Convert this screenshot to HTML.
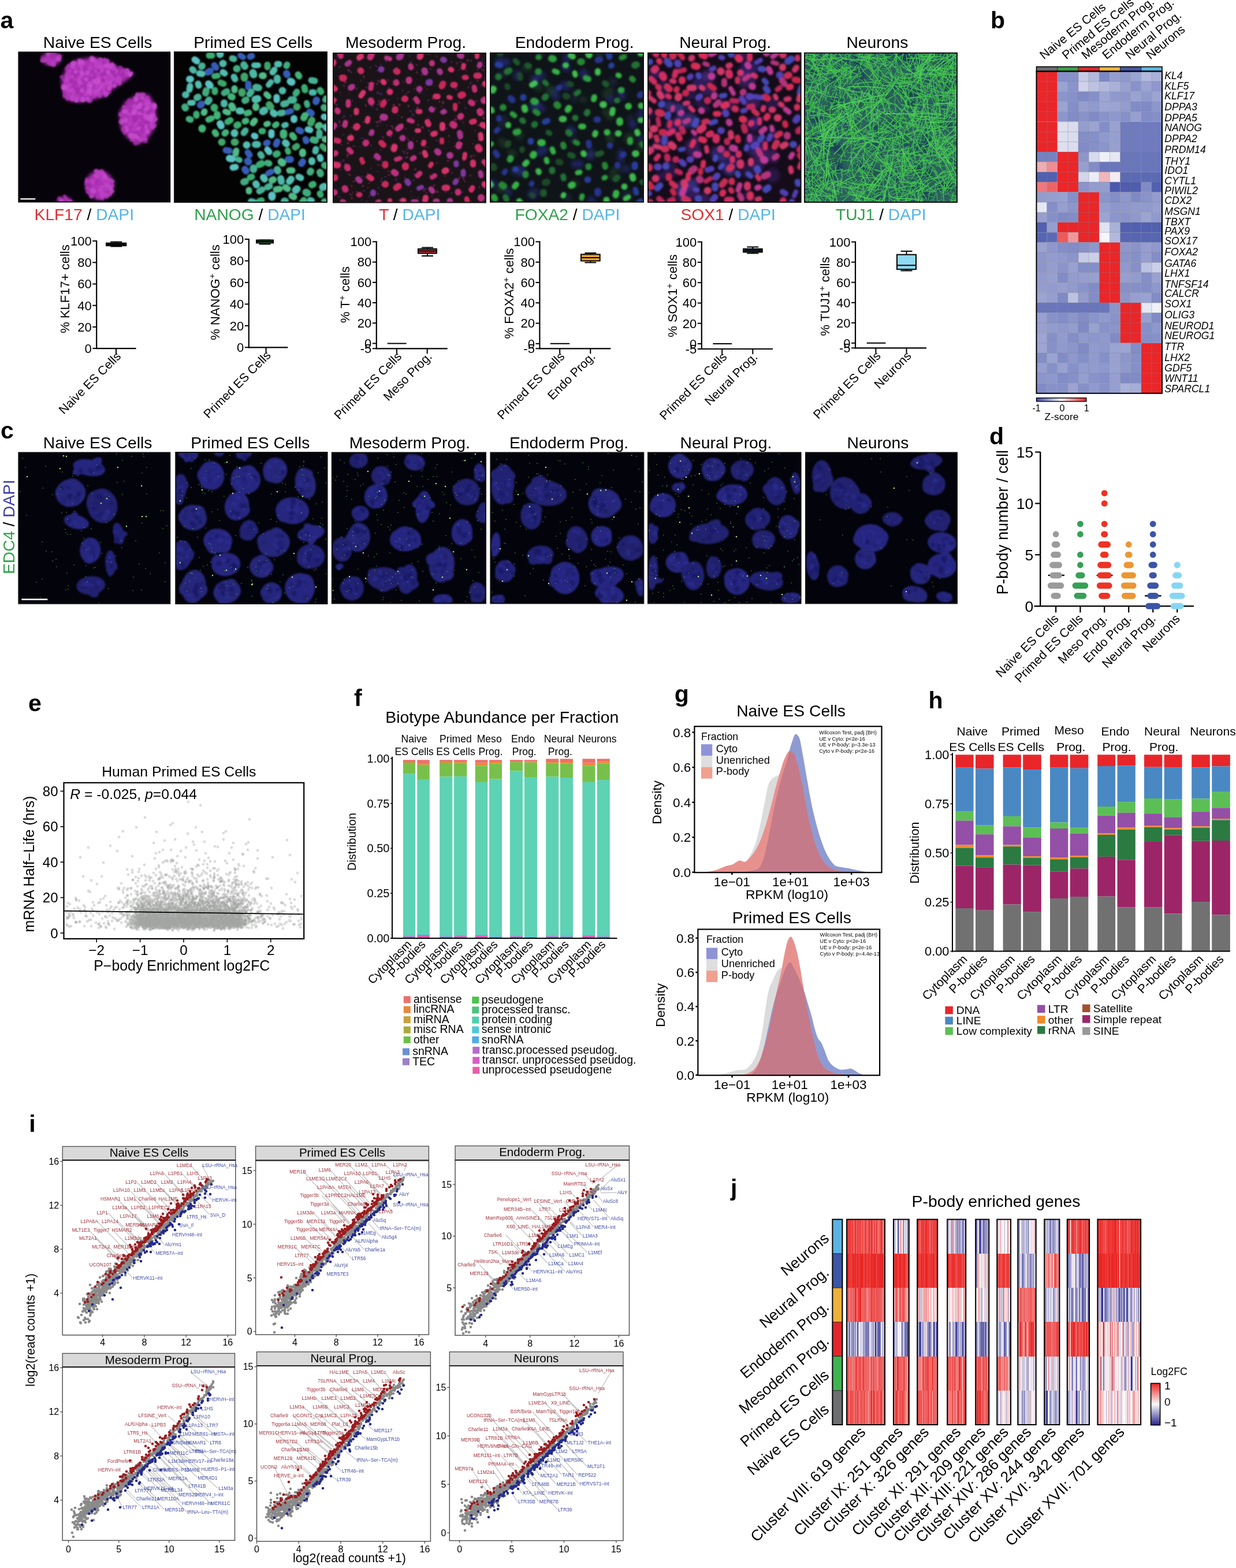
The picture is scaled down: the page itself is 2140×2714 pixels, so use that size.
<!DOCTYPE html><html><head><meta charset="utf-8"><title>Figure</title><style>html,body{margin:0;padding:0;background:#fff;width:2140px;height:2714px;overflow:hidden}svg{display:block}</style></head><body><svg width="2140" height="2714" viewBox="0 0 2140 2714" font-family="'Liberation Sans', Arial, Helvetica, sans-serif"><defs><filter id="bl1" x="-10%" y="-10%" width="120%" height="120%"><feGaussianBlur stdDeviation="1"/></filter><filter id="bl15" x="-10%" y="-10%" width="120%" height="120%"><feGaussianBlur stdDeviation="1.6"/></filter><filter id="bl2" x="-20%" y="-20%" width="140%" height="140%"><feGaussianBlur stdDeviation="3"/></filter><clipPath id="c1"><rect x="32.3" y="90.3" width="262" height="259.2"/></clipPath><clipPath id="c2"><rect x="302" y="90" width="264" height="260"/></clipPath><clipPath id="c3"><rect x="577" y="92" width="264" height="258.5"/></clipPath><clipPath id="c4"><rect x="849" y="91.7" width="265" height="258"/></clipPath><clipPath id="c5"><rect x="1122" y="91.7" width="264.6" height="258.3"/></clipPath><clipPath id="c6"><rect x="1393" y="91.7" width="264" height="258.3"/></clipPath><clipPath id="c7"><rect x="32.3" y="783.4" width="262" height="261.3"/></clipPath><clipPath id="c8"><rect x="304.2" y="783" width="262.4" height="262"/></clipPath><clipPath id="c9"><rect x="574.8" y="783.4" width="266.2" height="261"/></clipPath><clipPath id="c10"><rect x="849.4" y="783.4" width="264.9" height="261"/></clipPath><clipPath id="c11"><rect x="1122" y="783.4" width="264.6" height="261"/></clipPath><clipPath id="c12"><rect x="1395" y="783.4" width="262" height="261"/></clipPath><linearGradient id="zg"><stop offset="0" stop-color="#3b4ca6"/><stop offset="0.5" stop-color="#f4f4fa"/><stop offset="1" stop-color="#ea2628"/></linearGradient><clipPath id="ce"><rect x="110.5" y="1354.8" width="415.7" height="270.1"/></clipPath><linearGradient id="jg" x1="0" y1="0" x2="0" y2="1"><stop offset="0" stop-color="#ea2624"/><stop offset="0.5" stop-color="#faf8fa"/><stop offset="1" stop-color="#26268c"/></linearGradient></defs><rect width="2140" height="2714" fill="#fff"/><text x="0.5" y="48.5" font-size="41" font-weight="bold">a</text>
<text x="169.1" y="82.5" font-size="28.3" text-anchor="middle">Naive ES Cells</text>
<text x="438.2" y="82.5" font-size="28.3" text-anchor="middle">Primed ES Cells</text>
<text x="702.6" y="82.5" font-size="28.3" text-anchor="middle">Mesoderm Prog.</text>
<text x="994.7" y="82.5" font-size="28.3" text-anchor="middle">Endoderm Prog.</text>
<text x="1255.6" y="82.5" font-size="28.3" text-anchor="middle">Neural Prog.</text>
<text x="1518.9" y="82.5" font-size="28.3" text-anchor="middle">Neurons</text>
<rect x="32.3" y="90.3" width="262" height="259.2" fill="#07030a" />
<g clip-path="url(#c1)">
<g filter="url(#bl2)">
<path d="M106.3 139.3 115.3 116.3 131.3 104.3 158.3 99.3 186.3 104.3 201.3 115.3 217.3 121.3 229.3 125.3 223.3 136.3 209.3 145.3 194.3 155.3 178.3 167.3 155.3 174.3 132.3 176.3 115.3 173.3 109.3 159.3Z" fill="#aa2eb2" />
<path d="M206.3 195.3 217.3 176.3 240.3 162.3 258.3 164.3 269.3 185.3 271.3 207.3 263.3 229.3 251.3 245.3 235.3 249.3 220.3 238.3 209.3 221.3Z" fill="#aa2eb2" />
<path d="M196.3 320.3 194.5 329.9 189.3 338 181.5 343.4 172.3 345.3 163.1 343.4 155.3 338 150.1 329.9 148.3 320.3 150.1 310.7 155.3 302.6 163.1 297.2 172.3 295.3 181.5 297.2 189.3 302.6 194.5 310.7Z" fill="#aa2eb2" />
<path d="M72.3 96.3 82.3 91.3 98.3 90.3 104.3 98.3 102.3 110.3 90.3 113.3 77.3 111.3Z" fill="#aa2eb2" />
<path d="M97.3 352.3 102.3 343.3 112.3 340.3 122.3 344.3 125.3 352.3Z" fill="#aa2eb2" />
</g>
<g filter="url(#bl1)">
<path d="M85 109l3 2m22 42l3 2m0-17l0.1 0m3.9 29l0 1m3-52l-1-2m1 10l-2 1m3 18l2 1m7 22l1 3m0-31l-1 1m5 10l-1 0m3-1l0.1 0m5.9-41l3 2m-2 37l1 3m1-38l-1 0m4 17l0.1 0m0.9 31l2 1m-1 165l0 1m3-177l-1 4m9 3l3 1m-3 167l1 0m2-161l-2 3m10-4l0 4m1-63l0 2m0 203l1 0m3 6l3 2m-1-185l0 1m3 16l-1 2m5 168l-1 3m4-175l1 1m0 189l-1 0m23-215l-3 1m15 91l1 2m1-88l1 0m3 96l3 2m0 17l0.1 0m14.9-9l0 1m2-41l-1-1m3 6l-1 0m2-23l1 4m-1 21l2 1m6-10l-1-1m4-4l0 4m0 1l-4 1m7 25l-1 1" stroke="#b83cc0" stroke-width="7" stroke-linecap="round" fill="none" opacity="0.75"/>
<path d="M107 133l3 3m20-16l0-1m3 34l1 1m0-13l-1 1m16-21l-1-1m9 8l-1 1m1 187l2 2m1-160l0 1m2 1l-4 1m4 146l-1 4m4-194l3 2m2-13l0 2m2 49l-2 0m4-53l0.1 0m1.9 20l-2 1m5 181l-2 0m5-168l0 1m4 9l0 3m28-23l-1 1m4 100l-1 1m4-107l-4 1m11 73l0-1m3 12l-1 1m6 22l1 0m9-42l3 1m9-8l-2 1m9 28l-2 1" stroke="#a02ca8" stroke-width="7" stroke-linecap="round" fill="none" opacity="0.75"/>
<path d="M84 98l0 1m4-9l-1 1m1 14l0.1 0m-0.1 0l0.1 0m4.9-1l0.1 0m9.9 240l1 2m8-189l0 2m0 6l0 1m9-7l0-1m11-40l1 1m1 53l3 1m14 138l0 3m3 18l0.1 0m9.9-206l0.1 0m3.9 18l0.1 0m4.9-11l0 1m7 168l-1 1m7-161l0 1m2 169l0-1m4-173l0.1 0m14.9-3l-2 1m15 79l-2 2m3-16l2 0m-1-72l2 1m4 107l0.1 0m9.9 0l1 1m0-29l2 0m-1-37l-2 0m12 68l0.1 0m4.9-69l0-1m11 17l-1 0m1 21l0.1 0" stroke="#b035b8" stroke-width="8" stroke-linecap="round" fill="none" opacity="0.75"/>
<path d="M91 107l0.1 0m19.9 45l2 0m2-5l-1 0m2-16l0 1m10 38l0 2m32-59l1 2m0 217l0.1 0m0.9-218l-1 0m6 191l0 1m5-177l0-1m3-24l2 1m-1 219l-2 1m3-174l1 1m0 155l1 1m9 5l-1 0m24-115l0.1 0m5.9-12l0.1 0m29.9-7l-2 1m8-5l0.1 0m0.9 3l0 2m2 7l0 1m0 36l0 1m2-49l-1 0m4 9l0 1m5 11l1 1" stroke="#b83cc0" stroke-width="8" stroke-linecap="round" fill="none" opacity="0.75"/>
<path d="M77 104l-4 1m39 47l4 0m4-20l4 1m2-19l1 2m5 8l-1 0m3-8l2 3m1 20l1 3m1-25l1 2m2 37l0 1m9 15l0-1m4-54l2 1m0 213l0 1m1-183l-2 0m3 190l-1 1m3-27l-2 0m9-162l0.1 0m2.9-37l1 2m-1 33l2 2m-2 0l0 1m3-39l0 1m1 34l-1 0m3-24l0 1m1 176l2 2m-1 21l3 2m0-212l0 1m14-1l0 2m5 7l-1 1m1 11l1 1m17 86l0 4m9-47l2 3m-2 52l0.1 0m11.9 4l-2 2m4-44l1 0m0-15l1 3m0 58l-1 0m3-71l1 2" stroke="#c850d0" stroke-width="7" stroke-linecap="round" fill="none" opacity="0.75"/>
<path d="M83 106l-1-1m5-1l3 2m3-10l-3 3m9 3l-3 0m20 16l3 0m-2 9l2 0m1 224l-1 0m2-220l1 0m-1 7l0 4m0 22l1 1m0 2l0 3m3-3l3 3m0 0l-3 2m8-59l0 2m12 22l-3 0m8-27l3 2m-2 24l1 3m3 195l2 2m4-172l2 2m4-50l0.1 0m0.9-6l1 0m2 232l-1 0m3-7l-2-1m4-34l-1 2m1 40l0.1 0m3.9-213l0 1m1 195l1 2m4 2l0.1 0m9.9-8l-1 0m4-206l0 2m28 82l-1 0m4-21l1 1m6 31l1 3m7 23l0 2m12-59l0.1 0" stroke="#b035b8" stroke-width="7" stroke-linecap="round" fill="none" opacity="0.75"/>
<path d="M74 101l0.1 0m17.9-8l1 1m44 26l0.1 0m2.9 7l-2 1m14 203l0.1 0m1.9-11l2 1m0-181l1 0m7-37l0 1m0 5l0-1m2 188l1 2m3-188l2 2m12 44l0.1 0m3.9 1l1 2m6-37l2 2m1-7l-1 0m24 5l-3 0m6 76l-2 2m3-25l-1-1m4 5l1 0m4 29l-2 2m3-14l-1 2m2 50l0.1 0m3.9-2l0.1 0m12.9-52l0.1 0m-0.1 48l0 2" stroke="#a02ca8" stroke-width="8" stroke-linecap="round" fill="none" opacity="0.75"/>
<path d="M107 347l-1 1m28-177l-2 4m17-38l1 1m5-12l4 3m-3 33l1 0m13-27l2 1m-2 20l1 1m15-52l0 5m5 31l-1 2m4-26l-3 0m4-6l-3 1m7 36l-1 1m33 46l-1 2m11 24l-2 2m3 6l0 2m11-13l-1 1m4-42l-3 1m7 28l2 4m3-27l3 1" stroke="#c850d0" stroke-width="6" stroke-linecap="round" fill="none" opacity="0.75"/>
<path d="M103 98l-1 1m17 58l0.1 0m35.9 15l0 2m6-33l1 1m12 184l-1 2m10-165l0 1m5 159l0.1 0m14.9-188l0 1m3 2l-1 0m59 82l0.1 0" stroke="#c044c8" stroke-width="9" stroke-linecap="round" fill="none" opacity="0.75"/>
<path d="M124 140l0.1 0m36.9 188l1 0m0-203l0.1 0m45.9-7l-1 1m27 125l1 1m7-14l0.1 0m23.9-50l1 1" stroke="#a02ca8" stroke-width="9" stroke-linecap="round" fill="none" opacity="0.75"/>
<path d="M118 134l0 1m3 214l1 1m17-244l0.1 0m20.9 208l0 1m8-207l0.1 0m1.9 39l0.1 0m5.9 155l2 0m24-164l0 1m13 66l0.1 0m37.9-26l-1 1m8 23l0 1m3-3l0.1 0" stroke="#b83cc0" stroke-width="9" stroke-linecap="round" fill="none" opacity="0.75"/>
<path d="M112 340l3 4m0-176l2 3m-1-27l3 0m13-34l-1 3m18 11l-4 1m15-10l-1 3m10 206l2 0m0-27l1 2m2 17l-2 3m8 22l-3 3m51-120l-1 2" stroke="#b035b8" stroke-width="6" stroke-linecap="round" fill="none" opacity="0.75"/>
<path d="M119 147l2 0m2 204l-1 1m11-180l-1 1m4-31l4 2m-1-11l-2 1m33 1l0 5m4-30l-1 5m2 214l2 3m1-186l2 1m1-44l2 2m3 56l-1 3m6-17l1 1m16-4l-1 1m10 45l3 1m13-8l3 4m-1 28l-1 2m15-26l2 1m7-13l1 2m5 26l-1 4m5-5l-3 0" stroke="#c044c8" stroke-width="6" stroke-linecap="round" fill="none" opacity="0.75"/>
<path d="M100 103l3 0m13 35l-1 1m10 17l-1-1m3 5l0.1 0m9.9-55l1 3m2 15l1 1m7 39l2 0m0 152l0 1m10-212l1 1m3 54l1 1m0-53l-1 1m1 15l0.1 0m1.9-11l3 2m-3 183l2 1m-1-184l-1 1m1 35l4 0m-2-7l-1 1m7 193l2 2m2-192l0.1 0m0.9 12l0 1m1 177l-2 0m4-201l-1-1m4 203l-2 2m4-210l2 1m2 182l2 1m-2 10l-1 1m3-191l3 0m0-15l-1 0m1 13l-2 4m17 69l-1 0m2-12l0-1m6-70l1 2m3 3l0.1 0m-0.1 71l-1 0m4 8l1 0m1 31l1 1m3-52l0.1 0m1.9 9l-1 1m13 21l0.1 0m6.9-35l-3 3" stroke="#c044c8" stroke-width="7" stroke-linecap="round" fill="none" opacity="0.75"/>
<path d="M144 172l0 1m41-67l0.1 0m28.9 118l0 1m12-16l0.1 0" stroke="#b035b8" stroke-width="9" stroke-linecap="round" fill="none" opacity="0.75"/>
<path d="M135 166l-2 1m20-37l3 1m1-16l-2 4m6 197l0 2m9-169l-2 3m12-1l0 3m11-17l-3 1m29-14l1 4m9 84l-3 3m7 24l-3 3m13-34l-1 2m8 7l-1 1m1 22l4 0m0-66l2 1m7 6l4 1m-4 34l2 3m0-9l3 0" stroke="#b83cc0" stroke-width="6" stroke-linecap="round" fill="none" opacity="0.75"/>
<path d="M83 92l0.1 0m9.9 19l0 1m26 7l0.1 0m5.9-9l1 2m-1 56l0 1m17-61l1 1m11 48l0 1m7-55l1 2m5 199l1 1m0-145l-3 0m11-43l0.1 0m-0.1 180l1 2m0-176l0 1m7 197l0.1 0m0.9-178l0 2m8-30l1 0m54 49l-3 0m3 30l1 2m7-19l-1 1m1 29l1 0m4 6l0.1 0m2.9-14l1 1m4 6l-2 0" stroke="#c044c8" stroke-width="8" stroke-linecap="round" fill="none" opacity="0.75"/>
<path d="M88 99l5 0m26 19l-4 2m25 53l-2 1m11-27l-5 1m6 170l-1 1m6-193l-1 3m4 40l0 2m23-45l-4 2m22 3l1 2m12 71l4 2m-1-17l4 1m5-14l-4 2m6 57l1 1m4-31l4 3m8-34l4 1m-3 16l3 2m-3 24l4 1m0-33l4 1m3 25l2 2m1-23l3 2m5 13l-1 1" stroke="#a02ca8" stroke-width="6" stroke-linecap="round" fill="none" opacity="0.75"/>
<path d="M128 109l-1 1m14-1l-2 0m13 17l0.1 0m2.9 19l-1 2m2 9l-1 2m6 171l2 2m2-191l0 2m5-2l1 1m11 166l0.1 0m4.9-193l0.1 0m-0.1 10l0 1m2 28l0.1 0m3.9 177l1 1m23-123l1 0m7-80l0 1m1 106l0-1m8 1l-2 0m3-65l0 2m3-8l0.1 0m13.9 38l0.1 0m2.9-15l-1 1m1 40l0.1 0m3.9-26l-1 3m4 1l0.1 0m5.9-23l0 2" stroke="#c850d0" stroke-width="8" stroke-linecap="round" fill="none" opacity="0.75"/>
<path d="M110 150l0 1m32-23l0.1 0m0.9 44l0.1 0m15.9-71l0 2m51 108l0.1 0m6.9-18l0.1 0m15.9 0l-1 0m8-8l0.1 0m22.9 17l0.1 0" stroke="#c850d0" stroke-width="9" stroke-linecap="round" fill="none" opacity="0.75"/>
</g>
<line x1="35.3" y1="344.3" x2="61.3" y2="344.3" stroke="#fff" stroke-width="2.2" />
</g>
<rect x="32.3" y="90.3" width="262" height="259.2" fill="none" stroke="#111" stroke-width="2" />
<rect x="302" y="90" width="264" height="260" fill="#030303" />
<g clip-path="url(#c2)">
<g filter="url(#bl1)">
<path d="M340 197l0 3m22-104l5 0m5 60l0 3m27 49l-5 3m42 95l-3 1m20 40l-4 1m6-121l-2 0m74-76l1 5m26 0l2 3m-2 176l1 2" stroke="#3cb878" stroke-width="11" stroke-linecap="round" fill="none" opacity="0.93"/>
<path d="M349 180l-2 2m17-59l-4 2m64 168l2 3m70-169l1 2m2 147l4 0m21 4l-2 3m14-89l3 2m9-23l-1 3" stroke="#3a64c4" stroke-width="12" stroke-linecap="round" fill="none" opacity="0.93"/>
<path d="M337 103l4 3m67 183l-5 1m37-55l2 1m21 23l3 4m4-34l0 5m9-66l0 5m54 51l4 1m17 47l1 3m6-73l2 1" stroke="#60d0d0" stroke-width="11" stroke-linecap="round" fill="none" opacity="0.93"/>
<path d="M371 113l3 4m17 143l6 1m32 3l3 4m-2-123l0 6m6-54l-3 1m30 149l-2 1m19-3l-2 5m39-25l4 2m8 14l1 3" stroke="#3a64c4" stroke-width="11" stroke-linecap="round" fill="none" opacity="0.93"/>
<path d="M401 183l2 4m40-3l0 2m13-55l-2 0m19 180l-2 1m53-49l0 3m29-49l-2 1m14 23l-2 0" stroke="#56c890" stroke-width="12" stroke-linecap="round" fill="none" opacity="0.93"/>
<path d="M414 192l3 0m26 126l1 2m12-13l2 3m15-115l2 2m19 50l2 2m8 61l-3 4m39-36l0 2m24-60l3 3" stroke="#58cabc" stroke-width="12" stroke-linecap="round" fill="none" opacity="0.93"/>
<path d="M343 168l-2 1m9-55l-1 1m13 58l-2 3m62-64l2 3m19 36l5 1m32 141l1 3m11 52l2 0m1-169l-4 1" stroke="#4cbca0" stroke-width="12" stroke-linecap="round" fill="none" opacity="0.93"/>
<path d="M402 101l3 1m20 124l-3 4m13-71l-3 4m19 104l2 3m1 58l-5 3m18-9l-4 2m27-129l-5 1m54-57l6 1m8 89l0 6" stroke="#4cbca0" stroke-width="11" stroke-linecap="round" fill="none" opacity="0.93"/>
<path d="M384 246l0.1 0m21.9 0l1 0m12-87l0 2m4-29l0 3m91 50l0.1 0" stroke="#46b070" stroke-width="13" stroke-linecap="round" fill="none" opacity="0.93"/>
<path d="M320 185l1 2m36-30l-1 4m69 153l-3 1m4-142l-2 1m114 122l-1 2m5-56l4 1m8 55l1 3m6-115l1 1" stroke="#44b888" stroke-width="12" stroke-linecap="round" fill="none" opacity="0.93"/>
<path d="M329 149l-1 6m15-10l1 3m1-21l5 1m36-3l3 2m86-6l-3 4m11-14l-3 0m37 195l4 2" stroke="#58cabc" stroke-width="11" stroke-linecap="round" fill="none" opacity="0.93"/>
<path d="M321 164l1 0m66 14l0 2m47 169l4 1m3-100l4 0m34-115l0 4m6 170l1 5" stroke="#52c4b4" stroke-width="12" stroke-linecap="round" fill="none" opacity="0.93"/>
<path d="M354 193l-1 2m53-42l0 3m3 105l-1 5m23 63l0 2m10-122l-3 4m46 114l-6 1m16-4l4 3m3-32l5 0m-1 44l4 2" stroke="#56c890" stroke-width="11" stroke-linecap="round" fill="none" opacity="0.93"/>
<path d="M466 181l3 4m71 23l-2 5" stroke="#46b070" stroke-width="12" stroke-linecap="round" fill="none" opacity="0.93"/>
<path d="M469 142l-4 5m30 69l-3 1" stroke="#52c4b4" stroke-width="10" stroke-linecap="round" fill="none" opacity="0.93"/>
<path d="M333 120l2 2m70 11l2 4m133 23l3 0m4 98l-1 4" stroke="#52c4b4" stroke-width="11" stroke-linecap="round" fill="none" opacity="0.93"/>
<path d="M382 143l5 2m76-33l0 4m51 137l-3 2" stroke="#46b070" stroke-width="11" stroke-linecap="round" fill="none" opacity="0.93"/>
<path d="M412 276l3 1" stroke="#4cbca0" stroke-width="10" stroke-linecap="round" fill="none" opacity="0.93"/>
<path d="M366 205l-5 2m11 22l2 3m17-3l-2 2m37-22l-2 1m7-15l-4 1m79 38l3 4m7-109l2 3" stroke="#48c080" stroke-width="11" stroke-linecap="round" fill="none" opacity="0.93"/>
<path d="M327 206l3 1m63-49l-5 3m75 121l3 1m31-171l-1 2m18 45l-2 3" stroke="#44b888" stroke-width="11" stroke-linecap="round" fill="none" opacity="0.93"/>
<path d="M334 178l-5 0m111-65l7 0m90 233l3 1" stroke="#58cabc" stroke-width="10" stroke-linecap="round" fill="none" opacity="0.93"/>
<path d="M386 110l0.1 0m51.9 16l1 3m19 62l-3 2m34-36l0.1 0" stroke="#52c4b4" stroke-width="13" stroke-linecap="round" fill="none" opacity="0.93"/>
<path d="M416 96l5 3m49 198l-6 3m40-108l-6 2" stroke="#3a64c4" stroke-width="10" stroke-linecap="round" fill="none" opacity="0.93"/>
<path d="M410 119l0.1 0m119.9 214l2 1" stroke="#44b888" stroke-width="13" stroke-linecap="round" fill="none" opacity="0.93"/>
<path d="M330 137l-2 0m33 8l3 3m17 66l2 4m14 56l5 1m107-70l0 2" stroke="#60d0d0" stroke-width="12" stroke-linecap="round" fill="none" opacity="0.93"/>
<path d="M390 193l5 2m66-32l4 4m-1 47l-3 1" stroke="#56c890" stroke-width="10" stroke-linecap="round" fill="none" opacity="0.93"/>
<path d="M412 216l-2 1m43 66l-4 2m31-19l-2 1m64 52l-2 1m22-34l2 1" stroke="#3cb878" stroke-width="12" stroke-linecap="round" fill="none" opacity="0.93"/>
<path d="M471 338l0 3m32-200l2 1" stroke="#60d0d0" stroke-width="13" stroke-linecap="round" fill="none" opacity="0.93"/>
<path d="M350 222l0 1m141 7l0 4" stroke="#48c080" stroke-width="13" stroke-linecap="round" fill="none" opacity="0.93"/>
<path d="M377 131l-6 1m127 128l1 3" stroke="#3cb878" stroke-width="10" stroke-linecap="round" fill="none" opacity="0.93"/>
<path d="M558 253l5 5" stroke="#46b070" stroke-width="10" stroke-linecap="round" fill="none" opacity="0.93"/>
<path d="M376 198l0 3m24-34l2 1m124 179l-3 4m5-151l-2 4" stroke="#48c080" stroke-width="12" stroke-linecap="round" fill="none" opacity="0.93"/>
<path d="M381 94l0.1 0m24.9 136l0 1m21 20l0.1 0m18.9-80l-4 1m72 155l-2 2m49-6l-2 1" stroke="#58cabc" stroke-width="13" stroke-linecap="round" fill="none" opacity="0.93"/>
<path d="M487 280l2 2" stroke="#56c890" stroke-width="13" stroke-linecap="round" fill="none" opacity="0.93"/>
<path d="M429 279l1 1" stroke="#3a64c4" stroke-width="13" stroke-linecap="round" fill="none" opacity="0.93"/>
<path d="M531 178l1 4m32-12l-1 3" stroke="#44b888" stroke-width="10" stroke-linecap="round" fill="none" opacity="0.93"/>
<path d="M371 186l0 1" stroke="#3cb878" stroke-width="13" stroke-linecap="round" fill="none" opacity="0.93"/>
<path d="M479 215l-3 2m85 131l3 1" stroke="#48c080" stroke-width="10" stroke-linecap="round" fill="none" opacity="0.93"/>
<path d="M439 291l0 2m69-120l-4 0" stroke="#4cbca0" stroke-width="13" stroke-linecap="round" fill="none" opacity="0.93"/>
</g>
</g>
<rect x="302" y="90" width="264" height="260" fill="none" stroke="#111" stroke-width="2" />
<rect x="577" y="92" width="264" height="258.5" fill="#1a1418" />
<g clip-path="url(#c3)">
<path d="M583 187l0 1m10 16l0.1 0m2.9-55l-1-1m3 136l-1 0m12-49l2 0m5-40l-1 0m3-42l-1 1m16 27l1 3m4 25l-2 2m3 106l0.1 0m0.9-84l-1 0m15-52l0.1 0m-0.1 155l1 0m1-51l-2 1m8-49l2 1m-2 81l-1 2m16-103l3 1m0 2l0 1m11 124l0 1m15-83l-1 2m2-24l-1-1m12 63l0-1m4-59l0 1m34 37l0.1 0m25.9 52l0.1 0m7.9-121l0 2m5 26l0 1m1 65l-1 2m6-199l-1 1m15 193l-1 0m11-203l0-1m4 117l-2 0m4-85l-1 0m4-40l0.1 0" stroke="#6a2040" stroke-width="3" stroke-linecap="round" fill="none" opacity="0.70"/>
<path d="M604 302l2 1m1-71l1 1m5 81l-1 0m17-103l0.1 0m0.9-79l0 2m23 11l0 1m8 39l0-1m5-12l0.1 0m7.9 131l-1 0m9-122l-1 1m16 34l0-1m1 47l0.1 0m2.9 46l0.1 0m20.9-183l0 1m5 34l-1 1m1 104l0 1m7 64l0.1 0m2.9-3l0.1 0m9.9-180l-1 0m6 174l-1 1m3-134l0-1m7-11l0.1 0m29.9-67l0 1m12 199l-1 0m23-134l0.1 0m1.9-35l0.1 0m0.9 51l0.1 0m3.9 8l0.1 0m4.9-78l-1 0m4 14l-1 0" stroke="#5a2038" stroke-width="4" stroke-linecap="round" fill="none" opacity="0.70"/>
<path d="M580 237l0 2m8-106l-2-1m3-17l-1 2m3 99l-1 1m17-102l-2-1m6 139l4 0m3 78l-1 1m5-233l-1 0m2 155l0.1 0m8.9-154l-3 2m3 179l-1-2m7-135l-1-1m5 108l1 2m4 20l-1 0m5-10l0.1 0m7.9-4l0 1m1-74l-1 0m2-2l-3 1m7 3l0-1m6 43l-1 0m14-37l-2 2m18 85l-1 0m13 61l0.1 0m7.9-229l3 1m12 37l0.1 0m6.9 56l1 1m1 97l0-1m11-44l0.1 0m8.9-66l-2 1m15 23l0.1 0m9.9 36l-1 1m1 26l-2 3m15-87l-1 1m4 95l0.1 0m-0.1 20l3 3m11-46l-1 1m6 16l2 2m-1-63l-1 2m10 4l2 2m6-124l-1 0" stroke="#6a2040" stroke-width="2" stroke-linecap="round" fill="none" opacity="0.70"/>
<path d="M582 97l0 2m0 4l-2 1m10 114l-4 1m10 13l-3 2m11-72l0.1 0m1.9 37l2 3m2-29l1 3m15 129l2 0m-1 40l-1 2m27-185l4 0m-3 171l0 1m4-223l2 1m-2 89l3 1m2 36l2 0m3 68l-2-1m9-54l0.1 0m5.9-27l0.1 0m6.9-36l-2-2m4 14l-1-1m17 39l0-1m7-131l-1 1m1 87l-1 0m6-3l0-1m13-29l0 1m5 92l-1 1m16 46l1 3m-1 15l0 2m7-95l0 3m3 109l0.1 0m8.9-149l-1-1m6 91l-1 0m4-34l-1 0m19-125l-2 2m10 43l-1 0m4 104l-2-2m8 59l-3 1m24-179l-2 1m3-48l0 1m1 3l-1 1" stroke="#402060" stroke-width="2" stroke-linecap="round" fill="none" opacity="0.70"/>
<path d="M579 179l0.1 0m18.9-37l-1 0m29 132l0.1 0m71.9 13l0.1 0m58.9 45l0.1 0m9.9-155l0 1m7 115l0.1 0m13.9-86l1 0m13 69l1 1" stroke="#6a2040" stroke-width="5" stroke-linecap="round" fill="none" opacity="0.70"/>
<path d="M583 181l0 1m12 95l-1 1m2-76l0-1m11-77l1 1m24 118l0.1 0m8.9-126l0.1 0m3.9 67l-1 0m9 5l-1 0m7 23l0.1 0m0.9 102l0.1 0m2.9-116l-2 0m7-93l1 1m4 46l0 1m4 84l0.1 0m8.9 73l0 2m15-49l-1 2m8-106l-1 0m2-42l-1 2m6 79l0.1 0m0.9 0l1 2m0 112l0.1 0m13.9-182l0.1 0m4.9 198l0.1 0m7.9-102l0 1m31-33l-1 1m4-27l-1 0m1 128l0.1 0m11.9-142l1 1m10 178l-1 0m9 12l-1 1" stroke="#402060" stroke-width="4" stroke-linecap="round" fill="none" opacity="0.70"/>
<path d="M586 209l2 0m-1 131l-1 0m2-180l0.1 0m2.9 120l-1 0m14 12l1 1m5-72l-1 0m12-116l-1 0m6 134l1 1m2-142l0 2m1 140l0.1 0m-0.1 90l0 1m5 17l0 2m5-11l-1 1m11-227l2 2m2 8l-1-1m1 175l0.1 0m0.9-80l-2 1m3 107l-1 0m6-46l0.1 0m11.9-106l-1 0m7 20l0.1 0m12.9 25l0-1m3-44l0-1m2 100l-1 3m2-173l-2 0m14 6l1 1m0 83l-1 0m4-21l0 1m3 129l1 1m6-201l-1 0m5-3l2 1m12 104l0.1 0m0.9-30l-2 1m7 107l0.1 0m6.9-38l2 1m8-59l0.1 0m8.9 37l-1 1m10-116l-2 0m8 84l-1 2m8 8l0.1 0m0.9-94l1 0m4 7l1 1m4 72l-2 0m11-83l0 2m0 37l-2 2m10 108l0 1m3-134l0 1m0 70l2 1m8-78l2 1m1 14l0.1 0" stroke="#402060" stroke-width="3" stroke-linecap="round" fill="none" opacity="0.70"/>
<path d="M578 294l-1 1m23-82l-1-1m3 58l-1 2m4-150l0.1 0m0.9 214l-1 0m3 1l1 1m0-17l0 2m1 10l0.1 0m21.9-26l1 0m2-156l-1 0m2 149l0.1 0m0.9 25l0.1 0m4.9-150l2 1m-2 115l0.1 0m4.9-148l1 1m12 143l0.1 0m0.9 22l0 1m2-65l0.1 0m8.9-107l0 2m1 157l-1-1m4-193l-1 0m6 42l-1 1m7-29l-1 0m2 53l0.1 0m-0.1 105l0 1m3 2l0.1 0m2.9-40l-1 1m1 87l0 1m3-171l0 1m7 5l-1 0m6-65l0.1 0m9.9 74l0.1 0m4.9 171l0.1 0m2.9-241l0 1m12 231l-1 0m3-239l2 0m1 25l2 1m10-23l1 1m0 234l-1-1m3-163l-1 2m9 127l-1 2m5 5l-1 1m2 26l0 2m6-97l-1-2m6 65l-1 0m14-133l3 1m-2 80l2 2m1-1l0 1m3-37l-1 0m7-120l1 1m1 59l0-1m8 98l0.1 0m1.9 20l0 1m9 54l0 1m9-109l-1 1" stroke="#5a2038" stroke-width="3" stroke-linecap="round" fill="none" opacity="0.70"/>
<path d="M654 160l0.1 0m2.9 20l0.1 0m2.9-18l0 1m134-69l0.1 0" stroke="#402060" stroke-width="5" stroke-linecap="round" fill="none" opacity="0.70"/>
<path d="M589 341l-1 1m3-49l-2 1m3-43l-1-1m34-112l0 3m42 171l0.1 0m2.9-95l-1 0m5 38l1 0m5-114l-1 0m20 0l0 2m4 79l0 2m0 34l3 1m5-123l0-2m0 197l1 1m3 17l-1 0m2-109l-1 0m2-87l0 2m21-1l1 0m2 101l-2 0m9 29l-3 1m3 55l0-1m32-46l-1 0m10-93l0 1m7 131l-1 2m8-104l0 1m5-108l-2-2m22 79l0.1 0m1.9 41l-2 2m6-8l-2 3m7 112l1 0" stroke="#5a2038" stroke-width="2" stroke-linecap="round" fill="none" opacity="0.70"/>
<path d="M588 211l0 1m2-81l1 0m10 137l2 0m-1-21l1 1m0-127l1 1m5 221l0.1 0m16.9-224l-1 0m4 203l-1 0m24-111l1 1m2-72l1 1m2 68l-2 1m35-66l0.1 0m-0.1 37l1 1m4 21l0.1 0m8.9 69l-2 1m4-90l0 1m5 20l0 1m11-19l-1 1m9 33l1 1m17-50l0.1 0m26.9 107l0.1 0m18.9-100l0.1 0m41.9-3l0.1 0" stroke="#6a2040" stroke-width="4" stroke-linecap="round" fill="none" opacity="0.70"/>
<path d="M657 175l0 1m62 117l0.1 0m4.9-77l0.1 0m85.9-112l0 1m0 30l0.1 0m5.9 136l-1 0m22-67l1 1" stroke="#5a2038" stroke-width="5" stroke-linecap="round" fill="none" opacity="0.70"/>
<g filter="url(#bl1)">
<path d="M581 265l-1 1m4-75l1 2m4-99l1 3m66 253l-2 1m21-121l-1 1m12-89l0 2m129 33l3 2" stroke="#d8307e" stroke-width="10" stroke-linecap="round" fill="none" opacity="0.88"/>
<path d="M620 310l3 3m88-64l0 5m36-65l1 1m13-67l1 2m34-29l3 1m-3 133l1 6" stroke="#b8389c" stroke-width="10" stroke-linecap="round" fill="none" opacity="0.88"/>
<path d="M621 337l2 0m184-203l-3 0m4 210l1 4" stroke="#e02c68" stroke-width="9" stroke-linecap="round" fill="none" opacity="0.88"/>
<path d="M598 212l-1 5m114-103l1 3m5 156l-3 2" stroke="#d0348a" stroke-width="9" stroke-linecap="round" fill="none" opacity="0.88"/>
<path d="M660 247l4 4m1-74l-2 4" stroke="#e02a62" stroke-width="10" stroke-linecap="round" fill="none" opacity="0.88"/>
<path d="M576 151l4 3m59 152l4 3m115-142l-4 0m67 43l-4 1" stroke="#e8306e" stroke-width="10" stroke-linecap="round" fill="none" opacity="0.88"/>
<path d="M597 326l1 2m3-39l1 2m32-44l-1 1m9-74l1 3m0-82l-2 4m152 234l0-1m5-131l-1 1" stroke="#d8307e" stroke-width="11" stroke-linecap="round" fill="none" opacity="0.88"/>
<path d="M626 276l2 5m137-39l0 4m23-64l0 6" stroke="#e02a62" stroke-width="8" stroke-linecap="round" fill="none" opacity="0.88"/>
<path d="M577 108l-1 2m107 144l-1 4m46-162l-1 2" stroke="#f03878" stroke-width="11" stroke-linecap="round" fill="none" opacity="0.88"/>
<path d="M669 100l6 2" stroke="#d0348a" stroke-width="8" stroke-linecap="round" fill="none" opacity="0.88"/>
<path d="M624 122l1 1m59 66l0 2m2-68l2 1m2 198l-4 3m99-178l2 0m42-16l-4 0" stroke="#e02c68" stroke-width="11" stroke-linecap="round" fill="none" opacity="0.88"/>
<path d="M675 347l0 5m130-85l-1 6m22-182l0 7" stroke="#ec3472" stroke-width="8" stroke-linecap="round" fill="none" opacity="0.88"/>
<path d="M740 211l2 4m11 16l-3 1m69 49l0 4" stroke="#ec3472" stroke-width="10" stroke-linecap="round" fill="none" opacity="0.88"/>
<path d="M579 333l0.1 0m102.9-35l3 2m23-162l0 2m87 110l-1 3" stroke="#d0348a" stroke-width="11" stroke-linecap="round" fill="none" opacity="0.88"/>
<path d="M579 217l-2 3m117-1l-5 4m59-114l0 1" stroke="#d0348a" stroke-width="10" stroke-linecap="round" fill="none" opacity="0.88"/>
<path d="M593 349l2 1m8-174l0 6m1 77l4 4m35-117l-1 7m78 18l3 5m4 124l-4 4m98-153l1 5m16 124l4 4" stroke="#d8307e" stroke-width="9" stroke-linecap="round" fill="none" opacity="0.88"/>
<path d="M605 108l-4 3m43 117l-1 3m126-38l-2 1m65 105l1 5" stroke="#b8389c" stroke-width="9" stroke-linecap="round" fill="none" opacity="0.88"/>
<path d="M618 219l-1 1m211 35l2 3" stroke="#e8306e" stroke-width="12" stroke-linecap="round" fill="none" opacity="0.88"/>
<path d="M610 150l-3 2m45 118l3 3" stroke="#c0369a" stroke-width="10" stroke-linecap="round" fill="none" opacity="0.88"/>
<path d="M697 239l0.1 0m28.9-85l0.1 0m30.9 108l2 2m20 84l0 1" stroke="#c0369a" stroke-width="11" stroke-linecap="round" fill="none" opacity="0.88"/>
<path d="M692 274l-6 2m22-68l6 2m39 94l-5 3" stroke="#d8307e" stroke-width="8" stroke-linecap="round" fill="none" opacity="0.88"/>
<path d="M790 282l0 3m0 28l-2 3m14-19l0 5" stroke="#8a3cb0" stroke-width="9" stroke-linecap="round" fill="none" opacity="0.88"/>
<path d="M746 327l3 4m8 17l-3 0m77-237l-1 3" stroke="#c0369a" stroke-width="9" stroke-linecap="round" fill="none" opacity="0.88"/>
<path d="M660 120l0.1 0m83.9 22l-2 1" stroke="#8a3cb0" stroke-width="11" stroke-linecap="round" fill="none" opacity="0.88"/>
<path d="M580 307l0 1m87-24l0 2m100-141l-2 4" stroke="#e02a62" stroke-width="11" stroke-linecap="round" fill="none" opacity="0.88"/>
<path d="M694 96l-3 3m44 23l1 3" stroke="#b8389c" stroke-width="11" stroke-linecap="round" fill="none" opacity="0.88"/>
<path d="M646 333l0 2m59-21l2 3m60-214l2 1" stroke="#8a3cb0" stroke-width="10" stroke-linecap="round" fill="none" opacity="0.88"/>
<path d="M608 239l-2 0m19-142l-3 3m115 242l-1 5m30-131l0 6m69-6l5 2" stroke="#f03878" stroke-width="10" stroke-linecap="round" fill="none" opacity="0.88"/>
<path d="M724 193l3 0m7 53l-1 3m85 76l-2 4" stroke="#e8306e" stroke-width="9" stroke-linecap="round" fill="none" opacity="0.88"/>
<path d="M595 135l-2 0m208 29l-3 1" stroke="#e02a62" stroke-width="12" stroke-linecap="round" fill="none" opacity="0.88"/>
<path d="M629 160l-4 6m12 39l-1 5m27-69l2 2m32 204l2 0m36-83l2 5m43-149l2 1m50 112l1 7" stroke="#f03878" stroke-width="9" stroke-linecap="round" fill="none" opacity="0.88"/>
<path d="M667 319l0.1 0m33.9-148l0.1 0m0.9 116l0 2" stroke="#e02c68" stroke-width="12" stroke-linecap="round" fill="none" opacity="0.88"/>
<path d="M580 285l5 1m90-127l0.1 0m96.9 136l-2 1m69 23l3 2" stroke="#ec3472" stroke-width="11" stroke-linecap="round" fill="none" opacity="0.88"/>
<path d="M730 324l-5 2" stroke="#8a3cb0" stroke-width="8" stroke-linecap="round" fill="none" opacity="0.88"/>
<path d="M833 342l0 1m6-170l-1 1" stroke="#d0348a" stroke-width="12" stroke-linecap="round" fill="none" opacity="0.88"/>
<path d="M770 325l4 0m66-180l3 1" stroke="#e8306e" stroke-width="11" stroke-linecap="round" fill="none" opacity="0.88"/>
<path d="M663 203l3 0" stroke="#c0369a" stroke-width="12" stroke-linecap="round" fill="none" opacity="0.88"/>
<path d="M784 215l2 2m45-24l1 2" stroke="#d8307e" stroke-width="12" stroke-linecap="round" fill="none" opacity="0.88"/>
<path d="M582 243l4 1" stroke="#e02c68" stroke-width="10" stroke-linecap="round" fill="none" opacity="0.88"/>
<path d="M721 349l-6 0" stroke="#c0369a" stroke-width="8" stroke-linecap="round" fill="none" opacity="0.88"/>
<path d="M747 284l-2 3m32-119l3 1m23-56l-1 4" stroke="#e8306e" stroke-width="8" stroke-linecap="round" fill="none" opacity="0.88"/>
<path d="M617 191l0 4" stroke="#ec3472" stroke-width="9" stroke-linecap="round" fill="none" opacity="0.88"/>
<path d="M722 226l3 0" stroke="#f03878" stroke-width="8" stroke-linecap="round" fill="none" opacity="0.88"/>
<path d="M779 269l0.1 0" stroke="#b8389c" stroke-width="12" stroke-linecap="round" fill="none" opacity="0.88"/>
<path d="M579 173l-2 2" stroke="#e02c68" stroke-width="8" stroke-linecap="round" fill="none" opacity="0.88"/>
</g>
</g>
<rect x="577" y="92" width="264" height="258.5" fill="none" stroke="#111" stroke-width="2" />
<rect x="849" y="91.7" width="265" height="258" fill="#0f1418" />
<g clip-path="url(#c4)">
<g filter="url(#bl2)">
<path d="M909 118l6 1m148 175l-3 12" stroke="#1e3a2a" stroke-width="11" stroke-linecap="round" fill="none" opacity="0.60"/>
<path d="M995 159l-1 14m2 68l-5 3" stroke="#1c2a40" stroke-width="10" stroke-linecap="round" fill="none" opacity="0.60"/>
<path d="M923 136l-1 0" stroke="#1c2a40" stroke-width="12" stroke-linecap="round" fill="none" opacity="0.60"/>
<path d="M1024 264l-5 3m42-126l0 1" stroke="#1c2a40" stroke-width="15" stroke-linecap="round" fill="none" opacity="0.60"/>
<path d="M869 246l5 3m122 69l-1 1m42-227l0 2m13 100l7 7m-2 33l2 9" stroke="#1e3a2a" stroke-width="14" stroke-linecap="round" fill="none" opacity="0.60"/>
<path d="M925 334l-3 2" stroke="#262a78" stroke-width="18" stroke-linecap="round" fill="none" opacity="0.60"/>
<path d="M1054 159l-3 4m39 74l0 6" stroke="#1e3a2a" stroke-width="17" stroke-linecap="round" fill="none" opacity="0.60"/>
<path d="M959 164l4 4m122 124l1 1m30-55l-5 1" stroke="#262a78" stroke-width="12" stroke-linecap="round" fill="none" opacity="0.60"/>
<path d="M873 207l-4 9m26 79l-6 1m94 45l0 2" stroke="#1c2a40" stroke-width="14" stroke-linecap="round" fill="none" opacity="0.60"/>
<path d="M874 328l-9 0m24-62l-4-2" stroke="#1e3a2a" stroke-width="13" stroke-linecap="round" fill="none" opacity="0.60"/>
<path d="M923 180l-1 8m92-54l0-5m63 161l-2 3m17-89l-1 2" stroke="#1c2a40" stroke-width="13" stroke-linecap="round" fill="none" opacity="0.60"/>
<path d="M876 108l-1 0m66 151l-6 4m44-116l1 2m0-32l-1-2" stroke="#2a2f8a" stroke-width="15" stroke-linecap="round" fill="none" opacity="0.60"/>
<path d="M880 330l2 5" stroke="#262a78" stroke-width="10" stroke-linecap="round" fill="none" opacity="0.60"/>
<path d="M1085 338l3 0" stroke="#1c2a40" stroke-width="18" stroke-linecap="round" fill="none" opacity="0.60"/>
<path d="M936 131l-3 1" stroke="#262a78" stroke-width="17" stroke-linecap="round" fill="none" opacity="0.60"/>
<path d="M926 138l2 6" stroke="#2a2f8a" stroke-width="11" stroke-linecap="round" fill="none" opacity="0.60"/>
<path d="M876 127l-10 3m71-36l-1 1" stroke="#1c2a40" stroke-width="11" stroke-linecap="round" fill="none" opacity="0.60"/>
<path d="M865 105l-1 1m74 82l-3-1m123-15l-1 0" stroke="#262a78" stroke-width="14" stroke-linecap="round" fill="none" opacity="0.60"/>
<path d="M980 99l2 2m5 123l4 3m3 57l11 0m70-124l2 7m-2 97l0 11" stroke="#2a2f8a" stroke-width="12" stroke-linecap="round" fill="none" opacity="0.60"/>
<path d="M960 159l-1 1m51-33l0.1 0" stroke="#262a78" stroke-width="16" stroke-linecap="round" fill="none" opacity="0.60"/>
<path d="M1023 270l0-2m92-75l-6 5" stroke="#262a78" stroke-width="15" stroke-linecap="round" fill="none" opacity="0.60"/>
<path d="M854 319l-2-3m78-135l-5 1m99 168l0-4m72-131l-1 1" stroke="#2a2f8a" stroke-width="13" stroke-linecap="round" fill="none" opacity="0.60"/>
<path d="M896 128l-1 5" stroke="#262a78" stroke-width="13" stroke-linecap="round" fill="none" opacity="0.60"/>
<path d="M897 229l2 5m33-83l-1 0m178 100l3 4" stroke="#1e3a2a" stroke-width="15" stroke-linecap="round" fill="none" opacity="0.60"/>
<path d="M953 156l1 1" stroke="#1e3a2a" stroke-width="18" stroke-linecap="round" fill="none" opacity="0.60"/>
<path d="M900 296l3 1" stroke="#2a2f8a" stroke-width="17" stroke-linecap="round" fill="none" opacity="0.60"/>
<path d="M1009 172l1 1" stroke="#1e3a2a" stroke-width="12" stroke-linecap="round" fill="none" opacity="0.60"/>
</g>
<g filter="url(#bl15)">
<path d="M854 154l-1 2m247 110l1 0" stroke="#44d456" stroke-width="12" stroke-linecap="round" fill="none" opacity="0.85"/>
<path d="M913 113l3 1m71 154l5 2m49-5l-6 2m12-123l3 2m62 169l1 1" stroke="#1e6030" stroke-width="10" stroke-linecap="round" fill="none" opacity="0.85"/>
<path d="M863 133l0.1 0m238.9-21l-3 1" stroke="#23803a" stroke-width="12" stroke-linecap="round" fill="none" opacity="0.85"/>
<path d="M862 224l-3 3m16 69l-2 3m48 18l-1 2" stroke="#2a3aa0" stroke-width="9" stroke-linecap="round" fill="none" opacity="0.85"/>
<path d="M858 264l3 5m3-65l0 2m105-55l-2 1m52 95l1 5m49 33l0 2m11-20l-2 1" stroke="#2a3aa0" stroke-width="10" stroke-linecap="round" fill="none" opacity="0.85"/>
<path d="M1014 135l5 2m72 105l0 4" stroke="#34b444" stroke-width="10" stroke-linecap="round" fill="none" opacity="0.85"/>
<path d="M851 249l-2 1m38-53l4 3m117 139l-1 4m41-36l-2 1" stroke="#34b444" stroke-width="9" stroke-linecap="round" fill="none" opacity="0.85"/>
<path d="M855 341l2 3m27-70l-1 2m14-48l-4 1m182-73l1 0" stroke="#34b444" stroke-width="11" stroke-linecap="round" fill="none" opacity="0.85"/>
<path d="M869 320l3 2m-1-136l0.1 0m60.9-62l0.1 0m31.9 57l2 2m41-76l-2 0" stroke="#2a9a3a" stroke-width="12" stroke-linecap="round" fill="none" opacity="0.85"/>
<path d="M849 318l1 2m30-104l0 1m19 131l2 3m11-70l-3 3m23 12l1 2m47-185l-1 0m9-17l4 2m18 167l1 2m20-37l-1 3m31-43l-1 6m51 12l-2 0" stroke="#44d456" stroke-width="10" stroke-linecap="round" fill="none" opacity="0.85"/>
<path d="M862 112l4 1m40 55l0 1m13 75l0 1m98 66l1 0m36-218l1 5m44 187l0 4m12 60l-4 1" stroke="#2c44b0" stroke-width="11" stroke-linecap="round" fill="none" opacity="0.85"/>
<path d="M985 187l-2 3m68 39l0.1 0m15.9 105l-1 4m45-155l-1 0" stroke="#3ccc4c" stroke-width="11" stroke-linecap="round" fill="none" opacity="0.85"/>
<path d="M894 319l-3 4m115-104l4 0m19-51l-1 4" stroke="#3ccc4c" stroke-width="10" stroke-linecap="round" fill="none" opacity="0.85"/>
<path d="M882 122l-4 2m48 91l-1 1m20-49l-2 2m13 125l0 2m28-67l2 2m10-27l0.1 0m20.9-10l-1 2" stroke="#23803a" stroke-width="11" stroke-linecap="round" fill="none" opacity="0.85"/>
<path d="M927 193l4 3m1-97l1 0m42 151l1 4m71 31l1 4m46-153l2 2" stroke="#2a9a3a" stroke-width="10" stroke-linecap="round" fill="none" opacity="0.85"/>
<path d="M892 105l4 4m53 120l3 2" stroke="#1e6030" stroke-width="9" stroke-linecap="round" fill="none" opacity="0.85"/>
<path d="M884 170l3 3m148 34l-2 0m6-104l-4 1m21 148l0.1 0m53.9-89l-2 2" stroke="#2a3aa0" stroke-width="11" stroke-linecap="round" fill="none" opacity="0.85"/>
<path d="M893 293l-1 0m56-84l-5 2m116-98l-1 1" stroke="#2c44b0" stroke-width="10" stroke-linecap="round" fill="none" opacity="0.85"/>
<path d="M865 92l2 0m13 156l-1 2m88 30l3 1m9-115l3 1" stroke="#1c5028" stroke-width="11" stroke-linecap="round" fill="none" opacity="0.85"/>
<path d="M924 267l-1 2m16-22l-3 0m55 73l-2 1m84-112l0 3m15-28l0.1 0" stroke="#3ccc4c" stroke-width="12" stroke-linecap="round" fill="none" opacity="0.85"/>
<path d="M908 186l1 4m67 16l-3 0m77 140l0 1m21-116l-1 0m11 92l0.1 0m13.9-18l1 4m15-217l-2 0" stroke="#44d456" stroke-width="11" stroke-linecap="round" fill="none" opacity="0.85"/>
<path d="M851 189l1 3m94 84l1 4m9-22l2 5m2-140l5 2m39 173l-4 1m70-169l2 1" stroke="#3ccc4c" stroke-width="9" stroke-linecap="round" fill="none" opacity="0.85"/>
<path d="M875 341l2 4m27-137l2 2m69 95l1 4m93-135l-1 0" stroke="#23803a" stroke-width="10" stroke-linecap="round" fill="none" opacity="0.85"/>
<path d="M976 337l-1 2m20-213l1 4" stroke="#48da5a" stroke-width="9" stroke-linecap="round" fill="none" opacity="0.85"/>
<path d="M1069 307l-3 3" stroke="#1e6030" stroke-width="11" stroke-linecap="round" fill="none" opacity="0.85"/>
<path d="M920 337l3 2" stroke="#1c5028" stroke-width="9" stroke-linecap="round" fill="none" opacity="0.85"/>
<path d="M1088 341l-5 3" stroke="#44d456" stroke-width="9" stroke-linecap="round" fill="none" opacity="0.85"/>
<path d="M1019 92l1 3m24 86l1 0" stroke="#48da5a" stroke-width="12" stroke-linecap="round" fill="none" opacity="0.85"/>
<path d="M926 144l-5 3m114-24l0 3m68 102l1 3" stroke="#48da5a" stroke-width="10" stroke-linecap="round" fill="none" opacity="0.85"/>
<path d="M1100 328l2 6" stroke="#2c44b0" stroke-width="9" stroke-linecap="round" fill="none" opacity="0.85"/>
<path d="M1035 331l0 3" stroke="#2a3aa0" stroke-width="12" stroke-linecap="round" fill="none" opacity="0.85"/>
<path d="M910 301l0 2m109-14l0-1" stroke="#2a9a3a" stroke-width="11" stroke-linecap="round" fill="none" opacity="0.85"/>
<path d="M924 175l3 1m28-75l3 1" stroke="#34b444" stroke-width="12" stroke-linecap="round" fill="none" opacity="0.85"/>
<path d="M854 288l1 2m92 25l-3 1" stroke="#1c5028" stroke-width="12" stroke-linecap="round" fill="none" opacity="0.85"/>
<path d="M878 149l1 2m21-21l1 5m3 123l0 2m82-115l3 1" stroke="#1c5028" stroke-width="10" stroke-linecap="round" fill="none" opacity="0.85"/>
<path d="M943 142l3 3m56 14l-4 3m113 87l3 3" stroke="#23803a" stroke-width="9" stroke-linecap="round" fill="none" opacity="0.85"/>
<path d="M941 333l0 2" stroke="#1e6030" stroke-width="12" stroke-linecap="round" fill="none" opacity="0.85"/>
<path d="M996 246l4 2m81-150l-5 2" stroke="#2a9a3a" stroke-width="9" stroke-linecap="round" fill="none" opacity="0.85"/>
</g>
</g>
<rect x="849" y="91.7" width="265" height="258" fill="none" stroke="#111" stroke-width="2" />
<rect x="1122" y="91.7" width="264.6" height="258.3" fill="#150c1a" />
<g clip-path="url(#c5)">
<g filter="url(#bl2)">
<path d="M1265 280l-6 6" stroke="#3a2a88" stroke-width="27" stroke-linecap="round" fill="none" opacity="0.60"/>
<path d="M1149 238l-17 18m76-79l15 11m84 102l8 4" stroke="#302060" stroke-width="13" stroke-linecap="round" fill="none" opacity="0.60"/>
<path d="M1223 155l8 0m75 24l-7-1" stroke="#4a2878" stroke-width="21" stroke-linecap="round" fill="none" opacity="0.60"/>
<path d="M1221 132l-14 13" stroke="#3a2a88" stroke-width="18" stroke-linecap="round" fill="none" opacity="0.60"/>
<path d="M1156 250l-6 3m97-75l24 8" stroke="#4a2878" stroke-width="12" stroke-linecap="round" fill="none" opacity="0.60"/>
<path d="M1295 338l3 4" stroke="#4a2878" stroke-width="15" stroke-linecap="round" fill="none" opacity="0.60"/>
<path d="M1246 268l-5-3" stroke="#4040a0" stroke-width="21" stroke-linecap="round" fill="none" opacity="0.60"/>
<path d="M1186 184l6 1" stroke="#302060" stroke-width="14" stroke-linecap="round" fill="none" opacity="0.60"/>
<path d="M1160 290l2 7m140-55l7 2m-7 45l-7 7" stroke="#302060" stroke-width="23" stroke-linecap="round" fill="none" opacity="0.60"/>
<path d="M1307 214l-2 3" stroke="#3a2a88" stroke-width="20" stroke-linecap="round" fill="none" opacity="0.60"/>
<path d="M1177 324l6 20" stroke="#4040a0" stroke-width="18" stroke-linecap="round" fill="none" opacity="0.60"/>
<path d="M1203 240l3 2" stroke="#4a2878" stroke-width="13" stroke-linecap="round" fill="none" opacity="0.60"/>
<path d="M1120 196l3 1m26-50l-1 17" stroke="#302060" stroke-width="19" stroke-linecap="round" fill="none" opacity="0.60"/>
<path d="M1300 118l-8 4" stroke="#3a2a88" stroke-width="25" stroke-linecap="round" fill="none" opacity="0.60"/>
<path d="M1219 344l0 1m6-214l4 3" stroke="#4a2878" stroke-width="20" stroke-linecap="round" fill="none" opacity="0.60"/>
<path d="M1195 325l7 10" stroke="#4a2878" stroke-width="17" stroke-linecap="round" fill="none" opacity="0.60"/>
<path d="M1301 245l1 16" stroke="#3a2a88" stroke-width="17" stroke-linecap="round" fill="none" opacity="0.60"/>
<path d="M1314 208l-13 3" stroke="#3a2a88" stroke-width="13" stroke-linecap="round" fill="none" opacity="0.60"/>
<path d="M1200 318l-11 1m75-24l0.1 0" stroke="#4040a0" stroke-width="19" stroke-linecap="round" fill="none" opacity="0.60"/>
<path d="M1195 208l-14 1" stroke="#4040a0" stroke-width="26" stroke-linecap="round" fill="none" opacity="0.60"/>
<path d="M1338 266l1 8" stroke="#4a2878" stroke-width="16" stroke-linecap="round" fill="none" opacity="0.60"/>
<path d="M1154 303l-13 3" stroke="#302060" stroke-width="15" stroke-linecap="round" fill="none" opacity="0.60"/>
<path d="M1163 215l0 7" stroke="#3a2a88" stroke-width="21" stroke-linecap="round" fill="none" opacity="0.60"/>
<path d="M1258 264l-20 1" stroke="#302060" stroke-width="16" stroke-linecap="round" fill="none" opacity="0.60"/>
<path d="M1196 161l-2 3m146 15l-6 0" stroke="#302060" stroke-width="20" stroke-linecap="round" fill="none" opacity="0.60"/>
<path d="M1198 254l4 8" stroke="#4a2878" stroke-width="25" stroke-linecap="round" fill="none" opacity="0.60"/>
<path d="M1318 263l-1 12" stroke="#4a2878" stroke-width="27" stroke-linecap="round" fill="none" opacity="0.60"/>
<path d="M1157 183l19 5" stroke="#4040a0" stroke-width="17" stroke-linecap="round" fill="none" opacity="0.60"/>
<path d="M1284 98l0 1" stroke="#4a2878" stroke-width="19" stroke-linecap="round" fill="none" opacity="0.60"/>
<path d="M1295 138l-5 0" stroke="#4a2878" stroke-width="28" stroke-linecap="round" fill="none" opacity="0.60"/>
<path d="M1131 124l7 5" stroke="#3a2a88" stroke-width="15" stroke-linecap="round" fill="none" opacity="0.60"/>
<path d="M1339 231l0 6" stroke="#302060" stroke-width="17" stroke-linecap="round" fill="none" opacity="0.60"/>
<path d="M1188 344l-1-2m151-39l0 1" stroke="#302060" stroke-width="25" stroke-linecap="round" fill="none" opacity="0.60"/>
<path d="M1294 169l-10 2" stroke="#302060" stroke-width="12" stroke-linecap="round" fill="none" opacity="0.60"/>
</g>
<g filter="url(#bl15)">
<path d="M1239 210l-8 3m8 59l-1 4m17-111l-6 1m44 88l-1 4m3 43l5 4m23-166l4 4m60 8l-3 9" stroke="#4a50c8" stroke-width="9" stroke-linecap="round" fill="none" opacity="0.88"/>
<path d="M1122 233l2 1m7-11l2 0m42-56l-1 2m51 161l0.1 0m22.9-207l0 1m99 80l-1 0" stroke="#e84070" stroke-width="13" stroke-linecap="round" fill="none" opacity="0.88"/>
<path d="M1181 138l0 2m21-26l5 1m8-20l5 2m38 84l-5 2m32 23l3 1m11 130l0 4" stroke="#f03060" stroke-width="12" stroke-linecap="round" fill="none" opacity="0.88"/>
<path d="M1202 292l-5 4m132 6l-6 3m40-71l0 2" stroke="#c83888" stroke-width="12" stroke-linecap="round" fill="none" opacity="0.88"/>
<path d="M1281 320l-3 9m20-93l0 6m46-149l-6 5m22 91l6 5m6 73l-3 5" stroke="#d040a0" stroke-width="9" stroke-linecap="round" fill="none" opacity="0.88"/>
<path d="M1163 140l4 1m137-11l4 2m7 212l-4 1m11-159l-1 4m30-10l3 2m12-11l-5 1m8 119l1 6" stroke="#e83a70" stroke-width="9" stroke-linecap="round" fill="none" opacity="0.88"/>
<path d="M1124 319l3 4m19-94l3 0m38-68l0.1 0m70.9 106l0.1 0m65.9-99l5 2" stroke="#e02850" stroke-width="12" stroke-linecap="round" fill="none" opacity="0.88"/>
<path d="M1155 271l1 4m9 71l-5 2m99-104l0 2m29-27l2 7m95-2l-3 3m7 27l-5 5" stroke="#d02860" stroke-width="11" stroke-linecap="round" fill="none" opacity="0.88"/>
<path d="M1192 302l-1 8m10-65l-3 7m20 29l-1 6m51-13l0 4" stroke="#f03060" stroke-width="9" stroke-linecap="round" fill="none" opacity="0.88"/>
<path d="M1211 310l1 1m36-53l0.1 0" stroke="#c83888" stroke-width="13" stroke-linecap="round" fill="none" opacity="0.88"/>
<path d="M1123 192l0.1 0m2.9 68l-3 2m12 47l0.1 0m81.9-88l-5 4m70 57l0 4" stroke="#e83a70" stroke-width="13" stroke-linecap="round" fill="none" opacity="0.88"/>
<path d="M1146 180l-1 1m8 106l0 1m2-182l4 5m107-18l0 1m45 198l1 3m18 30l-4 3m44-226l-6 4m9 144l1 0" stroke="#4a50c8" stroke-width="12" stroke-linecap="round" fill="none" opacity="0.88"/>
<path d="M1200 228l3 3m62-78l5 9m66 58l1 5" stroke="#d040a0" stroke-width="8" stroke-linecap="round" fill="none" opacity="0.88"/>
<path d="M1196 276l-2 0m18-109l-3 2m29 172l-4 5m8-42l-3 3m71-57l-5 3" stroke="#5848c8" stroke-width="11" stroke-linecap="round" fill="none" opacity="0.88"/>
<path d="M1184 328l-3 7m24-68l5 1m4-77l1 1m22-27l-1 2m26 44l1 2m31-101l2 3" stroke="#d040a0" stroke-width="11" stroke-linecap="round" fill="none" opacity="0.88"/>
<path d="M1278 100l2 2" stroke="#f03060" stroke-width="13" stroke-linecap="round" fill="none" opacity="0.88"/>
<path d="M1192 208l-6 3m110-79l-7 5" stroke="#c83888" stroke-width="9" stroke-linecap="round" fill="none" opacity="0.88"/>
<path d="M1150 94l0 1m24 116l-1 2m41 28l5 2m33 90l-1 2m78-134l-2 3m42-54l-3 1m14 34l0 1" stroke="#f03060" stroke-width="11" stroke-linecap="round" fill="none" opacity="0.88"/>
<path d="M1122 209l-1 9m18-12l2 10m89 93l-8 5" stroke="#d02860" stroke-width="8" stroke-linecap="round" fill="none" opacity="0.88"/>
<path d="M1165 186l-1 4m56-80l5 2m113-4l7 2" stroke="#c83888" stroke-width="8" stroke-linecap="round" fill="none" opacity="0.88"/>
<path d="M1244 177l-5 5m15-42l0 6m27 192l3 6m29-84l4 8m28 2l-4 3" stroke="#c83888" stroke-width="10" stroke-linecap="round" fill="none" opacity="0.88"/>
<path d="M1160 212l-1 6m5 112l3 5m9-243l6 8m31 195l0 4m171-30l5 7" stroke="#e02850" stroke-width="9" stroke-linecap="round" fill="none" opacity="0.88"/>
<path d="M1126 107l-5 1m30 131l-1 7m59-116l1 2m67 168l1 3m42-66l-4 5" stroke="#4a50c8" stroke-width="10" stroke-linecap="round" fill="none" opacity="0.88"/>
<path d="M1139 150l2 2m22 165l6 5m3-168l-1 2m3 77l3 7m47-30l-5 1m132 20l-6 4m42 49l-2 5" stroke="#e0305c" stroke-width="10" stroke-linecap="round" fill="none" opacity="0.88"/>
<path d="M1127 136l6 6m32 85l-7 4m12-107l-2 7m130-36l0 7" stroke="#e8306a" stroke-width="10" stroke-linecap="round" fill="none" opacity="0.88"/>
<path d="M1183 258l-5 1m73 27l-4 4" stroke="#4a50c8" stroke-width="8" stroke-linecap="round" fill="none" opacity="0.88"/>
<path d="M1140 270l-4 5m20-109l3 2m166 81l0 7m56-157l0 3" stroke="#e8306a" stroke-width="9" stroke-linecap="round" fill="none" opacity="0.88"/>
<path d="M1124 289l0 2m26-33l3 0m2-108l4 4m26 190l6 3m75-58l-3 3m103-162l-3 1" stroke="#e0305c" stroke-width="12" stroke-linecap="round" fill="none" opacity="0.88"/>
<path d="M1162 250l4 4m189-138l0 1" stroke="#e84070" stroke-width="12" stroke-linecap="round" fill="none" opacity="0.88"/>
<path d="M1135 119l-2 2m14 9l2 4m91 104l0 4m22-116l1 4" stroke="#e8306a" stroke-width="13" stroke-linecap="round" fill="none" opacity="0.88"/>
<path d="M1136 237l2 6m127 85l2 3m10-194l0 4m28 51l6 5" stroke="#e0305c" stroke-width="9" stroke-linecap="round" fill="none" opacity="0.88"/>
<path d="M1287 159l-1 1m68-21l4 6" stroke="#c83888" stroke-width="11" stroke-linecap="round" fill="none" opacity="0.88"/>
<path d="M1180 195l-2 1m59-105l-6 3m83 230l-3 1m13-102l-6 5m13-109l3 6" stroke="#d040a0" stroke-width="10" stroke-linecap="round" fill="none" opacity="0.88"/>
<path d="M1170 276l0.1 0" stroke="#d02860" stroke-width="12" stroke-linecap="round" fill="none" opacity="0.88"/>
<path d="M1184 316l2 5m96-195l0.1 0m11.9 194l0 4m62-229l-1 0" stroke="#e83a70" stroke-width="12" stroke-linecap="round" fill="none" opacity="0.88"/>
<path d="M1317 104l-7 4m68 224l-3 7" stroke="#5848c8" stroke-width="8" stroke-linecap="round" fill="none" opacity="0.88"/>
<path d="M1268 256l4 1m30-108l1 1m24-58l0-1" stroke="#d040a0" stroke-width="12" stroke-linecap="round" fill="none" opacity="0.88"/>
<path d="M1214 151l3 2m167 14l-1 6" stroke="#e84070" stroke-width="9" stroke-linecap="round" fill="none" opacity="0.88"/>
<path d="M1158 305l0 3m218-170l6 1" stroke="#e02850" stroke-width="11" stroke-linecap="round" fill="none" opacity="0.88"/>
<path d="M1142 162l3 5m49-15l7 0m159 98l-5 3" stroke="#e84070" stroke-width="11" stroke-linecap="round" fill="none" opacity="0.88"/>
<path d="M1120 335l4 0m56-55l4 4m12-152l-2 2m38 158l-7 2m130 38l5 3m11 14l1 2" stroke="#5848c8" stroke-width="10" stroke-linecap="round" fill="none" opacity="0.88"/>
<path d="M1204 328l3 1m29-211l-4 2m16-21l3 1m33 70l4 7m2 14l-4 1m22-25l10 2m16 66l-3 6" stroke="#5848c8" stroke-width="9" stroke-linecap="round" fill="none" opacity="0.88"/>
<path d="M1133 89l3 5m95 137l-4 2m32 113l7 0m13-80l0 2m22-55l-1 1m56 133l-1 2" stroke="#e8306a" stroke-width="11" stroke-linecap="round" fill="none" opacity="0.88"/>
<path d="M1140 289l-2 0m35-180l1 2m75 115l-1 0m8-31l1 2m43-30l-3 0m84 37l-3 4" stroke="#5848c8" stroke-width="12" stroke-linecap="round" fill="none" opacity="0.88"/>
<path d="M1265 230l1 7m34 41l0 5" stroke="#e84070" stroke-width="10" stroke-linecap="round" fill="none" opacity="0.88"/>
<path d="M1140 195l5 1m20-101l0 2" stroke="#e0305c" stroke-width="13" stroke-linecap="round" fill="none" opacity="0.88"/>
<path d="M1143 321l-5 5m19-128l-1 4m50 7l-3 7m35 105l0 5m79-207l4 1m5 33l3 4m52 158l1 3" stroke="#4a50c8" stroke-width="11" stroke-linecap="round" fill="none" opacity="0.88"/>
<path d="M1264 113l-3 1m118 3l-3 4" stroke="#e83a70" stroke-width="10" stroke-linecap="round" fill="none" opacity="0.88"/>
<path d="M1255 314l-5 6m17-7l0 2m5-127l2 1m71 58l-4 7" stroke="#e0305c" stroke-width="11" stroke-linecap="round" fill="none" opacity="0.88"/>
<path d="M1172 296l6 3m7-178l-8 2m90 51l9 1m74-23l-4 3" stroke="#d02860" stroke-width="9" stroke-linecap="round" fill="none" opacity="0.88"/>
<path d="M1125 169l8 6m58 3l-5 1m9 7l5 5m23 64l1 7" stroke="#e83a70" stroke-width="8" stroke-linecap="round" fill="none" opacity="0.88"/>
<path d="M1198 100l-1 1m141 89l-2 0" stroke="#e83a70" stroke-width="11" stroke-linecap="round" fill="none" opacity="0.88"/>
<path d="M1225 174l0.1 0" stroke="#d02860" stroke-width="13" stroke-linecap="round" fill="none" opacity="0.88"/>
<path d="M1232 132l0.1 0m89.9 144l2 1" stroke="#d040a0" stroke-width="13" stroke-linecap="round" fill="none" opacity="0.88"/>
<path d="M1134 253l8 2m200-89l2 4" stroke="#e84070" stroke-width="8" stroke-linecap="round" fill="none" opacity="0.88"/>
<path d="M1229 148l7 5m41 85l1 5m81-30l1 4" stroke="#e02850" stroke-width="10" stroke-linecap="round" fill="none" opacity="0.88"/>
<path d="M1121 160l2 1m1 188l3 1m14-6l6 6m33-128l3 6m120-44l-6 1" stroke="#d02860" stroke-width="10" stroke-linecap="round" fill="none" opacity="0.88"/>
<path d="M1141 105l1 2m102 90l-5 0" stroke="#f03060" stroke-width="10" stroke-linecap="round" fill="none" opacity="0.88"/>
<path d="M1311 305l3 5m1-103l0 6" stroke="#e8306a" stroke-width="8" stroke-linecap="round" fill="none" opacity="0.88"/>
<path d="M1350 130l0.1 0" stroke="#5848c8" stroke-width="13" stroke-linecap="round" fill="none" opacity="0.88"/>
<path d="M1209 344l0.1 0" stroke="#4a50c8" stroke-width="13" stroke-linecap="round" fill="none" opacity="0.88"/>
</g>
</g>
<rect x="1122" y="91.7" width="264.6" height="258.3" fill="none" stroke="#111" stroke-width="2" />
<rect x="1393" y="91.7" width="264" height="258.3" fill="#2a625c" />
<g clip-path="url(#c6)">
<g filter="url(#bl2)">
<path d="M1599 304l8 0m41-191l-13 1" stroke="#245a4a" stroke-width="11" stroke-linecap="round" fill="none" opacity="0.85"/>
<path d="M1648 277l0 8" stroke="#1a4452" stroke-width="8" stroke-linecap="round" fill="none" opacity="0.85"/>
<path d="M1401 302l0.1 0m67.9-207l-4 0m51 204l-5 0m73-102l4 3m39-69l0 5" stroke="#1c4a5a" stroke-width="15" stroke-linecap="round" fill="none" opacity="0.85"/>
<path d="M1483 156l-2 1m88 92l-1 0" stroke="#1c4a5a" stroke-width="12" stroke-linecap="round" fill="none" opacity="0.85"/>
<path d="M1462 210l4 9m19-126l-15 3m23 218l-3 16m91-212l-5 14m20 167l3 9m2-11l8 5m-7-7l8 7" stroke="#1c4a5a" stroke-width="9" stroke-linecap="round" fill="none" opacity="0.85"/>
<path d="M1398 231l0.1 0m20.9 76l1 1m3-206l-8 2m214 24l-2 8m9-36l0.1 0" stroke="#245a4a" stroke-width="16" stroke-linecap="round" fill="none" opacity="0.85"/>
<path d="M1465 102l-6 0m27 26l6 3m149 194l-3 4" stroke="#163a58" stroke-width="14" stroke-linecap="round" fill="none" opacity="0.85"/>
<path d="M1423 275l1 0m18-102l2 5m8 114l-1 2m82-194l2 0m22 54l6 2m22 97l-6 10" stroke="#1a4452" stroke-width="12" stroke-linecap="round" fill="none" opacity="0.85"/>
<path d="M1424 260l0 6m88-84l-4 11m34-95l-4 4m31 62l-7 4m77 145l0 6" stroke="#1a4452" stroke-width="10" stroke-linecap="round" fill="none" opacity="0.85"/>
<path d="M1546 304l9 6m23-131l-1 2m17 144l4 9m46-196l-5 7" stroke="#1a4452" stroke-width="13" stroke-linecap="round" fill="none" opacity="0.85"/>
<path d="M1394 173l6 9" stroke="#245a4a" stroke-width="14" stroke-linecap="round" fill="none" opacity="0.85"/>
<path d="M1511 301l1 10m17-147l7 5m-4-27l-12 3m114 69l-7 1" stroke="#245a4a" stroke-width="13" stroke-linecap="round" fill="none" opacity="0.85"/>
<path d="M1421 199l-5 14m106 104l-8 9" stroke="#245a4a" stroke-width="9" stroke-linecap="round" fill="none" opacity="0.85"/>
<path d="M1434 193l-1 1m46 27l2 8m105 64l7 4m7-148l2 2" stroke="#245a4a" stroke-width="17" stroke-linecap="round" fill="none" opacity="0.85"/>
<path d="M1564 211l-7 2" stroke="#245a4a" stroke-width="10" stroke-linecap="round" fill="none" opacity="0.85"/>
<path d="M1577 159l-2 2" stroke="#1a4452" stroke-width="18" stroke-linecap="round" fill="none" opacity="0.85"/>
<path d="M1406 321l2 2m215-150l7 8m10-14l0.1 0" stroke="#163a58" stroke-width="12" stroke-linecap="round" fill="none" opacity="0.85"/>
<path d="M1458 256l-1 14m40-87l-10 3m72 53l-10 1m85-80l0 5" stroke="#245a4a" stroke-width="12" stroke-linecap="round" fill="none" opacity="0.85"/>
<path d="M1442 275l0.1 0m118.9-137l1 1m57-31l-2-1" stroke="#245a4a" stroke-width="15" stroke-linecap="round" fill="none" opacity="0.85"/>
<path d="M1452 288l1 2m126 30l0.1 0m0.9-217l4 1m56 108l-1 3" stroke="#163a58" stroke-width="15" stroke-linecap="round" fill="none" opacity="0.85"/>
<path d="M1590 164l-4 1m14 170l6 3m28-17l-3 2" stroke="#1a4452" stroke-width="15" stroke-linecap="round" fill="none" opacity="0.85"/>
<path d="M1411 119l4 3m69-24l0 4m124 33l2 12" stroke="#1c4a5a" stroke-width="13" stroke-linecap="round" fill="none" opacity="0.85"/>
<path d="M1509 153l-1 9m8 74l5 11m-5 6l9 9m11 39l-8 4" stroke="#1c4a5a" stroke-width="11" stroke-linecap="round" fill="none" opacity="0.85"/>
<path d="M1432 253l8 1m76-37l0 4m91 64l-14 8" stroke="#163a58" stroke-width="9" stroke-linecap="round" fill="none" opacity="0.85"/>
<path d="M1584 134l-12 7m26 204l-10 7" stroke="#245a4a" stroke-width="8" stroke-linecap="round" fill="none" opacity="0.85"/>
<path d="M1415 239l-4 1m245-108l0 1" stroke="#163a58" stroke-width="13" stroke-linecap="round" fill="none" opacity="0.85"/>
<path d="M1443 308l-7 5m81 27l-10 10m89-240l5 11m40 33l-6 6" stroke="#163a58" stroke-width="8" stroke-linecap="round" fill="none" opacity="0.85"/>
<path d="M1415 241l2 7m225-134l-8 2" stroke="#1a4452" stroke-width="9" stroke-linecap="round" fill="none" opacity="0.85"/>
<path d="M1450 257l0 1m157-22l0 9m35-138l-3 0" stroke="#163a58" stroke-width="16" stroke-linecap="round" fill="none" opacity="0.85"/>
<path d="M1522 256l-5 0m13 80l0 3" stroke="#1c4a5a" stroke-width="16" stroke-linecap="round" fill="none" opacity="0.85"/>
<path d="M1415 123l-6 0m38 53l7 7" stroke="#1a4452" stroke-width="16" stroke-linecap="round" fill="none" opacity="0.85"/>
<path d="M1453 123l-1 2m21 77l-1 0m125 54l7 2" stroke="#1a4452" stroke-width="17" stroke-linecap="round" fill="none" opacity="0.85"/>
<path d="M1394 145l6 1" stroke="#1c4a5a" stroke-width="10" stroke-linecap="round" fill="none" opacity="0.85"/>
<path d="M1553 209l-10 6m65 86l1 9" stroke="#1a4452" stroke-width="11" stroke-linecap="round" fill="none" opacity="0.85"/>
<path d="M1484 103l3 11m0 170l8 6" stroke="#163a58" stroke-width="11" stroke-linecap="round" fill="none" opacity="0.85"/>
<path d="M1444 137l0 1" stroke="#1a4452" stroke-width="14" stroke-linecap="round" fill="none" opacity="0.85"/>
<path d="M1545 150l-2 0" stroke="#163a58" stroke-width="10" stroke-linecap="round" fill="none" opacity="0.85"/>
<path d="M1411 203l2 1m145-107l8 2" stroke="#163a58" stroke-width="17" stroke-linecap="round" fill="none" opacity="0.85"/>
<path d="M1609 185l7 12" stroke="#1c4a5a" stroke-width="8" stroke-linecap="round" fill="none" opacity="0.85"/>
</g>
<path d="M1409 253l5-8l5-8M1546 362l3-5l5-4M1667 137l6 9l9 5M1462 193l10-6l10-5M1538 296l5-1l5 0M1537 123l6 9l2 10M1501 280l-11-10l-13-7M1597 180l14 2l14 0M1504 230l8-10l9-9M1451 131l-6 1l-5 3M1441 148l-11-9l-14-4M1636 239l-5 1l-5-1M1537 73l-8-10l-10-8M1471 293l-8 2l-8 1M1373 163l6-1l6 2M1560 308l12-7l12-8M1613 294l6 2l4 5M1444 355l-2 6l-2 7M1544 139l9 5l10 1M1397 237l-4 8l-6 7M1500 248l-12 7l-13 3M1537 311l9 8l6 11M1574 188l-6-7l-3-8M1426 282l5 4l3 5M1447 233l-1 6l-1 6M1459 204l9-12l3-14M1519 73l-11-3l-11-2M1650 204l-8 7l-9 5M1439 320l10-5l10-3M1439 241l-7-11l-6-12M1442 302l5-9l3-10M1504 344l-6 5l-5 6M1619 96l-12 6l-13 2M1654 84l1-5l3-5M1477 198l4 2l4 0M1627 135l3-10l-3-10M1594 266l-13 6l-13 5M1421 346l-6 0l-5-2M1457 240l-6 4l-6 3M1557 305l4-10l8-7M1669 261l0 6l2 5M1564 241l1-8l2-8M1623 261l1-12l-2-12M1409 245l5 6l7 3M1639 281l4 2l4 0M1396 356l6-1l5-2M1440 170l-8-12l-5-14M1659 98l-14 5l-14 5M1672 171l-5 0l-4 2M1593 167l8 0l7-3M1437 106l9-9l6-11M1398 215l-7-4l-8-4M1511 238l12-7l13-5M1650 171l-12-7l-12-6M1449 197l-9 2l-8 5M1514 72l4-3l3-4M1432 261l3 4l2 5M1547 266l0-11l-5-10M1516 331l-6-3l-7-1M1543 286l-12-4l-9-8M1592 249l2-7l2-7M1475 346l3-5l1-5M1488 317l-5 2l-5 2M1571 119l3 5l0 6M1466 202l-15 2l-14 4M1396 235l1 12l-1 12M1596 303l2-14l0-14M1647 366l6 1l6 1M1426 197l0 9l3 8M1623 156l2 3l1 4M1429 142l-9-1l-8-4M1536 105l-11 0l-11 3M1645 266l-5 5l-6 3M1516 144l13 4l14 2M1660 133l-7-11l-11-7M1646 310l7 1l7-1M1441 85l-2 14l4 13M1621 154l1-10l-2-10M1560 314l-4 9l1 10M1557 238l-5 3l-6 1M1422 162l-13-6l-13-6M1670 257l0 5l1 4M1486 112l1 9l4 8M1395 91l-1-8l3-7M1599 300l-2-7l-4-6M1376 196l-8-11l-5-12M1660 159l-13 2l-13 2M1591 354l-6-1l-6 2M1647 74l2-6l1-6M1639 267l-8-4l-9-2M1639 248l4-4l4-4M1431 118l4-5l4-4M1656 358l4-13l0-14M1463 355l-3 5l-4 4M1486 104l2-6l-1-6M1556 163l-2-4l-2-3M1658 202l6-8l7-7M1511 90l14 4l14 6M1520 206l-2-13l4-12M1512 170l1 9l1 9M1540 197l4-4l4-4M1572 308l8 0l8 3M1516 136l3-9l2-9M1576 365l-11-9l-10-9M1606 115l-6 5l-6 5M1436 216l7 10l3 11M1598 128l12-2l12 3M1431 210l7-2l8-2M1515 137l-2-4l-2-3M1640 99l1-6l0-6M1507 369l-3-5l-5-4M1646 330l3 5l0 6M1530 133l5 0l5 1M1485 177l0-9l-3-8M1621 162l-10-7l-11-6M1520 179l-4-7l-7-5M1547 200l5 10l0 11M1675 83l8 9l4 11M1590 265l5 8l5 9M1649 338l12 2l11 2M1473 248l10 3l10 3M1592 368l7 0l6 3M1511 333l-5-2l-4-3M1561 152l1-7l1-7M1593 177l-7 9l-4 10M1628 155l-5-8l-6-8M1601 222l-5 11l-8 10M1609 218l8-13l13-7M1585 236l4 0l4 0M1526 258l1-12l7-10M1515 351l-5-3l-6-3M1620 75l1-4l2-4M1674 101l-5-4l-7-1M1480 168l1 5l-1 5M1410 327l2-4l3-4M1512 280l-9 5l-6 9M1402 123l6-11l2-12M1436 170l11 5l12 3M1491 352l-10 9l-6 12M1646 315l8-5l9-5M1594 197l-8 2l-8 0M1436 312l-12 8l-14 3M1655 263l0 5l1 5M1414 282l4-6l2-7M1661 209l4 5l6 4M1540 246l-2 4l-4 3M1616 341l-6-1l-5-3M1549 288l6-5l5-5M1465 101l-5-5l-7-2M1405 104l8-8l8-9M1523 277l10 5l11 2M1670 172l-7 2l-7 3M1504 88l1 6l-1 6M1410 229l8 2l9 1M1392 327l3 10l4 10M1541 73l0 9l0 9M1657 318l-6-2l-6 1M1593 314l2 12l4 12M1539 334l2 4l2 4M1375 96l-6-13l-5-14M1669 222l2 4l1 5M1450 357l3 6l5 5M1392 76l-4-5l-3-6M1555 106l8-11l5-13M1385 239l3 3l4 3M1626 259l-8-7l-6-9M1479 194l-4 7l-6 5M1579 326l2 9l5 8M1414 285l-2 6l-1 6M1634 123l-2 4l-3 3M1404 289l5 5l2 6M1552 304l8-7l10-4M1410 134l-7-1l-7-2M1437 189l2-3l3-2M1503 300l-4-1l-4-2M1654 108l2 8l4 7M1605 347l-7-13l-1-14M1531 194l6-7l5-7M1544 351l-11 8l-6 12M1423 106l5 10l9 8M1384 148l5-1l5-2M1573 141l-12-1l-11-3M1598 83l15-2l13-7M1390 259l-1-12l5-11M1407 104l1-8l4-7M1465 107l-4 13l-2 14M1652 156l14 3l11 9M1413 198l7 2l7 1M1540 353l-3 4l-4 2M1400 289l-7 1l-7 0M1419 300l6-9l8-7M1444 168l-2-4l0-4M1575 259l-11 8l-7 12M1402 125l-1 5l0 5M1596 303l3-14l2-14M1427 199l0-8l1-8M1465 114l0 11l-4 10M1472 216l-7-7l-9-4M1398 259l6 8l6 8M1505 208l9-9l10-7M1661 111l-1 9l0 9M1374 130l-8 7l-6 8M1578 345l-2-13l2-13M1378 132l-13-3l-13-2M1645 86l4 2l3 4M1576 274l-9 9l-9 9M1399 297l12 2l13 1M1635 239l2-5l-1-5M1497 106l-3-9l-5-9M1550 359l-12-6l-13-5M1588 85l-10 1l-10-2M1676 284l-8-3l-8 1M1438 349l11 3l9 8M1644 134l11 4l11-1M1527 76l8 12l11 10M1475 274l-4 13l-4 13M1638 99l2 10l6 8M1438 365l3-14l0-14M1674 163l-11 3l-12-1M1551 109l-1-5l-4-4M1476 259l10-3l10-4M1442 353l-6-8l-8-5M1424 157l-11-5l-12-1M1630 133l4 14l-3 15M1582 216l5 5l2 7M1491 273l-10 0l-10-1M1588 345l-8-9l-9-9M1666 363l-6 0l-6 0M1557 366l-7-6l-7-6M1581 315l13 3l12 4M1544 138l0-7l-2-6M1395 213l-12 0l-12 0M1632 82l-2 7l-1 7M1633 182l-13 0l-12 5M1376 330l-9-7l-8-9M1506 349l-14 0l-13-3M1491 95l-9-4l-9-4M1595 225l12 7l11 9M1557 324l5 3l5 2M1527 178l4 11l7 9M1582 245l9 2l9 2M1628 210l0-10l0-10M1450 126l-9 2l-9 0M1481 205l-7 4l-8 3M1642 221l5-1l5-2M1583 262l0 7l1 7M1483 312l-6-8l-5-9M1603 92l-6 5l-8 2M1493 103l11-7l9-10M1387 254l-10-1l-10-3M1630 166l1-13l-5-12M1600 298l8-9l4-11M1477 105l-9-7l-10-5M1509 288l1-4l1-4M1380 361l7-7l3-10M1414 85l-5-1l-4-2M1622 303l-4-6l-6-4M1600 215l7 3l7 3M1544 241l8 5l9 3M1658 258l3 5l3 5M1401 290l-6-5l-5-6M1517 93l8 9l9 8M1631 267l-1-12l-4-11M1655 112l0-7l-1-7M1390 161l8-1l7-4M1444 140l-9 7l-8 8M1642 308l-12 5l-12 5M1552 194l-3-13l1-14M1514 197l-5 4l-6 2M1476 322l-4 2l-4 0M1383 210l10 6l7 9M1374 347l4 6l1 7M1658 327l3 3l4 2M1387 113l-11-1l-10-5M1630 227l3 12l4 12M1412 297l-6 1l-6 2M1672 213l-6-6l-8-3M1604 219l-2-11l1-11M1407 79l7 0l7 2M1388 278l-9 4l-6 8M1495 180l5 1l5 1M1613 270l2-9l0-9M1571 266l8 11l4 13M1448 245l-7 3l-8 1M1480 281l5-1l4-3M1463 246l10-2l10 2M1620 318l4 7l4 7M1429 272l-9 2l-10 1M1402 319l0-6l-2-5M1445 370l-1 10l-5 9M1619 303l5 1l5 2M1587 219l4 5l4 5M1504 327l4-4l5-2M1599 292l2 10l5 8M1642 108l7-6l9-3M1577 245l1-5l-1-5M1597 327l3-4l5-2M1407 325l-13 7l-8 12M1630 165l-11-10l-14-4M1437 251l5-5l4-6M1552 107l-7 5l-7 6M1465 106l1 14l-2 14M1534 85l-6 3l-6 2M1593 172l4 7l5 6M1555 117l-3-13l1-14M1649 220l5 11l4 12M1547 208l-3 4l-1 5M1668 87l-13-8l-15-1M1617 178l11 0l10 5M1677 327l-9 2l-10 0M1510 111l-7 7l-10 3M1403 86l-7 12l-10 10M1571 214l-2-4l-2-4M1505 90l2-10l0-10M1645 294l-5 6l-5 5M1667 224l11 3l10 6M1612 87l-14-1l-13 5M1600 226l-3 4l-3 4M1561 228l-2 11l-6 9M1409 186l13 5l11 8M1446 245l-1-4l-1-4M1621 126l12-7l12-6M1456 200l1 8l4 7M1535 258l-5 1l-5-1M1622 166l-15 1l-15-1M1567 270l-7 2l-7-1M1477 346l5-2l5-2M1614 283l8 2l9 0M1510 127l1-11l6-10M1524 297l-9-2l-7-5M1517 177l13-6l8-11M1530 323l-1-6l0-6M1463 92l10 5l9 7M1648 279l-9-10l-6-12M1497 321l-7 0l-7 1M1563 135l-2-11l-3-11M1374 215l-13 7l-9 11M1424 226l-10 2l-9 4M1621 258l13-2l13-4M1565 170l2-5l2-5M1622 100l0-5l1-5M1460 195l2-5l1-5M1592 164l-10-3l-9-5M1525 210l-8-9l-9-8M1582 269l-1-13l2-13M1638 205l4-5l6-3M1586 94l12 5l9 9M1420 334l3-9l2-9M1417 118l4-1l4-1M1396 324l-5 4l-5 3M1528 269l8 1l7 4M1548 326l3-7l5-6M1502 278l-2-5l0-5M1457 348l13 5l10 9M1572 351l-9 7l-8 8M1667 86l-11-6l-10-8M1672 75l-7-4l-8-2M1481 365l9 5l6 8M1409 274l0-7l-3-6M1564 276l-2 9l2 9M1514 144l7 10l9 8M1593 359l8-4l9 0M1636 304l2 8l1 8M1433 229l6 5l7 4M1558 164l2 6l2 6M1420 363l-3-11l2-11M1671 362l-1-5l-1-5M1480 80l5-1l5 2M1439 75l-5-6l-5-6M1504 178l-6 10l-7 8M1596 217l-1-5l-2-4M1379 139l1 4l-1 4M1535 93l-1-6l1-6M1599 120l11-9l12-8M1549 350l8 5l5 7M1413 298l0-10l4-9M1376 110l-12 8l-8 13M1483 271l7-11l8-10M1652 80l-5-4l-3-5M1510 253l9 1l9 1M1391 354l-8 4l-6 7M1642 201l-3 3l-3 3M1530 215l8 5l7 7M1595 325l4 3l3 4M1648 109l4 2l5 2M1394 134l-4 10l-2 10M1670 325l5-4l6-3M1450 201l3 4l3 4M1575 116l-5-10l-1-11M1455 144l6 0l6 2M1392 100l9 11l8 11M1382 277l3 4l1 5M1508 341l5-8l8-6M1382 299l-3 13l2 13M1631 187l8 9l8 8M1458 260l1-7l2-7M1513 141l9-1l7-5M1479 319l9-6l9-7M1615 99l-14-1l-13-5M1494 223l11 7l12 5M1387 326l3-7l0-8M1471 118l2 10l-2 10M1612 255l0-5l2-5M1440 327l9 3l8 4M1628 234l-3 6l-1 7M1448 156l-4 0l-4 1M1614 184l2 10l-3 10M1426 231l0-9l-4-9M1674 258l10-4l10-4M1569 219l4-1l5 1M1616 356l-5-2l-5-3M1380 238l11 1l11-1M1400 119l-10 9l-13 4M1479 309l-3-12l0-12M1383 231l4 6l5 5M1474 166l2 11l4 11M1664 88l15-1l14-4M1462 208l-5 8l-8 5M1415 323l8-3l7-6M1533 267l6 8l6 8M1643 156l-4 11l-8 9M1565 264l-8-12l-3-15M1591 225l-6 3l-7 0M1656 301l6-6l4-7M1429 314l-2-12l4-11M1595 114l2-15l-2-15M1430 114l7 1l6 5M1644 289l6 11l3 12M1452 337l-13-6l-12-6M1436 87l-4-3l-4-1M1571 261l3 9l7 6M1596 127l8 1l8-2M1432 359l-7 1l-7-1M1628 253l-6-7l-4-8M1640 366l-4 1l-4 2M1418 350l1 9l4 8M1582 105l-13 3l-11 7M1402 330l3 7l2 8M1649 299l-11 10l-12 8M1402 108l-7 3l-6 5M1493 344l-9 8l-6 10M1441 208l-6 3l-5 5M1405 81l2 13l2 13M1497 322l-11 3l-11 1M1476 209l0 10l-4 9M1455 299l11-4l12 1M1478 232l-1-14l-7-13M1583 120l6 4l7 0M1411 129l-10 2l-10-1M1672 356l4 2l4 1M1623 139l14 4l14-3M1385 270l7 4l5 6M1472 242l1 6l2 6M1443 253l-12-5l-13 1M1641 193l-6 12l-10 9M1549 315l-10-7l-9-9M1545 361l3 11l6 10M1472 169l3-7l4-6M1502 216l-4 8l-4 8M1530 194l-9 3l-9 4M1607 107l9-9l6-11M1553 360l-1 10l-4 9M1658 269l-1 8l1 8M1649 213l12-2l11-4M1436 174l4 9l7 7M1414 334l-2 10l-1 10M1592 138l9 6l11 2M1572 207l-9-6l-10-5M1615 96l7 8l5 10M1406 170l4 14l-2 14M1397 220l-12 7l-8 11M1644 146l-4-5l-6-3M1460 157l-5 12l-5 13M1423 246l-2 14l2 14M1578 128l13-5l13-5M1452 110l-8-3l-8-3M1475 287l-1-8l1-8M1486 188l2 10l3 10M1666 155l1-11l4-10M1396 265l-14 5l-14-1M1534 188l-7 0l-7 3M1577 209l4 0l4 0M1514 330l5-2l6 0M1651 85l-3-4l-4-2M1574 359l-8 3l-7 5M1635 358l6-3l5-4M1485 181l2-5l3-4M1380 272l-3-4l-3-5M1390 182l9-10l7-12M1466 311l-1 7l0 7M1662 218l9 0l9-1M1501 152l-7-11l-11-8M1531 257l3-7l3-7M1495 102l8 5l7 7M1431 91l-3-9l-2-9M1411 363l-6 5l-8 2M1536 125l5 4l5 4M1501 96l7 3l8 0M1465 116l8 0l8 0M1503 202l4-12l-2-12M1469 218l-5-9l-5-9M1375 133l3-4l4-4M1458 143l5-13l0-14M1568 74l-3-7l-2-8M1548 304l-6-4l-6-5M1382 270l-1 12l-5 12M1504 188l2-14l-4-14M1645 123l11 2l11-3M1509 322l-4 1l-4 1M1434 321l-1-7l2-6M1596 204l7-2l6-4M1520 158l4-8l7-6M1659 276l1 4l3 3M1606 89l4-10l4-10M1506 84l1-15l-1-14M1547 245l-5-2l-5-2M1634 369l-7 13l-6 14M1524 360l7 11l8 11M1666 135l3 11l5 10M1453 290l5 5l7 2M1384 222l-10-2l-10-2M1575 248l-12-2l-10-7M1658 186l-2 6l0 6M1583 134l4-8l4-8M1540 198l-7-1l-6-4M1450 123l5-1l4-2M1635 314l2-3l4-2M1649 260l-3 2l-4 1M1674 178l11 3l9 7M1657 270l6-10l9-7M1642 95l4-2l4-2M1453 337l-1-4l-2-4M1504 137l12 2l11 5M1500 302l12 3l11 6M1568 348l6-1l5-2M1569 340l-8-5l-7-6M1530 261l2-5l3-4M1631 280l-7 0l-7 2M1466 131l-10-9l-11-8M1381 102l-1 8l-5 7M1517 227l-7-1l-7 1M1549 323l-3-12l0-12M1481 239l-2 7l1 7M1557 92l-6 0l-6 3M1501 266l4-6l6-5M1599 189l1-4l0-4M1485 355l11-1l10 3M1660 126l-7 3l-8 1M1393 234l-5 2l-5 3M1479 139l-5-5l-6-3M1549 340l8 0l8 0M1407 86l-12 7l-9 11M1553 144l13-2l13 0M1636 327l-7-5l-8-3M1586 300l11-6l8-10M1528 90l-13-2l-12-4M1428 297l-5-8l-2-9M1487 243l-14 4l-14 4M1579 304l-13 0l-13 2M1635 318l1 10l2 10M1651 78l4 2l4 1M1626 217l-1 9l2 9M1473 153l-11 0l-11-1M1481 73l-6 8l-8 5M1577 150l2-5l2-5M1465 130l5-5l7-3M1475 234l4 6l3 6M1646 119l3-13l1-13M1589 263l-10 4l-11-1M1428 129l-7 8l-8 7M1524 227l7-10l5-11M1583 333l2 9l1 9M1524 261l-10-9l-12-6M1614 285l-4-4l-2-5M1388 72l14 3l12 8M1468 145l-1-6l-2-5M1535 285l1-6l0-6M1456 106l3-6l5-5M1610 86l6 7l5 7M1593 171l-5-11l-4-11M1519 197l1-8l-1-8M1412 213l13 3l13 3M1666 93l-8 5l-9 4M1609 212l11-2l11-2M1675 267l-2-4l-1-4M1660 265l-4-5l-2-6M1382 347l-3 4l-3 3M1426 234l-6 11l-10 8M1651 181l-5-2l-5 0M1382 76l-4-7l-4-7M1588 319l-5 8l-4 8M1606 84l2 6l1 6M1644 259l9 9l4 12M1640 79l3 2l3 3M1585 119l-1-10l4-10M1625 354l-5 3l-3 5M1562 212l4 1l4 1M1582 255l2 14l2 14M1506 182l6-1l5-3M1415 111l8-4l6-6M1448 84l-9 3l-9 3M1382 305l-9 7l-5 10M1387 75l-5-7l-2-9M1453 239l-6-5l-3-7M1432 108l1 6l4 5M1609 110l1-6l4-5M1648 187l-8 2l-8 0M1438 168l7-9l3-10M1560 360l3 4l2 5M1419 334l3 8l6 6M1451 224l1 14l-3 13M1622 335l1 11l3 11M1473 93l6 3l7 2M1658 81l-4-1l-4 0M1671 335l-10 7l-12 2M1552 287l4 12l5 12M1500 173l10-7l9-9M1472 206l2 12l7 9M1674 195l10 9l13 6M1519 265l-6-7l-5-8M1496 112l3-5l2-6M1632 252l4 4l3 5M1376 186l0-8l3-7M1394 159l-1 9l0 9M1397 251l-6 2l-6 0M1579 339l11-10l13-7M1432 329l8-7l6-9M1488 240l13-1l12 5M1559 240l-2-14l2-13M1462 179l0-7l-3-7M1452 232l5-3l6-1M1614 359l9 2l9 0M1606 82l3-5l2-6M1455 180l6 6l7 5M1484 121l-12 1l-11 6M1401 206l-5 3l-6 3M1620 190l-2 13l1 13M1550 144l-14-1l-14-4M1631 123l-5-5l-4-5M1415 302l1 4l-1 4M1532 133l3-7l5-5M1564 333l4 7l2 8M1474 128l-2 8l-5 7M1666 112l-11 3l-11 3M1467 280l7-13l0-15M1634 242l-5 14l-5 14M1664 223l1 4l3 3M1423 184l5-1l5 0M1528 238l6-2l5-3M1582 201l-4 0l-4 1M1473 294l-8 6l-9 4M1603 149l-10-5l-11-3M1377 284l8 11l12 7M1405 236l-4 4l-5 2M1425 236l10-9l12-6M1401 368l-3-8l-5-7M1429 103l-9-5l-10-3M1488 138l-7 5l-5 7M1488 104l12 7l12 5M1393 333l-5 10l-8 7M1570 201l-11-10l-9-12M1373 172l-4 4l-4 4M1479 86l-3-6l-5-5M1596 190l0 8l-3 7M1551 143l-12 0l-10-5M1595 138l-4 2l-4 2M1443 368l3-6l1-7M1425 211l5-3l5-3M1453 131l-2-8l-5-6M1415 300l1-6l3-5M1469 214l-7-4l-8-2M1497 325l-6 11l-4 12M1673 106l0-7l2-7M1596 113l11 8l7 12M1500 368l10-8l9-8M1375 178l7-3l7-1M1507 151l-3 7l-1 7M1604 119l5-3l6 0M1523 208l0-4l0-4M1573 144l-1 7l0 7M1624 367l-5-3l-5-3M1598 267l7-2l5-5M1572 220l-10 0l-10-1M1650 167l-1-9l-1-9M1419 322l-8-1l-8-3M1579 297l-4-11l-2-12M1417 95l2-7l3-6M1633 129l2-6l4-4M1527 148l1 8l3 8M1387 287l-3 7l-3 6M1569 344l0 10l-4 9M1463 234l13-1l11-7M1394 308l-1-5l1-5M1521 356l-9 11l-9 11M1613 245l4-13l-3-13M1431 249l-5 4l-6 2M1506 292l-5-3l-5-3M1591 208l-12 4l-10 7M1603 338l-8-1l-7 3M1591 76l1 12l3 12M1425 235l0-5l-2-4M1391 262l-7-11l-10-9M1467 300l8-12l6-13M1388 184l10 11l11 10M1436 161l-11 0l-11 0M1523 356l-8 3l-8-1M1411 97l-8 1l-8 1M1551 309l11-6l9-9M1520 138l1-13l-1-13M1673 102l11 2l10-3M1602 243l-13-1l-13 0M1567 212l-9 4l-6 7M1454 347l0 9l2 9M1582 191l3-11l3-11M1656 117l14-5l15 2M1619 152l-7 5l-8 2M1657 298l-1 12l-3 12M1592 141l2-6l2-6M1585 308l12-4l13-2M1532 266l-10-3l-11 2M1580 129l7 12l11 9M1658 118l13 4l14 2M1403 338l-11-10l-13-6M1567 90l13-5l11-8M1437 357l-7 4l-7 3M1461 355l-5 8l-4 9M1635 203l8-11l7-11M1530 251l-9-5l-10-1M1554 116l-7 0l-7-2M1373 137l0 9l3 8M1571 304l7-11l1-13M1568 188l-10-9l-6-11M1458 219l8-12l7-12M1542 284l0-9l1-9M1576 147l-2-10l-4-10M1409 238l8 6l6 9M1553 85l3 3l1 4M1597 200l-5 6l-6 5M1601 292l0-11l-4-11M1462 210l-5-10l-7-9M1399 358l4 2l3 3M1383 198l10 6l10 5M1404 118l9 2l9 3M1493 368l-5-3l-5-2M1540 116l4 10l2 11M1374 226l-3 3l-2 4M1409 108l5 14l9 12M1429 213l-2 7l1 8M1619 205l-7 2l-7-1M1469 199l-1-9l2-8M1641 186l-2-14l3-13M1377 216l-5 12l-7 11M1672 320l11-2l11-1M1437 366l5 5l3 6M1518 217l3-6l5-5M1622 89l-12 8l-8 12M1676 205l-1 7l0 7M1585 364l7-11l4-12M1467 264l7 1l7-1M1664 186l2 4l1 4M1479 88l-5-14l-10-10M1607 94l6-1l6 1M1406 205l10-10l11-9M1377 247l-3-7l-3-7M1554 302l-11-9l-7-12M1404 233l-6-3l-7-1M1397 240l8-12l4-13M1648 95l6 5l7 4M1381 339l-8 2l-8 2M1502 282l2 6l-2 6M1639 209l-12 0l-12-4M1437 123l0-13l4-12M1655 261l-13 7l-13 7M1545 102l-14-1l-13 4M1433 178l-4-10l0-11M1427 308l-4 0l-4-2M1443 287l-10-3l-8-7M1526 312l-3-5l-5-4M1456 250l4 11l4 11M1413 174l4 14l-2 14M1412 178l-6-1l-6-1M1556 115l7 11l4 12M1480 191l9-3l7-5M1541 132l10 1l9 2M1634 149l6 6l6 6M1639 119l12-7l10-9M1373 338l-11-1l-11 4M1455 202l-5 0l-5 0M1602 305l-8 8l-4 10M1561 149l-6-13l-1-15M1419 79l6 3l6 3M1539 309l1 9l0 9M1653 272l-3 7l-2 7M1657 117l7 7l7 6M1494 309l-1-10l-1-10M1557 135l11 0l11 0M1612 162l-10 10l-12 7M1399 211l-2 7l-4 6M1431 116l2 4l2 3M1559 294l-10 9l-12 6M1644 239l-10-1l-10 0M1503 256l4-2l3-3M1508 345l11-7l13-1M1576 195l-9-4l-9-3M1541 234l1 6l-1 5M1514 235l4 6l3 7M1543 290l-3 8l0 9M1544 338l7-4l8-2M1630 264l-3 4l-3 4M1635 327l5-5l3-7M1608 133l-13-4l-13 1M1613 259l10-11l14-5M1463 120l-9-4l-8-6M1513 334l3 3l4 2M1611 99l-2-9l-4-8M1623 115l1 9l3 8M1426 112l-5 14l-5 14M1377 179l9-6l10-5M1619 225l-1 11l-3 10M1595 227l-4 7l-4 7M1653 124l7-2l7-1M1601 135l10-3l11-1M1385 186l6-3l5-4M1663 196l0 6l1 5M1450 317l13 0l12-5M1499 83l-6-10l-10-6M1620 186l-4-9l-4-10M1499 81l4-9l0-9M1646 153l-7 11l-11 7M1504 276l-7 6l-4 8M1594 358l1 7l-1 7M1622 247l-7 2l-6 4M1500 102l-14 3l-15 0M1501 245l-2 4l0 5M1613 250l2-10l-2-10M1630 368l13 3l11 8M1450 245l-5-11l-7-10M1514 149l-3 7l-1 7M1644 172l-1 13l-4 12M1388 262l-6 5l-7 4M1664 300l-7-7l-9-3M1673 164l-6-2l-6 1M1404 76l13 6l14 2M1551 357l12 4l12 3M1509 256l-13 1l-12 5M1393 228l-5 6l-2 7M1489 142l-5 7l-7 4M1477 264l5 5l4 5M1535 123l-13-1l-13 0M1594 176l-7 6l-4 8M1518 367l-9 7l-10 6M1486 345l-8-12l-10-10M1524 80l8-6l9-4M1553 294l-15-3l-14-6M1529 335l-2-5l-2-5M1384 185l-11 6l-12 1M1633 213l-6-1l-6 0M1610 316l12-8l14-1M1546 228l3-6l0-7M1666 83l-7-1l-7-1M1399 174l-11 10l-12 8M1670 200l2-6l2-6M1613 125l-6-7l-2-9M1545 248l6 2l6-1M1530 148l-7-6l-7-5M1482 339l9 11l7 12M1374 131l3 11l3 11M1457 214l11-7l13-4M1456 204l-3-4l-1-4M1545 291l-12 6l-11 8M1376 139l4-3l3-4M1530 308l-3-11l-3-12M1415 131l2-5l1-5M1548 224l6-3l6-4M1475 88l-9-11l-10-10M1591 103l10 2l9 5M1479 175l7 12l2 14M1432 323l-3-14l4-14M1609 239l-8 10l-7 10M1472 308l-4-4l-4-3M1376 253l2 6l1 6M1613 191l0 10l1 10M1602 160l-12-5l-9-9M1593 101l-9 0l-8-3M1417 301l2 10l3 10M1497 197l5-3l3-5M1636 221l-13-2l-13-1M1593 162l-4 6l-5 5M1407 221l6-2l6 0M1583 263l5-13l0-14M1657 295l4 6l6 4M1667 168l12-1l11-3M1455 356l-7 12l-10 10M1664 341l8 2l8 2M1528 182l-2-4l-3-3M1665 320l5-12l5-12M1659 268l6-3l6-3M1378 184l5 3l6 2M1650 171l-5 10l-6 10M1648 184l-1-4l0-4M1454 158l2-7l0-8M1476 259l10-4l9-7M1435 267l-13-1l-12-4M1592 278l0-4l2-4M1544 369l7-7l9-3M1638 133l-13-2l-12 4M1418 242l5-2l6-1M1415 301l-2-13l-6-12M1550 348l3-7l1-8M1500 344l10-10l8-12M1637 216l4 7l3 7M1608 223l3-6l0-7M1569 330l-4-1l-4 0M1576 178l3-4l3-4M1450 115l-3-4l-1-5M1573 96l13-8l15-3M1528 163l9-8l6-11M1674 340l1 8l-1 8M1497 168l-7-12l-6-13M1442 249l-6 8l-3 10M1505 185l-11 6l-11 5M1650 90l8 10l11 8M1588 332l13-5l14 1M1573 224l-3-5l-5-4M1452 157l-5-5l-4-6M1482 322l-7 6l-6 6M1672 172l-4 6l-2 7M1655 226l1 9l1 9M1575 357l-13-3l-10-8M1662 241l-14-3l-14-2M1620 178l15 1l14-2M1662 188l-10-4l-10-3M1388 75l10-3l10 1M1553 198l-8-3l-7-3M1602 369l5 10l0 11M1571 116l4-8l2-9M1618 129l-6-5l-6-5M1550 167l-2-12l-4-12M1484 293l6 4l7 3M1654 169l-3 5l-5 3M1519 85l-8 6l-5 9M1648 266l-9-6l-10-2M1652 326l6 4l5 6M1565 328l5 2l5 2M1429 286l4 10l4 10M1584 189l0 9l-2 9M1480 164l-6-1l-6-1M1588 217l-9-3l-7-6M1509 164l-9 10l-6 12M1431 172l-8-7l-4-10M1633 76l11 10l7 13M1507 233l-5-7l-6-6M1502 319l2-5l4-4M1512 303l-11-7l-12-2M1623 84l-6-1l-6-1M1388 224l-13 5l-14 0M1481 343l12 5l11 7M1444 90l-11-1l-11-2M1396 278l-2 9l-3 8M1430 96l4 4l3 5M1532 210l-5 4l-3 6M1382 143l6-8l3-10M1378 136l-8-8l-6-9M1584 222l-4-11l-2-12M1424 216l12-4l11-6M1583 174l-8-4l-6-6M1464 193l-11 7l-9 9M1487 284l-4-9l-2-9M1474 199l9 8l10 6M1423 305l-6 6l-8 3M1449 127l-5-4l-6-2M1549 354l9 9l7 10M1587 143l9-8l11-5M1392 240l2-8l-1-8M1440 132l9-6l9-7M1574 147l8-6l7-8M1633 251l-2-9l-4-9M1568 271l-5 13l-1 14M1590 206l12 1l12-3M1630 117l1-9l5-7M1649 174l-6 4l-3 6M1612 238l7-1l7-3M1605 82l-13 0l-12-6M1490 363l-6 3l-7 1M1629 281l-13-1l-12-4M1465 186l4 0l4-2M1617 180l0 12l-4 11M1524 181l10-5l8-8M1507 211l6-1l6 1M1481 361l2 14l4 13M1656 120l3-5l1-5M1645 267l3 6l5 4M1473 175l9 1l9-1M1674 181l-14-5l-14 1M1539 324l7-1l6-3M1473 208l-1 5l-1 5M1582 247l-2 11l-3 11M1673 214l-11 3l-9 6M1671 242l-3-6l-5-4M1602 230l-1 6l-1 6M1511 197l12 4l11 6M1478 84l-7-5l-6-7M1575 247l-10-6l-6-10M1551 76l2-7l3-6M1527 197l-10 0l-10-2M1511 222l-5-3l-6-2M1392 147l-3-4l-2-4M1469 296l5 14l7 13M1659 213l6-4l7-1M1467 171l1-10l2-10M1664 226l10-1l10 2M1581 305l-4-9l-6-8M1676 262l9 6l9 6M1601 331l13-6l12-8M1401 315l0-5l-1-5M1548 293l3 15l-2 15M1611 240l-5-9l-8-7M1652 99l6-8l3-10M1466 92l6 7l3 8M1396 205l7-1l7 0M1418 165l-1-11l-1-11M1440 311l13 6l12 7M1398 191l12-5l13-1M1544 98l-14 0l-14-2M1463 171l-9-4l-8-5M1532 329l1 7l-1 7M1471 106l1 6l3 5M1388 136l3-13l-1-13M1631 305l13 2l13 5M1645 369l-3 4l-3 3M1641 285l-10 3l-11-1M1580 292l-4-3l-2-4M1527 307l-2 8l-6 6M1595 219l3-9l4-9M1511 138l3-11l6-10M1491 215l-4 12l-3 12M1623 140l13 4l10 10M1492 153l-8-1l-8-2M1598 194l-6 0l-6 1M1452 162l4-3l2-4M1423 207l3 12l3 12M1399 219l-4 8l-3 8M1492 164l11 7l13 1M1478 202l13 1l11 7M1625 77l3 10l0 11M1383 167l10-6l10-6M1474 316l13 4l13 1M1416 267l-6-7l-3-9M1499 360l10-5l6-9M1400 175l-6 1l-6 0M1570 87l5 10l7 9M1509 270l8-3l8-2M1515 152l1-8l3-7M1626 130l4-6l4-6M1395 310l-3-7l-2-7M1498 304l-4-3l-4-4M1481 154l-6-9l-2-11M1655 104l-8 8l-5 11M1631 173l0 8l-4 7M1375 135l5-1l5-1M1552 227l1 15l-6 13M1536 312l-8-1l-8 0M1576 187l12 5l12 6M1409 153l-13-6l-14-4M1609 109l1-8l-1-8M1599 312l8-5l9-2M1555 318l7 11l9 9M1661 105l-8 7l-9 5M1664 236l4-11l6-10M1434 126l-5 12l-9 9M1376 286l10 8l12 3M1642 305l7 7l7 8M1573 204l4-4l5-2M1450 199l12-2l12-1M1544 264l9 2l7 6M1671 210l-8-7l-10-4M1516 262l5-10l6-10M1671 272l10-2l9-5M1605 341l-5 5l-6 3M1420 89l-2 4l-2 4M1545 354l12 6l13 1M1501 178l1 5l-2 5M1463 78l5 12l2 12M1403 240l-15-2l-15-2M1436 334l2 10l-1 10M1515 201l6 1l6 0M1462 107l-12-6l-14-1M1587 348l6-2l6-2M1583 116l10 2l9 5M1475 91l-5 7l-7 5M1594 273l5 6l4 6M1417 198l-15 2l-14 5M1666 369l9-4l8-6M1612 281l5-10l8-8M1432 101l2-14l0-14M1602 182l-1-15l2-15M1459 169l3-5l1-6M1404 251l4-2l4-1M1533 243l3 3l4 2M1497 365l11-4l8-8M1406 250l-8 4l-8 3M1636 128l-9-9l-10-7M1420 127l0 10l-1 10M1612 284l-2-13l-3-13M1457 107l4 13l9 10M1388 213l7 1l7 4M1601 113l-5 9l-1 10M1534 199l5-13l0-14M1508 192l2 9l0 9M1542 148l-6-7l-6-6M1495 258l7 5l6 7M1560 325l12-5l12-5M1533 166l6-11l7-11M1531 242l-4 0l-4-2M1558 302l7 0l7-2M1653 252l-3 7l0 8M1562 219l-7 0l-6 3M1506 111l-10 11l-12 9M1430 147l-5-8l-7-5M1471 81l2-6l-1-6M1393 257l5 5l4 6M1583 228l8-4l8-3M1376 291l5 1l5 0M1537 121l-5-2l-5 0M1594 338l-6-11l-7-11M1425 241l0-13l5-12M1637 306l-1-5l-2-5M1486 236l6 1l6 1M1673 227l-3 3l-2 4M1577 260l-8 5l-9 1M1668 279l-4-4l-5-2M1572 141l-7-5l-6-6M1495 288l6-7l3-8M1419 200l-7 1l-7 4M1436 185l15-2l14-3M1597 149l4 12l3 13M1622 333l-6 11l-2 13M1420 78l7 9l3 11M1652 216l6-11l6-12M1480 176l8-1l8 3M1459 218l-14-5l-15 2M1615 278l-8 9l-11 5M1530 354l-1 6l1 6M1591 366l0 6l-2 6M1434 218l5 1l5 3M1521 347l12-6l12-7M1645 270l-3-7l0-8M1587 162l10 1l10 3M1482 94l11 4l12 1M1459 220l5 13l6 12M1466 355l-12 7l-14 1M1463 213l-6-4l-5-4M1409 92l1 6l2 5M1410 351l-13-8l-14-6M1414 355l4 3l5 3M1437 152l-4 12l-5 11M1494 268l-5 14l-4 14M1644 336l12 6l8 10M1568 176l-1-12l0-12M1404 264l0 6l0 6M1656 122l5-5l6-4M1452 246l3-9l6-7M1568 357l3-4l4-3M1518 243l-13-5l-13-5M1392 207l4 13l2 14M1423 238l1-4l2-4M1616 256l13 0l12 6M1647 265l-5 10l-5 10M1641 328l13-7l8-12M1379 160l8-9l7-9M1648 86l-1-12l-6-10M1638 295l-7 2l-5 5M1654 115l9 4l10 2M1658 172l-7-9l-7-8M1402 322l-4-5l-5-4M1436 222l-3-5l-4-5M1420 142l-7 7l-4 10M1586 153l-5-3l-4-4M1402 163l2-11l3-11M1378 335l-6-2l-6 0M1617 363l5 12l4 12M1643 165l-3-5l-5-3M1640 74l-6-3l-6-3M1625 148l-8 10l-12 6M1581 192l-3-4l-1-4M1598 283l13-2l13 2M1532 116l1-7l2-7M1580 314l-5 10l-6 10M1513 228l-3 4l-5 2M1534 201l-3 6l-3 6M1600 127l-6-12l-3-13M1662 237l-12 5l-10 8M1653 182l9-5l10-3M1504 333l11-7l8-10M1449 196l2-13l1-13M1387 141l10 9l10 9M1560 221l8 12l12 8M1484 294l13-7l15-2M1398 270l-3-13l-7-11M1540 143l-7-8l-7-8M1584 301l-6 9l-7 8M1570 304l2 5l0 6M1498 301l8 12l10 11M1576 134l-3 3l-1 4M1377 156l0-10l-1-10M1420 208l4 14l2 14M1418 237l-4-3l-5-1M1435 223l5-9l7-8M1560 274l8-9l7-10M1609 97l-8 1l-8 1M1469 200l-8-5l-6-7M1597 253l12-2l11-4M1395 286l5-9l1-10M1411 224l2-4l3-4M1627 370l-1 7l-2 7M1514 177l-4-7l-4-7M1474 141l-1-11l0-11M1491 112l2-5l0-5M1394 143l13-1l12 5M1582 168l-3-14l-1-15M1562 79l-3-4l-2-4M1552 238l-13 1l-13 2M1560 175l1-7l-2-7M1444 206l-4-2l-4 0M1463 270l-7 0l-6-3M1625 348l4-2l3-3M1474 214l4-6l6-4M1421 285l-1-14l-5-13M1655 102l5 1l5 2M1617 284l-9-4l-9-3M1673 284l-5 1l-5 2M1519 270l-3 13l-6 12M1435 77l2-3l2-4M1432 139l-15-1l-14 6M1485 174l-4-4l-1-5M1434 100l4 14l5 14M1423 174l6-13l4-13M1435 107l4 8l1 9M1484 115l5 9l0 11M1596 131l-4-8l-4-8M1676 289l1 8l4 7M1485 368l1 13l5 12M1381 134l-13 5l-12 7M1516 165l-6 13l-1 15M1468 260l-11 9l-8 12M1479 93l4 3l5 2M1574 117l3 3l1 4M1437 178l6 0l6-1M1549 287l3-5l3-5M1630 280l-5-7l-5-7M1534 299l9 10l10 10M1509 203l5 6l7 3M1584 192l6 12l1 13M1642 336l8 8l10 6M1621 218l0-15l2-15M1653 258l7 12l2 14M1639 206l0-12l2-12M1406 334l-8 6l-7 7M1590 114l-9 6l-11 2M1537 336l6 3l5 5M1457 277l14 1l12 7M1403 261l7 8l8 6M1529 84l5-13l7-12M1407 164l-3 7l0 8M1555 221l6-13l4-14M1564 130l-8-4l-5-7M1533 322l10 2l9-2M1604 213l7 10l9 9M1491 106l7-12l7-12M1413 366l-8-9l-8-10M1426 221l-5 6l-6 5M1419 361l-7 4l-6 6M1428 327l12 1l11 5M1415 248l-2 3l-1 4M1608 308l-2 8l2 8M1588 146l2-4l0-4M1454 152l-2-12l1-12M1625 225l-2 4l-3 3M1615 344l-6 5l-3 7M1647 131l10-3l7-8M1583 100l-6 12l-8 10M1661 146l10-5l11-2M1443 127l5 3l4 4M1518 213l5 5l6 2M1546 134l9 3l8 4M1654 308l4-4l4-4M1648 150l4-13l4-13M1631 199l12 4l12 1M1636 299l-7-8l-7-7M1462 218l7-1l7-1M1538 130l-3-3l-4-2M1438 149l7 3l6 4M1505 101l11-2l11 2M1589 260l14-3l13-6M1572 360l-5 3l-3 4M1516 322l-4-5l-3-5M1460 136l-3-5l0-6M1631 361l6 1l6 0M1373 92l7-6l6-6M1541 81l-4 4l-2 5M1676 317l7 6l8 4M1524 360l4-12l2-13M1628 77l8-2l7-4M1571 254l-5 10l-1 11M1403 349l1-15l-5-14M1448 347l-7 10l-10 8M1401 159l-5 1l-5-1M1452 144l-4-11l-3-11M1675 286l-2-7l-4-6M1400 183l4-8l3-8M1399 198l4-13l2-14M1425 191l-3-5l0-6M1549 285l-2 13l2 13M1570 167l0 9l-2 9M1517 278l14-3l12-8M1472 186l0 12l0 12M1419 353l-5 4l-4 5M1413 325l2 9l-1 9M1585 341l-4-4l-5-2M1621 152l-10-4l-9-6M1498 171l4 13l-2 14M1614 149l-7-1l-7-1M1575 355l-2 14l2 14M1669 193l0-7l2-7M1532 278l2 14l0 14M1580 316l6-2l6-3M1401 257l13-5l13-5M1590 153l-5-8l-3-9M1432 150l-4-1l-4-3M1633 318l6-3l5-5M1514 158l8 8l4 11M1376 256l7 0l7 0M1389 245l7 11l3 13M1583 205l4 2l3 3M1547 111l-8 2l-9 1M1419 72l4 0l4-1M1584 168l-13 1l-12-5M1583 315l-12 0l-12-1M1563 328l-6 2l-6 0M1525 231l4-9l7-7M1583 334l10-7l12-4M1446 299l5 1l5 0M1566 298l8-8l3-11M1394 96l11 4l10 5M1482 102l9 1l9 3M1653 274l-10-2l-10 1M1555 201l-8-7l-7-8M1651 320l-5 9l-5 8M1381 150l5 14l-1 14M1521 214l-7-6l-6-7M1502 89l-4 0l-4 0M1674 331l4-10l3-10M1666 131l11 9l14 3M1455 175l-3 11l-7 9M1527 254l-13 3l-12 5M1430 365l4-8l5-7M1436 211l10-5l6-9M1411 95l-1 6l-1 6M1548 243l3-8l2-8M1379 82l-6-2l-7-1M1557 246l-9 11l-4 14M1480 194l3 4l3 4M1440 121l-9-2l-10 0M1615 204l-5 14l-7 13M1606 300l2-7l3-6M1388 192l-1 9l-1 9M1652 88l3-3l4-2M1373 282l-10-6l-9-7M1677 119l-6 9l-5 10M1565 94l-8 4l-8 2M1447 217l-3 10l-5 9M1460 241l15-3l14-4M1584 363l-2-6l-3-6M1647 154l-7 5l-6 7M1474 292l12 5l13 2M1548 345l1 6l-1 5M1531 223l11-4l11-1M1656 189l7 3l6 5M1425 224l10 5l7 9M1572 342l3 5l4 4M1607 244l6 13l1 14M1606 111l-11 1l-9 6M1621 318l-2 9l-5 8M1671 354l-3-9l-6-7M1373 231l5 12l4 13M1566 285l-1-13l-3-13M1454 341l9-2l8-5M1405 264l3-13l-2-13M1619 186l-4 3l-4 3M1661 239l-6-12l-5-13M1386 312l-12 8l-9 11M1577 182l5 12l7 11M1519 92l9 2l7 5M1377 276l8 1l8-2M1615 233l2-7l1-7M1672 272l9-5l6-8M1668 169l-1 11l-4 11M1533 350l14 6l10 11M1668 132l-11-10l-12-9M1466 316l-8 3l-8 0M1472 151l-7 7l-5 9M1476 224l-5 7l-6 5M1611 325l-2 11l-2 11M1505 178l-10-1l-9-5M1673 165l12 8l13 4M1543 231l-9-1l-8-5M1480 163l-2-4l-1-4M1522 120l7-10l3-11M1380 131l10-4l6-8M1664 341l6 1l6 1M1385 150l-2 14l-4 14M1630 247l1 8l3 8M1561 149l-9 6l-6 9M1472 336l-6-4l-5-6M1513 335l2 7l-1 7M1581 283l4-3l5-1M1519 354l-10 8l-11 6M1635 330l4 1l3 3M1480 164l-1 15l-5 14M1394 359l-9-10l-11-7M1570 185l-11 9l-7 12M1376 141l-8-12l-10-11M1597 342l0 8l-4 8M1554 94l-1-8l1-8M1438 85l9-5l8-7M1536 243l9 11l3 14M1511 183l6-4l5-5M1602 78l-3-13l-5-13M1600 219l13 4l10 9M1474 176l-12 7l-13 6M1642 334l-7 3l-6 4M1490 359l3-9l7-7M1671 77l1-7l1-8M1465 75l-2 6l-3 5M1627 105l2-3l1-4M1392 300l8 5l9 2M1419 350l5 2l4 4M1570 168l5 8l2 9M1625 176l-1-11l-2-11M1375 196l8-5l10-2M1528 177l-1-6l-3-6M1418 285l12-8l15-3M1581 255l10 11l11 10M1479 293l4-5l2-6M1383 313l11 6l11 7M1653 258l11-10l8-13M1555 330l-9-11l-6-12M1632 259l8-2l8 0M1520 222l9 2l8 4M1616 204l0 13l-4 13M1468 186l-6-3l-6-3M1395 249l-8 9l-8 9M1457 219l1 6l3 5M1453 367l3 14l1 15M1600 187l-1-7l1-7M1562 117l14-3l13-7M1645 252l6 3l6 3M1562 163l4-12l5-11M1494 303l4 9l1 10M1514 86l10-9l8-10M1440 278l-3 13l-5 13M1515 172l-4 0l-4-1M1457 86l4 4l5 2M1408 348l-6-1l-6-2M1469 333l12-1l12 2M1574 237l10-4l11 0M1473 203l2-13l4-12M1457 106l-1-6l-3-6M1534 208l8 8l11 3M1498 85l-8 8l-6 10M1525 257l0-6l-1-6M1557 272l-1-14l3-14M1402 201l10-2l10-2M1404 94l6 2l7 1M1649 257l-8 2l-7 4M1547 84l-13 0l-13 4M1618 356l-4 5l-5 3M1468 210l4 0l4-2M1513 89l5-2l5-3M1530 196l3-10l5-10M1507 359l-3-14l-7-12M1623 265l7 10l10 7M1492 185l10 8l11 7M1472 213l-2 7l-1 7M1654 357l-6 6l-8 2M1638 179l-4-8l0-9M1501 148l4 11l0 12M1379 87l10 2l10-1M1633 195l9 4l7 7M1509 110l1 12l3 12M1550 304l-4-5l-5-3M1439 153l-6-7l-4-9M1417 128l-6 1l-5 2M1651 325l10-8l5-12M1531 328l-1 6l1 6M1497 182l8 4l9 0M1593 150l11 0l11-1M1554 181l-3 6l-2 7M1382 72l5 2l4 3M1386 122l3 6l4 5" stroke="#44c656" stroke-width="1" fill="none" opacity="0.9" stroke-linejoin="round"/>
<path d="M1498 314l-15 10l-12 13l-13 12M1649 132l14-4l14-3l13-7M1444 320l1 17l-4 16l-5 16M1395 296l0-12l0-12l-2-12M1396 109l13 6l14 4l13 7M1466 222l-16 5l-15 8l-12 11M1564 268l-3 15l2 16l-2 16M1569 213l1 5l2 5l2 5M1525 289l8-4l9-2l8-4M1575 253l-11 4l-9 8l-7 10M1635 191l0 8l0 8l-2 7M1384 208l1 8l3 7l3 7M1505 354l-10 1l-9-2l-9-2M1435 198l-10-6l-10-6l-12-3M1514 166l-14 0l-13 4l-13 3M1591 192l-9-6l-10-3l-11-2M1574 150l8 3l8 2l8 1M1591 138l-5 8l-7 7l-5 8M1465 132l-9-6l-9-5l-10-4M1565 154l0-10l2-9l4-9M1549 290l9-2l9-1l8-4M1420 322l-5-6l-4-6l-5-6M1652 158l-8-4l-7-6l-6-7M1441 177l-4 13l0 14l3 13M1487 228l-5-3l-5-4l-4-5M1418 226l-3-9l-3-9l-4-9M1567 178l4-6l2-7l0-7M1540 148l14-4l15 0l14-4M1594 321l-13 9l-14 8l-14 8M1605 82l15-1l15-4l14-7M1555 161l-14 9l-15 7l-16 6M1561 227l2 18l1 18l3 18M1442 352l1-8l-1-8l0-8M1519 95l0 8l-2 7l-3 7M1560 98l-8 5l-9 4l-8 6M1660 241l-7 3l-7 3l-6 4M1381 187l-2-5l-3-5l-4-4M1653 150l7 4l6 5l4 7M1451 312l7 3l7 3l7 3M1470 247l12-4l12-3l12-3M1387 295l-1 10l-4 10l-4 10M1645 186l-2-18l4-18l9-16M1438 211l-3 16l-8 15l-2 16M1591 221l-14-6l-15-5l-14-6M1608 272l-2-8l-4-7l-6-6M1474 286l0-17l6-16l11-14M1544 286l-7 8l-8 6l-9 4M1577 259l2-7l3-7l0-7M1645 256l5 13l1 14l-3 14M1443 252l-11-13l-7-16l-3-17M1646 128l-8 15l-5 16l-1 17M1494 169l2-6l4-5l3-6M1621 217l7 9l6 9l7 9M1566 143l16 6l14 9l15 7M1521 317l-4-6l-5-6l-3-7M1604 276l-2 17l-8 16l-12 13M1643 148l6-15l0-16l2-16M1591 233l6-9l4-10l3-11M1524 72l-12 12l-7 16l-7 16M1622 331l-6 0l-6 0l-6 0M1544 149l-13 12l-9 15l-10 14M1525 146l-9-15l-12-13l-16-8M1521 364l4-10l5-10l2-11M1546 219l6-6l6-6l7-5M1410 87l-8 1l-8 3l-8 1M1468 233l8-2l8-4l8-3M1568 153l12 4l11 7l9 10M1402 80l-1-14l1-14l2-13M1385 340l6 2l5 4l4 5M1569 173l2 13l2 13l6 11M1549 242l-8 11l-5 13l-5 13M1554 227l7 3l7 3l7 0M1392 324l18 2l16 7l17 6M1584 130l7-8l5-9l7-8M1578 211l2-6l3-6l3-6M1426 106l7-12l10-10l7-12M1514 186l-4-9l-4-9l-1-10M1608 137l2 5l0 5l-1 5M1388 234l-9-8l-9-8l-10-7M1512 322l-5 1l-5 2l-4 3M1551 258l-5 1l-5 2l-5 3M1425 312l-5 10l-7 9l-4 11M1581 317l6-1l6 1l6 2M1501 363l3 12l2 12l1 12M1526 212l8 4l7 5l7 5M1539 288l-6-8l-7-7l-6-8M1549 135l11 13l7 16l11 13M1487 368l16-6l14-9l14-9M1403 98l4 8l5 8l6 6M1486 350l-4 9l-2 10l-2 10M1650 274l13 11l11 13l10 14M1481 172l-15 7l-13 11l-14 9M1421 145l1 18l-4 18l-2 18M1639 295l-7 3l-6 5l-5 6M1668 270l-3 6l-4 5l-5 3M1508 289l-7 17l-6 17l-8 16M1632 303l3 15l-2 15l1 15M1615 133l1 15l5 14l5 14M1453 314l14 5l14 6l15 3M1556 355l-3 14l1 14l-3 14M1404 169l8-6l9-4l10-1M1676 358l-10-6l-11-3l-11-4M1647 246l7-7l6-8l4-9M1427 272l0-17l1-17l7-16M1458 221l0 6l0 6l-2 6M1574 248l-7-6l-5-8l-4-8M1451 179l13 9l15 5l14 8M1410 224l15-8l14-9l15-6M1452 110l9 9l11 6l12 3M1592 229l-6-16l-11-13l-10-14M1473 116l-12 8l-9 12l-9 12M1424 278l1-12l2-12l-2-12M1558 280l-8-16l-13-13l-10-16M1523 311l-12-3l-12-1l-12-2M1389 192l-8 10l-7 11l-6 11M1377 297l7-1l7 1l6 4M1456 309l0 9l1 9l1 9M1419 130l-8-12l-5-13l-5-13M1408 94l6 6l6 6l6 6M1531 268l3 6l1 6l-1 6M1673 351l-10 4l-11 4l-11 2M1661 347l-7 12l-7 12l-7 12M1642 108l-3-14l-5-13l-7-12M1635 277l14 5l15 2l15 0M1585 126l18 4l18-1l17-5M1580 180l18 2l16 8l15 10M1616 295l8 12l6 14l5 14M1493 363l-5-15l-10-12l-7-14M1403 321l-11-12l-8-14l-2-16M1676 362l-13 10l-15 5l-15 6M1405 339l2-16l-1-16l1-17M1428 358l-6-9l-7-8l-9-5M1481 233l-5 9l-6 9l-7 8M1576 195l5 4l4 5l5 3M1657 288l-5 3l-3 4l-4 4M1429 83l12-8l10-10l7-12M1638 83l1 9l2 9l1 9M1443 369l-1 9l-3 9l-3 9M1396 254l-2 15l-3 14l-8 12M1380 298l7-1l7 0l7 1M1378 191l-12 11l-9 13l-6 15M1666 274l10-8l12-4l11-6M1603 204l12 9l14 6l13 8M1441 136l6-10l9-7l8-9M1388 174l-15 2l-15 0l-14-5M1585 110l5 3l3 4l2 5M1574 298l-7 0l-7 2l-7 0M1374 308l-16-2l-15-6l-14-8M1653 355l12 7l9 10l11 8M1660 75l11 10l12 9l8 12M1451 147l12 10l9 13l6 15M1382 192l6-6l6-6l6-5M1557 73l1-7l3-6l2-6M1448 181l16 4l16 5l13 10M1618 95l-5 4l-4 5l-4 5M1511 243l-2-12l-4-12l1-12M1604 84l9 2l9 2l9 1M1495 324l1 12l1 12l2 12M1600 273l10-3l10-2l10 0M1662 203l2-10l3-9l4-9M1599 353l-7 14l-9 13l-11 11M1633 253l4 8l4 8l1 9M1639 144l1-7l-2-7l0-7M1664 342l-15 6l-16 4l-17 2M1451 332l4-12l3-13l-1-13M1401 176l-8-13l-6-14l-10-11M1611 309l14-1l13-5l14-1M1643 180l6 0l6 0l6 0M1469 316l15 3l16 0l16 0M1656 292l-12-11l-14-7l-15-6M1612 98l17 0l16 5l13 10M1568 226l-7-7l-6-8l-7-7M1387 329l6-14l7-14l8-14M1396 359l-16-4l-17 1l-17-1M1619 239l4 6l3 7l2 7M1589 366l18-2l18 3l18 3M1628 143l6-12l7-12l9-11M1436 115l-9-1l-9-1l-9-2M1609 89l-8 10l-5 12l-7 11M1390 89l-12-9l-11-9l-12-8M1561 75l-8 14l-5 15l-8 14M1668 185l-11-8l-12-7l-13-3M1671 363l-9 9l-8 10l-7 11M1662 137l10-2l10-2l10-2M1413 313l15-9l15-8l17-3M1553 270l4 14l6 14l3 14M1491 365l10 1l10 4l9 5M1406 139l4-14l7-12l8-12M1557 153l1-8l4-7l5-6M1465 360l4 16l6 16l7 15M1429 131l10-14l12-12l15-7M1455 282l3-14l7-12l5-13M1622 264l5 1l5 2l5 1M1624 282l10-7l10-7l10-7M1420 363l-15-2l-15 0l-15-3M1528 99l12 8l10 10l12 8M1647 125l11 6l10 8l12 5M1531 295l12-9l13-8l14-7M1578 193l16 1l16 1l15 6M1477 194l1 14l3 14l3 14M1427 299l-6-11l-9-9l-8-9M1629 336l8-8l4-10l6-9M1594 95l6 3l6 2l5 3M1398 303l4-12l7-11l9-9M1421 345l0 5l1 5l1 5M1514 293l7 2l7 2l8 0M1412 140l2 5l2 5l1 5M1634 254l4-6l3-7l4-6M1620 163l2 11l4 11l2 11M1424 360l6 3l6 3l7 2M1465 325l7 0l7 0l7-2M1663 298l7 10l6 10l8 9M1414 225l-14 5l-12 9l-11 10M1456 138l10-3l10-2l10-3M1602 268l-11-12l-10-13l-13-10M1598 261l-15 3l-15 3l-16-1M1608 113l-9 10l-9 11l-11 9M1394 338l14-2l14 3l14 1M1390 166l-6-11l-7-10l-10-8M1546 259l15 1l15-4l14-6M1486 116l-9 6l-9 7l-10 5M1415 176l8-9l5-10l5-11M1569 206l-13-2l-13-4l-11-8M1588 337l5-10l7-9l8-8M1651 161l-3-18l-7-17l-3-18M1508 185l7 3l6 4l5 6M1525 290l1 6l0 6l-1 6M1666 250l-12 9l-12 8l-13 7M1417 128l-10 15l-8 16l-4 18M1417 108l-7-3l-7-3l-8-1M1395 173l-8 2l-8 2l-7 4M1609 266l-9 2l-10 1l-9-2M1658 194l2 17l0 17l2 17M1416 289l-2-7l-1-7l-1-7M1390 304l10 13l10 13l7 15M1423 261l8-6l8-6l8-6M1623 306l7-5l8-3l8-1M1566 280l-5-1l-5-1l-4-3M1428 194l12 10l8 13l4 15M1516 139l-5 15l-1 16l-3 16M1470 117l-13 2l-13 4l-13 0M1480 199l4-5l6-4l6-2M1432 308l-5-12l-8-10l-11-7M1566 290l5-2l6-1l6 0M1507 253l5-16l-1-16l3-16M1611 169l2-13l-1-13l-1-13M1512 271l12 8l11 9l7 12M1596 154l2 14l2 14l5 13M1672 165l-6 12l-8 10l-9 10M1580 292l11-9l10-11l11-10M1413 175l-2 6l-1 6l0 7M1475 332l16 7l14 9l12 12M1626 184l-6-8l-4-10l-5-10M1420 106l13 12l14 10l10 14M1491 225l16 8l17 5l17 3M1563 370l7 0l7-1l7 0M1534 290l3-7l0-8l0-8M1628 126l-4 6l-5 4l-4 6M1396 149l0 8l-1 8l-2 8M1509 187l-1-9l1-9l3-9M1642 182l7 2l6 4l7 3M1603 91l-7-2l-7 1l-7 1M1399 361l2-10l3-10l5-9M1590 362l0 15l0 15l0 15M1605 206l-9 1l-9-2l-8-4M1473 339l16-5l16-5l15-8M1507 168l1 13l3 13l2 13M1573 172l-7-13l-9-11l-8-13M1624 246l-4-13l-1-13l-4-13M1437 326l16-6l14-10l16-6M1455 77l-5-10l-7-8l-10-6M1528 168l-7 7l-7 7l-9 5M1530 204l12 11l13 10l10 13M1449 337l-10-9l-11-8l-10-10M1411 340l-12 4l-12 6l-9 9M1509 119l-16-9l-17-6l-18-4M1586 315l12 4l12 6l10 8M1484 311l-8 7l-5 9l-3 10M1622 157l14 4l14 0l14 1M1663 103l13-2l13-1l12-3M1544 306l-6 9l-7 9l-6 10M1513 95l-9 1l-9 3l-9 1M1373 307l14-11l11-14l14-12M1607 106l10-2l10-2l10-2M1409 281l5-4l4-5l5-4M1650 326l-15-1l-15 3l-13 8M1560 305l7 6l7 6l8 4M1644 253l-10 13l-14 9l-14 9M1626 359l7 9l8 8l7 9M1408 151l14-7l13-9l15-5M1382 230l11 9l12 8l10 10M1637 75l11 4l10 5l11 3M1490 238l5-2l5-3l5-3M1423 290l-11 14l-12 14l-13 12M1451 333l-9-3l-8-4l-8-4M1480 146l14-3l15-1l14 2M1672 283l-11 14l-13 12l-10 14M1437 264l-9-8l-11-5l-11-5M1652 227l6 0l6-1l6-1M1569 295l14 1l13-3l13-4M1389 258l-15 9l-15 8l-14 10M1525 229l-12 2l-12 4l-11 6M1611 244l-2 9l-3 9l-2 9M1539 229l-12-1l-12 2l-11 3M1656 318l-7-10l-8-10l-4-12M1407 255l15-6l13-10l13-10M1485 275l5 5l4 6l5 5M1408 276l14 4l13 8l10 11M1604 238l3 8l3 8l0 8M1653 167l-12-1l-12-1l-12 1M1609 100l3-5l4-4l3-5M1549 348l15 11l17 7l16 9M1593 152l7-13l6-13l6-13M1474 116l-13-8l-13-8l-12-9M1627 129l-9-6l-8-8l-6-9M1501 85l3 10l0 10l-2 10M1377 153l-10 0l-10-3l-10-1M1436 288l-2-9l-2-8l-4-8M1433 93l-4 3l-3 4l-2 5M1651 265l0-7l-2-7l0-7M1582 72l10-12l13-8l11-10M1602 204l3 13l2 13l0 13M1590 258l13-6l12-7l14-3M1397 189l2 16l7 14l2 16M1609 309l1-6l3-6l2-6M1607 227l8 14l10 13l11 12M1645 297l-1 7l-2 7l-2 7M1426 76l-16 9l-16 9l-13 13M1410 344l15 8l13 12l14 10M1635 131l3 4l4 4l5 3M1530 128l-5 9l-4 10l-5 9M1496 172l4-7l5-7l7-5M1515 144l-9-10l-10-9l-7-11M1589 225l-16 6l-16 5l-17 4M1610 222l-12-1l-12-2l-12-3M1439 112l8-3l8-5l8-3M1399 234l-8-5l-9-3l-8-6M1443 75l-4 14l-1 14l-5 14M1521 234l0-15l-1-15l-5-14M1629 172l-14-3l-14-4l-13-5M1405 345l6 2l5 3l5 4M1551 211l-15-11l-16-10l-17-6M1406 72l8 1l8 0l8 2M1380 286l-5-16l-3-17l0-17M1527 149l15-2l15 3l15-2M1500 326l-6 10l-7 9l-7 9M1574 94l-7-10l-8-8l-10-5M1405 350l4-6l6-5l7-3M1437 240l14-3l13-6l14-2M1640 219l-12 0l-12 4l-10 7M1527 171l13 6l13 6l10 10M1633 348l-3 7l-2 8l0 8M1674 116l-17 2l-17 2l-17-3M1539 342l13 10l9 14l5 16M1400 138l-10-9l-8-11l-9-10M1649 176l2-7l0-7l-1-7M1435 121l6 0l6 1l5 2M1507 239l8-7l8-7l8-7M1549 341l14 11l15 10l17 4M1631 315l-11 4l-10 7l-10 6M1508 120l-2-12l-4-12l-4-12M1568 184l8 1l8 1l8 1M1561 259l12 6l13 3l13 3M1521 257l-7 6l-7 7l-5 8M1421 337l5-12l0-13l0-13M1381 233l13-2l12-6l11-8M1493 131l-5 1l-5 1l-4 3M1380 288l-10 3l-10 3l-10 3M1414 348l-6 8l-7 7l-9 5M1526 238l-3 11l-3 11l-2 11M1448 320l10-4l10-5l10-5M1542 291l-12 13l-13 13l-13 13M1658 254l7-2l7-2l8-1M1550 149l7 6l7 6l7 6M1448 342l-6-2l-6-1l-6-2M1653 131l9-13l7-14l4-15M1498 236l-1 16l-1 16l-1 16M1525 101l6 11l8 9l5 11M1540 291l11 10l10 12l6 14M1619 94l-12 13l-13 13l-13 13M1510 208l-2-7l0-7l1-7M1473 175l7 5l6 6l5 7M1498 348l15-7l15-7l12-11M1409 177l-2 6l-1 6l1 6M1624 302l-7-11l-9-8l-7-10M1392 73l-10-1l-10-2l-10-3M1426 80l3 5l2 5l2 5M1524 249l-5 16l-7 15l-10 13M1592 124l2 16l1 16l-1 16M1464 155l7 11l7 11l8 10M1484 133l5-17l3-17l3-17M1629 291l-2-7l-1-7l1-7M1586 94l-4 9l-5 9l-2 10M1413 88l-10 1l-10 1l-9 4M1536 320l3 17l1 17l-2 17M1512 299l-7-10l-7-10l-4-11M1673 276l2 10l-1 10l1 10M1594 78l11-2l10-5l9-8M1596 112l-2 16l2 16l7 14M1390 244l12-8l12-8l13-5M1473 97l-5-10l-2-11l0-12M1382 341l7 12l10 9l10 9M1505 313l-5-11l-9-8l-7-10M1633 298l-11 8l-12 5l-13 3M1414 200l6 10l9 8l10 7M1421 126l-10-5l-8-7l-10-5M1604 118l-16 8l-18 3l-16 7M1633 227l6-15l9-14l4-16M1647 170l-9 3l-9 1l-9 0M1644 365l2-11l2-11l4-11M1557 195l-11 13l-11 13l-9 14M1583 134l15 2l15 4l13 8M1607 147l6-9l8-8l9-7M1663 235l0 15l2 15l-2 15M1534 140l-13-8l-10-11l-9-12M1427 280l-1-13l-1-13l2-13M1672 181l-10 15l-13 12l-13 13M1398 191l16 3l14 7l16 2M1560 113l5 4l5 4l6 3M1524 336l-10 8l-11 6l-9 8M1537 176l-11-8l-9-11l-6-13M1607 278l-6 0l-6 0l-6 0M1663 197l-13-3l-13-5l-13-1M1403 351l16 8l17 3l17-2M1615 132l8-3l9-1l9 0M1447 199l-9 0l-9-2l-9-1M1662 310l-13 6l-10 10l-12 7M1669 277l5-4l3-5l2-6M1412 141l-6-9l-8-8l-8-8M1595 344l-3 12l-6 11l-5 11M1596 125l-11 7l-13 3l-13 1M1656 171l7 11l10 9l9 9M1575 87l16 4l16 5l15 8M1622 180l0 6l-2 6l-3 5M1554 90l-2 9l-1 9l0 9M1610 120l15 1l14 3l13 6M1568 292l-2 8l-2 8l1 8M1439 88l-16 2l-16 4l-16-1M1651 220l14 5l13 5l13 6M1544 257l3-8l5-8l7-5M1463 86l1 6l1 6l0 6M1599 330l-8 16l-7 17l-5 17M1555 257l-14 3l-14 2l-13 5M1449 159l-3 10l-3 10l-5 10M1533 256l-4-5l-4-6l-3-6M1603 172l-10-3l-10 0l-10 2M1650 137l0-11l-2-11l-5-10M1462 77l3-17l6-16l7-16M1595 193l6-10l6-10l5-10M1666 107l-2-5l0-5l0-5M1412 82l14 8l14 8l14 9M1402 154l-4 6l-5 5l-6 3M1563 322l-7-13l-8-12l-11-9M1384 100l6-7l7-5l7-6M1544 361l-12 4l-12 1l-12-3M1593 167l-7 1l-7 2l-8 0M1564 296l13-5l12-6l10-9M1530 89l2 10l0 10l3 9M1565 286l4-10l7-8l8-7M1559 252l6-4l6-3l6-4M1495 334l2 9l2 9l4 8M1588 132l1-12l-1-12l-2-12M1397 123l13 4l12 6l13 5M1429 328l4-10l2-11l-1-11M1560 127l-9 14l-8 14l-11 12M1676 227l-11 4l-11 2l-10 5M1435 147l10-6l9-8l7-9M1638 90l-3 5l-2 5l-3 4M1663 153l-11 3l-11 3l-11 2M1426 355l3-5l1-6l3-5M1520 329l3-11l6-9l7-9M1538 239l-17 6l-18 1l-18 4M1380 127l-14 7l-14 7l-15 5M1434 244l-14-3l-14-2l-14 2M1556 314l10 2l11 1l10 2M1465 122l-17 2l-16 3l-17 2M1584 312l-8 15l-6 16l-8 15M1634 238l10 10l10 10l12 6M1630 157l-5-14l-5-14l-2-15M1519 316l5-6l3-7l2-8M1376 249l-2-8l-3-8l-1-8M1607 144l-1 5l0 5l-2 5M1675 312l9-8l8-9l9-7M1644 289l-4-11l-5-11l-6-10M1627 222l0 11l-2 11l-3 10M1523 221l14 5l13 7l13 7M1487 237l12 8l13 6l11 10M1432 213l7-5l8-4l8-4M1670 114l4 4l2 5l2 5M1653 143l0 17l4 17l8 15M1404 104l9 14l11 13l14 9M1675 143l18 1l16 7l14 11M1672 173l5-6l4-6l4-6M1578 96l5 15l6 14l7 14M1404 175l6-11l3-11l7-10M1450 354l-13-11l-15-8l-15-8M1487 331l-17-5l-17-4l-16-8M1496 178l3 11l2 11l3 11M1407 368l0 16l-4 15l-4 15M1631 243l9 2l8 5l9 4M1535 113l-14-3l-12-7l-14-3M1642 331l-13-12l-15-10l-12-13M1529 303l4 7l5 6l6 5M1626 265l-7-2l-7-2l-7-4M1566 294l3-12l4-12l0-13M1452 169l-18-2l-16-8l-18-3M1440 311l-9 6l-7 8l-8 8M1380 181l13 0l13-1l12-4M1531 198l-1-16l-7-15l-11-12M1457 181l-9 1l-8 4l-8 5M1409 117l-12 7l-13 6l-14 3M1406 140l-10-7l-12-3l-12-5M1673 125l-5-2l-5-1l-4-3M1442 219l7-13l4-15l0-15M1534 256l-9-7l-10-5l-9-7M1564 332l-5 11l-8 9l-10 7M1432 288l5-2l4-3l5-2M1654 84l-10 4l-10 2l-10-1M1513 108l9 12l10 11l13 9M1406 313l13 12l12 12l10 14M1420 78l5 14l2 15l-4 15M1391 90l-2 14l-1 14l-3 14M1389 357l-8-3l-8-3l-7-5M1557 101l7 5l8 4l6 6M1496 282l-1-6l0-6l-2-5M1570 180l-6-10l-7-9l-4-11M1510 156l-5-6l-4-7l-5-6M1637 348l-11 14l-12 13l-7 16M1515 337l5-3l6-2l6-2M1557 138l6 3l7 2l7 2M1499 320l18 0l18 4l18 2M1592 355l3-4l1-5l0-5M1456 88l-6 4l-6 4l-6 3M1499 105l8 10l5 12l7 11M1604 166l-5 12l-1 13l-2 13M1608 128l15 1l15 0l15 0M1430 281l-9 4l-10 1l-9 2M1433 331l2-6l4-5l3-5M1588 287l-3 6l-2 6l0 6M1570 153l5-9l2-10l2-10M1414 280l5-15l7-14l5-15M1444 253l-6 0l-6-1l-6 0M1624 143l9-12l5-14l9-12M1505 134l10-12l12-10l14-6M1442 73l4 10l6 9l7 8M1497 72l3 13l-1 13l2 13M1603 231l5-4l6-3l6-4M1582 201l0-6l1-5l1-5M1482 346l2-14l5-14l6-13M1447 173l4 5l3 6l4 5M1630 265l6 6l6 7l6 7M1450 331l1-16l-4-15l-1-16M1378 160l-7-5l-7-5l-6-6M1516 246l8-9l10-7l11-5M1568 182l-7 13l-3 14l1 15M1434 90l-11 10l-10 10l-10 10M1555 355l-6 3l-7 2l-7 2M1497 173l-13 5l-13 4l-12 6M1508 277l-12 7l-10 11l-9 11M1390 122l-12-10l-11-11l-11-11M1642 96l-12 8l-12 9l-12 9M1537 360l-13-1l-13-4l-12-5M1549 312l1 11l2 11l3 11M1383 80l14-8l15-6l14-7M1543 98l-18 4l-18-1l-18-3M1613 228l16-3l15-5l16-1M1488 290l3 12l7 11l3 12M1585 322l-16 1l-16 4l-15 7M1521 169l8 6l9 4l10 1M1507 227l0-11l1-10l1-10M1389 324l3-5l4-5l5-4M1659 183l-1-10l1-10l-2-10M1516 73l-6-3l-5-5l-6-4M1382 97l16 4l17 2l17 0M1553 361l10-2l10-1l10 2M1650 142l-15-8l-13-10l-10-13M1676 300l10 8l10 7l11 7M1542 196l-4-16l-9-14l-12-11M1611 315l-10 9l-8 11l-4 13M1494 255l13 9l13 9l11 10M1484 128l-5 6l-4 6l-5 6M1455 171l-1-17l1-17l3-16M1450 74l8 3l8 2l7 4M1636 214l-11 7l-12 4l-12 5M1583 233l7-15l5-16l4-16M1395 131l-10-13l-12-11l-8-14M1569 225l14-10l11-13l9-14M1515 265l7 9l9 8l6 10M1534 162l9-9l6-11l3-13M1618 192l6 13l2 14l3 13M1654 348l2 17l5 16l2 17M1604 121l13 1l12-3l11-6M1495 172l-10-6l-10-7l-8-9M1511 194l5-14l4-14l7-13M1604 321l-5 4l-6 4l-7 2M1456 155l10-14l8-15l10-14M1496 73l10-7l9-8l8-9M1581 302l5-2l6-1l6 0M1423 259l-3 10l-6 9l-5 9M1422 75l13-9l12-10l14-6M1390 250l-8-2l-8-1l-8 0M1545 232l0 5l1 5l-1 5M1566 85l-1 6l-2 6l-1 6M1377 86l0-13l2-13l-1-13M1595 327l-9 3l-9 4l-9 2M1473 247l1-6l1-6l0-6M1450 314l-8 2l-8 2l-7 4M1477 82l-14 3l-15 1l-14 4M1523 282l-10-5l-9-7l-7-9M1557 350l8-2l8-1l8-3M1463 131l-14-9l-12-11l-10-12M1601 223l-10 3l-10 5l-11 1M1399 154l7 5l5 7l6 6M1402 197l2-10l4-9l5-9M1568 153l1 5l1 5l-1 5M1643 324l-6-7l-5-7l-7-5M1593 257l-8-16l-4-17l-1-17M1456 324l14 1l13 5l13 3M1515 177l-17 0l-16-5l-15-8M1557 269l-7 0l-7 0l-7 0M1514 111l-17-6l-18-2l-18 0M1633 145l0-11l2-11l1-11M1570 101l16 0l16 1l16 4M1576 84l1-7l1-7l1-7M1618 73l-14 0l-13 2l-14-1M1511 99l7 4l6 5l7 4M1589 171l-2 14l-4 13l-2 14M1522 82l-12 6l-13 4l-13 2M1512 220l3-6l2-6l2-6M1411 238l8-2l8-2l8 0M1573 273l7 5l8 3l7 5M1561 210l14 3l14 3l14 4M1584 133l5-14l3-14l-2-15M1589 348l1-12l3-12l2-12M1459 99l-18 3l-18 0l-17 3M1477 197l1 11l-2 11l-5 9M1532 156l9-12l7-13l8-13M1616 153l8 15l3 17l-2 17M1568 224l3-7l4-6l4-5M1451 310l-3-4l-3-4l-3-4M1574 188l-9-15l-12-12l-11-13M1430 131l-14-12l-12-14l-15-10M1555 124l8 3l9 1l8 3M1537 119l7-7l5-9l4-9M1445 341l-1-15l-1-15l-3-15M1472 357l8-9l8-9l10-7M1512 323l-7-3l-7-4l-8-2M1652 97l-2-16l-1-16l4-16M1612 100l-9 7l-10 6l-8 9M1509 354l6-4l6-3l4-5" stroke="#46c84e" stroke-width="1.3" fill="none" opacity="0.9" stroke-linejoin="round"/>
<path d="M1650 309l-11-23l-15-21l-16-20l-14-21M1453 364l-5-22l-5-22l-8-21l-3-22M1661 75l21-5l21-6l21-5l21-6M1496 239l-8-11l-7-12l-8-11l-8-11M1525 197l-20 18l-22 15l-20 18l-19 19M1427 226l12-9l12-9l12-9l13-9M1428 244l-6-13l-3-14l-1-14l2-14M1503 185l-25 11l-23 14l-21 17l-22 15M1458 191l-6 14l-8 12l-10 11l-8 12M1594 85l23-9l24-7l24-7l23-9M1440 190l23-10l25-5l24-7l25-5M1653 222l9 12l8 13l7 13l5 14M1579 362l-27-4l-26-9l-27-7l-27-6M1638 237l16-15l15-16l16-15l17-14M1591 354l2 25l0 25l1 25l-1 25M1527 171l-18 21l-21 19l-22 17l-22 17M1446 149l15 5l15 4l16 2l15 4M1520 81l-17-16l-15-18l-12-20l-13-19M1608 130l15-15l17-14l16-15l15-15M1495 240l-19 0l-19-2l-19 0l-19-2M1539 340l13 3l13 1l13 0l13 2M1512 240l-12 8l-10 10l-8 12l-9 11M1617 85l-9 14l-9 14l-6 15l-4 16M1599 321l-9-17l-11-15l-10-16l-9-17M1620 262l17-17l20-13l18-16l16-18M1618 180l22-1l22 1l22 1l21 5M1657 142l-3 23l0 23l3 23l7 22M1431 307l0-25l4-25l5-25l9-24M1620 123l18-14l18-15l17-16l17-15M1527 302l-7 11l-7 10l-7 11l-7 11M1397 177l-25 3l-25 1l-25-2l-25-1M1406 271l-4-11l-4-11l-6-10l-4-11M1637 205l-16-1l-16-2l-16-1l-16-3M1605 170l2 24l6 24l6 24l3 24M1503 330l6-11l7-10l8-9l9-8M1605 212l15 0l15-1l15-1l15-1M1469 150l16 0l16 0l16 1l16 2M1539 84l13 11l11 14l12 13l14 11M1547 268l-4 25l-7 24l-4 25l-4 25M1460 175l4 13l4 14l4 14l4 14M1472 212l5-14l7-13l6-14l3-15M1637 272l11 17l9 18l8 19l10 18M1435 353l-11 5l-9 7l-8 8l-9 8M1522 247l-11-3l-11-3l-11-2l-11-1M1531 197l25 0l25 0l25 0l25 1" stroke="#52d458" stroke-width="2" fill="none" opacity="0.75" stroke-linejoin="round"/>
</g>
<rect x="1393" y="91.7" width="264" height="258.3" fill="none" stroke="#111" stroke-width="2" />
<text x="145.8" y="381" font-size="28.2" text-anchor="middle"><tspan fill="#e42d2f">KLF17</tspan> / <tspan fill="#53b5e6">DAPI</tspan></text>
<text x="432.6" y="381" font-size="28.2" text-anchor="middle"><tspan fill="#2fa04a">NANOG</tspan> / <tspan fill="#53b5e6">DAPI</tspan></text>
<text x="709.3" y="381" font-size="28.2" text-anchor="middle"><tspan fill="#e42d2f">T</tspan> / <tspan fill="#53b5e6">DAPI</tspan></text>
<text x="982.4" y="381" font-size="28.2" text-anchor="middle"><tspan fill="#2fa04a">FOXA2</tspan> / <tspan fill="#53b5e6">DAPI</tspan></text>
<text x="1260.7" y="381" font-size="28.2" text-anchor="middle"><tspan fill="#e42d2f">SOX1</tspan> / <tspan fill="#53b5e6">DAPI</tspan></text>
<text x="1525.3" y="381" font-size="28.2" text-anchor="middle"><tspan fill="#2fa04a">TUJ1</tspan> / <tspan fill="#53b5e6">DAPI</tspan></text>
<text x="1" y="759" font-size="41" font-weight="bold">c</text>
<text x="169.1" y="775.7" font-size="28.3" text-anchor="middle">Naive ES Cells</text>
<text x="433.3" y="775.7" font-size="28.3" text-anchor="middle">Primed ES Cells</text>
<text x="709.3" y="775.7" font-size="28.3" text-anchor="middle">Mesoderm Prog.</text>
<text x="985" y="775.7" font-size="28.3" text-anchor="middle">Endoderm Prog.</text>
<text x="1257" y="775.7" font-size="28.3" text-anchor="middle">Neural Prog.</text>
<text x="1520" y="775.7" font-size="28.3" text-anchor="middle">Neurons</text>
<text transform="translate(24.5 912) rotate(-90)" font-size="28" text-anchor="middle"><tspan fill="#2fa04a">EDC4</tspan> / <tspan fill="#3b3bab">DAPI</tspan></text>
<rect x="32.3" y="783.4" width="262" height="261.3" fill="#03030c" />
<g clip-path="url(#c7)">
<g filter="url(#bl15)">
<ellipse cx="154.3" cy="809.4" rx="28" ry="14" transform="rotate(11 154.3 809.4)" fill="#272780"/>
<ellipse cx="162.1" cy="804.5" rx="17.4" ry="8.7" transform="rotate(140.6 162.1 804.5)" fill="#272780"/>
<ellipse cx="142.3" cy="811.3" rx="17.4" ry="8.7" transform="rotate(153.9 142.3 811.3)" fill="#272780"/>
<ellipse cx="122.3" cy="853.4" rx="26" ry="24" transform="rotate(-9.5 122.3 853.4)" fill="#25257a"/>
<ellipse cx="110.6" cy="852.6" rx="16.1" ry="14.9" transform="rotate(113.4 110.6 852.6)" fill="#25257a"/>
<ellipse cx="125.4" cy="843" rx="16.1" ry="14.9" transform="rotate(16.9 125.4 843)" fill="#25257a"/>
<ellipse cx="177.3" cy="875.4" rx="26" ry="30" transform="rotate(-10.7 177.3 875.4)" fill="#212170"/>
<ellipse cx="165.9" cy="872.2" rx="16.1" ry="18.6" transform="rotate(160.3 165.9 872.2)" fill="#212170"/>
<ellipse cx="169.5" cy="865.3" rx="16.1" ry="18.6" transform="rotate(107.2 169.5 865.3)" fill="#212170"/>
<ellipse cx="132.3" cy="903.4" rx="22" ry="12" transform="rotate(13.9 132.3 903.4)" fill="#272780"/>
<ellipse cx="126.7" cy="899" rx="13.6" ry="7.4" transform="rotate(110.8 126.7 899)" fill="#272780"/>
<ellipse cx="137.7" cy="907.9" rx="13.6" ry="7.4" transform="rotate(2.7 137.7 907.9)" fill="#272780"/>
<ellipse cx="205.3" cy="923.4" rx="9" ry="19" transform="rotate(-13.2 205.3 923.4)" fill="#232374"/>
<ellipse cx="206.8" cy="931.4" rx="5.6" ry="11.8" transform="rotate(43.5 206.8 931.4)" fill="#232374"/>
<ellipse cx="209.3" cy="925" rx="5.6" ry="11.8" transform="rotate(83.5 209.3 925)" fill="#232374"/>
<ellipse cx="156.3" cy="952.4" rx="18" ry="22" transform="rotate(2.7 156.3 952.4)" fill="#272780"/>
<ellipse cx="159" cy="961.7" rx="11.2" ry="13.6" transform="rotate(42.1 159 961.7)" fill="#272780"/>
<ellipse cx="154.1" cy="961.9" rx="11.2" ry="13.6" transform="rotate(0.8 154.1 961.9)" fill="#272780"/>
<ellipse cx="191.3" cy="974.4" rx="9" ry="22" transform="rotate(-1.3 191.3 974.4)" fill="#232374"/>
<ellipse cx="190.6" cy="984.1" rx="5.6" ry="13.6" transform="rotate(179.6 190.6 984.1)" fill="#232374"/>
<ellipse cx="195.3" cy="974.1" rx="5.6" ry="13.6" transform="rotate(151.2 195.3 974.1)" fill="#232374"/>
<ellipse cx="157.3" cy="1013.4" rx="25" ry="16" transform="rotate(-5.5 157.3 1013.4)" fill="#212170"/>
<ellipse cx="158.7" cy="1020.5" rx="15.5" ry="9.9" transform="rotate(52 158.7 1020.5)" fill="#212170"/>
<ellipse cx="167.5" cy="1016.5" rx="15.5" ry="9.9" transform="rotate(137.9 167.5 1016.5)" fill="#212170"/>
</g>
<g filter="url(#bl1)">
<path d="M122 857l0.1 0m17.9-41l-1-2m5 201l1 0m24-157l2 3m4-52l-4 0m4 52l0 2" stroke="#161660" stroke-width="7" stroke-linecap="round" fill="none" opacity="0.60"/>
<path d="M110 848l0-2m20 59l0 3m29-89l-1-1m36 146l-3-1" stroke="#2a2a8a" stroke-width="5" stroke-linecap="round" fill="none" opacity="0.60"/>
<path d="M153 947l0 4m7-75l6 0m0-64l4 1m6 80l0 2m7-40l0 1" stroke="#2c2c90" stroke-width="5" stroke-linecap="round" fill="none" opacity="0.60"/>
<path d="M162 962l-4 4m11-158l-3 4m8 78l2 4" stroke="#161660" stroke-width="5" stroke-linecap="round" fill="none" opacity="0.60"/>
<path d="M117 901l1 2m3-5l-1 3m40 55l-1 0m1 67l-1 3m11-162l-1 1m2-52l-1 0m2-5l0 1m25 157l0.1 0" stroke="#1a1a68" stroke-width="6" stroke-linecap="round" fill="none" opacity="0.60"/>
<path d="M112 864l-2 3m46-52l3 1" stroke="#1a1a68" stroke-width="7" stroke-linecap="round" fill="none" opacity="0.60"/>
<path d="M107 844l1 2m48-33l2 3m5 64l-1-1m30-8l0.1 0m0.9 110l0-2" stroke="#161660" stroke-width="6" stroke-linecap="round" fill="none" opacity="0.60"/>
<path d="M118 869l1 2m7-20l-2 3m5 1l2 4m36 28l-6 1m26 83l5 2m6-54l1 1m4 1l-5 0" stroke="#2a2a8a" stroke-width="4" stroke-linecap="round" fill="none" opacity="0.60"/>
<path d="M131 861l2 5m10 82l2 2m13-3l4 1m-1 6l0.1 0m7.9-80l-1 2m10-16l0.1 0m21.9 68l0 6" stroke="#1a1a68" stroke-width="5" stroke-linecap="round" fill="none" opacity="0.60"/>
<path d="M119 861l1 0m42 148l0.1 0m5.9-3l0 2" stroke="#1a1a68" stroke-width="8" stroke-linecap="round" fill="none" opacity="0.60"/>
<path d="M116 843l4 1m-2 15l4 3m-1 38l-3 2m45-29l3 0m0 142l2 3" stroke="#161660" stroke-width="4" stroke-linecap="round" fill="none" opacity="0.60"/>
<path d="M141 857l-1 1m11 153l4 1m30-146l2 1" stroke="#2a2a8a" stroke-width="6" stroke-linecap="round" fill="none" opacity="0.60"/>
<path d="M137 855l0.1 0" stroke="#161660" stroke-width="8" stroke-linecap="round" fill="none" opacity="0.60"/>
<path d="M135 859l0.1 0" stroke="#1a1a68" stroke-width="9" stroke-linecap="round" fill="none" opacity="0.60"/>
<path d="M127 838l0.1 0m2.9 66l-1 0m18 106l-2 3" stroke="#2a2a8a" stroke-width="7" stroke-linecap="round" fill="none" opacity="0.60"/>
<path d="M139 908l-1 1m22 104l0.1 0m25.9-124l0.1 0m0.9-5l1 2" stroke="#2a2a8a" stroke-width="8" stroke-linecap="round" fill="none" opacity="0.60"/>
<path d="M155 937l-3 6m15-51l-1 0" stroke="#1a1a68" stroke-width="4" stroke-linecap="round" fill="none" opacity="0.60"/>
<path d="M157 966l0 1m24-73l0 2m5-10l0.1 0" stroke="#2c2c90" stroke-width="9" stroke-linecap="round" fill="none" opacity="0.60"/>
<path d="M202 934l0 2" stroke="#161660" stroke-width="9" stroke-linecap="round" fill="none" opacity="0.60"/>
<path d="M160 962l-1 6" stroke="#2c2c90" stroke-width="4" stroke-linecap="round" fill="none" opacity="0.60"/>
<path d="M151 1010l-2 2" stroke="#2c2c90" stroke-width="6" stroke-linecap="round" fill="none" opacity="0.60"/>
<path d="M170 1007l0 2" stroke="#2c2c90" stroke-width="8" stroke-linecap="round" fill="none" opacity="0.60"/>
</g>
<path d="M35 851h0m4-58h0m5 16h0m2 83h0m17 116h0m7 26h0m3-32h0m0-64h0m1-93h0m5-38h0m1 147h0m10 1h0m1-99h0m0 115h0m6-3h0m1 13h0m2-126h0m5-9h0m2 42h0m1-71h0m5 99h0m1 105h0m0-99h0m1-35h0m1 105h0m1-93h0m0 26h0m1 95h0m0-6h0m4-89h0m3-53h0m1-48h0m1-4h0m1 158h0m1-93h0m6-62h0m6 96h0m1 21h0m3-27h0m0 19h0m4 47h0m0-27h0m0 46h0m2 9h0m1-166h0m6 74h0m1-61h0m3-36h0m0 165h0m3-1h0m3-177h0m3 238h0m3-104h0m2 19h0m8-54h0m1 68h0m3 47h0m1-160h0m1 106h0m2 8h0m6-83h0m2 72h0m2-176h0m1 49h0m7 101h0m1 12h0m1-151h0m0 59h0m3-23h0m13-43h0m2 232h0m1-23h0m4-63h0m6 40h0m4 45h0m1-202h0m0 86h0m2-119h0m1 4h0m3 194h0m2-175h0m0 46h0m6 138h0m16-36h0m2-73h0m4 31h0m1-31h0m3 90h0m0 33h0m3-97h0" stroke="#6cc850" stroke-width="1.5" stroke-linecap="round" fill="none" opacity="0.85"/>
<path d="M47 825h0m57-14h0m6-22h0m5 1h0m60 81h0m10-8h0m19-54h0m15 102h0m26-70h0m1 53h0m7 0h0" stroke="#a8e08c" stroke-width="2.6" stroke-linecap="round" fill="none" />
<line x1="37.3" y1="1037.4" x2="82.3" y2="1037.4" stroke="#fff" stroke-width="2.5" />
</g>
<rect x="32.3" y="783.4" width="262" height="261.3" fill="none" stroke="#111" stroke-width="2" />
<rect x="304.2" y="783" width="262.4" height="262" fill="#03030c" />
<g clip-path="url(#c8)">
<g filter="url(#bl15)">
<ellipse cx="366.2" cy="823" rx="22" ry="25" transform="rotate(-6.9 366.2 823)" fill="#272780"/>
<ellipse cx="356.5" cy="821" rx="13.6" ry="15.5" transform="rotate(63 356.5 821)" fill="#272780"/>
<ellipse cx="358.9" cy="830.6" rx="13.6" ry="15.5" transform="rotate(179.4 358.9 830.6)" fill="#272780"/>
<ellipse cx="425.2" cy="831" rx="26" ry="24" transform="rotate(-6.8 425.2 831)" fill="#272780"/>
<ellipse cx="429.5" cy="821" rx="16.1" ry="14.9" transform="rotate(124.3 429.5 821)" fill="#272780"/>
<ellipse cx="415.8" cy="824.6" rx="16.1" ry="14.9" transform="rotate(100.5 415.8 824.6)" fill="#272780"/>
<ellipse cx="476.2" cy="814" rx="21" ry="22" transform="rotate(14.3 476.2 814)" fill="#25257a"/>
<ellipse cx="469.8" cy="821.3" rx="13" ry="13.6" transform="rotate(61.1 469.8 821.3)" fill="#25257a"/>
<ellipse cx="478.5" cy="823.6" rx="13" ry="13.6" transform="rotate(103.7 478.5 823.6)" fill="#25257a"/>
<ellipse cx="529.2" cy="836" rx="17" ry="27" transform="rotate(-12.8 529.2 836)" fill="#25257a"/>
<ellipse cx="526.2" cy="824.8" rx="10.5" ry="16.7" transform="rotate(60.7 526.2 824.8)" fill="#25257a"/>
<ellipse cx="522.9" cy="842.9" rx="10.5" ry="16.7" transform="rotate(151.6 522.9 842.9)" fill="#25257a"/>
<ellipse cx="309.2" cy="846" rx="14" ry="26" transform="rotate(12.6 309.2 846)" fill="#232374"/>
<ellipse cx="311.9" cy="835.4" rx="8.7" ry="16.1" transform="rotate(119.2 311.9 835.4)" fill="#232374"/>
<ellipse cx="310.3" cy="857.5" rx="8.7" ry="16.1" transform="rotate(178.1 310.3 857.5)" fill="#232374"/>
<ellipse cx="410.2" cy="876" rx="21" ry="25" transform="rotate(13.4 410.2 876)" fill="#272780"/>
<ellipse cx="417.4" cy="883.3" rx="13" ry="15.5" transform="rotate(76.2 417.4 883.3)" fill="#272780"/>
<ellipse cx="416.4" cy="884.4" rx="13" ry="15.5" transform="rotate(56.3 416.4 884.4)" fill="#272780"/>
<ellipse cx="334.2" cy="896" rx="24" ry="22" transform="rotate(14.3 334.2 896)" fill="#25257a"/>
<ellipse cx="342.3" cy="889.5" rx="14.9" ry="13.6" transform="rotate(99.9 342.3 889.5)" fill="#25257a"/>
<ellipse cx="323.4" cy="895.5" rx="14.9" ry="13.6" transform="rotate(15 323.4 895.5)" fill="#25257a"/>
<ellipse cx="506.2" cy="884" rx="29" ry="23" transform="rotate(5 506.2 884)" fill="#272780"/>
<ellipse cx="493.4" cy="886" rx="18" ry="14.3" transform="rotate(109.7 493.4 886)" fill="#272780"/>
<ellipse cx="493.6" cy="881.4" rx="18" ry="14.3" transform="rotate(115.3 493.6 881.4)" fill="#272780"/>
<ellipse cx="430.2" cy="918" rx="15" ry="18" transform="rotate(14 430.2 918)" fill="#232374"/>
<ellipse cx="436.9" cy="916.8" rx="9.3" ry="11.2" transform="rotate(119.4 436.9 916.8)" fill="#232374"/>
<ellipse cx="426" cy="924.4" rx="9.3" ry="11.2" transform="rotate(65.4 426 924.4)" fill="#232374"/>
<ellipse cx="377.2" cy="936" rx="25" ry="21" transform="rotate(5.2 377.2 936)" fill="#272780"/>
<ellipse cx="385.7" cy="942.2" rx="15.5" ry="13" transform="rotate(42.3 385.7 942.2)" fill="#272780"/>
<ellipse cx="369.8" cy="943.2" rx="15.5" ry="13" transform="rotate(92 369.8 943.2)" fill="#272780"/>
<ellipse cx="474.2" cy="940" rx="28" ry="24" transform="rotate(-14.2 474.2 940)" fill="#25257a"/>
<ellipse cx="479.7" cy="930.3" rx="17.4" ry="14.9" transform="rotate(77.4 479.7 930.3)" fill="#25257a"/>
<ellipse cx="461.7" cy="938.7" rx="17.4" ry="14.9" transform="rotate(40 461.7 938.7)" fill="#25257a"/>
<ellipse cx="538.2" cy="923" rx="24" ry="13" transform="rotate(-13.7 538.2 923)" fill="#272780"/>
<ellipse cx="541.3" cy="928.6" rx="14.9" ry="8.1" transform="rotate(109.3 541.3 928.6)" fill="#272780"/>
<ellipse cx="538.4" cy="917.2" rx="14.9" ry="8.1" transform="rotate(39.7 538.4 917.2)" fill="#272780"/>
<ellipse cx="314.2" cy="961" rx="18" ry="26" transform="rotate(5.9 314.2 961)" fill="#232374"/>
<ellipse cx="322.1" cy="963.7" rx="11.2" ry="16.1" transform="rotate(49.8 322.1 963.7)" fill="#232374"/>
<ellipse cx="309.7" cy="970.7" rx="11.2" ry="16.1" transform="rotate(114.6 309.7 970.7)" fill="#232374"/>
<ellipse cx="538.2" cy="963" rx="24" ry="21" transform="rotate(0.4 538.2 963)" fill="#232374"/>
<ellipse cx="530.9" cy="970" rx="14.9" ry="13" transform="rotate(61.1 530.9 970)" fill="#232374"/>
<ellipse cx="527.8" cy="965.6" rx="14.9" ry="13" transform="rotate(125.5 527.8 965.6)" fill="#232374"/>
<ellipse cx="391.2" cy="977" rx="25" ry="20" transform="rotate(-7.8 391.2 977)" fill="#272780"/>
<ellipse cx="402.4" cy="976.4" rx="15.5" ry="12.4" transform="rotate(83.7 402.4 976.4)" fill="#272780"/>
<ellipse cx="380.5" cy="974.3" rx="15.5" ry="12.4" transform="rotate(32.7 380.5 974.3)" fill="#272780"/>
<ellipse cx="452.2" cy="981" rx="20" ry="19" transform="rotate(12.4 452.2 981)" fill="#25257a"/>
<ellipse cx="461.2" cy="981.4" rx="12.4" ry="11.8" transform="rotate(48.3 461.2 981.4)" fill="#25257a"/>
<ellipse cx="453.4" cy="972.5" rx="12.4" ry="11.8" transform="rotate(61.5 453.4 972.5)" fill="#25257a"/>
<ellipse cx="335.2" cy="1015" rx="21" ry="29" transform="rotate(8.8 335.2 1015)" fill="#25257a"/>
<ellipse cx="325.8" cy="1014.9" rx="13" ry="18" transform="rotate(44.6 325.8 1014.9)" fill="#25257a"/>
<ellipse cx="342.2" cy="1023.7" rx="13" ry="18" transform="rotate(65 342.2 1023.7)" fill="#25257a"/>
<ellipse cx="393.2" cy="1024" rx="24" ry="20" transform="rotate(-14.3 393.2 1024)" fill="#25257a"/>
<ellipse cx="388.5" cy="1032.1" rx="14.9" ry="12.4" transform="rotate(141.7 388.5 1032.1)" fill="#25257a"/>
<ellipse cx="398.5" cy="1016.2" rx="14.9" ry="12.4" transform="rotate(115.1 398.5 1016.2)" fill="#25257a"/>
<ellipse cx="470.2" cy="1026" rx="18" ry="18" transform="rotate(8.5 470.2 1026)" fill="#25257a"/>
<ellipse cx="462.1" cy="1025.9" rx="11.2" ry="11.2" transform="rotate(88.2 462.1 1025.9)" fill="#25257a"/>
<ellipse cx="465.3" cy="1032.4" rx="11.2" ry="11.2" transform="rotate(123.2 465.3 1032.4)" fill="#25257a"/>
<ellipse cx="519.2" cy="1018" rx="26" ry="26" transform="rotate(11.8 519.2 1018)" fill="#272780"/>
<ellipse cx="525.3" cy="1028" rx="16.1" ry="16.1" transform="rotate(52.4 525.3 1028)" fill="#272780"/>
<ellipse cx="527.4" cy="1009.6" rx="16.1" ry="16.1" transform="rotate(50.1 527.4 1009.6)" fill="#272780"/>
<ellipse cx="326.2" cy="786" rx="17" ry="10" transform="rotate(6.1 326.2 786)" fill="#272780"/>
<ellipse cx="327.9" cy="790.4" rx="10.5" ry="6.2" transform="rotate(51.3 327.9 790.4)" fill="#272780"/>
<ellipse cx="326" cy="790.5" rx="10.5" ry="6.2" transform="rotate(123 326 790.5)" fill="#272780"/>
<ellipse cx="422.2" cy="786" rx="14" ry="8" transform="rotate(-11 422.2 786)" fill="#232374"/>
<ellipse cx="427" cy="783.6" rx="8.7" ry="5" transform="rotate(75.7 427 783.6)" fill="#232374"/>
<ellipse cx="422.5" cy="789.6" rx="8.7" ry="5" transform="rotate(78.4 422.5 789.6)" fill="#232374"/>
<ellipse cx="379.2" cy="785" rx="8" ry="5" transform="rotate(1.8 379.2 785)" fill="#232374"/>
<ellipse cx="376.7" cy="783.4" rx="5" ry="3.1" transform="rotate(165.6 376.7 783.4)" fill="#232374"/>
<ellipse cx="382.7" cy="784.5" rx="5" ry="3.1" transform="rotate(136.9 382.7 784.5)" fill="#232374"/>
</g>
<g filter="url(#bl1)">
<path d="M327 1030l0.1 0m28.9-201l-1 2m32 138l-2 1m27-135l0 1m46 142l0.1 0m5.9 10l0.1 0m16.9 43l0 2m18-155l0 3m20-45l0 1m7 133l2 1" stroke="#2c2c90" stroke-width="8" stroke-linecap="round" fill="none" opacity="0.60"/>
<path d="M310 857l-2 5m17-83l1 0m6 216l0 2m47-177l-1 2m5 120l0-1m5-12l0 2m39-12l0 1m61 21l-3 2m23-71l1 2m18-21l-1 1m4 154l-2-2m7-46l-1 3" stroke="#1a1a68" stroke-width="5" stroke-linecap="round" fill="none" opacity="0.60"/>
<path d="M313 948l0.1 0m64.9-135l0 1m102 117l0.1 0" stroke="#2a2a8a" stroke-width="9" stroke-linecap="round" fill="none" opacity="0.60"/>
<path d="M308 951l-1 2m21 64l0 2m1-123l4 3m9-16l0 4m28-79l-1 1m12 167l-3 1m9-53l0 1m5 55l-5 0m9-11l0 2m35-132l0 5m0 60l1 6m0-71l-1-2m25 144l4 1m17-177l-2 2m2 138l0 6m8-23l0 2m3 17l-1 4m17-66l2 1m12 130l0 2m2 8l-1 0m13-77l0 4" stroke="#2a2a8a" stroke-width="5" stroke-linecap="round" fill="none" opacity="0.60"/>
<path d="M320 895l0.1 0m10.9-105l-2 2m33 26l0.1 0m80.9 10l1 1m80 125l0.1 0" stroke="#1a1a68" stroke-width="8" stroke-linecap="round" fill="none" opacity="0.60"/>
<path d="M338 1000l-2 1m16-174l-1 0m5-6l0.1 0m9.9 10l-3 1m12-4l-1 0m4-4l-1 2m11 199l-4 1m9 0l-2 1m33-118l-1 1m10-67l1 1m5-14l-1-3m27-8l2 1m8 215l0.1 0m12.9-152l0.1 0m3.9-11l-1 1m25 9l0.1 0m3.9-49l-1 2m9 185l0.1 0m0.9-67l-1 3m1 6l-3 2m6-126l-2 3m3 164l0.1 0m16.9-41l-1 4" stroke="#2c2c90" stroke-width="5" stroke-linecap="round" fill="none" opacity="0.60"/>
<path d="M339 892l3 2m21-65l0 2m21-47l0.1 0m1.9 239l1 0m13-160l0.1 0m0.9 165l-1 1m58-90l0 1m46 70l-1 1m4 14l0.1 0m1.9-9l1 0" stroke="#1a1a68" stroke-width="7" stroke-linecap="round" fill="none" opacity="0.60"/>
<path d="M316 954l-1 1m11 0l-1 2m47-124l0.1 0m13.9 202l1 0m19-175l1 2m56-47l1 2m11 123l0 3m3-8l-1 1m32-36l-1 0" stroke="#2a2a8a" stroke-width="8" stroke-linecap="round" fill="none" opacity="0.60"/>
<path d="M302 858l0-1m11 108l3 3m19 54l4 2m11-3l-2 1m20-204l-2 3m23 113l-1 0m6 4l-2 0m9 37l2 3m10-140l0 1m0 52l3 4m15-64l3 1m42 186l-1 0m48-2l0.1 0m0.9-188l-5 1m14 92l-2 2m3 6l-2 3" stroke="#2a2a8a" stroke-width="6" stroke-linecap="round" fill="none" opacity="0.60"/>
<path d="M313 844l-1-2m12 120l0 3m71-26l-2-2m18-104l0 1m3 41l0.1 0m1.9-32l0 1m47 174l-1 0m17-219l-4 1m8 143l-2 1m38-68l-5 1m13 124l-3 1m8-172l2 3m-1 14l0.1 0" stroke="#2c2c90" stroke-width="6" stroke-linecap="round" fill="none" opacity="0.60"/>
<path d="M301 838l0 3m7 132l-1 1m32-95l-1 3m51 43l2 1m3 106l2 2m8-163l3 2m-1 18l0 2m6-33l1 3m15-42l1 3m23 165l0 1m9 2l-1 0m6-186l0 3m15 15l1 1m4 127l-1 0m28-68l0.1 0m14.9 40l0.1 0m17.9 5l-3 1" stroke="#2c2c90" stroke-width="7" stroke-linecap="round" fill="none" opacity="0.60"/>
<path d="M311 849l0 4m39 157l-2 1m39 18l-2-2m49-114l0.1 0m6.9-87l-1-2m11 153l-2 0m56-80l-1 1m18 27l0.1 0m6.9-3l3 0" stroke="#161660" stroke-width="6" stroke-linecap="round" fill="none" opacity="0.60"/>
<path d="M320 1020l4 0m2-1l2 4m93-243l1 2m5 32l-4 2m57 0l2 0m39 58l-3 1" stroke="#1a1a68" stroke-width="4" stroke-linecap="round" fill="none" opacity="0.60"/>
<path d="M301 854l0.1 0m1.9 110l-2 1m9-127l-1 2m1 116l-1 4m15-75l-2 2m12 137l0.1 0m63.9 0l1 0m24-196l0 4m10 86l0 3m18 54l-2 2m12 57l0.1 0m55.9-26l0 1m15-78l1 1m1-84l0.1 0" stroke="#1a1a68" stroke-width="6" stroke-linecap="round" fill="none" opacity="0.60"/>
<path d="M307 848l-2 3m104-26l-3 1m103 57l-1 1" stroke="#2c2c90" stroke-width="4" stroke-linecap="round" fill="none" opacity="0.60"/>
<path d="M334 906l-1 0m3 3l0.1 0m2.9 110l-1 2m45-5l0.1 0m23.9-36l-1 1m6-92l-2 1m14-14l0.1 0m43.9 145l-1 2m20-76l0.1 0m1.9-130l0.1 0m17.9 49l1 2" stroke="#161660" stroke-width="8" stroke-linecap="round" fill="none" opacity="0.60"/>
<path d="M382 935l-1 1m109-127l0 1" stroke="#2c2c90" stroke-width="9" stroke-linecap="round" fill="none" opacity="0.60"/>
<path d="M316 976l1 4m5-194l2 5m15 103l3 3m-2 127l-1 1m26-92l-1 0m6-7l-2-1m36-41l0.1 0m-0.1 101l-1-1m2-97l-4 3m32 19l-1 0m15 77l-2 3m15-18l-4 3m23 46l3 1m1-200l1 0m4 107l1 0m16-51l0 2m29 90l-1-2" stroke="#161660" stroke-width="5" stroke-linecap="round" fill="none" opacity="0.60"/>
<path d="M313 950l0 2m13-43l0 2m1-118l0-1m13 94l3 3m-3 106l-3 1m33-70l0 3m28 43l1 2m18-99l0.1 0m51.9 162l1 1m14-220l0.1 0m38.9 22l-1 1m30 120l-2 2" stroke="#2a2a8a" stroke-width="7" stroke-linecap="round" fill="none" opacity="0.60"/>
<path d="M518 1008l0.1 0m2.9-160l0 1m28 120l0.1 0" stroke="#161660" stroke-width="9" stroke-linecap="round" fill="none" opacity="0.60"/>
<path d="M335 884l2 0m2 144l2 3m0-18l0 4m6-115l-1 2m30 24l-1 1m3 46l3 0m2 38l3 3m10-46l-1 2m6 49l0-1m2-43l-1 2m16-103l-1-1m9-86l-2 2m58 163l0.1 0m1.9-14l-1 1m23-54l-2 2m6 138l-1 1m24-197l-2-1m6 131l0.1 0" stroke="#161660" stroke-width="7" stroke-linecap="round" fill="none" opacity="0.60"/>
<path d="M315 840l4 5m62 101l0 6m18 72l0 2m85-85l3 4m24 65l2 0m28-48l3 3" stroke="#2a2a8a" stroke-width="4" stroke-linecap="round" fill="none" opacity="0.60"/>
<path d="M402 980l1 2m78-54l1 0m38-32l0.1 0m9.9 137l-1 1" stroke="#1a1a68" stroke-width="9" stroke-linecap="round" fill="none" opacity="0.60"/>
<path d="M519 1014l-6 1" stroke="#161660" stroke-width="4" stroke-linecap="round" fill="none" opacity="0.60"/>
</g>
<path d="M305 963h0m2-33h0m6 7h0m2-79h0m1-8h0m3 61h0m2 98h0m0-71h0m2-76h0m1-27h0m0 188h0m4-17h0m2-55h0m0 41h0m1-148h0m0-33h0m1 181h0m1 1h0m1-78h0m3 130h0m1-252h0m4 137h0m2-91h0m1 126h0m1-86h0m1 108h0m1 31h0m1 6h0m0-181h0m2 10h0m1 127h0m3-184h0m0 58h0m1 60h0m1-99h0m2 163h0m2-129h0m1 92h0m0-145h0m3 177h0m0-31h0m2-91h0m0 98h0m0-63h0m0 69h0m4-153h0m1 155h0m2 4h0m3-79h0m1-57h0m2 76h0m5-118h0m3 76h0m1 129h0m1-187h0m1 206h0m1-186h0m1 193h0m5-226h0m1 97h0m2-48h0m0 145h0m3 29h0m0-183h0m2 160h0m2-61h0m2-119h0m0 220h0m0-203h0m4 0h0m1 72h0m0-45h0m3 158h0m3-164h0m2 35h0m6 101h0m2-128h0m1-34h0m3 6h0m1 206h0m0-26h0m0-2h0m4-88h0m3 65h0m1 7h0m4-83h0m1 65h0m3-168h0m4 122h0m5 46h0m0-12h0m1 61h0m2-6h0m5-114h0m1 95h0m0-139h0m2 188h0m3-74h0m4-66h0m3-11h0m3 115h0m4-171h0m1 159h0m3 31h0m0-73h0m1-115h0m0 13h0m5 194h0m2-28h0m7-2h0m3-172h0m5 17h0m2-12h0m1-40h0m1 122h0m2-43h0m0 1h0m1-75h0m1 9h0m1-16h0m1-8h0m0 2h0m0 139h0m2-108h0m1 127h0m0-33h0m3 111h0m3-55h0m1-47h0m0-70h0m0 63h0m2 24h0m4-53h0m2 89h0m2 55h0m1-5h0m0-52h0m1-113h0m3-54h0m2 93h0m2-5h0m0 6h0m1-121h0m1 106h0m1-28h0m1 39h0m3-98h0m2 123h0m0-97h0m1 157h0" stroke="#6cc850" stroke-width="1.5" stroke-linecap="round" fill="none" opacity="0.85"/>
<path d="M312 867h0m0 107h0m28-93h0m10-33h0m18 148h0m13-35h0m11 26h0m1-187h0m10 54h0m5 131h0m7-175h0m21 202h0m1-1h0m43-160h0m26 148h0m3-41h0m15-99h0m23 157h0" stroke="#a8e08c" stroke-width="2.6" stroke-linecap="round" fill="none" />
</g>
<rect x="304.2" y="783" width="262.4" height="262" fill="none" stroke="#111" stroke-width="2" />
<rect x="574.8" y="783.4" width="266.2" height="261" fill="#03030c" />
<g clip-path="url(#c9)">
<g filter="url(#bl15)">
<ellipse cx="620.8" cy="797.4" rx="16" ry="13" transform="rotate(-6.3 620.8 797.4)" fill="#212170"/>
<ellipse cx="626.9" cy="794.3" rx="9.9" ry="8.1" transform="rotate(144.4 626.9 794.3)" fill="#212170"/>
<ellipse cx="626.3" cy="793.7" rx="9.9" ry="8.1" transform="rotate(117.4 626.3 793.7)" fill="#212170"/>
<ellipse cx="717.8" cy="800.4" rx="18" ry="14" transform="rotate(11.1 717.8 800.4)" fill="#25257a"/>
<ellipse cx="712.7" cy="795.5" rx="11.2" ry="8.7" transform="rotate(33.7 712.7 795.5)" fill="#25257a"/>
<ellipse cx="725.1" cy="803.1" rx="11.2" ry="8.7" transform="rotate(152.2 725.1 803.1)" fill="#25257a"/>
<ellipse cx="659.8" cy="823.4" rx="17" ry="17" transform="rotate(-14.1 659.8 823.4)" fill="#212170"/>
<ellipse cx="665.2" cy="828.9" rx="10.5" ry="10.5" transform="rotate(123.1 665.2 828.9)" fill="#212170"/>
<ellipse cx="667.4" cy="823.3" rx="10.5" ry="10.5" transform="rotate(178.7 667.4 823.3)" fill="#212170"/>
<ellipse cx="830.8" cy="818.4" rx="10" ry="16" transform="rotate(-12.5 830.8 818.4)" fill="#25257a"/>
<ellipse cx="832" cy="811.5" rx="6.2" ry="9.9" transform="rotate(159.9 832 811.5)" fill="#25257a"/>
<ellipse cx="830.4" cy="825.6" rx="6.2" ry="9.9" transform="rotate(81.2 830.4 825.6)" fill="#25257a"/>
<ellipse cx="650.8" cy="859.4" rx="20" ry="21" transform="rotate(13.5 650.8 859.4)" fill="#272780"/>
<ellipse cx="653.2" cy="850.3" rx="12.4" ry="13" transform="rotate(46.2 653.2 850.3)" fill="#272780"/>
<ellipse cx="656.1" cy="851.8" rx="12.4" ry="13" transform="rotate(87.6 656.1 851.8)" fill="#272780"/>
<ellipse cx="732.8" cy="877.4" rx="13" ry="28" transform="rotate(5.1 732.8 877.4)" fill="#272780"/>
<ellipse cx="737.3" cy="869.3" rx="8.1" ry="17.4" transform="rotate(115 737.3 869.3)" fill="#272780"/>
<ellipse cx="729.5" cy="867" rx="8.1" ry="17.4" transform="rotate(62.3 729.5 867)" fill="#272780"/>
<ellipse cx="807.8" cy="851.4" rx="23" ry="23" transform="rotate(5.7 807.8 851.4)" fill="#212170"/>
<ellipse cx="798" cy="847.9" rx="14.3" ry="14.3" transform="rotate(134.7 798 847.9)" fill="#212170"/>
<ellipse cx="814.7" cy="859.2" rx="14.3" ry="14.3" transform="rotate(121.8 814.7 859.2)" fill="#212170"/>
<ellipse cx="623.8" cy="888.4" rx="15" ry="13" transform="rotate(1.1 623.8 888.4)" fill="#272780"/>
<ellipse cx="622" cy="894" rx="9.3" ry="8.1" transform="rotate(32.3 622 894)" fill="#272780"/>
<ellipse cx="619.6" cy="893" rx="9.3" ry="8.1" transform="rotate(66.8 619.6 893)" fill="#272780"/>
<ellipse cx="836.8" cy="887.4" rx="10" ry="18" transform="rotate(3.2 836.8 887.4)" fill="#212170"/>
<ellipse cx="833.2" cy="892.3" rx="6.2" ry="11.2" transform="rotate(23.5 833.2 892.3)" fill="#212170"/>
<ellipse cx="832.3" cy="887.9" rx="6.2" ry="11.2" transform="rotate(42.4 832.3 887.9)" fill="#212170"/>
<ellipse cx="620.8" cy="930.4" rx="20" ry="25" transform="rotate(11.6 620.8 930.4)" fill="#25257a"/>
<ellipse cx="618.1" cy="919.7" rx="12.4" ry="15.5" transform="rotate(23.6 618.1 919.7)" fill="#25257a"/>
<ellipse cx="612.6" cy="935.2" rx="12.4" ry="15.5" transform="rotate(113.2 612.6 935.2)" fill="#25257a"/>
<ellipse cx="701.8" cy="933.4" rx="27" ry="21" transform="rotate(-3.3 701.8 933.4)" fill="#272780"/>
<ellipse cx="699.4" cy="924.1" rx="16.7" ry="13" transform="rotate(167.9 699.4 924.1)" fill="#272780"/>
<ellipse cx="713.5" cy="935.9" rx="16.7" ry="13" transform="rotate(25.5 713.5 935.9)" fill="#272780"/>
<ellipse cx="799.8" cy="921.4" rx="18" ry="23" transform="rotate(4.2 799.8 921.4)" fill="#272780"/>
<ellipse cx="804.2" cy="930.1" rx="11.2" ry="14.3" transform="rotate(74.4 804.2 930.1)" fill="#272780"/>
<ellipse cx="805.3" cy="913.8" rx="11.2" ry="14.3" transform="rotate(159.5 805.3 913.8)" fill="#272780"/>
<ellipse cx="591.8" cy="951.4" rx="17" ry="21" transform="rotate(-8.9 591.8 951.4)" fill="#212170"/>
<ellipse cx="596.4" cy="943.9" rx="10.5" ry="13" transform="rotate(67.5 596.4 943.9)" fill="#212170"/>
<ellipse cx="590.2" cy="942.2" rx="10.5" ry="13" transform="rotate(24.7 590.2 942.2)" fill="#212170"/>
<ellipse cx="764.8" cy="977.4" rx="22" ry="31" transform="rotate(6.7 764.8 977.4)" fill="#25257a"/>
<ellipse cx="767.2" cy="990.9" rx="13.6" ry="19.2" transform="rotate(111.1 767.2 990.9)" fill="#25257a"/>
<ellipse cx="756.2" cy="970.6" rx="13.6" ry="19.2" transform="rotate(106.4 756.2 970.6)" fill="#25257a"/>
<ellipse cx="664.8" cy="1001.4" rx="29" ry="20" transform="rotate(2.5 664.8 1001.4)" fill="#212170"/>
<ellipse cx="653" cy="997.6" rx="18" ry="12.4" transform="rotate(32.8 653 997.6)" fill="#212170"/>
<ellipse cx="669.4" cy="1009.8" rx="18" ry="12.4" transform="rotate(141.7 669.4 1009.8)" fill="#212170"/>
<ellipse cx="705.8" cy="1002.4" rx="16" ry="26" transform="rotate(12 705.8 1002.4)" fill="#232374"/>
<ellipse cx="709.4" cy="1012.6" rx="9.9" ry="16.1" transform="rotate(77.2 709.4 1012.6)" fill="#232374"/>
<ellipse cx="699.8" cy="995.8" rx="9.9" ry="16.1" transform="rotate(145.3 699.8 995.8)" fill="#232374"/>
<ellipse cx="609.8" cy="1018.4" rx="20" ry="21" transform="rotate(14.1 609.8 1018.4)" fill="#232374"/>
<ellipse cx="613.9" cy="1010" rx="12.4" ry="13" transform="rotate(116.1 613.9 1010)" fill="#232374"/>
<ellipse cx="600.9" cy="1016.8" rx="12.4" ry="13" transform="rotate(22.8 600.9 1016.8)" fill="#232374"/>
<ellipse cx="826.8" cy="1025.4" rx="14" ry="18" transform="rotate(-11.4 826.8 1025.4)" fill="#212170"/>
<ellipse cx="824.8" cy="1033.1" rx="8.7" ry="11.2" transform="rotate(48.4 824.8 1033.1)" fill="#212170"/>
<ellipse cx="821.6" cy="1020.8" rx="8.7" ry="11.2" transform="rotate(13.9 821.6 1020.8)" fill="#212170"/>
<ellipse cx="766.8" cy="1038.4" rx="17" ry="10" transform="rotate(0.7 766.8 1038.4)" fill="#272780"/>
<ellipse cx="771.4" cy="1034.8" rx="10.5" ry="6.2" transform="rotate(6.4 771.4 1034.8)" fill="#272780"/>
<ellipse cx="763.6" cy="1042.5" rx="10.5" ry="6.2" transform="rotate(27.9 763.6 1042.5)" fill="#272780"/>
<ellipse cx="587.8" cy="980.4" rx="7" ry="5" transform="rotate(-8.3 587.8 980.4)" fill="#272780"/>
<ellipse cx="588.6" cy="982.6" rx="4.3" ry="3.1" transform="rotate(143.8 588.6 982.6)" fill="#272780"/>
<ellipse cx="585.6" cy="982" rx="4.3" ry="3.1" transform="rotate(128.6 585.6 982)" fill="#272780"/>
</g>
<g filter="url(#bl1)">
<path d="M623 800l0.1 0m19.9 52l1 2m16-35l-1 0m14 184l0 1m1-1l0.1 0m25.9 6l0 1m1-90l0 1m36-41l0.1 0m71.9-40l0.1 0m2.9 13l0 2m3 5l0.1 0m13.9-39l-1 0m9 71l0-1" stroke="#2a2a8a" stroke-width="8" stroke-linecap="round" fill="none" opacity="0.60"/>
<path d="M614 794l1 1m3 233l-3 0m36-25l-4 2m9-156l-3 0m68 85l0.1 0m39.9 104l-5 3m8-69l-1 2m6 64l0-4m25-128l-1 2m11 2l-1 1m13-58l-5 0" stroke="#2c2c90" stroke-width="5" stroke-linecap="round" fill="none" opacity="0.60"/>
<path d="M585 944l-6 1m20 72l-6 2m20-219l4 1m109 83l4 5m102-70l-2 1" stroke="#161660" stroke-width="4" stroke-linecap="round" fill="none" opacity="0.60"/>
<path d="M618 793l-1 0m14 127l-1 0m26-74l-1 1m12-13l-1 0m75 44l-1 2m23 96l0 1m34-122l-1 1" stroke="#161660" stroke-width="8" stroke-linecap="round" fill="none" opacity="0.60"/>
<path d="M608 1018l-2 1m9-104l-1 0m2-24l-2 1m5-90l-1 2m1 84l1 3m6 49l0 3m37-117l3 4m-1 1l-1 0m7 178l0 1m11-4l-1 0m26 4l1 2m42-32l1 3m21 60l-1 0m23-130l0 2m25-62l-3 2" stroke="#1a1a68" stroke-width="6" stroke-linecap="round" fill="none" opacity="0.60"/>
<path d="M718 805l3 1m120 88l-1 5" stroke="#2c2c90" stroke-width="4" stroke-linecap="round" fill="none" opacity="0.60"/>
<path d="M608 1015l-1 0m2 5l2 3m0-95l1 4m46 56l1 4m3 20l0.1 0m23.9-83l0.1 0m20.9-129l1 2m44 162l1 2" stroke="#2c2c90" stroke-width="6" stroke-linecap="round" fill="none" opacity="0.60"/>
<path d="M620 1012l1 4m28-151l2 0m75 6l-1 2m2-66l-1 0m41 234l0 1m28-126l1 2m1 6l0.1 0" stroke="#1a1a68" stroke-width="7" stroke-linecap="round" fill="none" opacity="0.60"/>
<path d="M648 1000l0 2m44-68l-1 2m20 0l-1-1m16-141l3 1m8 91l-1 1m44 96l0.1 0" stroke="#2c2c90" stroke-width="7" stroke-linecap="round" fill="none" opacity="0.60"/>
<path d="M602 941l-6 1m18 68l1 2m10-88l-5 4m76 16l2 3m24-146l4 4m12 64l-2 5m107 9l-3 2" stroke="#1a1a68" stroke-width="4" stroke-linecap="round" fill="none" opacity="0.60"/>
<path d="M600 944l-2 0m9 77l1 1m12-104l1 0m23-50l1 3m12-15l1 1m5 137l-1 2m33-49l0 1m11-149l0 1m63 179l-1 2m42-131l-1-1m3-8l-1 0" stroke="#161660" stroke-width="7" stroke-linecap="round" fill="none" opacity="0.60"/>
<path d="M603 948l-2 1m62-123l0.1 0m32.9 173l-1 1m74-26l-1 0m68 48l0.1 0" stroke="#2c2c90" stroke-width="8" stroke-linecap="round" fill="none" opacity="0.60"/>
<path d="M600 952l-1 1m20-7l-3 0m17-9l-2 1m28-114l0.1 0m10.9 169l3 3m39 4l-1 2m97-70l0 1m9 94l1 1m13-220l-4 0m4 220l-1 3m2-142l0.1 0" stroke="#1a1a68" stroke-width="5" stroke-linecap="round" fill="none" opacity="0.60"/>
<path d="M652 870l0 1m20-52l-2 1m9 177l-1 2m18-60l3 3m11 71l0 4m7-80l-3 2m14-65l-3 4m40 104l0.1 0m44.9-56l-2 2m11-85l2 3" stroke="#2a2a8a" stroke-width="5" stroke-linecap="round" fill="none" opacity="0.60"/>
<path d="M614 916l0.1 0m4.9 5l-2 0m9-40l2 0m1 2l-1 2m80 38l-1 0m10 85l-1 0m3-72l0-3m40 43l-1 1m8 12l0.1 0m30.9-68l-2 1m31 110l-3-1m9 0l-3 2m5-205l-3 0" stroke="#161660" stroke-width="6" stroke-linecap="round" fill="none" opacity="0.60"/>
<path d="M639 852l-1 3m14-11l0 2m0 156l0-1m1-154l0.1 0m77.9 41l-1-1m33 73l1 0m8 28l0 4m26-146l-1 3" stroke="#2a2a8a" stroke-width="7" stroke-linecap="round" fill="none" opacity="0.60"/>
<path d="M605 1014l1 6m11-1l-1 3m3-77l2 2m90 47l-4 1m21-135l5 1m23 128l-1 0m16-14l0.1 0" stroke="#161660" stroke-width="5" stroke-linecap="round" fill="none" opacity="0.60"/>
<path d="M662 993l-1 2m97-11l0 5m61-131l-4 1" stroke="#2a2a8a" stroke-width="4" stroke-linecap="round" fill="none" opacity="0.60"/>
<path d="M595 951l1 2m2-4l2 1m24-5l3 2m35 59l-1 2m45-4l1 5m7-78l-3 1m90-83l0.1 0m5.9 80l1 5m4-77l0.1 0" stroke="#2a2a8a" stroke-width="6" stroke-linecap="round" fill="none" opacity="0.60"/>
<path d="M713 922l0.1 0" stroke="#1a1a68" stroke-width="9" stroke-linecap="round" fill="none" opacity="0.60"/>
<path d="M697 993l0.1 0m11.9-58l-1 1m61 26l1 2m65 58l1 3" stroke="#1a1a68" stroke-width="8" stroke-linecap="round" fill="none" opacity="0.60"/>
<path d="M602 959l-1 1m101 40l1 1m102-75l-1 1" stroke="#161660" stroke-width="9" stroke-linecap="round" fill="none" opacity="0.60"/>
<path d="M764 964l1 0" stroke="#2a2a8a" stroke-width="9" stroke-linecap="round" fill="none" opacity="0.60"/>
</g>
<path d="M575 879h0m0 46h0m1-98h0m3 210h0m2-206h0m2-6h0m0 126h0m4 34h0m2-189h0m2 134h0m1 36h0m2 43h0m0-66h0m1-110h0m1-32h0m0 202h0m1-42h0m3 63h0m0-165h0m1-10h0m0 66h0m0-73h0m1-21h0m2 201h0m1-17h0m0-55h0m4-86h0m2 56h0m0 7h0m1 13h0m3-38h0m0-72h0m4-11h0m1 191h0m0-25h0m0-162h0m4 18h0m5-3h0m2 78h0m0 25h0m3 66h0m1-4h0m3-41h0m0-103h0m1 136h0m9-31h0m1 23h0m1-125h0m0 61h0m2 57h0m0-121h0m0 100h0m0-68h0m1-39h0m1-59h0m0 107h0m6 8h0m1 114h0m0-149h0m1-36h0m1 201h0m1-155h0m0 151h0m2-168h0m2 140h0m1-14h0m1-205h0m1 20h0m1 105h0m0-90h0m2 182h0m0-181h0m1 94h0m0 40h0m1 86h0m1-226h0m0 92h0m0 101h0m3-11h0m2-208h0m2 43h0m1 103h0m0 56h0m1-189h0m0 217h0m3-134h0m0 123h0m2-144h0m1 66h0m0 112h0m0-52h0m0-46h0m1 6h0m2 87h0m4-186h0m1 25h0m3-23h0m1 78h0m2 74h0m2-63h0m1-1h0m3-119h0m0 90h0m0 85h0m1-24h0m1 11h0m1 13h0m3-122h0m4-35h0m1 49h0m1 81h0m2 68h0m4-255h0m0 30h0m1 10h0m0 117h0m1-130h0m0 30h0m0 147h0m9-159h0m4 32h0m3 132h0m0-107h0m2 15h0m0-77h0m4-15h0m1 199h0m1-184h0m1-21h0m3 146h0m1-61h0m0 57h0m5-94h0m3 4h0m3 71h0m1-57h0m2 119h0m5-115h0m2 67h0m0-124h0m3 25h0m2 145h0m2-134h0m2 4h0m2-25h0m0 76h0m5 59h0m0-27h0m4-143h0m4 244h0m3-8h0m0-130h0m4 20h0m1 102h0m3-232h0m0 159h0m2 53h0m3-41h0m0 52h0m1-203h0m0 51h0m4 37h0m0-16h0m2 106h0m1-161h0m1 15h0m2 71h0m1-61h0m1-32h0m6 85h0" stroke="#6cc850" stroke-width="1.5" stroke-linecap="round" fill="none" opacity="0.85"/>
<path d="M575 1003h0m1 19h0m29-24h0m11-52h0m13 11h0m4 44h0m4-185h0m20 34h0m32 139h0m19-156h0m27 26h0m15 162h0m5-184h0m11 162h0m5-157h0m8 55h0m6 58h0m20-158h0m3 189h0m15-200h0m10 13h0" stroke="#a8e08c" stroke-width="2.6" stroke-linecap="round" fill="none" />
</g>
<rect x="574.8" y="783.4" width="266.2" height="261" fill="none" stroke="#111" stroke-width="2" />
<rect x="849.4" y="783.4" width="264.9" height="261" fill="#03030c" />
<g clip-path="url(#c10)">
<g filter="url(#bl15)">
<ellipse cx="870.4" cy="838.4" rx="20" ry="35" transform="rotate(3.5 870.4 838.4)" fill="#232374"/>
<ellipse cx="870.7" cy="822.7" rx="12.4" ry="21.7" transform="rotate(94.9 870.7 822.7)" fill="#232374"/>
<ellipse cx="870.6" cy="854.1" rx="12.4" ry="21.7" transform="rotate(132.3 870.6 854.1)" fill="#232374"/>
<ellipse cx="945.4" cy="853.4" rx="36" ry="22" transform="rotate(7 945.4 853.4)" fill="#212170"/>
<ellipse cx="936.6" cy="845.1" rx="22.3" ry="13.6" transform="rotate(54.5 936.6 845.1)" fill="#212170"/>
<ellipse cx="938.9" cy="844.3" rx="22.3" ry="13.6" transform="rotate(71.4 938.9 844.3)" fill="#212170"/>
<ellipse cx="919.4" cy="893.4" rx="18" ry="23" transform="rotate(-7.1 919.4 893.4)" fill="#232374"/>
<ellipse cx="925" cy="885.9" rx="11.2" ry="14.3" transform="rotate(56.8 925 885.9)" fill="#232374"/>
<ellipse cx="922.3" cy="883.7" rx="11.2" ry="14.3" transform="rotate(64.9 922.3 883.7)" fill="#232374"/>
<ellipse cx="1046.4" cy="871.4" rx="28" ry="25" transform="rotate(-10.2 1046.4 871.4)" fill="#25257a"/>
<ellipse cx="1040" cy="861.7" rx="17.4" ry="15.5" transform="rotate(49.6 1040 861.7)" fill="#25257a"/>
<ellipse cx="1059" cy="872.1" rx="17.4" ry="15.5" transform="rotate(12.6 1059 872.1)" fill="#25257a"/>
<ellipse cx="999.4" cy="933.4" rx="18" ry="23" transform="rotate(-14.2 999.4 933.4)" fill="#212170"/>
<ellipse cx="998.2" cy="943.6" rx="11.2" ry="14.3" transform="rotate(153.7 998.2 943.6)" fill="#212170"/>
<ellipse cx="993.4" cy="940.4" rx="11.2" ry="14.3" transform="rotate(105 993.4 940.4)" fill="#212170"/>
<ellipse cx="1041.4" cy="928.4" rx="18" ry="18" transform="rotate(11.9 1041.4 928.4)" fill="#272780"/>
<ellipse cx="1048.1" cy="932.9" rx="11.2" ry="11.2" transform="rotate(115.4 1048.1 932.9)" fill="#272780"/>
<ellipse cx="1047.5" cy="923.1" rx="11.2" ry="11.2" transform="rotate(104.2 1047.5 923.1)" fill="#272780"/>
<ellipse cx="1091.4" cy="948.4" rx="22" ry="22" transform="rotate(-9.6 1091.4 948.4)" fill="#212170"/>
<ellipse cx="1099.6" cy="953.9" rx="13.6" ry="13.6" transform="rotate(157.5 1099.6 953.9)" fill="#212170"/>
<ellipse cx="1081.5" cy="947.5" rx="13.6" ry="13.6" transform="rotate(34.9 1081.5 947.5)" fill="#212170"/>
<ellipse cx="858.4" cy="942.4" rx="8" ry="21" transform="rotate(3.7 858.4 942.4)" fill="#272780"/>
<ellipse cx="854.8" cy="943.3" rx="5" ry="13" transform="rotate(50.6 854.8 943.3)" fill="#272780"/>
<ellipse cx="858.3" cy="951.8" rx="5" ry="13" transform="rotate(21.8 858.3 951.8)" fill="#272780"/>
<ellipse cx="935.4" cy="960.4" rx="23" ry="16" transform="rotate(-6.6 935.4 960.4)" fill="#232374"/>
<ellipse cx="943" cy="965.3" rx="14.3" ry="9.9" transform="rotate(29.1 943 965.3)" fill="#232374"/>
<ellipse cx="926.6" cy="964.2" rx="14.3" ry="9.9" transform="rotate(123.5 926.6 964.2)" fill="#232374"/>
<ellipse cx="874.4" cy="988.4" rx="17" ry="19" transform="rotate(-2.2 874.4 988.4)" fill="#232374"/>
<ellipse cx="881.9" cy="987" rx="10.5" ry="11.8" transform="rotate(30.3 881.9 987)" fill="#232374"/>
<ellipse cx="868.6" cy="994" rx="10.5" ry="11.8" transform="rotate(55.7 868.6 994)" fill="#232374"/>
<ellipse cx="978.4" cy="1000.4" rx="25" ry="28" transform="rotate(-1.9 978.4 1000.4)" fill="#272780"/>
<ellipse cx="969.1" cy="993.3" rx="15.5" ry="17.4" transform="rotate(17.1 969.1 993.3)" fill="#272780"/>
<ellipse cx="967.3" cy="1002.4" rx="15.5" ry="17.4" transform="rotate(42.5 967.3 1002.4)" fill="#272780"/>
<ellipse cx="1051.4" cy="998.4" rx="29" ry="17" transform="rotate(-13 1051.4 998.4)" fill="#272780"/>
<ellipse cx="1059.5" cy="1004.4" rx="18" ry="10.5" transform="rotate(126.6 1059.5 1004.4)" fill="#272780"/>
<ellipse cx="1039.6" cy="995.1" rx="18" ry="10.5" transform="rotate(3.4 1039.6 995.1)" fill="#272780"/>
<ellipse cx="1055.4" cy="1028.4" rx="25" ry="16" transform="rotate(13.3 1055.4 1028.4)" fill="#272780"/>
<ellipse cx="1045.4" cy="1031.7" rx="15.5" ry="9.9" transform="rotate(62.5 1045.4 1031.7)" fill="#272780"/>
<ellipse cx="1045.2" cy="1025.4" rx="15.5" ry="9.9" transform="rotate(169 1045.2 1025.4)" fill="#272780"/>
<ellipse cx="1108.4" cy="1016.4" rx="7" ry="16" transform="rotate(-4.3 1108.4 1016.4)" fill="#212170"/>
<ellipse cx="1105.3" cy="1015" rx="4.3" ry="9.9" transform="rotate(7.7 1105.3 1015)" fill="#212170"/>
<ellipse cx="1105.5" cy="1013.8" rx="4.3" ry="9.9" transform="rotate(143.6 1105.5 1013.8)" fill="#212170"/>
<ellipse cx="862.4" cy="1037.4" rx="12" ry="8" transform="rotate(-3.4 862.4 1037.4)" fill="#232374"/>
<ellipse cx="867.7" cy="1038.2" rx="7.4" ry="5" transform="rotate(56.2 867.7 1038.2)" fill="#232374"/>
<ellipse cx="867.8" cy="1037" rx="7.4" ry="5" transform="rotate(105.5 867.8 1037)" fill="#232374"/>
</g>
<g filter="url(#bl1)">
<path d="M859 949l-3 1m10-88l2 0m3-27l5 1m6 11l1 2m59-7l1 1m10 16l-4 2m56 72l-1 0m33 60l-1 1m17 25l3 2m22-79l3 1m12 4l3 1" stroke="#1a1a68" stroke-width="5" stroke-linecap="round" fill="none" opacity="0.60"/>
<path d="M860 824l-1 0m12 13l0.1 0m5.9 8l0.1 0m44.9 60l0-1m4 2l1 1m53 80l3 1m55-47l-1-1m14-53l0-2m12 110l1 0m14-57l0 3m0 9l1 4m16 1l1 1" stroke="#1a1a68" stroke-width="7" stroke-linecap="round" fill="none" opacity="0.60"/>
<path d="M858 837l-1 0m10 142l-1 0m5-124l-2 1m9-1l-1-1m3-17l0 4m48 47l-3 1m123 142l0 1m17-167l-4 2m49 141l0 1" stroke="#2c2c90" stroke-width="6" stroke-linecap="round" fill="none" opacity="0.60"/>
<path d="M857 840l-2 0m65 61l2 0m3-44l0.1 0m7.9 6l6 1m17-24l-1 0m17 163l0 5m59-81l3 4m21-75l-3 1" stroke="#2c2c90" stroke-width="5" stroke-linecap="round" fill="none" opacity="0.60"/>
<path d="M882 850l-2 0m121 73l0 1m1 9l-1 1m39-73l2 6" stroke="#1a1a68" stroke-width="4" stroke-linecap="round" fill="none" opacity="0.60"/>
<path d="M867 820l1 0m16 171l2 2m42-44l-2 3m23-108l-2-1m16 165l-1 0m21-14l-4 0m9-6l1 0m61 1l0-2m10 20l-1 3m30-55l2 3" stroke="#1a1a68" stroke-width="6" stroke-linecap="round" fill="none" opacity="0.60"/>
<path d="M882 837l0 2m33 55l-2 1m180 40l-2 1" stroke="#2a2a8a" stroke-width="8" stroke-linecap="round" fill="none" opacity="0.60"/>
<path d="M868 855l3 1m7 123l0.1 0m50.9-26l0.1 0m4.9 1l-2 2m132 35l0 1" stroke="#161660" stroke-width="8" stroke-linecap="round" fill="none" opacity="0.60"/>
<path d="M863 1033l1 2m5-199l2 1m0 164l1 0m11-8l1 6m91-12l4 2m13 10l0 2m1 0l1 2m54-134l-2 0m6 7l-5 3m7 48l-6 1m42 28l-1 5" stroke="#2a2a8a" stroke-width="5" stroke-linecap="round" fill="none" opacity="0.60"/>
<path d="M859 842l6 3" stroke="#2c2c90" stroke-width="4" stroke-linecap="round" fill="none" opacity="0.60"/>
<path d="M926 895l0.1 0m1.9-31l0 2m19-28l-1 2m11 10l2 1m3 145l1 0m2-136l-1 1m2-11l-4 1m31 143l0.1 0m38.9-123l-1 5m4 116l0-2m3 41l-1 0m4-93l0.1 0m9.9-2l-1 0m30 6l0.1 0" stroke="#161660" stroke-width="6" stroke-linecap="round" fill="none" opacity="0.60"/>
<path d="M857 953l2 0m73 12l-1 1m11 1l0 2m18-116l0.1 0m5.9 140l4 0m6 0l-2 1m6 21l-1 2m23-94l0-2m52 82l0.1 0m7.9-9l2 1" stroke="#2a2a8a" stroke-width="7" stroke-linecap="round" fill="none" opacity="0.60"/>
<path d="M921 885l2 2m26-29l-2 0m21-7l0.1 0m60.9 14l2 1m8 130l-2 1m2 32l2 1m-1-148l-2 1" stroke="#161660" stroke-width="7" stroke-linecap="round" fill="none" opacity="0.60"/>
<path d="M946 844l0.1 0m54.9 94l1 3m8-5l1 2m35-54l1 0m17 147l1 1" stroke="#1a1a68" stroke-width="8" stroke-linecap="round" fill="none" opacity="0.60"/>
<path d="M932 845l0 2m62 73l0.1 0m39.9-36l0.1 0m26.9 139l0 3m27-72l0 3" stroke="#2c2c90" stroke-width="8" stroke-linecap="round" fill="none" opacity="0.60"/>
<path d="M861 952l0 1m65-50l0.1 0m8.9-51l0 1m103 86l-1 2m2-1l-1-1m15-14l0-2m7 96l0.1 0m48.9-1l-1-1" stroke="#2c2c90" stroke-width="7" stroke-linecap="round" fill="none" opacity="0.60"/>
<path d="M873 981l1 5m96-132l-1-2m22 158l-1 2m6-71l4 3m0-24l1 1m48 65l-1 3m2-122l-1 1m51 68l1 3" stroke="#2a2a8a" stroke-width="6" stroke-linecap="round" fill="none" opacity="0.60"/>
<path d="M868 1031l-3 4m51-144l4 1m20-53l-1 7m3 106l0 6m98-96l-6 1m26 4l-2 1" stroke="#2a2a8a" stroke-width="4" stroke-linecap="round" fill="none" opacity="0.60"/>
<path d="M926 899l0 5m2 53l0 1m18 2l0.1 0m55.9-17l3 4m23-77l-1 2m30 119l-2 3m53-43l-6 1" stroke="#161660" stroke-width="5" stroke-linecap="round" fill="none" opacity="0.60"/>
<path d="M855 949l0 1m30 40l2 2m105 15l-6 1m8 0l-3 4m39-151l1 2" stroke="#161660" stroke-width="4" stroke-linecap="round" fill="none" opacity="0.60"/>
<path d="M867 988l1 1m171 42l0.1 0m1.9-27l0 1m2-130l2 0" stroke="#161660" stroke-width="9" stroke-linecap="round" fill="none" opacity="0.60"/>
<path d="M938 967l1 0m104 59l0.1 0" stroke="#2c2c90" stroke-width="9" stroke-linecap="round" fill="none" opacity="0.60"/>
<path d="M967 1016l1 0" stroke="#2a2a8a" stroke-width="9" stroke-linecap="round" fill="none" opacity="0.60"/>
<path d="M1062 1038l0.1 0" stroke="#1a1a68" stroke-width="9" stroke-linecap="round" fill="none" opacity="0.60"/>
</g>
<path d="M852 1025h0m1-138h0m2 80h0m0 67h0m2-132h0m0 71h0m2-137h0m1-41h0m2 52h0m2 18h0m3-62h0m1 10h0m2 70h0m3 57h0m1-24h0m1 25h0m0-135h0m1 93h0m1-104h0m2 176h0m3 2h0m0-143h0m8 43h0m0 124h0m1-21h0m1-19h0m2-122h0m0 69h0m0-54h0m7 61h0m4 50h0m0-107h0m2 21h0m2 156h0m2-115h0m4-128h0m0 38h0m2-24h0m1 191h0m5-9h0m3-94h0m1-45h0m2-25h0m1-18h0m2 18h0m4 3h0m4 80h0m1 101h0m3-109h0m2-62h0m1-1h0m1 131h0m0-141h0m4 191h0m0-181h0m2 19h0m0 110h0m8 49h0m1-82h0m2 21h0m2-152h0m1 188h0m2-187h0m0 105h0m0 20h0m1-82h0m0 16h0m2 102h0m5-156h0m1 202h0m1-104h0m2 34h0m1 72h0m2-45h0m1 58h0m0-53h0m4-72h0m1-16h0m1-27h0m3 129h0m1-151h0m5 145h0m3-127h0m5-47h0m4 213h0m2-176h0m0 143h0m1-48h0m3-121h0m0-4h0m4 91h0m1 52h0m0 19h0m1-65h0m0 88h0m3-129h0m0 113h0m2 33h0m1-30h0m1-46h0m2-22h0m0-36h0m1 14h0m4-54h0m1 83h0m2-96h0m6 145h0m4-14h0m1-169h0m0 194h0m3-6h0m1 26h0m1-44h0m1-111h0m1 55h0m2-115h0m0 84h0m0-54h0m2 170h0m1 7h0m3 52h0m1-96h0m3-16h0m7 47h0m4-114h0m2 129h0m8-124h0m0-81h0m1 0h0m6 254h0m0-192h0m1 31h0m1-91h0m3 117h0m1 95h0m0-190h0m2 67h0m0-28h0m4-17h0m2-23h0" stroke="#6cc850" stroke-width="1.5" stroke-linecap="round" fill="none" opacity="0.85"/>
<path d="M866 950h0m4 56h0m8-20h0m19-130h0m18 106h0m2-85h0m28-68h0m5 201h0m6-146h0m29 87h0m32-96h0m23-6h0m9-1h0m2 144h0m12-97h0m22 144h0m9-32h0" stroke="#a8e08c" stroke-width="2.6" stroke-linecap="round" fill="none" />
</g>
<rect x="849.4" y="783.4" width="264.9" height="261" fill="none" stroke="#111" stroke-width="2" />
<rect x="1122" y="783.4" width="264.6" height="261" fill="#03030c" />
<g clip-path="url(#c11)">
<g filter="url(#bl15)">
<ellipse cx="1177" cy="807.4" rx="20" ry="21" transform="rotate(-14.7 1177 807.4)" fill="#25257a"/>
<ellipse cx="1176.2" cy="798" rx="12.4" ry="13" transform="rotate(28.4 1176.2 798)" fill="#25257a"/>
<ellipse cx="1186" cy="806.6" rx="12.4" ry="13" transform="rotate(3 1186 806.6)" fill="#25257a"/>
<ellipse cx="1235" cy="812.4" rx="20" ry="20" transform="rotate(10.7 1235 812.4)" fill="#25257a"/>
<ellipse cx="1244" cy="812.4" rx="12.4" ry="12.4" transform="rotate(43.1 1244 812.4)" fill="#25257a"/>
<ellipse cx="1230.3" cy="820.1" rx="12.4" ry="12.4" transform="rotate(127.5 1230.3 820.1)" fill="#25257a"/>
<ellipse cx="1285" cy="813.4" rx="20" ry="17" transform="rotate(-3.2 1285 813.4)" fill="#212170"/>
<ellipse cx="1280" cy="819.7" rx="12.4" ry="10.5" transform="rotate(168.3 1280 819.7)" fill="#212170"/>
<ellipse cx="1287.4" cy="820.8" rx="12.4" ry="10.5" transform="rotate(63.9 1287.4 820.8)" fill="#212170"/>
<ellipse cx="1175" cy="843.4" rx="12" ry="8" transform="rotate(-8.3 1175 843.4)" fill="#212170"/>
<ellipse cx="1179.8" cy="841.8" rx="7.4" ry="5" transform="rotate(92 1179.8 841.8)" fill="#212170"/>
<ellipse cx="1175.6" cy="847" rx="7.4" ry="5" transform="rotate(82 1175.6 847)" fill="#212170"/>
<ellipse cx="1148" cy="874.4" rx="22" ry="21" transform="rotate(-0.3 1148 874.4)" fill="#272780"/>
<ellipse cx="1138.4" cy="876.7" rx="13.6" ry="13" transform="rotate(143.8 1138.4 876.7)" fill="#272780"/>
<ellipse cx="1138.8" cy="877.9" rx="13.6" ry="13" transform="rotate(56.7 1138.8 877.9)" fill="#272780"/>
<ellipse cx="1268" cy="856.4" rx="26" ry="18" transform="rotate(-2.8 1268 856.4)" fill="#272780"/>
<ellipse cx="1275.7" cy="850.3" rx="16.1" ry="11.2" transform="rotate(179.1 1275.7 850.3)" fill="#272780"/>
<ellipse cx="1256.3" cy="856.9" rx="16.1" ry="11.2" transform="rotate(170.1 1256.3 856.9)" fill="#272780"/>
<ellipse cx="1343" cy="850.4" rx="18" ry="24" transform="rotate(-9.1 1343 850.4)" fill="#232374"/>
<ellipse cx="1335.1" cy="848.1" rx="11.2" ry="14.9" transform="rotate(110.5 1335.1 848.1)" fill="#232374"/>
<ellipse cx="1344.8" cy="839.9" rx="11.2" ry="14.9" transform="rotate(151.9 1344.8 839.9)" fill="#232374"/>
<ellipse cx="1378" cy="836.4" rx="8" ry="19" transform="rotate(-6.4 1378 836.4)" fill="#232374"/>
<ellipse cx="1374.4" cy="836.7" rx="5" ry="11.8" transform="rotate(159.7 1374.4 836.7)" fill="#232374"/>
<ellipse cx="1380.9" cy="841.4" rx="5" ry="11.8" transform="rotate(20.9 1380.9 841.4)" fill="#232374"/>
<ellipse cx="1312" cy="898.4" rx="22" ry="18" transform="rotate(-12.8 1312 898.4)" fill="#232374"/>
<ellipse cx="1310.5" cy="890.4" rx="13.6" ry="11.2" transform="rotate(165.9 1310.5 890.4)" fill="#232374"/>
<ellipse cx="1309.2" cy="906.2" rx="13.6" ry="11.2" transform="rotate(166.1 1309.2 906.2)" fill="#232374"/>
<ellipse cx="1365" cy="912.4" rx="17" ry="21" transform="rotate(-9.6 1365 912.4)" fill="#25257a"/>
<ellipse cx="1372.2" cy="909.4" rx="10.5" ry="13" transform="rotate(63.7 1372.2 909.4)" fill="#25257a"/>
<ellipse cx="1365.7" cy="921.8" rx="10.5" ry="13" transform="rotate(56 1365.7 921.8)" fill="#25257a"/>
<ellipse cx="1228" cy="923.4" rx="34" ry="18" transform="rotate(-3.4 1228 923.4)" fill="#212170"/>
<ellipse cx="1212.9" cy="924.6" rx="21.1" ry="11.2" transform="rotate(156.6 1212.9 924.6)" fill="#212170"/>
<ellipse cx="1231" cy="915.5" rx="21.1" ry="11.2" transform="rotate(136.3 1231 915.5)" fill="#212170"/>
<ellipse cx="1322" cy="933.4" rx="20" ry="16" transform="rotate(-0.8 1322 933.4)" fill="#212170"/>
<ellipse cx="1328.7" cy="938.2" rx="12.4" ry="9.9" transform="rotate(88.6 1328.7 938.2)" fill="#212170"/>
<ellipse cx="1315.6" cy="938.5" rx="12.4" ry="9.9" transform="rotate(151.2 1315.6 938.5)" fill="#212170"/>
<ellipse cx="1129" cy="923.4" rx="9" ry="18" transform="rotate(-6.4 1129 923.4)" fill="#232374"/>
<ellipse cx="1132.9" cy="925.5" rx="5.6" ry="11.2" transform="rotate(160.9 1132.9 925.5)" fill="#232374"/>
<ellipse cx="1132.8" cy="920.6" rx="5.6" ry="11.2" transform="rotate(28.5 1132.8 920.6)" fill="#232374"/>
<ellipse cx="1173" cy="973.4" rx="20" ry="18" transform="rotate(2 1173 973.4)" fill="#272780"/>
<ellipse cx="1179.3" cy="967.6" rx="12.4" ry="11.2" transform="rotate(89.7 1179.3 967.6)" fill="#272780"/>
<ellipse cx="1164" cy="973.4" rx="12.4" ry="11.2" transform="rotate(85.4 1164 973.4)" fill="#272780"/>
<ellipse cx="1201" cy="996.4" rx="18" ry="25" transform="rotate(2.1 1201 996.4)" fill="#232374"/>
<ellipse cx="1193.1" cy="999" rx="11.2" ry="15.5" transform="rotate(140 1193.1 999)" fill="#232374"/>
<ellipse cx="1194.3" cy="990.2" rx="11.2" ry="15.5" transform="rotate(124.6 1194.3 990.2)" fill="#232374"/>
<ellipse cx="1236" cy="982.4" rx="13" ry="19" transform="rotate(5.3 1236 982.4)" fill="#212170"/>
<ellipse cx="1231.5" cy="976.9" rx="8.1" ry="11.8" transform="rotate(10.2 1231.5 976.9)" fill="#212170"/>
<ellipse cx="1236.1" cy="973.9" rx="8.1" ry="11.8" transform="rotate(150.4 1236.1 973.9)" fill="#212170"/>
<ellipse cx="1276" cy="1006.4" rx="22" ry="23" transform="rotate(-4.6 1276 1006.4)" fill="#272780"/>
<ellipse cx="1268.7" cy="999.4" rx="13.6" ry="14.3" transform="rotate(126.9 1268.7 999.4)" fill="#272780"/>
<ellipse cx="1267.8" cy="1000.6" rx="13.6" ry="14.3" transform="rotate(56.1 1267.8 1000.6)" fill="#272780"/>
<ellipse cx="1327" cy="1005.4" rx="29" ry="16" transform="rotate(9 1327 1005.4)" fill="#232374"/>
<ellipse cx="1337.2" cy="1000.9" rx="18" ry="9.9" transform="rotate(160.7 1337.2 1000.9)" fill="#232374"/>
<ellipse cx="1340" cy="1006.1" rx="18" ry="9.9" transform="rotate(120.4 1340 1006.1)" fill="#232374"/>
<ellipse cx="1130" cy="991.4" rx="9" ry="30" transform="rotate(3.5 1130 991.4)" fill="#212170"/>
<ellipse cx="1133.4" cy="984.1" rx="5.6" ry="18.6" transform="rotate(0.5 1133.4 984.1)" fill="#212170"/>
<ellipse cx="1130" cy="1004.9" rx="5.6" ry="18.6" transform="rotate(89.8 1130 1004.9)" fill="#212170"/>
<ellipse cx="1370" cy="1035.4" rx="17" ry="10" transform="rotate(-5.3 1370 1035.4)" fill="#212170"/>
<ellipse cx="1370.3" cy="1039.9" rx="10.5" ry="6.2" transform="rotate(105.6 1370.3 1039.9)" fill="#212170"/>
<ellipse cx="1362.4" cy="1035.6" rx="10.5" ry="6.2" transform="rotate(0.5 1362.4 1035.6)" fill="#212170"/>
</g>
<g filter="url(#bl1)">
<path d="M1136 883l-1 0m38-71l-1 2m19 179l0.1 0m36.9-62l0.1 0m11.9 56l-1 0m48-183l-1 3m59 53l2 0" stroke="#161660" stroke-width="8" stroke-linecap="round" fill="none" opacity="0.60"/>
<path d="M1134 980l-1-2m20-111l0.1 0m30.9-71l-1 1m7 10l-1-1m67 53l-3 2m60 37l0 2m13 109l-1 0" stroke="#2c2c90" stroke-width="7" stroke-linecap="round" fill="none" opacity="0.60"/>
<path d="M1184 811l0 2m50 101l-1-1m6 2l0 1m22-58l1 0m1 1l-1 2m74-24l0.1 0" stroke="#161660" stroke-width="7" stroke-linecap="round" fill="none" opacity="0.60"/>
<path d="M1144 864l-1 2m25-52l-1 3m61 98l5 0m8 76l-2-2m10-71l0 2m41-99l0 2m0 182l-2 1m3-5l-2-1m21-105l0 1m14 40l-1 0m6-7l4 2m8-74l3 0m-3 148l1 1m33 25l1 2" stroke="#2a2a8a" stroke-width="5" stroke-linecap="round" fill="none" opacity="0.60"/>
<path d="M1159 878l0.1 0m6.9-62l-2 0m27 182l1 1m3 12l1 1m129-70l2 4m31 88l1 0" stroke="#2a2a8a" stroke-width="7" stroke-linecap="round" fill="none" opacity="0.60"/>
<path d="M1166 800l0.1 0m203.9 120l-1 0" stroke="#2a2a8a" stroke-width="9" stroke-linecap="round" fill="none" opacity="0.60"/>
<path d="M1127 923l1 1m6-1l0.1 0m2.9-39l5 0m42-76l3 2m1 164l-1 1m17 17l0 1m23-193l3 0m-3 19l0 2m7 158l1 5m8-160l-2 0m72 64l1 4m40-47l-1 0m7 61l0 1m19 124l0.1 0" stroke="#2a2a8a" stroke-width="6" stroke-linecap="round" fill="none" opacity="0.60"/>
<path d="M1158 863l3 3m28-67l-3 5m77 193l0 4m10 21l3 1m9-168l2 3m66-18l-2 2" stroke="#1a1a68" stroke-width="4" stroke-linecap="round" fill="none" opacity="0.60"/>
<path d="M1158 865l3 1m6 115l-4 1m12-180l4 2m49 17l3 3m11-15l-1 1m36 186l-2-1m17-192l2 4m17 197l-1 0m11-10l-3 2m4 1l0-1m1-94l-1 1m19-40l-1 0m33 44l-1 2m4 0l-2 1" stroke="#1a1a68" stroke-width="6" stroke-linecap="round" fill="none" opacity="0.60"/>
<path d="M1125 924l0 3m32-63l-2 2m46 128l1 2m9-72l-1 6m17-10l4 4m-2-111l0.1 0m2.9 180l-2 1m15-79l2 1m-2 1l-1 1m1 57l-4 3m32 28l-1 4m13-190l-3 5m11-15l2 2m11 90l-1 3m17-5l3 4" stroke="#1a1a68" stroke-width="5" stroke-linecap="round" fill="none" opacity="0.60"/>
<path d="M1132 987l-2 1m98-189l-1 2m2 11l-2 0m16-7l0 1m31 43l-1 0m9-31l-2 4m21 72l-2 0m8 3l-1 1m17-3l-2-2m35 22l-1 0" stroke="#161660" stroke-width="6" stroke-linecap="round" fill="none" opacity="0.60"/>
<path d="M1126 986l1 1m17-108l0 1m88-79l-1 0m6 168l-1 1m23-124l2 1m7 0l1 2m78 17l-1-1m11 46l0 1m3-12l1 2m20-69l-4 1" stroke="#1a1a68" stroke-width="7" stroke-linecap="round" fill="none" opacity="0.60"/>
<path d="M1278 818l0 1m33 114l0 1m17 73l-1 0m13-167l2 0" stroke="#2a2a8a" stroke-width="8" stroke-linecap="round" fill="none" opacity="0.60"/>
<path d="M1278 805l0.1 0" stroke="#1a1a68" stroke-width="9" stroke-linecap="round" fill="none" opacity="0.60"/>
<path d="M1181 842l0.1 0" stroke="#2c2c90" stroke-width="8" stroke-linecap="round" fill="none" opacity="0.60"/>
<path d="M1126 1000l5 1m-3-10l0.1 0m39.9-14l5 3m-3-141l-2 2m19 133l-1 3m49-65l3 1m4 5l1 3m21 86l4 3m5-156l2 1m7 0l3 2m32 146l2 2m3-7l0 4m9-66l-2 2m27-33l3 2m11 123l6 1m2-187l4 3" stroke="#2c2c90" stroke-width="5" stroke-linecap="round" fill="none" opacity="0.60"/>
<path d="M1142 874l2 4m29 100l4 4m148-40l4 3" stroke="#2a2a8a" stroke-width="4" stroke-linecap="round" fill="none" opacity="0.60"/>
<path d="M1142 874l0 1m33 92l0 1m32 27l-2 1m123-71l0.1 0m23.9-70l1 1" stroke="#1a1a68" stroke-width="8" stroke-linecap="round" fill="none" opacity="0.60"/>
<path d="M1175 962l-4 2m32 31l-4 4m12-5l-6 3m55-152l-2 5m27 11l1 2m30 143l-6 1" stroke="#161660" stroke-width="4" stroke-linecap="round" fill="none" opacity="0.60"/>
<path d="M1285 994l0.1 0m57.9-151l0 2" stroke="#2c2c90" stroke-width="9" stroke-linecap="round" fill="none" opacity="0.60"/>
<path d="M1173 959l2 4m24 21l1 1m19-50l-1-1m11-21l2 4m3 0l-2 5m40 83l-1 3m8-18l-5 0m14 15l-1-1m61-1l-1 1m32-173l0 5" stroke="#161660" stroke-width="5" stroke-linecap="round" fill="none" opacity="0.60"/>
<path d="M1213 916l-5 1m120 92l-1 1" stroke="#2c2c90" stroke-width="4" stroke-linecap="round" fill="none" opacity="0.60"/>
<path d="M1131 981l-1 0m5-60l0 4m25 44l3 1m30 39l0.1 0m5.9 0l2 5m125-85l0.1 0" stroke="#2c2c90" stroke-width="6" stroke-linecap="round" fill="none" opacity="0.60"/>
<path d="M1276 1019l0.1 0" stroke="#161660" stroke-width="9" stroke-linecap="round" fill="none" opacity="0.60"/>
</g>
<path d="M1123 853h0m1 65h0m1-104h0m2 165h0m3 48h0m2 16h0m2-257h0m1 202h0m1-98h0m1 76h0m0-162h0m1 192h0m1-174h0m1 203h0m2-132h0m5-52h0m1 14h0m0 11h0m1 136h0m0 31h0m0-81h0m0-26h0m0 101h0m2-201h0m3 16h0m1-2h0m4-50h0m1 232h0m1-220h0m2 136h0m2 76h0m2-49h0m0 54h0m1-134h0m0 69h0m1-28h0m0-110h0m1 39h0m2 88h0m2-48h0m1-36h0m0 115h0m0-84h0m2 154h0m2-162h0m0 0h0m1-53h0m0 177h0m3-176h0m2 169h0m0-185h0m0 229h0m1-159h0m6 108h0m1-179h0m1 75h0m2 19h0m1-83h0m1 69h0m2-96h0m0 178h0m0-136h0m3-16h0m4 94h0m1-5h0m6-108h0m0 239h0m0-15h0m0-17h0m1-163h0m0 55h0m7 13h0m1-16h0m1 62h0m1-140h0m0 59h0m1-75h0m0 205h0m1-156h0m1-31h0m1 4h0m2 63h0m2-84h0m3 234h0m0-44h0m1-198h0m2 26h0m0 90h0m2-44h0m2 137h0m1 14h0m1-51h0m0 66h0m2-157h0m1-40h0m0 110h0m3-131h0m0 134h0m0-116h0m1 144h0m1-115h0m2 7h0m0 106h0m0-177h0m2 65h0m5 172h0m2-162h0m1 26h0m0 3h0m1 105h0m1-33h0m2-66h0m1 0h0m1 42h0m1 80h0m0-159h0m1-8h0m1 84h0m1-62h0m0 82h0m3-186h0m2 258h0m1 1h0m1-188h0m0-12h0m1-50h0m4 203h0m5-49h0m1-126h0m0 220h0m1-241h0m3 165h0m2-130h0m0-41h0m2 193h0m1 48h0m0-122h0m6-113h0m2 146h0m1-164h0m0 229h0m6-115h0m4 31h0m1-67h0m0 20h0m1 33h0m0 43h0m1-142h0m0 121h0m4 47h0m0 8h0m2-180h0m1 138h0m1 30h0m3 64h0m1-98h0m1-145h0m7 111h0m1 100h0m2-130h0m0 14h0m2 17h0m0-126h0m5 58h0m4 24h0m0 114h0m0-53h0m0-48h0m0 99h0m1-170h0m0 226h0m3-185h0m1 68h0m0 109h0m1-74h0m3 90h0m2 0h0m0-120h0m1 85h0m2 28h0m0-66h0m2-3h0m1-105h0m1 71h0m0-32h0m1-71h0m1 12h0m2-2h0m1 124h0m2 12h0" stroke="#6cc850" stroke-width="1.5" stroke-linecap="round" fill="none" opacity="0.85"/>
<path d="M1135 1001h0m4-144h0m35-10h0m3 57h0m1-106h0m10 28h0m4 33h0m1 20h0m5 44h0m11 75h0m2-178h0m21 210h0m23 14h0m20-115h0m0 42h0m3-94h0m16 120h0m23-1h0m10 5h0m27 28h0m19-204h0m3 9h0m10 200h0" stroke="#a8e08c" stroke-width="2.6" stroke-linecap="round" fill="none" />
</g>
<rect x="1122" y="783.4" width="264.6" height="261" fill="none" stroke="#111" stroke-width="2" />
<rect x="1395" y="783.4" width="262" height="261" fill="#03030c" />
<g clip-path="url(#c12)">
<g filter="url(#bl15)">
<ellipse cx="1423" cy="824.4" rx="17" ry="28" transform="rotate(-0.9 1423 824.4)" fill="#212170"/>
<ellipse cx="1421.3" cy="836.7" rx="10.5" ry="17.4" transform="rotate(40.8 1421.3 836.7)" fill="#212170"/>
<ellipse cx="1430.6" cy="824.9" rx="10.5" ry="17.4" transform="rotate(153.7 1430.6 824.9)" fill="#212170"/>
<ellipse cx="1604" cy="799.4" rx="28" ry="13" transform="rotate(-7.9 1604 799.4)" fill="#212170"/>
<ellipse cx="1606.2" cy="805.2" rx="17.4" ry="8.1" transform="rotate(53.4 1606.2 805.2)" fill="#212170"/>
<ellipse cx="1609" cy="794" rx="17.4" ry="8.1" transform="rotate(120 1609 794)" fill="#212170"/>
<ellipse cx="1462" cy="853.4" rx="25" ry="28" transform="rotate(-14.3 1462 853.4)" fill="#212170"/>
<ellipse cx="1464.1" cy="865.8" rx="15.5" ry="17.4" transform="rotate(108.5 1464.1 865.8)" fill="#212170"/>
<ellipse cx="1473.2" cy="855" rx="15.5" ry="17.4" transform="rotate(27.7 1473.2 855)" fill="#212170"/>
<ellipse cx="1490" cy="871.4" rx="18" ry="18" transform="rotate(-1.1 1490 871.4)" fill="#232374"/>
<ellipse cx="1483.4" cy="866.7" rx="11.2" ry="11.2" transform="rotate(126.6 1483.4 866.7)" fill="#232374"/>
<ellipse cx="1498.1" cy="870.7" rx="11.2" ry="11.2" transform="rotate(140.9 1498.1 870.7)" fill="#232374"/>
<ellipse cx="1617" cy="838.4" rx="20" ry="19" transform="rotate(-7.3 1617 838.4)" fill="#212170"/>
<ellipse cx="1619.1" cy="830.1" rx="12.4" ry="11.8" transform="rotate(62.6 1619.1 830.1)" fill="#212170"/>
<ellipse cx="1609" cy="842.4" rx="12.4" ry="11.8" transform="rotate(115.7 1609 842.4)" fill="#212170"/>
<ellipse cx="1545" cy="898.4" rx="17" ry="12" transform="rotate(2.4 1545 898.4)" fill="#212170"/>
<ellipse cx="1543.4" cy="903.7" rx="10.5" ry="7.4" transform="rotate(15 1543.4 903.7)" fill="#212170"/>
<ellipse cx="1552.6" cy="898.4" rx="10.5" ry="7.4" transform="rotate(1.1 1552.6 898.4)" fill="#212170"/>
<ellipse cx="1624" cy="900.4" rx="22" ry="18" transform="rotate(-8 1624 900.4)" fill="#212170"/>
<ellipse cx="1629.6" cy="907.1" rx="13.6" ry="11.2" transform="rotate(54.8 1629.6 907.1)" fill="#212170"/>
<ellipse cx="1614.4" cy="902.4" rx="13.6" ry="11.2" transform="rotate(11.8 1614.4 902.4)" fill="#212170"/>
<ellipse cx="1508" cy="931.4" rx="29" ry="24" transform="rotate(6.8 1508 931.4)" fill="#272780"/>
<ellipse cx="1521" cy="932.3" rx="18" ry="14.9" transform="rotate(151.6 1521 932.3)" fill="#272780"/>
<ellipse cx="1495" cy="932" rx="18" ry="14.9" transform="rotate(165.4 1495 932)" fill="#272780"/>
<ellipse cx="1631" cy="939.4" rx="25" ry="18" transform="rotate(6 1631 939.4)" fill="#272780"/>
<ellipse cx="1639.1" cy="945.1" rx="15.5" ry="11.2" transform="rotate(149.9 1639.1 945.1)" fill="#272780"/>
<ellipse cx="1640.9" cy="943.2" rx="15.5" ry="11.2" transform="rotate(117.8 1640.9 943.2)" fill="#272780"/>
<ellipse cx="1498" cy="967.4" rx="18" ry="18" transform="rotate(6.2 1498 967.4)" fill="#25257a"/>
<ellipse cx="1505.1" cy="963.5" rx="11.2" ry="11.2" transform="rotate(161.4 1505.1 963.5)" fill="#25257a"/>
<ellipse cx="1505.9" cy="969.1" rx="11.2" ry="11.2" transform="rotate(7.7 1505.9 969.1)" fill="#25257a"/>
<ellipse cx="1631" cy="979.4" rx="25" ry="21" transform="rotate(3.1 1631 979.4)" fill="#272780"/>
<ellipse cx="1619.9" cy="980.7" rx="15.5" ry="13" transform="rotate(120.3 1619.9 980.7)" fill="#272780"/>
<ellipse cx="1635.4" cy="970.7" rx="15.5" ry="13" transform="rotate(122.5 1635.4 970.7)" fill="#272780"/>
<ellipse cx="1407" cy="979.4" rx="11" ry="25" transform="rotate(-8.2 1407 979.4)" fill="#232374"/>
<ellipse cx="1411" cy="986.1" rx="6.8" ry="15.5" transform="rotate(16.8 1411 986.1)" fill="#232374"/>
<ellipse cx="1410.6" cy="987.2" rx="6.8" ry="15.5" transform="rotate(1.6 1410.6 987.2)" fill="#232374"/>
<ellipse cx="1450" cy="997.4" rx="18" ry="19" transform="rotate(12.6 1450 997.4)" fill="#232374"/>
<ellipse cx="1456.1" cy="1003" rx="11.2" ry="11.8" transform="rotate(123.6 1456.1 1003)" fill="#232374"/>
<ellipse cx="1457.5" cy="994.3" rx="11.2" ry="11.8" transform="rotate(137.8 1457.5 994.3)" fill="#232374"/>
<ellipse cx="1594" cy="993.4" rx="18" ry="18" transform="rotate(12 1594 993.4)" fill="#25257a"/>
<ellipse cx="1591.2" cy="985.8" rx="11.2" ry="11.2" transform="rotate(43.1 1591.2 985.8)" fill="#25257a"/>
<ellipse cx="1587" cy="989.4" rx="11.2" ry="11.2" transform="rotate(43 1587 989.4)" fill="#25257a"/>
<ellipse cx="1584" cy="1028.4" rx="22" ry="14" transform="rotate(12.6 1584 1028.4)" fill="#25257a"/>
<ellipse cx="1591.9" cy="1032.2" rx="13.6" ry="8.7" transform="rotate(26.5 1591.9 1032.2)" fill="#25257a"/>
<ellipse cx="1576.4" cy="1032.5" rx="13.6" ry="8.7" transform="rotate(6.9 1576.4 1032.5)" fill="#25257a"/>
<ellipse cx="1635" cy="1033.4" rx="14" ry="9" transform="rotate(11.5 1635 1033.4)" fill="#272780"/>
<ellipse cx="1628.8" cy="1034.2" rx="8.7" ry="5.6" transform="rotate(46.8 1628.8 1034.2)" fill="#272780"/>
<ellipse cx="1640.9" cy="1034.9" rx="8.7" ry="5.6" transform="rotate(127.3 1640.9 1034.9)" fill="#272780"/>
</g>
<g filter="url(#bl1)">
<path d="M1419 828l-4 3m6-22l0.1 0m172.9-13l1 1m2 8l-3 0m9 196l-1 0m14-57l-1-2m19 2l0.1 0" stroke="#161660" stroke-width="6" stroke-linecap="round" fill="none" opacity="0.60"/>
<path d="M1402 988l-2 1m20-161l0.1 0m72.9 138l1 2m53-66l-2 0m81 49l4 1m-2 26l2 2m-1 52l0.1 0m-0.1 5l1 0m5-47l0 2" stroke="#1a1a68" stroke-width="6" stroke-linecap="round" fill="none" opacity="0.60"/>
<path d="M1420 824l-1 1m7 4l0.1 0m29.9 17l-2 0m25 13l-1 0m1 0l0.1 0m42.9 77l0 3m88-132l-2 1m18 89l-2 0m3 44l-1 0" stroke="#2c2c90" stroke-width="7" stroke-linecap="round" fill="none" opacity="0.60"/>
<path d="M1417 806l1 5m38 193l-4 4m34-146l4 4m-2 95l0.1 0m0.9-89l0.1 0m0.9 88l0-1m55-54l0 1m50-110l3 3m27 144l1 2" stroke="#161660" stroke-width="5" stroke-linecap="round" fill="none" opacity="0.60"/>
<path d="M1415 825l-2 2m82 147l2 1m11-55l-2 0m109-73l1 2m5-17l-1 0m22 114l1 2" stroke="#2c2c90" stroke-width="8" stroke-linecap="round" fill="none" opacity="0.60"/>
<path d="M1407 970l2 3m13-160l1 4m37 43l-2 2m26 18l2 1m7-12l1 1m11 53l0.1 0m-0.1 41l-2 5m5-26l0 4m29-53l-2 1m53 134l-1 0m31-180l-1-3m5 130l-3 2" stroke="#1a1a68" stroke-width="5" stroke-linecap="round" fill="none" opacity="0.60"/>
<path d="M1426 826l0.1 0m20.9 21l0.1 0m161.9-44l1 0m24 183l0.1 0" stroke="#1a1a68" stroke-width="8" stroke-linecap="round" fill="none" opacity="0.60"/>
<path d="M1423 839l-2 3m7-11l2 2m29 37l-2 2m5-24l-4 5m136 142l-1 0m27-161l-1 1m12 0l-4 2m17 199l-5 1" stroke="#1a1a68" stroke-width="4" stroke-linecap="round" fill="none" opacity="0.60"/>
<path d="M1443 1000l-1 1m50-31l0.1 0m94.9-172l2 2m8 186l0.1 0m24.9-147l-1 0m27 135l-1 2" stroke="#2a2a8a" stroke-width="7" stroke-linecap="round" fill="none" opacity="0.60"/>
<path d="M1413 985l1 1m180-180l0.1 0" stroke="#161660" stroke-width="9" stroke-linecap="round" fill="none" opacity="0.60"/>
<path d="M1453 838l1 1m4 5l-2 0m118 180l-1 1m21-34l-2 0m22-188l0.1 0m15.9 89l0.1 0m4.9 74l-2 1" stroke="#161660" stroke-width="7" stroke-linecap="round" fill="none" opacity="0.60"/>
<path d="M1470 854l-4 1m30 113l-2 3m3-97l-2-2m5 70l-1 1m90 87l0.1 0m2.9-37l-1 1m1 34l-3 0m13-233l4 2m5 99l0.1 0m2.9 3l0-2m5 5l-1-2m20 40l1 4m-1 47l-2 0" stroke="#2a2a8a" stroke-width="6" stroke-linecap="round" fill="none" opacity="0.60"/>
<path d="M1449 1004l-2 3m15-143l5 4m29 60l0 2m53-26l-3 0m23 122l2 6" stroke="#2c2c90" stroke-width="4" stroke-linecap="round" fill="none" opacity="0.60"/>
<path d="M1444 847l5 2m8 141l0.1 0m6.9-132l0-1m11 2l3 4m12 7l-4 1m18 72l-4 0m92 51l2 3" stroke="#2a2a8a" stroke-width="5" stroke-linecap="round" fill="none" opacity="0.60"/>
<path d="M1406 979l-2 4m6-21l0 2m44 31l4 1m0-147l-1 2m17-11l-1 1m35 105l2 4m4-27l-2 1m132 60l-1 5" stroke="#2c2c90" stroke-width="6" stroke-linecap="round" fill="none" opacity="0.60"/>
<path d="M1445 1002l0 1m4-140l-1 0m53 76l0-1m128 48l0 2m6-17l0.1 0" stroke="#161660" stroke-width="8" stroke-linecap="round" fill="none" opacity="0.60"/>
<path d="M1445 1001l0 1m46-124l0-2m26 65l-2 3m72 40l-1 0m31-91l-1 4m9-57l-2 0m2 109l1 2" stroke="#1a1a68" stroke-width="7" stroke-linecap="round" fill="none" opacity="0.60"/>
<path d="M1496 875l-2 1m26 60l1 1" stroke="#2c2c90" stroke-width="9" stroke-linecap="round" fill="none" opacity="0.60"/>
<path d="M1493 921l1 3m3 10l-2 5m26-2l-3 3m23-39l-1 0m76 4l1 1m3-76l-4 5m4 63l-1 3m4-70l0 1m16 152l-4 4m5-15l1 1" stroke="#2c2c90" stroke-width="5" stroke-linecap="round" fill="none" opacity="0.60"/>
<path d="M1406 988l-1 5m181 25l-3 4m42-123l-5 1m12 33l1 2m7-3l-2 0m13 7l-6 2" stroke="#161660" stroke-width="4" stroke-linecap="round" fill="none" opacity="0.60"/>
<path d="M1453 1008l1 2m38-41l0 2m9-49l1 0m25 12l-1 2" stroke="#2a2a8a" stroke-width="8" stroke-linecap="round" fill="none" opacity="0.60"/>
<path d="M1584 999l0 1m2 28l-1 2m46-57l0 5" stroke="#2a2a8a" stroke-width="4" stroke-linecap="round" fill="none" opacity="0.60"/>
</g>
<path d="M1420 900h0m11-44h0m5-43h0m7 197h0m15-19h0m1-65h0m5-45h0m5-2h0m40-2h0m0-83h0m15 0h0m1 23h0m1 132h0m10-55h0m1-16h0m6 136h0m27-189h0m0 109h0m4-85h0m7 86h0m30-116h0m3 189h0m2 7h0m11-14h0m12-11h0" stroke="#6cc850" stroke-width="1.5" stroke-linecap="round" fill="none" opacity="0.85"/>
<path d="M1548 845h0m21 179h0m19-223h0" stroke="#a8e08c" stroke-width="2.6" stroke-linecap="round" fill="none" />
</g>
<rect x="1395" y="783.4" width="262" height="261" fill="none" stroke="#111" stroke-width="2" />
<line x1="167.2" y1="416.1" x2="167.2" y2="604.1" stroke="#000" stroke-width="2.2" />
<line x1="166.2" y1="603.1" x2="235.6" y2="603.1" stroke="#000" stroke-width="2.2" />
<line x1="160.2" y1="603.1" x2="167.2" y2="603.1" stroke="#000" stroke-width="2" />
<text x="158.7" y="610.9" font-size="22" text-anchor="end">0</text>
<line x1="160.2" y1="565.9" x2="167.2" y2="565.9" stroke="#000" stroke-width="2" />
<text x="158.7" y="573.7" font-size="22" text-anchor="end">20</text>
<line x1="160.2" y1="528.7" x2="167.2" y2="528.7" stroke="#000" stroke-width="2" />
<text x="158.7" y="536.5" font-size="22" text-anchor="end">40</text>
<line x1="160.2" y1="491.5" x2="167.2" y2="491.5" stroke="#000" stroke-width="2" />
<text x="158.7" y="499.3" font-size="22" text-anchor="end">60</text>
<line x1="160.2" y1="454.3" x2="167.2" y2="454.3" stroke="#000" stroke-width="2" />
<text x="158.7" y="462.1" font-size="22" text-anchor="end">80</text>
<line x1="160.2" y1="417.1" x2="167.2" y2="417.1" stroke="#000" stroke-width="2" />
<text x="158.7" y="424.9" font-size="22" text-anchor="end">100</text>
<line x1="201" y1="603.1" x2="201" y2="612.1" stroke="#000" stroke-width="2" />
<text transform="translate(210.5 618.1) rotate(-45)" font-size="21.2" text-anchor="end">Naive ES Cells</text>
<text transform="translate(119.6 500) rotate(-90)" font-size="22" text-anchor="middle">% KLF17+ cells</text>
<line x1="201.2" y1="418.7" x2="201.2" y2="426.5" stroke="#000" stroke-width="2" />
<line x1="191.2" y1="418.7" x2="211.2" y2="418.7" stroke="#000" stroke-width="2" />
<line x1="191.2" y1="426.5" x2="211.2" y2="426.5" stroke="#000" stroke-width="2" />
<rect x="184" y="420.8" width="34.3" height="4.4" fill="#6a6a6a" stroke="#000" stroke-width="2" />
<line x1="184" y1="423" x2="218.3" y2="423" stroke="#000" stroke-width="2" />
<line x1="430.8" y1="413" x2="430.8" y2="602.3" stroke="#000" stroke-width="2.2" />
<line x1="429.8" y1="601.3" x2="498.4" y2="601.3" stroke="#000" stroke-width="2.2" />
<line x1="423.8" y1="601.3" x2="430.8" y2="601.3" stroke="#000" stroke-width="2" />
<text x="422.3" y="609.1" font-size="22" text-anchor="end">0</text>
<line x1="423.8" y1="563.8" x2="430.8" y2="563.8" stroke="#000" stroke-width="2" />
<text x="422.3" y="571.6" font-size="22" text-anchor="end">20</text>
<line x1="423.8" y1="526.4" x2="430.8" y2="526.4" stroke="#000" stroke-width="2" />
<text x="422.3" y="534.2" font-size="22" text-anchor="end">40</text>
<line x1="423.8" y1="488.9" x2="430.8" y2="488.9" stroke="#000" stroke-width="2" />
<text x="422.3" y="496.7" font-size="22" text-anchor="end">60</text>
<line x1="423.8" y1="451.5" x2="430.8" y2="451.5" stroke="#000" stroke-width="2" />
<text x="422.3" y="459.3" font-size="22" text-anchor="end">80</text>
<line x1="423.8" y1="414" x2="430.8" y2="414" stroke="#000" stroke-width="2" />
<text x="422.3" y="421.8" font-size="22" text-anchor="end">100</text>
<line x1="460.6" y1="601.3" x2="460.6" y2="610.3" stroke="#000" stroke-width="2" />
<text transform="translate(470.1 616.3) rotate(-45)" font-size="21.2" text-anchor="end">Primed ES Cells</text>
<text transform="translate(380 506) rotate(-90)" font-size="22" text-anchor="middle">% NANOG<tspan baseline-shift="super" font-size="70%">+</tspan> cells</text>
<line x1="458.5" y1="415.6" x2="458.5" y2="422.5" stroke="#000" stroke-width="2" />
<line x1="448.5" y1="415.6" x2="468.5" y2="415.6" stroke="#000" stroke-width="2" />
<line x1="448.5" y1="422.5" x2="468.5" y2="422.5" stroke="#000" stroke-width="2" />
<rect x="444" y="415.6" width="29" height="4.9" fill="#5cae62" stroke="#000" stroke-width="2" />
<line x1="444" y1="418" x2="473" y2="418" stroke="#000" stroke-width="2" />
<line x1="651.8" y1="417.4" x2="651.8" y2="604.3" stroke="#000" stroke-width="2.2" />
<line x1="650.8" y1="603.3" x2="774.8" y2="603.3" stroke="#000" stroke-width="2.2" />
<line x1="644.8" y1="594.4" x2="651.8" y2="594.4" stroke="#000" stroke-width="2" />
<text x="643.3" y="602.2" font-size="22" text-anchor="end">0</text>
<line x1="644.8" y1="559.2" x2="651.8" y2="559.2" stroke="#000" stroke-width="2" />
<text x="643.3" y="567" font-size="22" text-anchor="end">20</text>
<line x1="644.8" y1="524" x2="651.8" y2="524" stroke="#000" stroke-width="2" />
<text x="643.3" y="531.8" font-size="22" text-anchor="end">40</text>
<line x1="644.8" y1="488.8" x2="651.8" y2="488.8" stroke="#000" stroke-width="2" />
<text x="643.3" y="496.6" font-size="22" text-anchor="end">60</text>
<line x1="644.8" y1="453.6" x2="651.8" y2="453.6" stroke="#000" stroke-width="2" />
<text x="643.3" y="461.4" font-size="22" text-anchor="end">80</text>
<line x1="644.8" y1="418.4" x2="651.8" y2="418.4" stroke="#000" stroke-width="2" />
<text x="643.3" y="426.2" font-size="22" text-anchor="end">100</text>
<line x1="644.8" y1="603.3" x2="651.8" y2="603.3" stroke="#000" stroke-width="2" />
<text x="643.3" y="611.1" font-size="22" text-anchor="end">-5</text>
<line x1="686.9" y1="603.3" x2="686.9" y2="612.3" stroke="#000" stroke-width="2" />
<line x1="739.7" y1="603.3" x2="739.7" y2="612.3" stroke="#000" stroke-width="2" />
<text transform="translate(696.4 618.3) rotate(-45)" font-size="21.2" text-anchor="end">Primed ES Cells</text>
<text transform="translate(749.2 618.3) rotate(-45)" font-size="21.2" text-anchor="end">Meso Prog.</text>
<text transform="translate(605 510) rotate(-90)" font-size="22" text-anchor="middle">% T<tspan baseline-shift="super" font-size="70%">+</tspan> cells</text>
<line x1="670.8" y1="594.4" x2="703.6" y2="594.4" stroke="#000" stroke-width="2" />
<line x1="740" y1="428.5" x2="740" y2="443" stroke="#000" stroke-width="2" />
<line x1="730" y1="428.5" x2="750" y2="428.5" stroke="#000" stroke-width="2" />
<line x1="730" y1="443" x2="750" y2="443" stroke="#000" stroke-width="2" />
<rect x="724" y="430.8" width="32" height="7.6" fill="#c8323a" stroke="#000" stroke-width="2" />
<line x1="724" y1="434.4" x2="756" y2="434.4" stroke="#000" stroke-width="2" />
<line x1="934.4" y1="417.4" x2="934.4" y2="604.3" stroke="#000" stroke-width="2.2" />
<line x1="933.4" y1="603.3" x2="1057.4" y2="603.3" stroke="#000" stroke-width="2.2" />
<line x1="927.4" y1="594.8" x2="934.4" y2="594.8" stroke="#000" stroke-width="2" />
<text x="925.9" y="602.6" font-size="22" text-anchor="end">0</text>
<line x1="927.4" y1="559.5" x2="934.4" y2="559.5" stroke="#000" stroke-width="2" />
<text x="925.9" y="567.3" font-size="22" text-anchor="end">20</text>
<line x1="927.4" y1="524.2" x2="934.4" y2="524.2" stroke="#000" stroke-width="2" />
<text x="925.9" y="532" font-size="22" text-anchor="end">40</text>
<line x1="927.4" y1="489" x2="934.4" y2="489" stroke="#000" stroke-width="2" />
<text x="925.9" y="496.8" font-size="22" text-anchor="end">60</text>
<line x1="927.4" y1="453.7" x2="934.4" y2="453.7" stroke="#000" stroke-width="2" />
<text x="925.9" y="461.5" font-size="22" text-anchor="end">80</text>
<line x1="927.4" y1="418.4" x2="934.4" y2="418.4" stroke="#000" stroke-width="2" />
<text x="925.9" y="426.2" font-size="22" text-anchor="end">100</text>
<line x1="927.4" y1="603.3" x2="934.4" y2="603.3" stroke="#000" stroke-width="2" />
<text x="925.9" y="611.1" font-size="22" text-anchor="end">-5</text>
<line x1="969.2" y1="603.3" x2="969.2" y2="612.3" stroke="#000" stroke-width="2" />
<line x1="1022.3" y1="603.3" x2="1022.3" y2="612.3" stroke="#000" stroke-width="2" />
<text transform="translate(978.7 618.3) rotate(-45)" font-size="21.2" text-anchor="end">Primed ES Cells</text>
<text transform="translate(1031.8 618.3) rotate(-45)" font-size="21.2" text-anchor="end">Endo Prog.</text>
<text transform="translate(889 508) rotate(-90)" font-size="22" text-anchor="middle">% FOXA2<tspan baseline-shift="super" font-size="70%">+</tspan> cells</text>
<line x1="952.8" y1="594.8" x2="986.2" y2="594.8" stroke="#000" stroke-width="2" />
<line x1="1022.4" y1="438" x2="1022.4" y2="454.4" stroke="#000" stroke-width="2" />
<line x1="1012.4" y1="438" x2="1032.3" y2="438" stroke="#000" stroke-width="2" />
<line x1="1012.4" y1="454.4" x2="1032.3" y2="454.4" stroke="#000" stroke-width="2" />
<rect x="1006" y="440.3" width="32.7" height="11.2" fill="#f0a432" stroke="#000" stroke-width="2" />
<line x1="1006" y1="446" x2="1038.7" y2="446" stroke="#000" stroke-width="2" />
<line x1="1214.8" y1="417.7" x2="1214.8" y2="605" stroke="#000" stroke-width="2.2" />
<line x1="1213.8" y1="604" x2="1338" y2="604" stroke="#000" stroke-width="2.2" />
<line x1="1207.8" y1="595" x2="1214.8" y2="595" stroke="#000" stroke-width="2" />
<text x="1206.3" y="602.8" font-size="22" text-anchor="end">0</text>
<line x1="1207.8" y1="559.7" x2="1214.8" y2="559.7" stroke="#000" stroke-width="2" />
<text x="1206.3" y="567.5" font-size="22" text-anchor="end">20</text>
<line x1="1207.8" y1="524.5" x2="1214.8" y2="524.5" stroke="#000" stroke-width="2" />
<text x="1206.3" y="532.3" font-size="22" text-anchor="end">40</text>
<line x1="1207.8" y1="489.2" x2="1214.8" y2="489.2" stroke="#000" stroke-width="2" />
<text x="1206.3" y="497" font-size="22" text-anchor="end">60</text>
<line x1="1207.8" y1="454" x2="1214.8" y2="454" stroke="#000" stroke-width="2" />
<text x="1206.3" y="461.8" font-size="22" text-anchor="end">80</text>
<line x1="1207.8" y1="418.7" x2="1214.8" y2="418.7" stroke="#000" stroke-width="2" />
<text x="1206.3" y="426.5" font-size="22" text-anchor="end">100</text>
<line x1="1207.8" y1="604" x2="1214.8" y2="604" stroke="#000" stroke-width="2" />
<text x="1206.3" y="611.8" font-size="22" text-anchor="end">-5</text>
<line x1="1250.2" y1="604" x2="1250.2" y2="613" stroke="#000" stroke-width="2" />
<line x1="1303.3" y1="604" x2="1303.3" y2="613" stroke="#000" stroke-width="2" />
<text transform="translate(1259.7 619) rotate(-45)" font-size="21.2" text-anchor="end">Primed ES Cells</text>
<text transform="translate(1312.8 619) rotate(-45)" font-size="21.2" text-anchor="end">Neural Prog.</text>
<text transform="translate(1171.5 512) rotate(-90)" font-size="22" text-anchor="middle">% SOX1<tspan baseline-shift="super" font-size="70%">+</tspan> cells</text>
<line x1="1234.4" y1="595" x2="1267" y2="595" stroke="#000" stroke-width="2" />
<line x1="1303.3" y1="427.5" x2="1303.3" y2="438.4" stroke="#000" stroke-width="2" />
<line x1="1293.3" y1="427.5" x2="1313.3" y2="427.5" stroke="#000" stroke-width="2" />
<line x1="1293.3" y1="438.4" x2="1313.3" y2="438.4" stroke="#000" stroke-width="2" />
<rect x="1287" y="430.8" width="32.7" height="5.6" fill="#24407e" stroke="#000" stroke-width="2" />
<line x1="1287" y1="433.5" x2="1319.7" y2="433.5" stroke="#000" stroke-width="2" />
<line x1="1481" y1="417.7" x2="1481" y2="603.3" stroke="#000" stroke-width="2.2" />
<line x1="1480" y1="602.3" x2="1604" y2="602.3" stroke="#000" stroke-width="2.2" />
<line x1="1474" y1="593.8" x2="1481" y2="593.8" stroke="#000" stroke-width="2" />
<text x="1472.5" y="601.6" font-size="22" text-anchor="end">0</text>
<line x1="1474" y1="558.8" x2="1481" y2="558.8" stroke="#000" stroke-width="2" />
<text x="1472.5" y="566.6" font-size="22" text-anchor="end">20</text>
<line x1="1474" y1="523.8" x2="1481" y2="523.8" stroke="#000" stroke-width="2" />
<text x="1472.5" y="531.6" font-size="22" text-anchor="end">40</text>
<line x1="1474" y1="488.7" x2="1481" y2="488.7" stroke="#000" stroke-width="2" />
<text x="1472.5" y="496.5" font-size="22" text-anchor="end">60</text>
<line x1="1474" y1="453.7" x2="1481" y2="453.7" stroke="#000" stroke-width="2" />
<text x="1472.5" y="461.5" font-size="22" text-anchor="end">80</text>
<line x1="1474" y1="418.7" x2="1481" y2="418.7" stroke="#000" stroke-width="2" />
<text x="1472.5" y="426.5" font-size="22" text-anchor="end">100</text>
<line x1="1474" y1="602.3" x2="1481" y2="602.3" stroke="#000" stroke-width="2" />
<text x="1472.5" y="610.1" font-size="22" text-anchor="end">-5</text>
<line x1="1516.4" y1="602.3" x2="1516.4" y2="611.3" stroke="#000" stroke-width="2" />
<line x1="1569.5" y1="602.3" x2="1569.5" y2="611.3" stroke="#000" stroke-width="2" />
<text transform="translate(1525.9 617.3) rotate(-45)" font-size="21.2" text-anchor="end">Primed ES Cells</text>
<text transform="translate(1579 617.3) rotate(-45)" font-size="21.2" text-anchor="end">Neurons</text>
<text transform="translate(1435.5 513) rotate(-90)" font-size="22" text-anchor="middle">% TUJ1<tspan baseline-shift="super" font-size="70%">+</tspan> cells</text>
<line x1="1500.7" y1="593.8" x2="1533.4" y2="593.8" stroke="#000" stroke-width="2" />
<line x1="1569.5" y1="434.8" x2="1569.5" y2="468.5" stroke="#000" stroke-width="2" />
<line x1="1559.5" y1="434.8" x2="1579.5" y2="434.8" stroke="#000" stroke-width="2" />
<line x1="1559.5" y1="468.5" x2="1579.5" y2="468.5" stroke="#000" stroke-width="2" />
<rect x="1553" y="440.7" width="33" height="25.5" fill="#8fd9f2" stroke="#000" stroke-width="2" />
<line x1="1553" y1="459.3" x2="1586" y2="459.3" stroke="#000" stroke-width="2" />
<text x="1715" y="49" font-size="41" font-weight="bold">b</text>
<path d="M1794.5 123.6h18.1v17.4h-18.1zM1812.6 123.6h18.1v17.4h-18.1zM1794.5 141h18.1v17.4h-18.1zM1812.6 141h18.1v17.4h-18.1zM1794.5 158.4h18.1v17.4h-18.1zM1812.6 158.4h18.1v17.4h-18.1zM1794.5 175.8h18.1v17.4h-18.1zM1812.6 175.8h18.1v17.4h-18.1zM1794.5 193.2h18.1v17.4h-18.1zM1812.6 193.2h18.1v17.4h-18.1zM1794.5 210.7h18.1v17.4h-18.1zM1812.6 210.7h18.1v17.4h-18.1zM1794.5 228.1h18.1v17.4h-18.1zM1812.6 228.1h18.1v17.4h-18.1zM1794.5 245.5h18.1v17.4h-18.1zM1812.6 245.5h18.1v17.4h-18.1zM1830.8 262.9h18.1v17.4h-18.1zM1848.9 262.9h18.1v17.4h-18.1zM1830.8 280.3h18.1v17.4h-18.1zM1848.9 280.3h18.1v17.4h-18.1zM1830.8 297.7h18.1v17.4h-18.1zM1848.9 297.7h18.1v17.4h-18.1zM1830.8 315.1h18.1v17.4h-18.1zM1848.9 315.1h18.1v17.4h-18.1zM1867 332.5h18.1v17.4h-18.1zM1885.1 332.5h18.1v17.4h-18.1zM1867 350h18.1v17.4h-18.1zM1885.1 350h18.1v17.4h-18.1zM1867 367.4h18.1v17.4h-18.1zM1885.1 367.4h18.1v17.4h-18.1zM1830.8 384.8h18.1v17.4h-18.1zM1848.9 384.8h18.1v17.4h-18.1zM1867 384.8h18.1v17.4h-18.1zM1885.1 384.8h18.1v17.4h-18.1zM1867 402.2h18.1v17.4h-18.1zM1885.1 402.2h18.1v17.4h-18.1zM1903.2 419.6h18.1v17.4h-18.1zM1921.4 419.6h18.1v17.4h-18.1zM1903.2 437h18.1v17.4h-18.1zM1921.4 437h18.1v17.4h-18.1zM1903.2 454.4h18.1v17.4h-18.1zM1921.4 454.4h18.1v17.4h-18.1zM1903.2 471.8h18.1v17.4h-18.1zM1921.4 471.8h18.1v17.4h-18.1zM1903.2 489.3h18.1v17.4h-18.1zM1921.4 489.3h18.1v17.4h-18.1zM1903.2 506.7h18.1v17.4h-18.1zM1921.4 506.7h18.1v17.4h-18.1zM1939.5 524.1h18.1v17.4h-18.1zM1957.6 524.1h18.1v17.4h-18.1zM1939.5 541.5h18.1v17.4h-18.1zM1957.6 541.5h18.1v17.4h-18.1zM1939.5 558.9h18.1v17.4h-18.1zM1957.6 558.9h18.1v17.4h-18.1zM1939.5 576.3h18.1v17.4h-18.1zM1957.6 576.3h18.1v17.4h-18.1zM1975.8 593.7h18.1v17.4h-18.1zM1993.9 593.7h18.1v17.4h-18.1zM1975.8 611.1h18.1v17.4h-18.1zM1993.9 611.1h18.1v17.4h-18.1zM1975.8 628.6h18.1v17.4h-18.1zM1993.9 628.6h18.1v17.4h-18.1zM1975.8 646h18.1v17.4h-18.1zM1993.9 646h18.1v17.4h-18.1zM1975.8 663.4h18.1v17.4h-18.1zM1993.9 663.4h18.1v17.4h-18.1z" fill="#ea2628"/>
<path d="M1830.8 123.6h18.1v17.4h-18.1zM1957.6 454.4h18.1v17.4h-18.1zM1939.5 489.3h18.1v17.4h-18.1zM1903.2 646h18.1v17.4h-18.1z" fill="#858fc8"/>
<path d="M1848.9 123.6h18.1v17.4h-18.1zM1867 419.6h18.1v17.4h-18.1zM1812.6 628.6h18.1v17.4h-18.1zM1848.9 646h18.1v17.4h-18.1z" fill="#8791c8"/>
<path d="M1867 123.6h18.1v17.4h-18.1zM1867 437h18.1v17.4h-18.1z" fill="#c6cae5"/>
<path d="M1885.1 123.6h18.1v17.4h-18.1zM1975.8 123.6h18.1v17.4h-18.1zM1903.2 141h18.1v17.4h-18.1zM1921.4 402.2h18.1v17.4h-18.1z" fill="#b3b9dd"/>
<path d="M1903.2 123.6h18.1v17.4h-18.1z" fill="#7c87c3"/>
<path d="M1921.4 123.6h18.1v17.4h-18.1zM1867 210.7h18.1v17.4h-18.1zM1903.2 315.1h18.1v17.4h-18.1zM1812.6 454.4h18.1v17.4h-18.1zM1848.9 558.9h18.1v17.4h-18.1z" fill="#949dce"/>
<path d="M1939.5 123.6h18.1v17.4h-18.1zM1921.4 158.4h18.1v17.4h-18.1z" fill="#8f99cc"/>
<path d="M1957.6 123.6h18.1v17.4h-18.1zM1921.4 593.7h18.1v17.4h-18.1z" fill="#9ba3d2"/>
<path d="M1993.9 123.6h18.1v17.4h-18.1zM1921.4 141h18.1v17.4h-18.1zM1921.4 384.8h18.1v17.4h-18.1zM1939.5 663.4h18.1v17.4h-18.1z" fill="#aab1d8"/>
<path d="M1830.8 141h18.1v17.4h-18.1zM1957.6 158.4h18.1v17.4h-18.1zM1794.5 419.6h18.1v17.4h-18.1z" fill="#9aa2d1"/>
<path d="M1848.9 141h18.1v17.4h-18.1z" fill="#8b94ca"/>
<path d="M1867 141h18.1v17.4h-18.1z" fill="#cfd2e9"/>
<path d="M1885.1 141h18.1v17.4h-18.1zM1975.8 454.4h18.1v17.4h-18.1zM1848.9 506.7h18.1v17.4h-18.1z" fill="#bcc2e1"/>
<path d="M1939.5 141h18.1v17.4h-18.1zM1921.4 210.7h18.1v17.4h-18.1zM1830.8 332.5h18.1v17.4h-18.1zM1885.1 558.9h18.1v17.4h-18.1zM1921.4 611.1h18.1v17.4h-18.1z" fill="#99a1d1"/>
<path d="M1957.6 141h18.1v17.4h-18.1zM1903.2 193.2h18.1v17.4h-18.1zM1957.6 419.6h18.1v17.4h-18.1zM1885.1 646h18.1v17.4h-18.1z" fill="#8993ca"/>
<path d="M1975.8 141h18.1v17.4h-18.1zM1921.4 175.8h18.1v17.4h-18.1z" fill="#9ba4d2"/>
<path d="M1993.9 141h18.1v17.4h-18.1zM1921.4 193.2h18.1v17.4h-18.1zM1939.5 332.5h18.1v17.4h-18.1zM1939.5 350h18.1v17.4h-18.1zM1794.5 437h18.1v17.4h-18.1zM1993.9 558.9h18.1v17.4h-18.1zM1812.6 646h18.1v17.4h-18.1z" fill="#8f98cc"/>
<path d="M1830.8 158.4h18.1v17.4h-18.1zM1903.2 245.5h18.1v17.4h-18.1zM1903.2 332.5h18.1v17.4h-18.1zM1921.4 524.1h18.1v17.4h-18.1zM1921.4 558.9h18.1v17.4h-18.1z" fill="#8b95ca"/>
<path d="M1848.9 158.4h18.1v17.4h-18.1zM1812.6 593.7h18.1v17.4h-18.1zM1848.9 628.6h18.1v17.4h-18.1zM1830.8 663.4h18.1v17.4h-18.1zM1867 663.4h18.1v17.4h-18.1z" fill="#8791c9"/>
<path d="M1867 158.4h18.1v17.4h-18.1zM1885.1 193.2h18.1v17.4h-18.1zM1830.8 506.7h18.1v17.4h-18.1zM1867 593.7h18.1v17.4h-18.1z" fill="#808ac5"/>
<path d="M1885.1 158.4h18.1v17.4h-18.1zM1939.5 193.2h18.1v17.4h-18.1zM1812.6 367.4h18.1v17.4h-18.1zM1957.6 611.1h18.1v17.4h-18.1z" fill="#8590c8"/>
<path d="M1903.2 158.4h18.1v17.4h-18.1zM1903.2 175.8h18.1v17.4h-18.1zM1794.5 576.3h18.1v17.4h-18.1zM1794.5 593.7h18.1v17.4h-18.1z" fill="#9da5d2"/>
<path d="M1939.5 158.4h18.1v17.4h-18.1zM1993.9 175.8h18.1v17.4h-18.1zM1921.4 350h18.1v17.4h-18.1zM1885.1 419.6h18.1v17.4h-18.1z" fill="#8d97cb"/>
<path d="M1975.8 158.4h18.1v17.4h-18.1zM1885.1 175.8h18.1v17.4h-18.1zM1993.9 367.4h18.1v17.4h-18.1zM1830.8 437h18.1v17.4h-18.1zM1903.2 541.5h18.1v17.4h-18.1zM1830.8 593.7h18.1v17.4h-18.1zM1885.1 663.4h18.1v17.4h-18.1z" fill="#919acd"/>
<path d="M1993.9 158.4h18.1v17.4h-18.1zM1903.2 367.4h18.1v17.4h-18.1zM1975.8 367.4h18.1v17.4h-18.1zM1794.5 506.7h18.1v17.4h-18.1zM1939.5 593.7h18.1v17.4h-18.1z" fill="#9ca4d2"/>
<path d="M1830.8 175.8h18.1v17.4h-18.1zM1885.1 210.7h18.1v17.4h-18.1zM1812.6 611.1h18.1v17.4h-18.1zM1848.9 663.4h18.1v17.4h-18.1z" fill="#9ba3d1"/>
<path d="M1848.9 175.8h18.1v17.4h-18.1zM1867 228.1h18.1v17.4h-18.1zM1993.9 437h18.1v17.4h-18.1z" fill="#848ec7"/>
<path d="M1867 175.8h18.1v17.4h-18.1zM1957.6 193.2h18.1v17.4h-18.1zM1830.8 350h18.1v17.4h-18.1zM1957.6 506.7h18.1v17.4h-18.1zM1921.4 646h18.1v17.4h-18.1z" fill="#979fd0"/>
<path d="M1939.5 175.8h18.1v17.4h-18.1zM1885.1 315.1h18.1v17.4h-18.1zM1794.5 332.5h18.1v17.4h-18.1zM1993.9 332.5h18.1v17.4h-18.1zM1794.5 471.8h18.1v17.4h-18.1zM1957.6 471.8h18.1v17.4h-18.1zM1830.8 576.3h18.1v17.4h-18.1zM1867 628.6h18.1v17.4h-18.1zM1885.1 628.6h18.1v17.4h-18.1z" fill="#939cce"/>
<path d="M1957.6 175.8h18.1v17.4h-18.1zM1867 245.5h18.1v17.4h-18.1zM1957.6 646h18.1v17.4h-18.1z" fill="#818bc6"/>
<path d="M1975.8 175.8h18.1v17.4h-18.1zM1830.8 367.4h18.1v17.4h-18.1zM1867 558.9h18.1v17.4h-18.1zM1921.4 576.3h18.1v17.4h-18.1zM1939.5 646h18.1v17.4h-18.1z" fill="#808bc5"/>
<path d="M1830.8 193.2h18.1v17.4h-18.1zM1794.5 454.4h18.1v17.4h-18.1zM1848.9 541.5h18.1v17.4h-18.1zM1885.1 576.3h18.1v17.4h-18.1zM1848.9 593.7h18.1v17.4h-18.1zM1939.5 611.1h18.1v17.4h-18.1z" fill="#8c96cb"/>
<path d="M1848.9 193.2h18.1v17.4h-18.1zM1885.1 280.3h18.1v17.4h-18.1zM1848.9 419.6h18.1v17.4h-18.1zM1830.8 471.8h18.1v17.4h-18.1zM1993.9 506.7h18.1v17.4h-18.1zM1867 541.5h18.1v17.4h-18.1zM1957.6 593.7h18.1v17.4h-18.1zM1830.8 646h18.1v17.4h-18.1z" fill="#828cc6"/>
<path d="M1867 193.2h18.1v17.4h-18.1z" fill="#8992c9"/>
<path d="M1975.8 193.2h18.1v17.4h-18.1zM1975.8 315.1h18.1v17.4h-18.1zM1885.1 489.3h18.1v17.4h-18.1zM1794.5 663.4h18.1v17.4h-18.1z" fill="#818cc6"/>
<path d="M1993.9 193.2h18.1v17.4h-18.1zM1885.1 228.1h18.1v17.4h-18.1zM1885.1 245.5h18.1v17.4h-18.1zM1848.9 332.5h18.1v17.4h-18.1zM1957.6 437h18.1v17.4h-18.1zM1975.8 558.9h18.1v17.4h-18.1zM1812.6 576.3h18.1v17.4h-18.1zM1867 611.1h18.1v17.4h-18.1zM1903.2 611.1h18.1v17.4h-18.1zM1957.6 628.6h18.1v17.4h-18.1z" fill="#8690c8"/>
<path d="M1830.8 210.7h18.1v17.4h-18.1zM1830.8 228.1h18.1v17.4h-18.1zM1830.8 245.5h18.1v17.4h-18.1z" fill="#dee0f0"/>
<path d="M1848.9 210.7h18.1v17.4h-18.1zM1848.9 228.1h18.1v17.4h-18.1zM1848.9 245.5h18.1v17.4h-18.1z" fill="#dadcee"/>
<path d="M1903.2 210.7h18.1v17.4h-18.1zM1794.5 611.1h18.1v17.4h-18.1z" fill="#838ec7"/>
<path d="M1939.5 210.7h18.1v17.4h-18.1zM1957.6 210.7h18.1v17.4h-18.1zM1975.8 210.7h18.1v17.4h-18.1zM1993.9 210.7h18.1v17.4h-18.1zM1939.5 228.1h18.1v17.4h-18.1zM1957.6 228.1h18.1v17.4h-18.1zM1975.8 228.1h18.1v17.4h-18.1zM1993.9 228.1h18.1v17.4h-18.1zM1939.5 245.5h18.1v17.4h-18.1zM1957.6 245.5h18.1v17.4h-18.1zM1975.8 245.5h18.1v17.4h-18.1zM1993.9 245.5h18.1v17.4h-18.1z" fill="#6f7bbe"/>
<path d="M1903.2 228.1h18.1v17.4h-18.1zM1957.6 367.4h18.1v17.4h-18.1zM1993.9 419.6h18.1v17.4h-18.1zM1939.5 454.4h18.1v17.4h-18.1zM1867 576.3h18.1v17.4h-18.1zM1903.2 576.3h18.1v17.4h-18.1z" fill="#9099cd"/>
<path d="M1921.4 228.1h18.1v17.4h-18.1zM1993.9 350h18.1v17.4h-18.1zM1794.5 367.4h18.1v17.4h-18.1zM1939.5 471.8h18.1v17.4h-18.1zM1830.8 489.3h18.1v17.4h-18.1zM1867 646h18.1v17.4h-18.1z" fill="#969fcf"/>
<path d="M1921.4 245.5h18.1v17.4h-18.1zM1812.6 471.8h18.1v17.4h-18.1zM1885.1 471.8h18.1v17.4h-18.1zM1975.8 541.5h18.1v17.4h-18.1zM1794.5 558.9h18.1v17.4h-18.1z" fill="#98a0d0"/>
<path d="M1794.5 262.9h18.1v17.4h-18.1zM1812.6 262.9h18.1v17.4h-18.1z" fill="#7682c1"/>
<path d="M1867 262.9h18.1v17.4h-18.1zM1848.9 350h18.1v17.4h-18.1zM1939.5 506.7h18.1v17.4h-18.1z" fill="#8d96cb"/>
<path d="M1885.1 262.9h18.1v17.4h-18.1z" fill="#d8dbed"/>
<path d="M1903.2 262.9h18.1v17.4h-18.1zM1993.9 524.1h18.1v17.4h-18.1z" fill="#f0f1f8"/>
<path d="M1921.4 262.9h18.1v17.4h-18.1zM1794.5 350h18.1v17.4h-18.1zM1975.8 524.1h18.1v17.4h-18.1z" fill="#e5e7f3"/>
<path d="M1939.5 262.9h18.1v17.4h-18.1zM1957.6 262.9h18.1v17.4h-18.1zM1975.8 262.9h18.1v17.4h-18.1zM1993.9 262.9h18.1v17.4h-18.1zM1903.2 280.3h18.1v17.4h-18.1zM1921.4 280.3h18.1v17.4h-18.1zM1939.5 280.3h18.1v17.4h-18.1zM1957.6 280.3h18.1v17.4h-18.1zM1975.8 280.3h18.1v17.4h-18.1zM1993.9 280.3h18.1v17.4h-18.1zM1794.5 524.1h18.1v17.4h-18.1zM1812.6 524.1h18.1v17.4h-18.1zM1830.8 524.1h18.1v17.4h-18.1zM1848.9 524.1h18.1v17.4h-18.1zM1867 524.1h18.1v17.4h-18.1zM1885.1 524.1h18.1v17.4h-18.1zM1903.2 524.1h18.1v17.4h-18.1z" fill="#6976bb"/>
<path d="M1794.5 280.3h18.1v17.4h-18.1z" fill="#f0acb0"/>
<path d="M1812.6 280.3h18.1v17.4h-18.1z" fill="#ef8d91"/>
<path d="M1867 280.3h18.1v17.4h-18.1zM1812.6 384.8h18.1v17.4h-18.1zM1975.8 437h18.1v17.4h-18.1z" fill="#969ecf"/>
<path d="M1794.5 297.7h18.1v17.4h-18.1zM1812.6 297.7h18.1v17.4h-18.1zM1993.9 315.1h18.1v17.4h-18.1zM1794.5 384.8h18.1v17.4h-18.1zM1939.5 384.8h18.1v17.4h-18.1zM1957.6 384.8h18.1v17.4h-18.1zM1975.8 384.8h18.1v17.4h-18.1zM1993.9 384.8h18.1v17.4h-18.1z" fill="#5160b0"/>
<path d="M1867 297.7h18.1v17.4h-18.1z" fill="#d3d6eb"/>
<path d="M1885.1 297.7h18.1v17.4h-18.1z" fill="#ebecf6"/>
<path d="M1903.2 297.7h18.1v17.4h-18.1z" fill="#f1b6bb"/>
<path d="M1921.4 297.7h18.1v17.4h-18.1z" fill="#f4ecf2"/>
<path d="M1939.5 297.7h18.1v17.4h-18.1zM1957.6 297.7h18.1v17.4h-18.1zM1975.8 297.7h18.1v17.4h-18.1zM1993.9 297.7h18.1v17.4h-18.1zM1812.6 402.2h18.1v17.4h-18.1z" fill="#5c6ab5"/>
<path d="M1794.5 315.1h18.1v17.4h-18.1z" fill="#ee787c"/>
<path d="M1812.6 315.1h18.1v17.4h-18.1z" fill="#ed6467"/>
<path d="M1867 315.1h18.1v17.4h-18.1zM1939.5 437h18.1v17.4h-18.1zM1867 489.3h18.1v17.4h-18.1z" fill="#8a93ca"/>
<path d="M1921.4 315.1h18.1v17.4h-18.1z" fill="#4a59ad"/>
<path d="M1939.5 315.1h18.1v17.4h-18.1zM1957.6 315.1h18.1v17.4h-18.1z" fill="#4e5dae"/>
<path d="M1812.6 332.5h18.1v17.4h-18.1zM1903.2 350h18.1v17.4h-18.1zM1975.8 419.6h18.1v17.4h-18.1zM1867 471.8h18.1v17.4h-18.1zM1812.6 506.7h18.1v17.4h-18.1zM1794.5 628.6h18.1v17.4h-18.1zM1921.4 663.4h18.1v17.4h-18.1z" fill="#959ecf"/>
<path d="M1921.4 332.5h18.1v17.4h-18.1zM1867 454.4h18.1v17.4h-18.1zM1975.8 489.3h18.1v17.4h-18.1zM1830.8 541.5h18.1v17.4h-18.1z" fill="#838dc7"/>
<path d="M1957.6 332.5h18.1v17.4h-18.1z" fill="#7f8ac5"/>
<path d="M1975.8 332.5h18.1v17.4h-18.1zM1921.4 541.5h18.1v17.4h-18.1z" fill="#8993c9"/>
<path d="M1812.6 350h18.1v17.4h-18.1zM1830.8 419.6h18.1v17.4h-18.1zM1975.8 471.8h18.1v17.4h-18.1zM1848.9 576.3h18.1v17.4h-18.1z" fill="#848fc7"/>
<path d="M1957.6 350h18.1v17.4h-18.1zM1812.6 489.3h18.1v17.4h-18.1zM1848.9 489.3h18.1v17.4h-18.1zM1812.6 558.9h18.1v17.4h-18.1z" fill="#929bcd"/>
<path d="M1975.8 350h18.1v17.4h-18.1zM1812.6 437h18.1v17.4h-18.1zM1885.1 593.7h18.1v17.4h-18.1z" fill="#929bce"/>
<path d="M1848.9 367.4h18.1v17.4h-18.1z" fill="#838dc6"/>
<path d="M1921.4 367.4h18.1v17.4h-18.1zM1848.9 437h18.1v17.4h-18.1zM1830.8 454.4h18.1v17.4h-18.1zM1794.5 646h18.1v17.4h-18.1z" fill="#8c95cb"/>
<path d="M1939.5 367.4h18.1v17.4h-18.1zM1885.1 541.5h18.1v17.4h-18.1z" fill="#8a94ca"/>
<path d="M1903.2 384.8h18.1v17.4h-18.1z" fill="#e2e3f2"/>
<path d="M1794.5 402.2h18.1v17.4h-18.1zM1939.5 402.2h18.1v17.4h-18.1zM1957.6 402.2h18.1v17.4h-18.1zM1975.8 402.2h18.1v17.4h-18.1zM1993.9 402.2h18.1v17.4h-18.1z" fill="#5765b3"/>
<path d="M1830.8 402.2h18.1v17.4h-18.1z" fill="#ec5a5c"/>
<path d="M1848.9 402.2h18.1v17.4h-18.1z" fill="#f0979c"/>
<path d="M1903.2 402.2h18.1v17.4h-18.1z" fill="#f4f4fa"/>
<path d="M1812.6 419.6h18.1v17.4h-18.1z" fill="#8e97cb"/>
<path d="M1939.5 419.6h18.1v17.4h-18.1z" fill="#8e97cc"/>
<path d="M1885.1 437h18.1v17.4h-18.1zM1993.9 454.4h18.1v17.4h-18.1z" fill="#cbcfe8"/>
<path d="M1848.9 454.4h18.1v17.4h-18.1zM1794.5 541.5h18.1v17.4h-18.1z" fill="#97a0d0"/>
<path d="M1885.1 454.4h18.1v17.4h-18.1zM1957.6 489.3h18.1v17.4h-18.1zM1975.8 576.3h18.1v17.4h-18.1z" fill="#858fc7"/>
<path d="M1848.9 471.8h18.1v17.4h-18.1zM1867 506.7h18.1v17.4h-18.1z" fill="#949cce"/>
<path d="M1993.9 471.8h18.1v17.4h-18.1zM1975.8 506.7h18.1v17.4h-18.1zM1921.4 628.6h18.1v17.4h-18.1z" fill="#99a2d1"/>
<path d="M1794.5 489.3h18.1v17.4h-18.1z" fill="#959dcf"/>
<path d="M1993.9 489.3h18.1v17.4h-18.1zM1903.2 593.7h18.1v17.4h-18.1zM1848.9 611.1h18.1v17.4h-18.1zM1903.2 628.6h18.1v17.4h-18.1z" fill="#8e98cc"/>
<path d="M1885.1 506.7h18.1v17.4h-18.1zM1830.8 611.1h18.1v17.4h-18.1z" fill="#828dc6"/>
<path d="M1812.6 541.5h18.1v17.4h-18.1zM1903.2 558.9h18.1v17.4h-18.1zM1993.9 576.3h18.1v17.4h-18.1zM1812.6 663.4h18.1v17.4h-18.1zM1903.2 663.4h18.1v17.4h-18.1z" fill="#8892c9"/>
<path d="M1993.9 541.5h18.1v17.4h-18.1z" fill="#808bc6"/>
<path d="M1830.8 558.9h18.1v17.4h-18.1zM1939.5 628.6h18.1v17.4h-18.1z" fill="#9099cc"/>
<path d="M1885.1 611.1h18.1v17.4h-18.1z" fill="#909acd"/>
<path d="M1830.8 628.6h18.1v17.4h-18.1z" fill="#98a1d0"/>
<path d="M1957.6 663.4h18.1v17.4h-18.1z" fill="#a6add7"/>
<path d="M1812.6 123.6V680.8M1830.8 123.6V680.8M1848.9 123.6V680.8M1867 123.6V680.8M1885.1 123.6V680.8M1903.2 123.6V680.8M1921.4 123.6V680.8M1939.5 123.6V680.8M1957.6 123.6V680.8M1975.8 123.6V680.8M1993.9 123.6V680.8M1794.5 141H2012M1794.5 158.4H2012M1794.5 175.8H2012M1794.5 193.2H2012M1794.5 210.7H2012M1794.5 228.1H2012M1794.5 245.5H2012M1794.5 262.9H2012M1794.5 280.3H2012M1794.5 297.7H2012M1794.5 315.1H2012M1794.5 332.5H2012M1794.5 350H2012M1794.5 367.4H2012M1794.5 384.8H2012M1794.5 402.2H2012M1794.5 419.6H2012M1794.5 437H2012M1794.5 454.4H2012M1794.5 471.8H2012M1794.5 489.3H2012M1794.5 506.7H2012M1794.5 524.1H2012M1794.5 541.5H2012M1794.5 558.9H2012M1794.5 576.3H2012M1794.5 593.7H2012M1794.5 611.1H2012M1794.5 628.6H2012M1794.5 646H2012M1794.5 663.4H2012" stroke="#7f7f8f" stroke-width="0.7" opacity="0.6"/>
<rect x="1794.5" y="123.6" width="217.5" height="557.2" fill="none" stroke="#000" stroke-width="2" />
<rect x="1794.5" y="116" width="36.2" height="7" fill="#6d6e70" />
<rect x="1830.8" y="116" width="36.2" height="7" fill="#3aa04b" />
<rect x="1867" y="116" width="36.2" height="7" fill="#e3262b" />
<rect x="1903.2" y="116" width="36.2" height="7" fill="#f0b43a" />
<rect x="1939.5" y="116" width="36.2" height="7" fill="#4357a6" />
<rect x="1975.8" y="116" width="36.2" height="7" fill="#5ab6e4" />
<line x1="1830.8" y1="116" x2="1830.8" y2="123" stroke="#222" stroke-width="1" />
<line x1="1867" y1="116" x2="1867" y2="123" stroke="#222" stroke-width="1" />
<line x1="1903.2" y1="116" x2="1903.2" y2="123" stroke="#222" stroke-width="1" />
<line x1="1939.5" y1="116" x2="1939.5" y2="123" stroke="#222" stroke-width="1" />
<line x1="1975.8" y1="116" x2="1975.8" y2="123" stroke="#222" stroke-width="1" />
<rect x="1794.5" y="115.5" width="217.5" height="7.5" fill="none" stroke="#000" stroke-width="1.6" />
<text transform="translate(1807.6 103.5) rotate(-39.3)" font-size="21">Naive ES Cells</text>
<text transform="translate(1846.3 103.5) rotate(-39.3)" font-size="21">Primed ES Cells</text>
<text transform="translate(1879.7 103.5) rotate(-39.3)" font-size="21">Mesoderm Prog.</text>
<text transform="translate(1915.8 103.5) rotate(-39.3)" font-size="21">Endoderm Prog.</text>
<text transform="translate(1955.7 103.5) rotate(-39.3)" font-size="21">Neural Prog.</text>
<text transform="translate(1991.8 103.5) rotate(-39.3)" font-size="21">Neurons</text>
<text x="2016.3" y="136.5" font-size="17.6" font-style="italic">KL4</text>
<text x="2016.3" y="154.6" font-size="17.6" font-style="italic">KLF5</text>
<text x="2016.3" y="172" font-size="17.6" font-style="italic">KLF17</text>
<text x="2016.3" y="191" font-size="17.6" font-style="italic">DPPA3</text>
<text x="2016.3" y="210" font-size="17.6" font-style="italic">DPPA5</text>
<text x="2016.3" y="226.7" font-size="17.6" font-style="italic">NANOG</text>
<text x="2016.3" y="246" font-size="17.6" font-style="italic">DPPA2</text>
<text x="2016.3" y="265" font-size="17.6" font-style="italic">PRDM14</text>
<text x="2016.3" y="284.6" font-size="17.6" font-style="italic">THY1</text>
<text x="2016.3" y="301.4" font-size="17.6" font-style="italic">IDO1</text>
<text x="2016.3" y="319.4" font-size="17.6" font-style="italic">CYTL1</text>
<text x="2016.3" y="336" font-size="17.6" font-style="italic">PIWIL2</text>
<text x="2016.3" y="353" font-size="17.6" font-style="italic">CDX2</text>
<text x="2016.3" y="372" font-size="17.6" font-style="italic">MSGN1</text>
<text x="2016.3" y="390" font-size="17.6" font-style="italic">TBXT</text>
<text x="2016.3" y="405.6" font-size="17.6" font-style="italic">PAX9</text>
<text x="2016.3" y="423.4" font-size="17.6" font-style="italic">SOX17</text>
<text x="2016.3" y="442.3" font-size="17.6" font-style="italic">FOXA2</text>
<text x="2016.3" y="462.3" font-size="17.6" font-style="italic">GATA6</text>
<text x="2016.3" y="479" font-size="17.6" font-style="italic">LHX1</text>
<text x="2016.3" y="497.5" font-size="17.6" font-style="italic">TNFSF14</text>
<text x="2016.3" y="514" font-size="17.6" font-style="italic">CALCR</text>
<text x="2016.3" y="532.4" font-size="17.6" font-style="italic">SOX1</text>
<text x="2016.3" y="551.3" font-size="17.6" font-style="italic">OLIG3</text>
<text x="2016.3" y="570" font-size="17.6" font-style="italic">NEUROD1</text>
<text x="2016.3" y="587" font-size="17.6" font-style="italic">NEUROG1</text>
<text x="2016.3" y="605.8" font-size="17.6" font-style="italic">TTR</text>
<text x="2016.3" y="624.7" font-size="17.6" font-style="italic">LHX2</text>
<text x="2016.3" y="642.5" font-size="17.6" font-style="italic">GDF5</text>
<text x="2016.3" y="660.8" font-size="17.6" font-style="italic">WNT11</text>
<text x="2016.3" y="679.2" font-size="17.6" font-style="italic">SPARCL1</text>
<rect x="1794.5" y="688.8" width="86.3" height="6" fill="url(#zg)" stroke="#000" stroke-width="1.4" />
<text x="1794.5" y="711.5" font-size="16" text-anchor="middle">-1</text>
<text x="1839" y="711.5" font-size="16" text-anchor="middle">0</text>
<text x="1881.2" y="711.5" font-size="16" text-anchor="middle">1</text>
<text x="1838" y="727" font-size="17.4" text-anchor="middle">Z-score</text>
<text x="1713" y="768.5" font-size="41" font-weight="bold">d</text>
<line x1="1801.2" y1="782" x2="1801.2" y2="1050.1" stroke="#000" stroke-width="2.4" />
<line x1="1790.4" y1="1049.1" x2="2067" y2="1049.1" stroke="#000" stroke-width="2.4" />
<line x1="1792.2" y1="1049.1" x2="1801.2" y2="1049.1" stroke="#000" stroke-width="2.2" />
<text x="1789.2" y="1058.6" font-size="26.5" text-anchor="end">0</text>
<line x1="1792.2" y1="960.2" x2="1801.2" y2="960.2" stroke="#000" stroke-width="2.2" />
<text x="1789.2" y="969.7" font-size="26.5" text-anchor="end">5</text>
<line x1="1792.2" y1="871.4" x2="1801.2" y2="871.4" stroke="#000" stroke-width="2.2" />
<text x="1789.2" y="880.9" font-size="26.5" text-anchor="end">10</text>
<line x1="1792.2" y1="782.5" x2="1801.2" y2="782.5" stroke="#000" stroke-width="2.2" />
<text x="1789.2" y="792" font-size="26.5" text-anchor="end">15</text>
<line x1="1828.1" y1="1049.1" x2="1828.1" y2="1060.1" stroke="#000" stroke-width="2.2" />
<line x1="1870.4" y1="1049.1" x2="1870.4" y2="1060.1" stroke="#000" stroke-width="2.2" />
<line x1="1912.2" y1="1049.1" x2="1912.2" y2="1060.1" stroke="#000" stroke-width="2.2" />
<line x1="1954.2" y1="1049.1" x2="1954.2" y2="1060.1" stroke="#000" stroke-width="2.2" />
<line x1="1996.2" y1="1049.1" x2="1996.2" y2="1060.1" stroke="#000" stroke-width="2.2" />
<line x1="2038.2" y1="1049.1" x2="2038.2" y2="1060.1" stroke="#000" stroke-width="2.2" />
<text transform="translate(1745.3 904) rotate(-90)" font-size="27.3" text-anchor="middle">P-body number / cell</text>
<text transform="translate(1834.1 1072.1) rotate(-45)" font-size="21.5" text-anchor="end">Naive ES Cells</text>
<text transform="translate(1876.4 1072.1) rotate(-45)" font-size="21.5" text-anchor="end">Primed ES Cells</text>
<text transform="translate(1918.2 1072.1) rotate(-45)" font-size="21.5" text-anchor="end">Meso Prog.</text>
<text transform="translate(1960.2 1072.1) rotate(-45)" font-size="21.5" text-anchor="end">Endo Prog.</text>
<text transform="translate(2002.2 1072.1) rotate(-45)" font-size="21.5" text-anchor="end">Neural Prog.</text>
<text transform="translate(2044.2 1072.1) rotate(-45)" font-size="21.5" text-anchor="end">Neurons</text>
<line x1="1814.7" y1="995.8" x2="1842.9" y2="995.8" stroke="#000" stroke-width="2.4" />
<line x1="1898.7" y1="995.8" x2="1926.4" y2="995.8" stroke="#000" stroke-width="2.4" />
<line x1="1982.2" y1="1031.3" x2="2010.5" y2="1031.3" stroke="#000" stroke-width="2.4" />
<path d="M1824.8 1031.3H1831.4M1819.3 1013.6H1836.8M1822.8 995.8H1833.4M1822.5 978H1833.7M1824.5 960.2H1831.7M1826.1 942.5H1830.1M1828.1 924.7H1828.1" stroke="#9b9b9b" stroke-width="10.8" stroke-linecap="round" fill="none"/>
<path d="M1864.9 1031.3H1875.9M1862 1013.6H1878.9M1867.6 995.8H1873.2M1870.4 978H1870.4M1870.4 960.2H1870.4M1870.4 924.7H1870.4M1870.4 906.9H1870.4" stroke="#36a056" stroke-width="10.8" stroke-linecap="round" fill="none"/>
<path d="M1907.5 1031.3H1916.9M1904.2 1013.6H1920.2M1905.2 995.8H1919.2M1905.5 978H1918.9M1910.2 960.2H1914.2M1906.7 942.5H1917.7M1911.5 924.7H1912.9M1912.2 906.9H1912.2M1912.2 871.4H1912.2M1912.2 853.6H1912.2" stroke="#ee3224" stroke-width="10.8" stroke-linecap="round" fill="none"/>
<path d="M1947.2 1031.3H1961.2M1946.2 1013.6H1962.2M1946.8 995.8H1961.6M1950.9 978H1957.5M1953.2 960.2H1955.2M1954.2 942.5H1954.2" stroke="#ec9634" stroke-width="10.8" stroke-linecap="round" fill="none"/>
<path d="M1988.5 1049.1H2003.9M1991.7 1031.3H2000.8M1991.7 1013.6H2000.8M1994.9 995.8H1997.5M1993.9 978H1998.5M1996.2 960.2H1996.2M1996.2 942.5H1996.2M1996.2 924.7H1996.2M1996.2 906.9H1996.2" stroke="#3b55a6" stroke-width="10.8" stroke-linecap="round" fill="none"/>
<path d="M2032.3 1049.1H2044.1M2030.2 1031.3H2046.2M2033.4 1013.6H2043M2035.5 995.8H2040.9M2038 978H2038.5" stroke="#86d6f1" stroke-width="10.8" stroke-linecap="round" fill="none"/>
<text x="49" y="1230.8" font-size="41" font-weight="bold">e</text>
<text x="309.8" y="1344" font-size="24.8" text-anchor="middle">Human Primed ES Cells</text>
<g clip-path="url(#ce)">
<path d="M119 1581h0m1 4h0m6-3h0m2 7h0m1-16h0m2-19h0m1 43h0m29-21h0m22 28h0m5-5h0m5-30h0m11 25h0m0-57h0m1 56h0m1-1h0m0-30h0m0-25h0m4-8h0m3 12h0m2-4h0m1 46h0m4 8h0m0-7h0m1 17h0m1-87h0m0 51h0m2 17h0m2 23h0m1-30h0m1 24h0m1-2h0m0-25h0m1 13h0m0-14h0m1 22h0m1 5h0m0-11h0m1 8h0m0 10h0m1-31h0m0 24h0m0-42h0m0 1h0m2-125h0m0 133h0m0 17h0m1 14h0m1-62h0m0 56h0m0-3h0m0 9h0m1-23h0m0 17h0m0 8h0m1-30h0m0-10h0m1 25h0m0 21h0m0-12h0m0-6h0m1-6h0m1-5h0m0 19h0m0-18h0m1-13h0m0 37h0m0-3h0m1-8h0m0 1h0m1 6h0m0-14h0m0-26h0m0-14h0m0 30h0m1 31h0m0-12h0m0 9h0m0-26h0m0-29h0m1 51h0m0-27h0m0 39h0m1-27h0m0 26h0m0-17h0m0-14h0m0 30h0m0-13h0m1 5h0m0-2h0m0-62h0m0 31h0m0 35h0m1-18h0m0-67h0m0 81h0m1 1h0m0 0h0m1 7h0m0-35h0m0 19h0m0-30h0m0 40h0m0 6h0m0-50h0m0 36h0m0 16h0m1-32h0m0 27h0m0-12h0m0 13h0m0-22h0m0-25h0m0 12h0m1-14h0m0 35h0m0-13h0m0 6h0m0-25h0m0 39h0m1-34h0m0 11h0m0 30h0m0-12h0m0 3h0m0-7h0m1 7h0m0-1h0m0 5h0m0 1h0m1-6h0m0 7h0m0-25h0m0-15h0m0-22h0m0 50h0m0 5h0m1-15h0m0 19h0m0-2h0m0-30h0m0 31h0m0 0h0m0 4h0m0 2h0m1-21h0m0-14h0m0-32h0m0 41h0m0 22h0m0 13h0m1-7h0m0 4h0m0 2h0m0-29h0m1-23h0m0 32h0m0-33h0m0 45h0m0 0h0m0-21h0m0 19h0m0-18h0m0 8h0m1-7h0m0-5h0m0 24h0m0-45h0m0 29h0m0-4h0m0 18h0m1 1h0m0 1h0m0-4h0m0 3h0m0-9h0m0 16h0m0-58h0m1 18h0m0 25h0m1-1h0m0 4h0m0-13h0m0-33h0m0 24h0m1 13h0m0 5h0m0 3h0m1-15h0m0 2h0m0 10h0m0 9h0m0-6h0m1-5h0m0 5h0m0 8h0m0 0h0m0-8h0m0 10h0m0-5h0m1-18h0m0-2h0m0 14h0m0 14h0m1-7h0m0 6h0m0-27h0m1 28h0m0-16h0m0 2h0m0-19h0m0 10h0m1 18h0m0-15h0m0 16h0m0-14h0m0-2h0m0 12h0m0 5h0m0-28h0m1-10h0m0 29h0m0 3h0m0-30h0m0 29h0m1-99h0m0 91h0m0-23h0m0 34h0m1-10h0m0-9h0m0-59h0m0 77h0m0 1h0m1 1h0m0-1h0m0-52h0m0 56h0m0-6h0m0-3h0m0 3h0m1-2h0m0-19h0m0 21h0m0-9h0m0-3h0m1-6h0m0-3h0m0 18h0m0 5h0m0-8h0m0 0h0m0 8h0m1-15h0m0-49h0m1 51h0m0 17h0m0-14h0m0 11h0m0-18h0m1 20h0m0 0h0m0 1h0m1-6h0m1-7h0m0 6h0m0-15h0m1 12h0m0-1h0m0 13h0m1-25h0m0-2h0m0-48h0m0-5h0m0 67h0m0-38h0m0 49h0m1-24h0m0-6h0m0 28h0m0 0h0m1-21h0m0-10h0m0 16h0m0 18h0m0-9h0m1-8h0m0-74h0m0 89h0m0-20h0m0 13h0m0 9h0m0-13h0m1-37h0m0 41h0m0 4h0m0-2h0m1-4h0m0 10h0m0-11h0m0 2h0m0-21h0m0 22h0m0 13h0m0-28h0m1 1h0m0 12h0m0-2h0m0-13h0m0-7h0m0-33h0m0 52h0m1 11h0m0-8h0m0 2h0m0 3h0m0-7h0m0-4h0m1 19h0m0-14h0m0 12h0m0-37h0m0 22h0m0-5h0m1-16h0m0 19h0m0-160h0m0 172h0m1-2h0m0 3h0m0-4h0m0-30h0m1 33h0m0-1h0m0 1h0m1-36h0m0 22h0m0 14h0m0-12h0m1-7h0m0 2h0m0 6h0m0 13h0m0-6h0m0-26h0m0-19h0m0 18h0m1 23h0m0-10h0m0 18h0m0 1h0m0 0h0m0-18h0m0 14h0m1-4h0m0 0h0m0 0h0m0 10h0m1-18h0m0-19h0m0-57h0m0 62h0m0 33h0m0-45h0m0 30h0m0-73h0m1 89h0m0-7h0m0-27h0m0-118h0m0 137h0m0 17h0m1-4h0m0-32h0m0-32h0m0 17h0m1 14h0m0-4h0m0 34h0m0-79h0m0 75h0m0-4h0m1 6h0m0 5h0m1-15h0m0-30h0m0 26h0m0 14h0m0 4h0m0 0h0m1-1h0m0-26h0m1 3h0m0-9h0m0 8h0m0-2h0m0 9h0m0 3h0m0 2h0m1-17h0m0-22h0m0 47h0m1-41h0m0 17h0m0-51h0m0 60h0m0-4h0m0 16h0m1-2h0m0-4h0m0-11h0m1-3h0m0 29h0m0-1h0m0-6h0m0 0h0m0-5h0m0 5h0m0-31h0m1-5h0m0 38h0m0 4h0m1-10h0m0 12h0m0-19h0m0 12h0m0-7h0m0 4h0m0-5h0m1 14h0m0-19h0m0-30h0m0 44h0m0-22h0m0-17h0m1-19h0m0 67h0m1-55h0m0 39h0m0-38h0m1 37h0m0-14h0m0-6h0m0 27h0m1-15h0m0-70h0m0 81h0m0-54h0m0 42h0m0-2h0m0 17h0m0 8h0m0-23h0m0 0h0m1-73h0m0-24h0m1-17h0m0 104h0m0 2h0m0-8h0m0 29h0m0 6h0m0-22h0m0 22h0m1-52h0m0 35h0m0 18h0m0-8h0m1 4h0m0-13h0m0 6h0m0-5h0m0 22h0m0-14h0m0 12h0m0 4h0m0-28h0m0 13h0m1-53h0m0 21h0m0 25h0m0-2h0m0 14h0m0-29h0m0 9h0m0 15h0m0 4h0m1-13h0m0 1h0m0 0h0m0 9h0m0 3h0m0 5h0m0 1h0m1-6h0m0 4h0m0-18h0m0 0h0m0 21h0m0-40h0m0 20h0m0 10h0m1-5h0m0 6h0m0-15h0m0-2h0m1 8h0m0-6h0m0 15h0m0-24h0m0 5h0m0-2h0m0 22h0m0 0h0m1-56h0m0 56h0m0-21h0m0 25h0m0-5h0m1-27h0m0 29h0m0-7h0m0-8h0m0-8h0m0 19h0m1 1h0m0-16h0m0-17h0m0 38h0m0-9h0m0-21h0m0 23h0m0-7h0m0-12h0m0-17h0m0 36h0m0-7h0m0 12h0m0-16h0m1 18h0m0 10h0m0-25h0m1 4h0m0 8h0m0-2h0m0-9h0m1-2h0m0 23h0m0-13h0m0-4h0m0-14h0m0 27h0m0 1h0m0-28h0m0 3h0m1 14h0m0 0h0m0-29h0m0 30h0m0 1h0m0-38h0m0 42h0m0-5h0m1-7h0m1 10h0m0-9h0m0-11h0m0 5h0m0-1h0m0-16h0m1 29h0m0 0h0m0-5h0m0-13h0m0 19h0m0-13h0m0-20h0m0-6h0m1 17h0m0 12h0m0 19h0m0-6h0m0-9h0m0 13h0m1-3h0m0-9h0m0-63h0m0 66h0m0-25h0m1 36h0m0-10h0m0 2h0m0-44h0m1 49h0m0-2h0m0-7h0m0-26h0m1 38h0m0-15h0m0 3h0m0-30h0m0-45h0m1 63h0m0 19h0m1-51h0m0 38h0m0 3h0m0-56h0m0 51h0m0-6h0m1 0h0m0 1h0m0 16h0m0-55h0m0 53h0m0-199h0m0 173h0m0-21h0m0 27h0m1 22h0m0-4h0m0 8h0m1-6h0m0 2h0m0 6h0m0-26h0m1 7h0m0 13h0m0-24h0m0 34h0m0-42h0m0 32h0m0 3h0m0-16h0m0 19h0m1-6h0m0-18h0m1 6h0m0 19h0m0-9h0m1-18h0m0 28h0m1-18h0m0 11h0m0-5h0m0-10h0m0-8h0m1 19h0m0 10h0m0-6h0m0-12h0m0 6h0m0-43h0m0-37h0m0 65h0m1 23h0m0-11h0m0 14h0m0-9h0m0 5h0m1-24h0m0 14h0m0 8h0m0-7h0m0-11h0m0 0h0m0 24h0m0-16h0m1-73h0m0 83h0m0-7h0m0 3h0m1-1h0m0 2h0m0-31h0m0 41h0m0-4h0m1-31h0m0 29h0m0-13h0m0-1h0m0 21h0m1-27h0m0 29h0m0-26h0m0 24h0m0-14h0m0-12h0m0-11h0m0-3h0m0 31h0m1 4h0m0-64h0m0 70h0m0-32h0m1 28h0m0 0h0m0-3h0m0-28h0m0 25h0m1 0h0m0-103h0m0 110h0m1-53h0m0 39h0m0-4h0m0-31h0m0 7h0m0 40h0m0 3h0m0-3h0m0 2h0m1-24h0m0 22h0m0-5h0m0-2h0m0-25h0m0 5h0m1 25h0m0-9h0m0 1h0m0 7h0m0-31h0m0 28h0m0 0h0m0-19h0m0 20h0m1 5h0m0 4h0m0-29h0m0 16h0m1 7h0m0-7h0m0 14h0m0-41h0m1 4h0m0 33h0m0-10h0m0-10h0m1 6h0m0 4h0m0-1h0m0-9h0m0-9h0m0 22h0m1-1h0m0 1h0m0 13h0m0-23h0m0 20h0m1-14h0m0 5h0m0-7h0m0-15h0m0 29h0m0-16h0m1 6h0m0 7h0m0-1h0m0 5h0m1-20h0m0 3h0m0-17h0m0 8h0m1-2h0m0-2h0m0 21h0m0-41h0m0-45h0m0 67h0m0-1h0m1 31h0m0-42h0m1 42h0m0-2h0m0-97h0m0 79h0m0 1h0m0 10h0m0-8h0m1-16h0m0-16h0m0 48h0m0-43h0m0 34h0m1 10h0m0-17h0m0 13h0m0-15h0m1-7h0m0 20h0m0-7h0m0-10h0m0 0h0m1-11h0m0-2h0m0 30h0m0-24h0m0 21h0m0-9h0m1 5h0m0-2h0m0-4h0m0 15h0m0-21h0m1-41h0m0 49h0m0-47h0m0 38h0m0 24h0m0-5h0m0-58h0m0 58h0m0 8h0m1-6h0m0-3h0m0-31h0m0-42h0m0 79h0m0-25h0m0 20h0m0-35h0m1 37h0m0-5h0m0 5h0m0-23h0m1-45h0m0 45h0m0 13h0m0 0h0m0 14h0m0-6h0m0-34h0m0-110h0m0 145h0m0-44h0m0 32h0m1-19h0m0 28h0m0-12h0m0 13h0m0 10h0m0-11h0m1-1h0m1-5h0m0-4h0m0-7h0m0 0h0m0-26h0m1 38h0m0-151h0m0 163h0m0-4h0m0 3h0m1-9h0m0-11h0m0 4h0m0-18h0m0 26h0m0-2h0m1-30h0m0 40h0m0-53h0m0 31h0m0 15h0m0-42h0m1 38h0m0-14h0m0 3h0m0 11h0m0-9h0m0-22h0m0 41h0m0-10h0m1 0h0m0-14h0m0 22h0m0-54h0m0 36h0m1 15h0m0 1h0m0-6h0m0-16h0m0 28h0m0-4h0m1-18h0m0 13h0m0 1h0m0 4h0m0-42h0m0 48h0m0-32h0m1 19h0m0 1h0m0 10h0m0-42h0m0 43h0m0-16h0m1 7h0m0-4h0m1-5h0m0-5h0m0 23h0m1-5h0m0-3h0m0-10h0m1 2h0m0 7h0m1 6h0m1-5h0m0-14h0m0 13h0m0-33h0m0-13h0m1 30h0m0 9h0m0 0h0m0-65h0m0 43h0m1 23h0m0 7h0m0 7h0m0-38h0m0 11h0m0 16h0m1-12h0m0 11h0m0 14h0m1-51h0m0 24h0m0 17h0m0-20h0m0 5h0m0-74h0m0 21h0m1 67h0m0 4h0m0-6h0m0-59h0m1 50h0m1 9h0m0-22h0m0 23h0m1-15h0m0 6h0m0-13h0m0 15h0m0-28h0m0 42h0m1-18h0m0 17h0m0-12h0m0-20h0m0 38h0m0-11h0m1-12h0m0 9h0m0-22h0m1-4h0m0 25h0m0-36h0m0 39h0m0 0h0m1 3h0m0 6h0m0 1h0m1 0h0m0-11h0m0 3h0m1-12h0m0 23h0m0-9h0m1-4h0m0 7h0m0-3h0m1-32h0m0 19h0m0-7h0m0-35h0m0 20h0m1 23h0m1-8h0m0 20h0m1-3h0m0 4h0m1-1h0m0-36h0m0 41h0m1-6h0m0-4h0m0 8h0m1-21h0m0 14h0m0-20h0m1-15h0m1 13h0m1-43h0m0 47h0m0-41h0m1 52h0m0 4h0m3-22h0m3 39h0m2-12h0m2-84h0m2 51h0m2-25h0m2 43h0m1 16h0m1 1h0m5-11h0m3 6h0m11-2h0m8-15h0m9 17h0m6 16h0m1-24h0m3-16h0m10 3h0m4 30h0m3-73h0m5 49h0m6-25h0" stroke="#9c9d9c" stroke-width="4.8" stroke-linecap="round" fill="none" opacity="0.36"/>
<path d="M118 1563h0m1 25h0m0-2h0m2-1h0m0-20h0m6 20h0m5 11h0m0-38h0m3 13h0m4-87h0m7 92h0m7-109h0m8 95h0m2 5h0m5-37h0m4 70h0m0-2h0m2-41h0m1 47h0m1-87h0m3 38h0m18 20h0m5 18h0m2 0h0m6 4h0m0-16h0m2 5h0m2 0h0m1-21h0m4 14h0m1-74h0m0 45h0m2-12h0m4 31h0m1-21h0m1 52h0m0-13h0m0 18h0m3-20h0m3 19h0m2-24h0m0 8h0m0 14h0m1 5h0m1-34h0m0 23h0m0-11h0m1 14h0m0-15h0m1 12h0m0 3h0m0 9h0m0-37h0m0 20h0m1 6h0m1-6h0m0-2h0m1-1h0m0 6h0m0 4h0m0 1h0m0-10h0m1 7h0m0-7h0m0-4h0m0-21h0m0 31h0m0 3h0m0-16h0m1-30h0m0 38h0m1-4h0m0 1h0m0 2h0m0-18h0m0-2h0m0 35h0m1-11h0m0 4h0m0-19h0m1 11h0m0-1h0m0 16h0m0-9h0m0-3h0m0-5h0m0-6h0m0 18h0m1-20h0m0 13h0m1-14h0m0 10h0m0 13h0m0-16h0m0 2h0m1 3h0m0 6h0m0-7h0m0-34h0m0 39h0m0 7h0m1-21h0m0 27h0m0-19h0m0 4h0m1-3h0m0 9h0m1-20h0m0 2h0m0 24h0m0-10h0m0-17h0m1 3h0m0 18h0m0-12h0m1-11h0m0 15h0m0 6h0m0-2h0m0-9h0m1 10h0m0-9h0m0 13h0m0-21h0m0 10h0m0-7h0m0 15h0m0-33h0m1 19h0m0 21h0m0-8h0m0-22h0m0 13h0m0 13h0m0-26h0m0 31h0m1-27h0m0-33h0m0 60h0m0-38h0m0-46h0m1 78h0m0-2h0m0-32h0m0-2h0m0 7h0m0 31h0m0-26h0m0-6h0m0-2h0m0 17h0m0 21h0m0-19h0m1 9h0m0-18h0m0-6h0m0 5h0m1 24h0m0-9h0m0 5h0m0-5h0m0 3h0m0-1h0m0 1h0m0-2h0m0 2h0m1-8h0m0 17h0m0-9h0m0-19h0m0 16h0m0 4h0m1-29h0m0-6h0m0-21h0m0 37h0m0 0h0m1 12h0m0-1h0m1 9h0m0 5h0m0-14h0m1 12h0m0-18h0m0 13h0m0 3h0m0-45h0m0 22h0m0 22h0m1-3h0m0 4h0m0-5h0m0-3h0m0-7h0m0-95h0m1 98h0m0 21h0m0-5h0m0-7h0m0-1h0m0-14h0m0 5h0m0 15h0m0-10h0m0-11h0m1-8h0m0-17h0m0 51h0m0-3h0m0-60h0m1 49h0m0-3h0m0-20h0m0 27h0m0 7h0m1-31h0m0 21h0m0-21h0m0-27h0m0 3h0m1 22h0m0 27h0m0 11h0m0-45h0m0 39h0m0-22h0m0 23h0m0 0h0m1-1h0m0-77h0m0 46h0m1 11h0m0 10h0m0-19h0m0 13h0m0 8h0m1 7h0m0-46h0m0 29h0m0-2h0m0 21h0m0-6h0m1-6h0m0-1h0m0-77h0m0 93h0m1-23h0m0 13h0m0-27h0m0 34h0m0-31h0m1 23h0m0-80h0m0 63h0m0 3h0m0-16h0m0 20h0m1 7h0m0 5h0m1 13h0m0-46h0m0 26h0m0 14h0m0-1h0m0-41h0m1 31h0m0-62h0m0 69h0m0-23h0m0 22h0m0-10h0m0-27h0m0-5h0m1 33h0m0 14h0m0-2h0m0-56h0m0 48h0m0 4h0m0-9h0m1 15h0m0-11h0m0 1h0m0 1h0m0-19h0m1 16h0m0 12h0m0-5h0m0-141h0m0 137h0m0-9h0m0-8h0m0-84h0m0 101h0m1-1h0m0 15h0m0-34h0m1-44h0m0 59h0m0 11h0m0-20h0m0 24h0m0-4h0m1 2h0m0 0h0m0-14h0m0 14h0m1-5h0m0-20h0m0 18h0m0 7h0m0 7h0m0 2h0m0-44h0m0 22h0m1-6h0m0 6h0m0 18h0m0-8h0m0-63h0m0 72h0m0-15h0m0-43h0m1 26h0m0-10h0m1 33h0m0-61h0m0 54h0m0-2h0m0-24h0m0 34h0m1-14h0m0 12h0m0 9h0m0-2h0m0-4h0m0-46h0m0 18h0m0 2h0m0-56h0m0 75h0m0-30h0m1 19h0m0-9h0m0 31h0m0-53h0m0 50h0m0-4h0m0-7h0m0 1h0m0-72h0m1 73h0m0-6h0m0-49h0m0 51h0m1-40h0m0-55h0m0 111h0m0-19h0m1 15h0m0 0h0m0-7h0m0 9h0m0-8h0m0 3h0m1 3h0m0-5h0m0-75h0m0 14h0m0 41h0m0-17h0m0 34h0m0-18h0m1 30h0m0-84h0m0-14h0m0 89h0m1 11h0m0-1h0m0-10h0m0 2h0m0 0h0m0-16h0m1 12h0m0-6h0m0-37h0m0 40h0m0-11h0m0 9h0m0 13h0m1-7h0m0-8h0m0 17h0m0-57h0m1 44h0m0 3h0m0-5h0m0-9h0m1 4h0m0 10h0m0-24h0m0 18h0m0 14h0m1-3h0m0-6h0m0 5h0m0 3h0m0-92h0m0 80h0m0-1h0m1 11h0m1-25h0m0 18h0m0-53h0m1 53h0m0-5h0m0 11h0m0-16h0m0 5h0m0 15h0m0 3h0m1-54h0m0 49h0m1-22h0m0 1h0m0 19h0m0-12h0m0 5h0m0-38h0m0 51h0m0-18h0m0 9h0m1-2h0m0-5h0m0-10h0m0 25h0m1-11h0m0-36h0m0 46h0m0-13h0m0 2h0m0 1h0m0-19h0m1 14h0m0-22h0m0 25h0m0-8h0m0-10h0m0 16h0m1-8h0m0 16h0m0-17h0m0 14h0m0-7h0m0 13h0m0-3h0m0-23h0m0 26h0m0-6h0m0 0h0m1-18h0m0-7h0m0 26h0m1 13h0m0-7h0m0-10h0m0-33h0m1 23h0m0-22h0m0 27h0m1 16h0m0-5h0m0 2h0m0-13h0m0 13h0m1-1h0m0 8h0m0-11h0m0 7h0m1 6h0m0-10h0m0 1h0m0-14h0m0-7h0m1 12h0m0 5h0m0 6h0m0 1h0m0-3h0m0-35h0m1 0h0m0 37h0m0-49h0m0 27h0m0 14h0m0 5h0m0-46h0m0 33h0m0 12h0m0-1h0m1 10h0m0-4h0m0 6h0m0-20h0m1 5h0m0 6h0m0-48h0m1 38h0m0 6h0m0 15h0m0-2h0m0-162h0m1 134h0m0-31h0m0 25h0m0 30h0m0-15h0m0-39h0m1 53h0m0-1h0m0-16h0m0-6h0m1 18h0m0 0h0m0-4h0m0 15h0m0-7h0m0-72h0m1 76h0m0-15h0m0-4h0m0 10h0m0-2h0m0-24h0m0 30h0m1-20h0m0 9h0m0-17h0m0 31h0m1 1h0m0-15h0m0-5h0m0 16h0m0-5h0m0 14h0m0-16h0m1-6h0m0-75h0m0 64h0m1 16h0m0 10h0m1-9h0m0 8h0m0-14h0m0 13h0m0-93h0m0 54h0m0-6h0m1-12h0m0 57h0m0-28h0m0 37h0m0-12h0m1 14h0m0-47h0m0 20h0m0 7h0m0-16h0m0 10h0m1 12h0m0-6h0m0-8h0m0-3h0m0 13h0m0-4h0m1 9h0m0 1h0m0-20h0m0 25h0m0-14h0m1 14h0m0-1h0m0-50h0m0 39h0m0-55h0m0 55h0m0-4h0m1-114h0m0 49h0m0 80h0m0-34h0m0 16h0m0 22h0m0-6h0m0 5h0m1-10h0m0 4h0m0-21h0m1 21h0m0 0h0m0-26h0m0 0h0m0 12h0m1 1h0m0 0h0m0 0h0m0 19h0m1-14h0m0-16h0m0 17h0m0-8h0m0 10h0m1 5h0m0 3h0m0 4h0m0-25h0m0 17h0m0 11h0m0-41h0m1 17h0m0 20h0m0-15h0m0-13h0m0 2h0m0 17h0m0-36h0m1 32h0m0-2h0m0 17h0m0-16h0m0-18h0m0 21h0m0-2h0m0 7h0m1-9h0m0-2h0m0-15h0m0 21h0m0 2h0m0-21h0m1 6h0m0 25h0m0-22h0m0 7h0m0-47h0m0 45h0m0 8h0m1-8h0m0 7h0m0-8h0m0 9h0m1-71h0m0 47h0m0 16h0m0 8h0m1-89h0m0 94h0m0-15h0m0-90h0m1 94h0m0-14h0m0 24h0m0-62h0m0 48h0m0-22h0m1 42h0m0-6h0m0-3h0m0-18h0m0 11h0m1 14h0m0-16h0m0-5h0m0 2h0m1 10h0m0-8h0m0 3h0m0-44h0m0 61h0m1-3h0m0-15h0m0 7h0m0-5h0m0 7h0m0 5h0m0-28h0m0-20h0m0 33h0m1-12h0m0 32h0m0-40h0m0 20h0m1 7h0m0-4h0m0 6h0m0-40h0m0 38h0m1-25h0m0-7h0m0 29h0m1-41h0m0 51h0m1-57h0m0 34h0m0 10h0m1-3h0m0 12h0m0-11h0m0 1h0m0 4h0m0-7h0m1 4h0m0 1h0m0 9h0m0-25h0m0 26h0m0-30h0m0-55h0m1 76h0m0 15h0m0-9h0m0 4h0m0-3h0m1-15h0m0 0h0m1 13h0m0-42h0m0 38h0m0 5h0m0-14h0m0 5h0m0-47h0m0 47h0m0 0h0m0 3h0m0 4h0m0-13h0m0 22h0m1-4h0m0-64h0m0 13h0m0 41h0m0 1h0m0 10h0m0-8h0m0-9h0m1 8h0m0-89h0m1 86h0m0-39h0m0 50h0m0 2h0m0-21h0m1 11h0m0-5h0m0 17h0m0-24h0m0-17h0m0 28h0m1 2h0m0-23h0m0 7h0m1 12h0m0-30h0m1 45h0m0-16h0m0 0h0m0-18h0m0 35h0m1-21h0m0 0h0m0 7h0m0-12h0m1-10h0m0 31h0m0 7h0m1-12h0m0-1h0m0-3h0m0-4h0m0 13h0m0 4h0m0-30h0m0 20h0m0 13h0m0-92h0m0 46h0m1-39h0m0 74h0m0 3h0m0 1h0m0-12h0m0-12h0m1 2h0m0-10h0m1 9h0m0 14h0m1 13h0m0-24h0m1 27h0m0-45h0m0 13h0m0 0h0m0 7h0m0-18h0m0-38h0m1 55h0m0 17h0m0-15h0m0 7h0m0 17h0m1-23h0m0 5h0m0-35h0m0 8h0m1 18h0m1 15h0m0 10h0m1-3h0m0-48h0m0 45h0m0 0h0m0 3h0m2-63h0m0 39h0m0 14h0m0 0h0m0-8h0m0 2h0m0 8h0m1-31h0m0 25h0m0 7h0m0-46h0m0 49h0m0-21h0m1 21h0m0 1h0m0-21h0m0-20h0m0 0h0m1 37h0m0-13h0m0 9h0m0 8h0m0 1h0m0-6h0m0-27h0m0-54h0m1 40h0m0 46h0m0-13h0m0 5h0m1-1h0m0-4h0m0 0h0m1 13h0m0-1h0m0 0h0m0-55h0m1 36h0m0 14h0m0-68h0m0-11h0m1 43h0m0-45h0m0 89h0m0-8h0m0 9h0m0-3h0m1-14h0m0-26h0m0 39h0m1-51h0m0 48h0m0-61h0m0 60h0m0-34h0m1 33h0m0-7h0m0 2h0m0 17h0m0-31h0m1 13h0m0-4h0m0 5h0m0-55h0m0 26h0m1 37h0m0-5h0m0-47h0m0 25h0m1 6h0m0 19h0m0-9h0m0-25h0m0-3h0m1 20h0m0-3h0m0 16h0m0-3h0m0 0h0m0 5h0m0-7h0m1 13h0m0-3h0m0 5h0m0 3h0m0-17h0m0 8h0m0-1h0m0-10h0m1 8h0m0-6h0m0 11h0m0-6h0m0-23h0m1 13h0m0 9h0m0-78h0m0 57h0m0 24h0m0-23h0m0 34h0m0-6h0m0-34h0m0 32h0m0-11h0m1-26h0m0 33h0m0-8h0m1-2h0m0-1h0m0-20h0m0 35h0m0-54h0m0 51h0m1 8h0m0-77h0m0 41h0m0 3h0m0 33h0m1-29h0m1 28h0m0 4h0m0-26h0m0 19h0m0-12h0m1 7h0m0-43h0m0 16h0m0-6h0m1 24h0m0 4h0m0 2h0m1 4h0m0 4h0m0 5h0m1 1h0m0-2h0m0 0h0m0-38h0m0 25h0m1 14h0m0-43h0m0 47h0m0-5h0m1-33h0m0-7h0m0 42h0m0-10h0m0-1h0m0-65h0m0 30h0m1 32h0m0 10h0m0-67h0m1 66h0m0-17h0m1-16h0m0 36h0m0-18h0m1 14h0m0-1h0m2-12h0m0-13h0m0 27h0m1-16h0m0 13h0m0 6h0m1-22h0m3 19h0m0-32h0m0 5h0m1 23h0m0-3h0m1-40h0m5 25h0m0 21h0m0-3h0m1-35h0m2-3h0m0-47h0m2 48h0m8 21h0m1 5h0m3 3h0m0-34h0m3 47h0m0-14h0m7-24h0m0 26h0m1 14h0m4-10h0m4-6h0m7 20h0m4-24h0m0-1h0m5 1h0m8 16h0m8-33h0m13 31h0m3 11h0" stroke="#9c9d9c" stroke-width="4.8" stroke-linecap="round" fill="none" opacity="0.36"/>
<path d="M116 1590h0m6-11h0m1 24h0m21-86h0m12 27h0m1 48h0m0-12h0m1 23h0m3-18h0m5 12h0m2-18h0m2 21h0m4 3h0m11-28h0m5 10h0m1-24h0m0 11h0m3 9h0m0 13h0m5-23h0m1 19h0m6-51h0m8 32h0m6-9h0m0 2h0m0 24h0m0-3h0m6 8h0m0 1h0m3-112h0m0 96h0m2 19h0m0 10h0m0-12h0m2-24h0m0 29h0m1 0h0m1-82h0m0 70h0m0 10h0m1-51h0m1 40h0m0-42h0m0 51h0m0-24h0m1 22h0m0-3h0m0-2h0m0-4h0m0 18h0m1 1h0m0-2h0m1-11h0m0 1h0m0-2h0m0-70h0m0-11h0m0 59h0m1 26h0m0-4h0m0 9h0m1-9h0m0-35h0m0 41h0m0-12h0m0 14h0m1-20h0m0 19h0m0-12h0m1-9h0m0-4h0m0 23h0m0 0h0m0-5h0m0 10h0m0-26h0m1-35h0m0 22h0m0 30h0m0 1h0m1 5h0m0-12h0m0 8h0m0-2h0m0 9h0m0-1h0m1-6h0m0-5h0m0-6h0m0-30h0m1 7h0m0 26h0m0-12h0m0 4h0m1-2h0m0-10h0m0 25h0m1-16h0m0 32h0m0-22h0m0-23h0m0 29h0m0-24h0m1 38h0m0-5h0m0-32h0m0 27h0m0-20h0m0 19h0m0-3h0m1 2h0m0 8h0m0-11h0m1-5h0m0 17h0m0-1h0m0-5h0m0-35h0m0-42h0m0 79h0m1-15h0m0 9h0m0-24h0m0 34h0m0-1h0m0-6h0m0-9h0m1 12h0m0-46h0m0 36h0m0 17h0m0-14h0m1-5h0m0 11h0m1-4h0m0 0h0m0-2h0m0-25h0m1 16h0m0-15h0m0 32h0m0-3h0m0 4h0m0-6h0m1-69h0m0 72h0m0-11h0m0-24h0m0 27h0m0-29h0m0 33h0m1-6h0m0 22h0m0-30h0m1 24h0m0-33h0m0 27h0m0-9h0m1-2h0m0-66h0m0 60h0m0 14h0m0-11h0m0 7h0m0-14h0m1-41h0m0 45h0m0 9h0m0-10h0m0 17h0m1-13h0m0 9h0m0 9h0m0-15h0m0-11h0m0 8h0m0-9h0m0 23h0m0 11h0m1-82h0m0 71h0m0 6h0m0-6h0m0 6h0m0-9h0m1-14h0m0 18h0m0 9h0m0-4h0m1-22h0m0-35h0m0 51h0m0 10h0m0-7h0m1-43h0m0 32h0m0 15h0m0-22h0m1 6h0m0 15h0m0-9h0m0-8h0m0 15h0m1-123h0m0 109h0m0-82h0m0 72h0m0-13h0m1 27h0m0 13h0m0-19h0m0 15h0m0-13h0m0 12h0m1 0h0m0 0h0m0-12h0m0 9h0m0-22h0m1 18h0m0-38h0m0 42h0m1-12h0m0-6h0m0 3h0m0 20h0m0-17h0m0 10h0m0 0h0m1-17h0m0-11h0m0 33h0m1-123h0m0 104h0m0 3h0m0 24h0m0-86h0m0 69h0m0-41h0m1 29h0m0-30h0m0 32h0m0 21h0m0-7h0m0-21h0m1 10h0m0 14h0m0-30h0m1 40h0m0-39h0m0-5h0m0 27h0m0-14h0m1 13h0m0 9h0m0-1h0m0-16h0m0-9h0m1 20h0m0 0h0m0 3h0m0-7h0m0 5h0m1 12h0m0-4h0m0-53h0m1 53h0m0-45h0m0 31h0m0 9h0m0-33h0m0 28h0m0-13h0m0 28h0m0-29h0m1-28h0m0 37h0m0-1h0m0 23h0m0-3h0m0-39h0m0 27h0m1-2h0m0 15h0m0-9h0m0-46h0m0-1h0m0 36h0m0 21h0m1-8h0m0-22h0m0 7h0m0-10h0m0 23h0m0-5h0m0 10h0m1-43h0m0 47h0m0-10h0m1 8h0m0-19h0m0 11h0m0 11h0m0-16h0m0-11h0m0-4h0m0 14h0m0-11h0m0 5h0m0 2h0m1 8h0m0 3h0m0-4h0m0-5h0m0-1h0m0-1h0m1 6h0m0-48h0m0 32h0m0 6h0m0 14h0m0-5h0m0-33h0m0 29h0m0 17h0m0-15h0m1 9h0m0 6h0m0-1h0m0-7h0m0-10h0m0-12h0m0 23h0m1-27h0m0-18h0m0 50h0m1 1h0m0-17h0m0-3h0m0 21h0m1-8h0m0-10h0m0-15h0m0 26h0m0 5h0m0-38h0m1 40h0m0-4h0m0-12h0m0 18h0m0-9h0m0 8h0m0-9h0m1-38h0m0 28h0m0 5h0m0 1h0m1-26h0m0 32h0m1-51h0m0 42h0m0-34h0m0 39h0m0-16h0m0 14h0m0-103h0m1 106h0m0-169h0m0 167h0m0-9h0m0-20h0m0 13h0m0-54h0m1 68h0m0-36h0m0 42h0m1 5h0m0-11h0m0 0h0m0 10h0m1-8h0m0 2h0m1-19h0m0 25h0m0-21h0m0 23h0m0-10h0m1 1h0m0-21h0m1 16h0m0 9h0m0-48h0m0 28h0m0 21h0m0 2h0m0-30h0m0 19h0m0 12h0m0 2h0m0 0h0m1 3h0m0-95h0m0 69h0m1 3h0m0 18h0m0-28h0m0 1h0m0 19h0m0 15h0m0-16h0m0-45h0m1 39h0m0-5h0m0 23h0m0-19h0m0 17h0m1-9h0m0-41h0m0 58h0m0-34h0m1 30h0m0-93h0m0 91h0m0-4h0m0-12h0m1 19h0m0-12h0m1-3h0m0 1h0m0 2h0m1-83h0m0 88h0m0-127h0m0 113h0m0-24h0m0 43h0m0-29h0m1 12h0m0 15h0m0-43h0m0 34h0m0-2h0m0 0h0m1-9h0m0 6h0m0 16h0m0-19h0m1-2h0m0-22h0m0 43h0m1-31h0m0 15h0m0-4h0m0-62h0m0 62h0m0 11h0m0 1h0m1-2h0m0-2h0m0-15h0m0 9h0m0-11h0m1 0h0m0 3h0m0 27h0m0-23h0m0-15h0m0 31h0m1-54h0m0 31h0m0-20h0m0 39h0m0-32h0m0 3h0m0 23h0m0-56h0m1 32h0m0 6h0m0 27h0m0-21h0m0 6h0m0 7h0m0-2h0m0 6h0m0 6h0m1 2h0m0-51h0m0 43h0m0 7h0m1-9h0m0 3h0m0-17h0m0 24h0m1-7h0m0-27h0m0 31h0m0 3h0m0-13h0m0-8h0m1 22h0m0-12h0m0-17h0m0 9h0m0 13h0m1-9h0m0-3h0m0 18h0m0-6h0m0 9h0m0-29h0m1 8h0m0-4h0m1-14h0m0 33h0m0-75h0m0 38h0m0 32h0m0-41h0m1 17h0m0 24h0m0-10h0m0 12h0m0 6h0m1-14h0m0 18h0m0-18h0m0-11h0m0-10h0m1 30h0m0-17h0m0 21h0m0-24h0m0-31h0m0 41h0m1 1h0m1 19h0m0-95h0m0 50h0m1-31h0m0 57h0m0-29h0m0-5h0m0 39h0m0 14h0m0-78h0m0 60h0m0-13h0m0 11h0m1-5h0m0 7h0m0-5h0m1 7h0m0-71h0m0 75h0m0-13h0m0-17h0m1 37h0m0-5h0m0-16h0m0 12h0m1 1h0m0-3h0m0 7h0m0-20h0m1 21h0m0 2h0m0-7h0m0-1h0m0-17h0m1-1h0m0 0h0m0 5h0m0 4h0m0 13h0m1-24h0m0 1h0m0 24h0m0 5h0m1-23h0m0 4h0m0-87h0m1 92h0m0-7h0m0-1h0m1 5h0m0 0h0m1 20h0m0-41h0m0 20h0m0-41h0m0 53h0m0-8h0m0 7h0m0-48h0m1 46h0m0 5h0m0-22h0m0 12h0m0-49h0m0 56h0m1-9h0m0-1h0m0-4h0m0-22h0m0 32h0m1-2h0m0-39h0m0 49h0m0-25h0m0 20h0m1 5h0m0 1h0m0-17h0m0-22h0m1-15h0m0 52h0m0-15h0m0 16h0m0 0h0m0-9h0m0 12h0m1-4h0m0-40h0m0 39h0m0-44h0m0 24h0m1 11h0m0 18h0m0-22h0m0 22h0m0-15h0m0 6h0m0-23h0m0 15h0m0 2h0m0-15h0m1 0h0m0 10h0m0 12h0m0-18h0m0-19h0m0-27h0m0 12h0m0-8h0m1-49h0m0 73h0m0 7h0m1 28h0m0 4h0m0-68h0m0 52h0m0 5h0m0 12h0m0-4h0m1-122h0m0 107h0m0 4h0m0 12h0m1-38h0m1-26h0m0 31h0m0 29h0m0-11h0m0 9h0m0 10h0m1-31h0m0-51h0m0 80h0m0-4h0m0 3h0m0-105h0m1 84h0m0 5h0m0-3h0m0 12h0m0-61h0m0 46h0m0 22h0m0-13h0m0 14h0m1-10h0m0-30h0m0 33h0m0-6h0m0 3h0m0-22h0m1-9h0m0 0h0m0 37h0m0 1h0m0-6h0m0 0h0m1-36h0m0 33h0m0-22h0m0 13h0m0 23h0m0-9h0m1-41h0m0 51h0m0-6h0m0-18h0m0 20h0m0-9h0m1 8h0m0-41h0m0 41h0m0-11h0m1-13h0m0 8h0m0-2h0m0-40h0m0 48h0m0 1h0m1 5h0m0-16h0m0 9h0m0-12h0m0 10h0m1 8h0m0-6h0m0-3h0m0 6h0m0-8h0m0-39h0m0 14h0m0-8h0m0 42h0m1-44h0m0 48h0m0-29h0m0 29h0m1 5h0m0-52h0m0-4h0m0 15h0m0 43h0m0 1h0m1-86h0m0 55h0m0-11h0m0 14h0m0-35h0m0-30h0m0 54h0m0 28h0m0-6h0m0-8h0m1-77h0m0-12h0m0 107h0m0 10h0m0-24h0m1 10h0m0 11h0m0-8h0m1 7h0m0-66h0m0 56h0m0 5h0m0-14h0m0 21h0m1 0h0m0 0h0m1-7h0m0-8h0m0 7h0m0 3h0m0-3h0m1-63h0m0 62h0m0-6h0m0 15h0m0-6h0m0-1h0m1-20h0m0 9h0m1-10h0m0 16h0m0-38h0m1 21h0m0 23h0m0-23h0m0 25h0m0-34h0m0 1h0m0 27h0m0-9h0m0 12h0m0-2h0m0-14h0m0-8h0m1 15h0m0-27h0m0 32h0m0-30h0m0 3h0m1 26h0m0 7h0m0-3h0m0 11h0m0-54h0m0 8h0m1 34h0m0-7h0m0-3h0m0-18h0m0 11h0m1 5h0m0 7h0m0 7h0m0-13h0m0 16h0m1-2h0m0-3h0m0-5h0m0 0h0m0 7h0m1-21h0m0 17h0m0-5h0m0-41h0m0 5h0m1 52h0m0-56h0m0 20h0m0 10h0m0-16h0m0 33h0m1-28h0m0 34h0m0-9h0m1-14h0m0-38h0m0 30h0m0 21h0m0-5h0m1-5h0m0-9h0m0-21h0m0 21h0m0 17h0m0 9h0m1-18h0m0 12h0m0-1h0m0-28h0m0 21h0m1 5h0m0 8h0m0-17h0m0 7h0m0 4h0m1 6h0m0 3h0m0-40h0m1 34h0m0 5h0m0-1h0m1 2h0m0-31h0m0 27h0m0-28h0m1 16h0m0-53h0m0 23h0m1 40h0m0-23h0m0 34h0m0-12h0m0-5h0m0-14h0m1 27h0m0-50h0m0 28h0m0 6h0m0 14h0m0-19h0m0 15h0m1-87h0m0 91h0m0-27h0m0 20h0m0-35h0m1 21h0m0 18h0m0-15h0m0 1h0m1 10h0m0 3h0m0-13h0m1 11h0m0-5h0m0-2h0m0 13h0m0-22h0m0 19h0m0-3h0m1 3h0m0-25h0m0 17h0m0 13h0m1-9h0m0-42h0m0 41h0m0 4h0m0 5h0m0-10h0m0-9h0m0-124h0m1 137h0m0-30h0m0 29h0m0 4h0m0-23h0m0-37h0m0 27h0m0 32h0m1-71h0m0 76h0m1-3h0m0-10h0m0 11h0m0-27h0m1-11h0m0 42h0m1-8h0m0 5h0m0-6h0m0-12h0m0-55h0m1 61h0m0 8h0m0-12h0m0-17h0m0-3h0m0 37h0m0-6h0m0 5h0m1-9h0m0-8h0m0-36h0m0 55h0m0-19h0m1-39h0m0 42h0m0 13h0m0-3h0m0-1h0m1 1h0m0-17h0m0-56h0m1 73h0m0-14h0m0 10h0m0-8h0m1-9h0m0 9h0m0 9h0m0-9h0m1 12h0m1-5h0m0-18h0m0 27h0m0-26h0m1 17h0m0-14h0m0-1h0m0 6h0m1 22h0m0-28h0m0 14h0m0 9h0m1-19h0m0 16h0m0-1h0m0-119h0m1 66h0m0 28h0m1 28h0m1-8h0m1 8h0m0-12h0m1-59h0m1 64h0m0-14h0m1 6h0m0 20h0m0-19h0m2-10h0m2-15h0m0 28h0m1 5h0m1-10h0m0 12h0m1-21h0m1-12h0m1 32h0m4-3h0m2-89h0m1 79h0m4-46h0m0 55h0m3-42h0m2 19h0m2 16h0m5 12h0m0-4h0m3-42h0m2-29h0m5 43h0m15 17h0m4-4h0m3-13h0m1 13h0m9 17h0m0-1h0m1-113h0m1 114h0m2-72h0m5 35h0m0 12h0m5 5h0" stroke="#9c9d9c" stroke-width="4.8" stroke-linecap="round" fill="none" opacity="0.36"/>
<path d="M116 1569h0m1 33h0m1-13h0m19-30h0m1 36h0m1-18h0m1 2h0m7-4h0m1 10h0m3 10h0m7-71h0m1 49h0m13 9h0m1-20h0m7 36h0m3-11h0m2 1h0m18-115h0m3-24h0m1 125h0m0 6h0m5-9h0m1-132h0m4 156h0m2-26h0m2-11h0m0-8h0m1 8h0m0 27h0m2 0h0m0 14h0m1 1h0m0-7h0m0-15h0m2 9h0m0-49h0m0 30h0m0 19h0m1 3h0m2 12h0m0-79h0m0 68h0m2 9h0m0-5h0m0-2h0m0-35h0m1 42h0m0-1h0m1 2h0m0-27h0m0 18h0m1 5h0m0-10h0m1-32h0m0 50h0m0-5h0m0-20h0m2-4h0m0 16h0m1-44h0m1 20h0m0 35h0m1-11h0m0-13h0m1 1h0m0 7h0m0 6h0m0 6h0m0-11h0m0-6h0m1-22h0m1 20h0m0 12h0m0-45h0m0 31h0m1 23h0m0-8h0m0-8h0m0 1h0m1 3h0m0 6h0m0-25h0m1 22h0m0-27h0m1 35h0m0-11h0m0-32h0m0 43h0m1 3h0m0-15h0m0-7h0m0 13h0m0 12h0m0-23h0m0-9h0m0 26h0m0-32h0m0 28h0m0 8h0m0-18h0m0 15h0m0-45h0m1-3h0m0 34h0m0-32h0m1 43h0m0-12h0m0 9h0m0-3h0m1 1h0m0-62h0m0 65h0m0-19h0m0 11h0m0 5h0m0-20h0m0-49h0m0 37h0m1 33h0m0 8h0m0-13h0m0-2h0m0 13h0m0 1h0m0-51h0m0 48h0m1-19h0m1 12h0m0 2h0m0-21h0m0 30h0m1-15h0m0 5h0m1-1h0m0-25h0m0 26h0m1-1h0m0 3h0m0-15h0m0 17h0m0 4h0m0-83h0m0 56h0m0 24h0m1-32h0m0 37h0m0-17h0m0-1h0m0-33h0m1 52h0m0-18h0m0 15h0m0-2h0m0-36h0m0 33h0m0-22h0m0 4h0m0 23h0m0-31h0m1 32h0m0 7h0m0-18h0m0-14h0m0-4h0m1 8h0m0-19h0m0 41h0m0-41h0m1 43h0m0-1h0m0-3h0m0-10h0m1-15h0m0 3h0m0 15h0m1 8h0m0-14h0m0 4h0m0 16h0m1-39h0m0 21h0m0-3h0m0-127h0m0 128h0m1-7h0m0 5h0m0 20h0m0-6h0m0-20h0m0-8h0m0 20h0m1-20h0m1 31h0m0-14h0m0 14h0m0-1h0m0-5h0m1-5h0m0-9h0m0-18h0m0 31h0m0 6h0m0-8h0m1 10h0m0-14h0m1-8h0m0 3h0m0 15h0m0-15h0m0 0h0m1-34h0m0 30h0m0 18h0m0 4h0m0 1h0m0-29h0m1 18h0m0 1h0m0 2h0m0 1h0m0 1h0m0-1h0m0 3h0m0-14h0m0-7h0m0-17h0m0 35h0m1-19h0m0 9h0m0-6h0m1 7h0m0 1h0m0 5h0m0-64h0m1 12h0m0 55h0m0-27h0m0 38h0m0-29h0m1 4h0m0-22h0m0 39h0m0-14h0m0 7h0m0 4h0m0 1h0m0-16h0m0-4h0m1 22h0m0-13h0m0 9h0m0 9h0m0-34h0m0 9h0m1 5h0m0 9h0m0 7h0m0-8h0m0-3h0m0 15h0m1-11h0m0 7h0m0-21h0m0 26h0m1-134h0m0 114h0m0 8h0m0 9h0m0-56h0m1 23h0m0 30h0m0 0h0m0-19h0m1 4h0m0-1h0m0-8h0m0 27h0m0-27h0m0 27h0m0-55h0m0 59h0m0-16h0m1-8h0m0 17h0m0-23h0m0 27h0m1-41h0m0 20h0m0-28h0m0 40h0m0-29h0m0 29h0m0-44h0m1 17h0m0 38h0m0-90h0m0 33h0m1 51h0m0-10h0m0-1h0m0 0h0m0 17h0m1-22h0m0-12h0m0-16h0m1 31h0m0-95h0m0 112h0m0-27h0m0 28h0m0-7h0m0 3h0m0-10h0m0 5h0m0 6h0m1 4h0m0-10h0m0-12h0m0-18h0m0-11h0m0 16h0m1-24h0m0 50h0m0 2h0m0-20h0m0-10h0m0 14h0m0 5h0m1 8h0m0 10h0m0-15h0m0 7h0m0-1h0m1-5h0m0 10h0m0 4h0m1-14h0m0-60h0m0 58h0m0-16h0m0 23h0m0 2h0m0 2h0m0-3h0m0-26h0m0 35h0m1-14h0m0-34h0m0 39h0m0-7h0m0-46h0m1 36h0m0 24h0m1-15h0m0 6h0m0-33h0m0 37h0m0-5h0m1-25h0m0 28h0m0-61h0m1 46h0m0-92h0m0 116h0m0-25h0m0 11h0m0-4h0m0 4h0m1 15h0m0-38h0m0-15h0m0 25h0m1-6h0m0 29h0m0-5h0m0 5h0m1-1h0m0-23h0m0 19h0m0-51h0m0 40h0m0 5h0m0 3h0m0 1h0m1-1h0m0 3h0m0-60h0m1 57h0m0 4h0m0-90h0m0 46h0m1 21h0m0 2h0m0 14h0m0-3h0m0 6h0m0-10h0m0 2h0m0-92h0m1 68h0m0 14h0m0 16h0m1-17h0m0 14h0m0 14h0m0-10h0m0 3h0m0-10h0m1 10h0m0-63h0m1 55h0m0-72h0m0 74h0m0-18h0m0-192h0m1 215h0m0-39h0m0 9h0m0 27h0m0-50h0m0 64h0m0-39h0m0 32h0m0-24h0m1 7h0m0 5h0m0-1h0m0-39h0m0 45h0m0 5h0m1-2h0m0-12h0m0 15h0m0-16h0m0 10h0m0 6h0m0 0h0m0-10h0m0 4h0m0-19h0m1 26h0m0-7h0m0 7h0m0-16h0m0-2h0m0 14h0m0-2h0m1-70h0m0 80h0m0-10h0m0 2h0m0-6h0m1 3h0m0-18h0m0 18h0m0-17h0m0 21h0m1-1h0m0 5h0m0-4h0m0-52h0m0 12h0m0-32h0m0 33h0m1 37h0m0-4h0m0-2h0m0-11h0m0 7h0m0 14h0m0-58h0m0 61h0m0-1h0m1-12h0m0 7h0m0-45h0m1 48h0m0-16h0m0-39h0m0 60h0m1-76h0m0 69h0m0 3h0m0 1h0m0-29h0m0 24h0m0-31h0m0 26h0m0-42h0m1 42h0m0-17h0m0 26h0m0-4h0m0 5h0m0-22h0m0-5h0m0 0h0m1 10h0m0 17h0m0-6h0m0-40h0m0 41h0m1-15h0m0-30h0m0 47h0m0-11h0m1-18h0m0 30h0m0 0h0m1-10h0m0 7h0m0-207h0m0 163h0m0 25h0m0 13h0m1 7h0m0-70h0m0 55h0m0 4h0m0 14h0m0-6h0m0-37h0m0 44h0m1 5h0m0-12h0m0-28h0m0 44h0m0-15h0m1 3h0m0-30h0m0 35h0m0-34h0m0 31h0m0-21h0m0-37h0m0 40h0m0-3h0m1 18h0m0-13h0m0 12h0m1 1h0m0-6h0m0 4h0m0-34h0m0 42h0m0-63h0m0 57h0m1-52h0m0 57h0m1-72h0m0 73h0m0 4h0m0-27h0m0 20h0m0 5h0m0-20h0m1 5h0m0-38h0m0 45h0m0-60h0m0 24h0m0 41h0m1-12h0m0-2h0m0 2h0m0 3h0m1 1h0m0 9h0m0-15h0m0-6h0m0 16h0m0-4h0m1 13h0m0-22h0m0-47h0m0 27h0m1 34h0m0-43h0m0 40h0m0-26h0m0 26h0m0-27h0m1 32h0m0-7h0m0-8h0m0 11h0m0-15h0m0 14h0m1 2h0m0-8h0m0 0h0m1 5h0m0 5h0m0-2h0m0 4h0m0-18h0m0 1h0m0 16h0m1-86h0m0 60h0m0-7h0m0 8h0m1 6h0m0-7h0m0 1h0m0 4h0m0-15h0m0 28h0m1-4h0m0 7h0m0 5h0m0-16h0m1 11h0m0-2h0m0 0h0m0-4h0m0 9h0m0-20h0m1-26h0m0 49h0m0-13h0m0-9h0m0 0h0m0 19h0m0-18h0m0-23h0m0 41h0m1-30h0m0 10h0m0 20h0m0-29h0m1-20h0m0-34h0m0 51h0m0 37h0m0-29h0m1 14h0m0 1h0m1-12h0m0 18h0m0-21h0m0 23h0m0-85h0m0 83h0m0-8h0m1-28h0m0 2h0m0 36h0m0-8h0m0-12h0m0-13h0m1 27h0m0-24h0m0 31h0m0-23h0m0 22h0m0-9h0m0-64h0m0 49h0m1 9h0m0 16h0m0-1h0m0 0h0m1-25h0m0 21h0m0-17h0m0 24h0m0 9h0m1-7h0m0-6h0m0-20h0m1 15h0m0 4h0m0-24h0m0 1h0m1 17h0m0 9h0m0 5h0m0-13h0m0-16h0m1-8h0m0 29h0m0-21h0m0 17h0m0-14h0m1 20h0m0-6h0m0-89h0m0 94h0m0-14h0m1-4h0m0 19h0m1 3h0m0-20h0m0-19h0m0-22h0m0 52h0m0-106h0m0 49h0m1 28h0m1 16h0m0 7h0m0-24h0m0 37h0m0-28h0m1-28h0m0 49h0m1-21h0m0 23h0m0-1h0m1-58h0m0 53h0m0 7h0m0 6h0m0-11h0m1 5h0m0 5h0m0-53h0m0 51h0m0 2h0m0 5h0m1-1h0m0-35h0m0-7h0m0 17h0m0 15h0m1-16h0m0 12h0m1-1h0m0-67h0m0 3h0m0 85h0m0-40h0m1 21h0m0-45h0m0 36h0m0 16h0m0-12h0m0 13h0m1 3h0m0-30h0m0-5h0m0 3h0m0 31h0m0 1h0m1-49h0m0 45h0m0-1h0m0-35h0m0 33h0m0-6h0m1 8h0m0-10h0m0 11h0m0-5h0m0 1h0m0-39h0m1 33h0m0-9h0m0-12h0m0 3h0m0 23h0m0 7h0m0-22h0m1-19h0m0 41h0m1 4h0m0-19h0m0 14h0m0-2h0m0-130h0m0 137h0m0-2h0m0-35h0m0 30h0m1-16h0m0 18h0m0-2h0m1 2h0m0 0h0m0-10h0m0 10h0m1-1h0m0 0h0m0 7h0m1-78h0m0 48h0m0 3h0m0 18h0m0-8h0m0 2h0m0-56h0m1 56h0m0-2h0m0-2h0m0-8h0m1-1h0m0 11h0m0 7h0m0-74h0m0 69h0m0 11h0m1 0h0m0-13h0m0 20h0m0-28h0m1 15h0m0-5h0m0 4h0m0-16h0m0 23h0m0-1h0m0-38h0m2 36h0m0-3h0m0-152h0m0 162h0m1-42h0m0 7h0m0 17h0m1-1h0m0 14h0m0-72h0m0 46h0m1 19h0m0 14h0m0-34h0m0 7h0m0-11h0m1 23h0m0 3h0m0 11h0m0-26h0m1 15h0m0-2h0m0 13h0m0-4h0m0-2h0m1 1h0m0-8h0m0 11h0m0-5h0m0-23h0m0 29h0m0-16h0m1 5h0m0-52h0m0 50h0m0-10h0m1-22h0m0 38h0m0-56h0m0 57h0m0 1h0m0-29h0m1 7h0m0-4h0m0-2h0m0 19h0m0 3h0m0 3h0m1 9h0m0-13h0m0-14h0m0 8h0m0-29h0m1 36h0m0-13h0m0 16h0m0 12h0m0-37h0m0 23h0m1 7h0m0-6h0m0-4h0m0-1h0m0-8h0m0-11h0m0 27h0m0-20h0m0 19h0m1-45h0m0 49h0m0 4h0m0-13h0m1-6h0m0 11h0m0-7h0m0 11h0m1-12h0m0-17h0m0 20h0m0-20h0m0 3h0m0 24h0m1-11h0m0-3h0m0-1h0m0-56h0m0 25h0m1 40h0m0-8h0m0 3h0m0 11h0m1 7h0m0-29h0m0 25h0m1-1h0m0 5h0m0-21h0m0-13h0m0-9h0m0 24h0m0 8h0m0-92h0m0 100h0m0-18h0m1-7h0m0 20h0m0-3h0m0 3h0m0-62h0m1 49h0m0 8h0m1 4h0m0 2h0m0-4h0m0 8h0m0-8h0m0-15h0m0-9h0m1 28h0m0-1h0m0 0h0m0 1h0m0-82h0m0 78h0m1-27h0m0 31h0m0-8h0m0 6h0m0-4h0m0 0h0m0-27h0m1 26h0m0 13h0m0-22h0m0-79h0m1 93h0m0 6h0m0 3h0m1-10h0m0 4h0m0-10h0m0 13h0m0-72h0m1 68h0m0 3h0m0-26h0m1 4h0m0 10h0m0-46h0m1 41h0m0-2h0m0-54h0m0 48h0m1 7h0m0-14h0m0 20h0m0 10h0m0-4h0m1-38h0m0 20h0m0 23h0m0-5h0m0-1h0m1 5h0m0-54h0m0 46h0m1 6h0m0-21h0m1 22h0m0 5h0m0-105h0m0 58h0m0 20h0m1 22h0m0-42h0m0 43h0m1-13h0m0-31h0m0 37h0m0-24h0m0 8h0m2 1h0m0-117h0m2 106h0m1 20h0m2-4h0m1 8h0m0-173h0m1 158h0m1 8h0m0-20h0m0 21h0m1-5h0m1 21h0m1-29h0m4-14h0m0 36h0m3 9h0m1-15h0m1-10h0m2-7h0m2-24h0m5 51h0m26-16h0m5 4h0m2 15h0m5-2h0m9-43h0m13-45h0m3 90h0" stroke="#9c9d9c" stroke-width="4.8" stroke-linecap="round" fill="none" opacity="0.36"/>
<path d="M120 1604h0m11-8h0m1-39h0m6 17h0m9-4h0m23-7h0m7 15h0m5 8h0m5 9h0m0-16h0m0 20h0m2 2h0m0-25h0m13-6h0m6-11h0m1 31h0m5-7h0m5-21h0m1 35h0m2-8h0m0-11h0m1 19h0m1 0h0m2-36h0m0 43h0m0-6h0m0-36h0m1-25h0m2-27h0m0 84h0m0-88h0m1 56h0m0 4h0m1-9h0m1 5h0m0 37h0m2-12h0m0-7h0m0-38h0m0 56h0m0-17h0m0 10h0m1-16h0m1-4h0m1 38h0m0-46h0m0 39h0m1-59h0m0 58h0m0-1h0m1-1h0m0-74h0m0 40h0m0 28h0m0-7h0m0 18h0m1-8h0m0-15h0m0 9h0m1-7h0m0 4h0m0 4h0m0-18h0m1 12h0m0 15h0m0-16h0m1-13h0m0 26h0m0-24h0m0 27h0m0-5h0m1 0h0m0-29h0m0 5h0m1 20h0m0-75h0m0 85h0m0-12h0m0-5h0m1-6h0m0-23h0m0 35h0m1-18h0m0 12h0m0 17h0m0-67h0m0 35h0m0 35h0m1-27h0m0 12h0m0-6h0m0 14h0m0-3h0m0-4h0m0-13h0m0-10h0m1 20h0m0 10h0m0-9h0m0 7h0m0 0h0m1-98h0m0 80h0m1 32h0m0-6h0m0-15h0m0-2h0m0-171h0m0 130h0m1 29h0m0 27h0m0-4h0m0-20h0m0 10h0m0-8h0m0 19h0m1-2h0m0 8h0m0-15h0m1-2h0m0 15h0m0-8h0m0-12h0m1 12h0m0-2h0m0 2h0m0-5h0m1 13h0m0-15h0m1 11h0m0-23h0m0 7h0m0-4h0m1 20h0m0 2h0m0-22h0m0 24h0m1-25h0m0 27h0m0-48h0m0 36h0m1 8h0m0-8h0m0-6h0m0 8h0m0-7h0m0-1h0m1 11h0m0-1h0m0-2h0m1-3h0m0 2h0m1 0h0m0-16h0m1 22h0m0-21h0m0 28h0m1-31h0m0 32h0m0-4h0m0-19h0m0-6h0m0 15h0m0-13h0m0 17h0m0 5h0m1-56h0m0 37h0m0 3h0m0-26h0m0 45h0m0-94h0m0 96h0m1-34h0m0 7h0m0 18h0m1 5h0m0-74h0m0 66h0m0 3h0m0-11h0m1-3h0m0-18h0m0 32h0m0-8h0m0 4h0m0-2h0m0 8h0m0 0h0m1-54h0m0 58h0m0-54h0m0 43h0m0 12h0m0-69h0m0 37h0m0 25h0m1-31h0m0 35h0m0-41h0m0 43h0m0-5h0m0 0h0m0-11h0m0 6h0m0-8h0m1-1h0m0-36h0m0 35h0m0 21h0m0-8h0m0-41h0m1 37h0m0 2h0m0-8h0m0 9h0m0 5h0m0-14h0m1-13h0m0 17h0m0-2h0m0-13h0m1-75h0m0 89h0m0 2h0m1 7h0m0 3h0m0-48h0m0 38h0m0-50h0m0 52h0m1 0h0m0-65h0m0 44h0m0 27h0m0-6h0m0 1h0m0-10h0m1-29h0m0 32h0m0 11h0m0-15h0m0-6h0m0 14h0m0-21h0m0 12h0m0-64h0m1 84h0m0-10h0m0-29h0m0 8h0m0-7h0m0 33h0m0-2h0m0-43h0m0 39h0m0-1h0m1 9h0m0 6h0m0-10h0m1-4h0m0-9h0m0-46h0m0 34h0m0 31h0m0-41h0m0 39h0m1-14h0m0 11h0m0-58h0m0-46h0m0 92h0m1 17h0m0-12h0m1-62h0m0 70h0m0-3h0m0-2h0m0-2h0m1-16h0m0 20h0m0-51h0m0 60h0m1-47h0m0 26h0m0-38h0m0 50h0m0 11h0m1-48h0m0 18h0m0 13h0m0 4h0m1 5h0m0-10h0m0 2h0m0 1h0m0-8h0m0 9h0m1-3h0m0 9h0m0-15h0m0 24h0m1-16h0m0 2h0m0-2h0m0 13h0m0-68h0m0 56h0m1 0h0m0 14h0m0-15h0m0-17h0m0 9h0m0 16h0m0-23h0m1 22h0m0-30h0m0-35h0m0 33h0m0 29h0m1 4h0m0-3h0m0-27h0m0-1h0m1 32h0m0-6h0m0 12h0m1-32h0m0 29h0m0-25h0m0 27h0m1-8h0m0-108h0m1 105h0m0-14h0m0 8h0m0-1h0m0-12h0m0 16h0m1-19h0m0 38h0m0-10h0m0-36h0m0 0h0m1 4h0m0 31h0m0-6h0m0-35h0m0 32h0m1-42h0m0 48h0m0 2h0m0-10h0m0-1h0m0 5h0m0-2h0m1-7h0m0-51h0m0 41h0m0 22h0m1 5h0m0-10h0m0 9h0m0-5h0m1-22h0m0-13h0m0-60h0m1 66h0m0-1h0m0-60h0m0 47h0m1 36h0m0-29h0m0 48h0m0-6h0m1-6h0m0-9h0m0 12h0m0 7h0m0-10h0m0 7h0m0 6h0m0-2h0m0-28h0m0 28h0m0 0h0m1-10h0m0-16h0m0-54h0m0 64h0m1 12h0m0-9h0m1-14h0m0 6h0m0 10h0m0-57h0m0 69h0m0-17h0m0 15h0m0-7h0m0-2h0m0 1h0m0-92h0m1 89h0m0-8h0m0 15h0m0-23h0m0-42h0m0 64h0m1-15h0m0 11h0m0-8h0m0-2h0m0 12h0m2-44h0m0 40h0m0-8h0m0 6h0m0-33h0m0 41h0m1 5h0m0-8h0m0 1h0m1-96h0m0 65h0m0 37h0m0-82h0m1 78h0m0-29h0m0-9h0m0 38h0m1-14h0m0 3h0m0 13h0m0-2h0m0-5h0m0-38h0m0-25h0m0 62h0m1 8h0m0-3h0m0-48h0m0-32h0m1 77h0m0-12h0m0 12h0m0-2h0m0-7h0m0-15h0m0 21h0m0-12h0m1 10h0m0 13h0m0-4h0m0-19h0m1 11h0m0-27h0m1-1h0m0 41h0m0-3h0m0-90h0m0 92h0m0-24h0m1 23h0m0-1h0m0-30h0m0 7h0m1-20h0m0 45h0m0-10h0m0-10h0m1-1h0m0 0h0m0-4h0m0 0h0m0-58h0m0 22h0m0 32h0m0 14h0m1 11h0m0-32h0m0-25h0m0 41h0m1-5h0m0 4h0m0 15h0m0-47h0m1 45h0m0-36h0m0 34h0m0 12h0m0-22h0m1-2h0m0 21h0m0-43h0m0 2h0m0 13h0m0 18h0m0-2h0m0 1h0m1 2h0m0-5h0m1 15h0m0-12h0m0-26h0m0 35h0m0-17h0m0-3h0m0-29h0m0-47h0m0 98h0m0-77h0m1 37h0m0 26h0m0-31h0m0 5h0m0 41h0m0 1h0m0-12h0m1-17h0m0 7h0m0-34h0m0 35h0m0 5h0m0-1h0m0 16h0m0-10h0m1-3h0m0-12h0m0-8h0m0 17h0m0-5h0m0 17h0m0-6h0m0-12h0m0 11h0m0 5h0m0-1h0m0 6h0m1-46h0m0 36h0m0 2h0m0-4h0m0-22h0m0 35h0m0-67h0m1 53h0m0 11h0m0-21h0m0-6h0m0-9h0m0 10h0m1 2h0m0-5h0m0 27h0m0 3h0m1-2h0m0-25h0m0 25h0m0-10h0m0-4h0m0 11h0m0 4h0m1 4h0m0-29h0m0 26h0m0-8h0m0 8h0m0-1h0m0-25h0m0 30h0m0-49h0m1 21h0m0 0h0m0-77h0m0 54h0m0 12h0m0-41h0m1 73h0m0-10h0m1-12h0m0 16h0m0-55h0m0 57h0m1-26h0m0 16h0m0-19h0m0 31h0m0-26h0m0 26h0m0-32h0m1 24h0m0 13h0m0-14h0m0-25h0m0 29h0m0 13h0m1-5h0m0-17h0m1 18h0m0-7h0m0 5h0m0-22h0m1-18h0m0 8h0m0 18h0m0 15h0m1-10h0m0-29h0m0 31h0m1-34h0m0 24h0m0-22h0m1 34h0m0 2h0m0-41h0m0-114h0m1 155h0m0 7h0m0-4h0m1-30h0m0 36h0m0-67h0m1 57h0m0-3h0m0 10h0m0-3h0m1 5h0m0-12h0m0-19h0m0-35h0m0-80h0m0 103h0m0 36h0m1-19h0m0 15h0m0-24h0m1-6h0m0 11h0m0-2h0m0-35h0m1 23h0m0 44h0m0-13h0m0 4h0m1-20h0m0 0h0m1 10h0m0-8h0m0 16h0m0-15h0m1-49h0m0 2h0m0 62h0m0-16h0m0 26h0m0-2h0m0-6h0m0-58h0m1 44h0m0-14h0m0 30h0m1-41h0m0 44h0m0-12h0m0 11h0m1-5h0m0-18h0m0 10h0m0-16h0m0 15h0m1 14h0m0 1h0m0-22h0m0 10h0m0 7h0m0 7h0m0-8h0m1-25h0m0 14h0m0 19h0m0-6h0m0-77h0m1 77h0m0-4h0m0 1h0m0 5h0m0 0h0m0-21h0m0 20h0m1-11h0m0-8h0m0 24h0m0-18h0m0 17h0m0-10h0m0 2h0m0-7h0m1 18h0m0-12h0m0-13h0m1 9h0m0-30h0m0 11h0m0 32h0m0 4h0m0-28h0m1 14h0m0-25h0m0 25h0m0-16h0m0-12h0m0 10h0m1-57h0m0 80h0m0 1h0m0-22h0m0 13h0m0 24h0m0-13h0m1-13h0m0-1h0m0 11h0m0 6h0m0-10h0m1 14h0m0-20h0m0 4h0m0-12h0m0 22h0m0 0h0m1-25h0m0-41h0m0 28h0m0 34h0m0-34h0m0 18h0m0 16h0m1-1h0m0 7h0m0-27h0m0 31h0m0-11h0m0 0h0m0 0h0m0-2h0m0-5h0m0-7h0m1 3h0m0 14h0m0-51h0m0 51h0m0-1h0m0 2h0m0-20h0m0 5h0m0-26h0m0 40h0m0-4h0m1-57h0m0 62h0m0 8h0m1-4h0m0-6h0m0-16h0m0-16h0m0 9h0m0 27h0m0 6h0m0-19h0m0 15h0m1-28h0m0-16h0m0 43h0m0-8h0m1 5h0m0-15h0m0 19h0m0-9h0m1-3h0m0 8h0m0 0h0m0-12h0m0 13h0m1-45h0m0 36h0m0-23h0m0 26h0m0-24h0m0 38h0m0-88h0m0 66h0m0 9h0m1-20h0m0 15h0m0 8h0m0-1h0m1 0h0m0-70h0m0 50h0m0-13h0m1 14h0m0 18h0m0-6h0m0 7h0m0 12h0m0-9h0m0-13h0m1-2h0m0-7h0m0 13h0m0-64h0m0 55h0m1 15h0m0 2h0m0-22h0m0-12h0m0 26h0m1 9h0m0-52h0m0 38h0m0-20h0m1 44h0m0-15h0m0 9h0m0-22h0m1 9h0m0 8h0m0-108h0m0 102h0m0 11h0m0-19h0m0 18h0m1-35h0m0 18h0m0-7h0m0-6h0m0 19h0m0 11h0m0-15h0m0-10h0m0 14h0m1-7h0m0 12h0m0 3h0m1-32h0m0 32h0m0-14h0m0-10h0m1 13h0m0 3h0m0 4h0m0-24h0m0 8h0m1 21h0m0-44h0m0 47h0m0 4h0m0-3h0m0-11h0m1-2h0m0-1h0m0-2h0m0-16h0m0-49h0m1 78h0m0-1h0m0-13h0m0 10h0m1-39h0m0 30h0m0 3h0m0 3h0m1-5h0m0 0h0m0-2h0m0 6h0m0-7h0m0 9h0m1-7h0m0-3h0m0 2h0m0 4h0m0 8h0m0-35h0m1 21h0m0 14h0m0-28h0m0-4h0m0-5h0m1-33h0m0 77h0m0-51h0m0 29h0m0 15h0m1 2h0m0-15h0m0-1h0m0-3h0m0 12h0m0-39h0m0 26h0m1 14h0m0-21h0m0 17h0m1-12h0m0-27h0m0 12h0m0-5h0m0 38h0m1-3h0m0-8h0m0 1h0m0-2h0m1-79h0m0 71h0m0-6h0m0 11h0m0-64h0m0 73h0m0-32h0m0 29h0m0-32h0m0-10h0m0 52h0m0-33h0m0 19h0m0-13h0m1-11h0m0-29h0m0 41h0m0 17h0m1 5h0m0-9h0m0-7h0m1 18h0m0-16h0m0 23h0m0-9h0m0-14h0m0 6h0m1 10h0m0 5h0m0-9h0m0-25h0m1 22h0m0 3h0m0-42h0m0 54h0m1-18h0m0-90h0m0 86h0m0 10h0m0-3h0m1 11h0m0-16h0m0 15h0m0-101h0m0 102h0m0-7h0m0-26h0m1 32h0m0 3h0m0-3h0m0-26h0m0 17h0m0-4h0m0-21h0m0 7h0m1-13h0m0 24h0m0-5h0m0 22h0m1-22h0m0 27h0m0-41h0m2 19h0m1-36h0m1-68h0m0 108h0m1-33h0m0-2h0m0 33h0m0-50h0m1 64h0m0-27h0m1 1h0m1 22h0m0-64h0m1 39h0m0 27h0m0-11h0m1 14h0m0-41h0m1 0h0m1-88h0m1 127h0m0-9h0m0-131h0m1 137h0m0 11h0m1-44h0m0 28h0m2-60h0m2-2h0m6 10h0m0 51h0m1 8h0m0 8h0m2-41h0m2 23h0m0-7h0m3 8h0m13-13h0m1 0h0m6-38h0m0 64h0m18-39h0m9-108h0m4 131h0m1 2h0m3-4h0" stroke="#9c9d9c" stroke-width="4.8" stroke-linecap="round" fill="none" opacity="0.36"/>
<path d="M115 1600h0m1-22h0m0 10h0m22 8h0m7-29h0m1 36h0m3-24h0m1 7h0m3-44h0m1 51h0m17 13h0m6-16h0m2-97h0m3 58h0m2 55h0m0-39h0m7-103h0m4 124h0m2 1h0m1 19h0m7-45h0m6 18h0m0-19h0m2-17h0m2 22h0m2-13h0m2 50h0m1-24h0m0-40h0m1 20h0m1 41h0m3-10h0m2 6h0m1 10h0m0-17h0m2-67h0m1 68h0m1-4h0m0-16h0m1 11h0m0-11h0m2 14h0m0 0h0m0-10h0m0 32h0m0-13h0m0-65h0m0 45h0m1 6h0m0 12h0m0 3h0m0 2h0m2-47h0m0 16h0m0 34h0m0-12h0m1-26h0m0-4h0m0 26h0m1 5h0m1-20h0m0-65h0m0 88h0m0 8h0m1-23h0m0 1h0m0 20h0m0-20h0m0-3h0m0 18h0m1 2h0m0 6h0m0-5h0m1-11h0m0-39h0m0 43h0m0 4h0m0 5h0m0-2h0m1-13h0m0 16h0m0-15h0m0-17h0m1 30h0m0-33h0m0 12h0m0 25h0m0-5h0m0-32h0m1 25h0m0-19h0m0 21h0m1 5h0m0-20h0m0-20h0m1 7h0m0 7h0m0 26h0m1-16h0m0-30h0m0 46h0m0 5h0m1-2h0m0-27h0m1 25h0m0 4h0m0 1h0m0-9h0m0 6h0m0-21h0m0 11h0m0 6h0m1-17h0m0 23h0m1-8h0m0-30h0m0 37h0m0 3h0m0-25h0m0 1h0m0 22h0m0 4h0m0-35h0m0 25h0m0-64h0m0 62h0m1-35h0m0 34h0m0-2h0m0-3h0m0 13h0m0-9h0m0 5h0m1-14h0m0 6h0m0-48h0m0 23h0m0 30h0m1 0h0m0-1h0m0 4h0m0-3h0m0 15h0m0-35h0m0 28h0m0-8h0m1 1h0m0-8h0m0 4h0m0-37h0m0 38h0m0 13h0m1-9h0m0 1h0m0-15h0m0 13h0m0-12h0m0 1h0m1 13h0m0 4h0m0 0h0m0-13h0m0 15h0m0 0h0m1-12h0m0 5h0m0 0h0m0-5h0m0-6h0m1 9h0m0 9h0m0-8h0m1-14h0m0 17h0m0-59h0m0 41h0m0 20h0m0-10h0m0 10h0m1 2h0m0-20h0m0 5h0m0-2h0m0 21h0m0-43h0m1 31h0m0 9h0m0-7h0m0 4h0m0-29h0m1-3h0m0 16h0m0 18h0m0-11h0m0-2h0m1 3h0m0 12h0m1-45h0m0 43h0m0-26h0m0 14h0m0-7h0m1-25h0m0 40h0m0 4h0m0-16h0m0-7h0m1-63h0m0 87h0m0-36h0m0 13h0m0 20h0m0-10h0m0-12h0m0 11h0m1-19h0m0 25h0m0-9h0m0 4h0m0-21h0m0-128h0m1 136h0m0 16h0m0-28h0m0 33h0m0 3h0m0-26h0m0 25h0m0-9h0m1 4h0m0-38h0m0 14h0m0 14h0m1 12h0m0 3h0m0-66h0m0 65h0m0-25h0m1-11h0m0 34h0m0 1h0m0-15h0m0 23h0m0-22h0m0 13h0m0-23h0m1-29h0m0 63h0m0-14h0m0 12h0m1-37h0m0 24h0m0-3h0m1 3h0m0 7h0m0 3h0m0-31h0m0-7h0m0 33h0m1 1h0m0-1h0m0-3h0m0-13h0m1-65h0m0 79h0m0-21h0m0 5h0m1 8h0m0 1h0m1-9h0m0 21h0m0-81h0m0 65h0m0 2h0m0 10h0m0-15h0m1 16h0m0 8h0m0-17h0m0-3h0m0-43h0m0 52h0m0 1h0m0-21h0m0-8h0m1 21h0m0-42h0m0 45h0m0 3h0m0-10h0m0 4h0m1 2h0m0 13h0m0-5h0m0-45h0m1 0h0m0 24h0m0 29h0m0-2h0m0-37h0m0-52h0m0 66h0m0-2h0m0 17h0m1-3h0m0 4h0m0-30h0m1 23h0m0-5h0m0-17h0m0-78h0m0 79h0m0 31h0m0 4h0m1-16h0m0 8h0m0-15h0m1 14h0m0-7h0m0-55h0m1 62h0m0 4h0m0 3h0m0-10h0m1 9h0m0 7h0m0-19h0m0 15h0m0-6h0m0 6h0m0-68h0m1 60h0m0-61h0m0 55h0m0 2h0m0-8h0m0 16h0m0-19h0m1-21h0m0 6h0m0 36h0m0-43h0m0 45h0m0 3h0m1-33h0m0 4h0m0 19h0m0-30h0m0 7h0m0 14h0m1 11h0m0-60h0m0 59h0m0-126h0m0 125h0m0-18h0m0 0h0m0-41h0m0 45h0m1 2h0m1 16h0m0-35h0m0 24h0m0-6h0m1-93h0m0 120h0m0-46h0m0 8h0m0 20h0m0 13h0m1-14h0m0-1h0m1 11h0m0-5h0m0-3h0m0-10h0m0-1h0m0 22h0m0-3h0m0 2h0m1 0h0m0-11h0m0 12h0m0-5h0m0-17h0m0-12h0m1 25h0m0-1h0m0 8h0m1 1h0m0 0h0m0-8h0m0-12h0m0-35h0m0 49h0m0 5h0m0-10h0m1-1h0m0 4h0m0 4h0m0-2h0m1-22h0m1 6h0m0 19h0m0-32h0m0 36h0m0-122h0m1 93h0m0-29h0m0-11h0m1 62h0m0-55h0m0 51h0m0-36h0m0 23h0m0 10h0m0-49h0m0-32h0m1 85h0m0-22h0m0 14h0m1-24h0m0 31h0m0-9h0m0-33h0m1 8h0m0 34h0m0-28h0m1 32h0m0-7h0m0-5h0m0 5h0m0 2h0m0 4h0m0-36h0m0 34h0m1 0h0m0 0h0m0-43h0m0 31h0m1 12h0m0-18h0m0 24h0m0 2h0m0-25h0m0 20h0m0-13h0m0 19h0m0-2h0m0-43h0m1 41h0m0-10h0m0-9h0m1-5h0m0 10h0m0 9h0m0-41h0m0 51h0m0-56h0m0 44h0m1-12h0m0-3h0m0 17h0m0 2h0m0-4h0m1-5h0m0-13h0m0-64h0m0 80h0m0-23h0m1 26h0m0-22h0m0 29h0m0 2h0m0-1h0m0 5h0m1-34h0m0 25h0m1-71h0m0 69h0m0-32h0m0 39h0m0-42h0m1-37h0m0 80h0m0-15h0m0-14h0m0 22h0m0-44h0m1 24h0m0 15h0m0 1h0m0 7h0m0-24h0m0 18h0m0 2h0m0-1h0m0-47h0m1 61h0m0-19h0m0-18h0m0 15h0m0 12h0m0 4h0m0-35h0m1 28h0m0 4h0m0-12h0m0-12h0m0-31h0m1 39h0m0 5h0m0 11h0m0-45h0m0 22h0m0 9h0m0 8h0m1-1h0m0 11h0m0-5h0m0-3h0m0-2h0m0-4h0m0-34h0m1 33h0m1-49h0m0 26h0m0 30h0m0 4h0m0-6h0m0-7h0m0-2h0m1-39h0m0-7h0m0 59h0m0-10h0m0 7h0m0-47h0m0 51h0m1-20h0m0 19h0m0-23h0m0-2h0m1-68h0m0 12h0m0 73h0m0-10h0m0 0h0m1 12h0m0-134h0m0 128h0m0 6h0m0-1h0m0-35h0m0 37h0m0-27h0m0 25h0m1 1h0m0 0h0m0-6h0m0 22h0m0-12h0m0-2h0m0-39h0m0 26h0m1-11h0m0 30h0m0 5h0m0-142h0m0 128h0m1 6h0m0-2h0m0 0h0m0 8h0m0-37h0m0 31h0m1-34h0m0 33h0m0-19h0m0 30h0m1-4h0m0-4h0m0-1h0m0-9h0m0-8h0m0-148h0m0 168h0m1-12h0m0 9h0m1-9h0m0 8h0m0-26h0m0 20h0m0-38h0m1 44h0m0-1h0m0-25h0m0 29h0m0-60h0m0 61h0m0 2h0m1-37h0m0 32h0m0-32h0m0 30h0m0-12h0m0 2h0m1 15h0m0-102h0m0 107h0m0-7h0m0-11h0m1 15h0m0 1h0m0-8h0m0-1h0m0-106h0m0 115h0m0-62h0m1 55h0m0-16h0m0 25h0m0-12h0m0-36h0m1 14h0m0 8h0m0 19h0m0-10h0m0 8h0m1-22h0m0-21h0m0 32h0m0 11h0m0-1h0m0 2h0m0-35h0m0-28h0m0 48h0m0-4h0m0 5h0m1-10h0m0 27h0m0 2h0m1-6h0m0-50h0m0 51h0m0-7h0m0-31h0m0-11h0m0 39h0m1-6h0m0 3h0m0-39h0m0 59h0m1-27h0m0-2h0m0-24h0m0 14h0m0 22h0m1-56h0m0 54h0m0 13h0m0-15h0m0-3h0m0 9h0m0-18h0m0 26h0m1-6h0m0-11h0m0 7h0m0-17h0m0 8h0m0 8h0m0 4h0m1 4h0m0-39h0m0 24h0m0-18h0m0 1h0m0 9h0m0 29h0m0-20h0m0 19h0m1-55h0m0 58h0m0-8h0m0 5h0m0-9h0m0-2h0m1 6h0m1 6h0m0-64h0m1 24h0m0 23h0m0 13h0m0-2h0m0 2h0m0-3h0m1 8h0m0 1h0m0 2h0m0-47h0m0-20h0m1 60h0m0-2h0m0-10h0m0-34h0m1 50h0m0-23h0m0 17h0m0 10h0m1-10h0m0-30h0m0 14h0m0 0h0m1-32h0m0 55h0m0-6h0m0-14h0m0 1h0m0-76h0m1 90h0m0-8h0m0-21h0m0-33h0m0 29h0m0 10h0m1 24h0m0-21h0m0 13h0m0 7h0m0-22h0m0 23h0m0-5h0m1-42h0m0 26h0m0 24h0m0-6h0m0-35h0m0 21h0m0 17h0m1 2h0m0-11h0m0-1h0m0 6h0m1-5h0m0-27h0m0-13h0m0-4h0m1 11h0m0 32h0m0-18h0m0 13h0m0-58h0m0 75h0m1-25h0m0 25h0m0-82h0m0 84h0m1-11h0m0-14h0m0 17h0m0-38h0m0 8h0m0 35h0m0-134h0m1 135h0m0-35h0m0 27h0m1-22h0m0-1h0m0 29h0m0-46h0m1 40h0m0 10h0m0-46h0m1 19h0m0-39h0m0 44h0m1-6h0m0 24h0m0-12h0m0 2h0m0 13h0m1-5h0m0-1h0m0-48h0m0 34h0m0-2h0m0 26h0m0-45h0m1 43h0m0 3h0m1-65h0m0 44h0m0 10h0m0 2h0m0-9h0m1 14h0m0-80h0m0 54h0m0 21h0m1-7h0m0-19h0m1 0h0m0 23h0m0-16h0m0-53h0m1 44h0m0 37h0m0-8h0m0-2h0m0-8h0m0 10h0m0-28h0m0 30h0m1-30h0m0 2h0m0 22h0m0 2h0m0 0h0m1-21h0m0 7h0m0 20h0m0-4h0m0-13h0m0 5h0m0-3h0m0 10h0m0-6h0m1 10h0m0 0h0m0 3h0m0-11h0m1 10h0m0-1h0m0-22h0m0 13h0m0-34h0m0 33h0m0-26h0m0 32h0m0-65h0m1 69h0m0-6h0m0-9h0m0 18h0m0 0h0m0-20h0m1 3h0m0 6h0m0-23h0m0 15h0m0 14h0m0-17h0m0-16h0m1 22h0m0-12h0m0-4h0m1 7h0m0 21h0m0-14h0m0-13h0m0 11h0m1-91h0m0 102h0m0-13h0m1 17h0m0-38h0m1 6h0m0 29h0m0-11h0m0-1h0m0 5h0m1-17h0m0 18h0m1-5h0m0 3h0m0-112h0m0 118h0m0-6h0m1 2h0m0 14h0m0-30h0m0 4h0m0 20h0m1-2h0m0 7h0m0-13h0m0 11h0m1-37h0m0 17h0m0 0h0m1-13h0m0-102h0m0 98h0m0 37h0m0-58h0m1 46h0m0-53h0m0 5h0m0 52h0m0-10h0m0 15h0m0-4h0m0-20h0m1 18h0m0-12h0m0 22h0m0-21h0m1-94h0m0 83h0m0 24h0m0-10h0m1 5h0m0-11h0m0-37h0m0 58h0m0-31h0m0 20h0m0 3h0m0-34h0m0 5h0m1-27h0m0 59h0m0-1h0m0 7h0m0-7h0m0 0h0m0-19h0m1 21h0m0 3h0m1-18h0m0-9h0m0 23h0m0-26h0m1-46h0m0 24h0m0 50h0m0 1h0m1-8h0m0 7h0m0 2h0m0-6h0m0-3h0m1 19h0m0-13h0m0-65h0m0 53h0m0 17h0m0-17h0m0 19h0m1-39h0m0-5h0m1 28h0m0-56h0m0 4h0m1 31h0m0 13h0m0 8h0m0 3h0m1-7h0m0 2h0m0 14h0m1-7h0m0 6h0m0-2h0m2-5h0m0-51h0m0 48h0m0 5h0m0-30h0m0 31h0m3-22h0m0 2h0m0-16h0m1 40h0m0-49h0m0 51h0m1-4h0m1-48h0m0 28h0m0 2h0m0-31h0m0 47h0m0-1h0m2-1h0m0-47h0m3 41h0m1-46h0m2-4h0m1 54h0m2 5h0m1-58h0m2 57h0m2 7h0m0-37h0m6-78h0m0-14h0m1 116h0m4-11h0m0 17h0m2-7h0m1 6h0m3-3h0m1 5h0m3-74h0m5 49h0m6-86h0m2 87h0m2 28h0m4-17h0m2 21h0m3-4h0m2-36h0m9-15h0m10 25h0m4 27h0m7-18h0m4 17h0m1-10h0m0 2h0" stroke="#9c9d9c" stroke-width="4.8" stroke-linecap="round" fill="none" opacity="0.36"/>
</g>
<line x1="110.5" y1="1576.7" x2="524.7" y2="1582.3" stroke="#000" stroke-width="1.8" />
<rect x="110.5" y="1354.8" width="415.7" height="270.1" fill="none" stroke="#000" stroke-width="2.2" />
<line x1="104.5" y1="1615" x2="110.5" y2="1615" stroke="#000" stroke-width="1.6" />
<text x="100.5" y="1623.5" font-size="24" text-anchor="end">0</text>
<line x1="104.5" y1="1553.6" x2="110.5" y2="1553.6" stroke="#000" stroke-width="1.6" />
<text x="100.5" y="1562.1" font-size="24" text-anchor="end">20</text>
<line x1="104.5" y1="1492.2" x2="110.5" y2="1492.2" stroke="#000" stroke-width="1.6" />
<text x="100.5" y="1500.7" font-size="24" text-anchor="end">40</text>
<line x1="104.5" y1="1430.8" x2="110.5" y2="1430.8" stroke="#000" stroke-width="1.6" />
<text x="100.5" y="1439.3" font-size="24" text-anchor="end">60</text>
<line x1="104.5" y1="1369.4" x2="110.5" y2="1369.4" stroke="#000" stroke-width="1.6" />
<text x="100.5" y="1377.9" font-size="24" text-anchor="end">80</text>
<line x1="167.2" y1="1624.9" x2="167.2" y2="1630.9" stroke="#000" stroke-width="1.6" />
<text x="167.2" y="1653.4" font-size="24.3" text-anchor="middle">−2</text>
<line x1="242.6" y1="1624.9" x2="242.6" y2="1630.9" stroke="#000" stroke-width="1.6" />
<text x="242.6" y="1653.4" font-size="24.3" text-anchor="middle">−1</text>
<line x1="318" y1="1624.9" x2="318" y2="1630.9" stroke="#000" stroke-width="1.6" />
<text x="318" y="1653.4" font-size="24.3" text-anchor="middle">0</text>
<line x1="393.4" y1="1624.9" x2="393.4" y2="1630.9" stroke="#000" stroke-width="1.6" />
<text x="393.4" y="1653.4" font-size="24.3" text-anchor="middle">1</text>
<line x1="468.8" y1="1624.9" x2="468.8" y2="1630.9" stroke="#000" stroke-width="1.6" />
<text x="468.8" y="1653.4" font-size="24.3" text-anchor="middle">2</text>
<text x="314.8" y="1679.7" font-size="24.9" text-anchor="middle">P−body Enrichment log2FC</text>
<text transform="translate(58.8 1495.5) rotate(-90)" font-size="24.9" text-anchor="middle">mRNA Half−Life (hrs)</text>
<text x="121.3" y="1383.3" font-size="24.7"><tspan font-style="italic">R</tspan> = -0.025, <tspan font-style="italic">p</tspan>=0.044</text>
<text x="613" y="1221.7" font-size="41" font-weight="bold">f</text>
<text x="869.3" y="1251.1" font-size="28.4" text-anchor="middle">Biotype Abundance per Fraction</text>
<text x="717" y="1285" font-size="17.6" text-anchor="middle">Naive</text>
<text x="717.2" y="1306.5" font-size="17.6" text-anchor="middle">ES Cells</text>
<text x="788.9" y="1285" font-size="17.6" text-anchor="middle">Primed</text>
<text x="789" y="1306.5" font-size="17.6" text-anchor="middle">ES Cells</text>
<text x="847.2" y="1285" font-size="17.6" text-anchor="middle">Meso</text>
<text x="849.5" y="1306.5" font-size="17.6" text-anchor="middle">Prog.</text>
<text x="905.6" y="1285" font-size="17.6" text-anchor="middle">Endo</text>
<text x="907.7" y="1306.5" font-size="17.6" text-anchor="middle">Prog.</text>
<text x="967.6" y="1285" font-size="17.6" text-anchor="middle">Neural</text>
<text x="969.9" y="1306.5" font-size="17.6" text-anchor="middle">Prog.</text>
<text x="1034.3" y="1285" font-size="17.6" text-anchor="middle">Neurons</text>
<rect x="697.9" y="1315.3" width="21.2" height="3.7" fill="#ee6f6c" />
<rect x="697.9" y="1319" width="21.2" height="1" fill="#e8893a" />
<rect x="697.9" y="1320" width="21.2" height="19.7" fill="#78c04b" />
<rect x="697.9" y="1339.7" width="21.2" height="284.2" fill="#5dd2b4" />
<rect x="697.9" y="1619.7" width="21.2" height="1.2" fill="#5ab8e6" />
<rect x="697.9" y="1620.9" width="21.2" height="3" fill="#de5cb4" />
<rect x="722.3" y="1315.3" width="21.5" height="5.7" fill="#ee6f6c" />
<rect x="722.3" y="1321" width="21.5" height="2.8" fill="#e8893a" />
<rect x="722.3" y="1323.8" width="21.5" height="26" fill="#78c04b" />
<rect x="722.3" y="1349.8" width="21.5" height="274.1" fill="#5dd2b4" />
<rect x="722.3" y="1617.7" width="21.5" height="1.2" fill="#5ab8e6" />
<rect x="722.3" y="1618.9" width="21.5" height="5" fill="#de5cb4" />
<rect x="761.2" y="1315.3" width="22.1" height="2.7" fill="#ee6f6c" />
<rect x="761.2" y="1318" width="22.1" height="2" fill="#e8893a" />
<rect x="761.2" y="1320" width="22.1" height="24.4" fill="#78c04b" />
<rect x="761.2" y="1344.4" width="22.1" height="279.5" fill="#5dd2b4" />
<rect x="761.2" y="1620.2" width="22.1" height="1.2" fill="#5ab8e6" />
<rect x="761.2" y="1621.4" width="22.1" height="2.5" fill="#de5cb4" />
<rect x="786.1" y="1315.3" width="22.2" height="2.7" fill="#ee6f6c" />
<rect x="786.1" y="1318" width="22.2" height="2.7" fill="#e8893a" />
<rect x="786.1" y="1320.7" width="22.2" height="23.1" fill="#78c04b" />
<rect x="786.1" y="1343.8" width="22.2" height="280.1" fill="#5dd2b4" />
<rect x="786.1" y="1619.2" width="22.2" height="1.2" fill="#5ab8e6" />
<rect x="786.1" y="1620.4" width="22.2" height="3.5" fill="#de5cb4" />
<rect x="822.8" y="1315.3" width="21.5" height="5.4" fill="#ee6f6c" />
<rect x="822.8" y="1320.7" width="21.5" height="4.7" fill="#e8893a" />
<rect x="822.8" y="1325.4" width="21.5" height="28.5" fill="#78c04b" />
<rect x="822.8" y="1353.9" width="21.5" height="270" fill="#5dd2b4" />
<rect x="822.8" y="1618.2" width="21.5" height="1.2" fill="#5ab8e6" />
<rect x="822.8" y="1619.4" width="21.5" height="4.5" fill="#de5cb4" />
<rect x="847.1" y="1315.3" width="21.9" height="2.7" fill="#ee6f6c" />
<rect x="847.1" y="1318" width="21.9" height="3.3" fill="#e8893a" />
<rect x="847.1" y="1321.3" width="21.9" height="27.2" fill="#78c04b" />
<rect x="847.1" y="1348.5" width="21.9" height="275.4" fill="#5dd2b4" />
<rect x="847.1" y="1620.7" width="21.9" height="1.2" fill="#5ab8e6" />
<rect x="847.1" y="1621.9" width="21.9" height="2" fill="#de5cb4" />
<rect x="882.9" y="1315.3" width="22.1" height="2.7" fill="#ee6f6c" />
<rect x="882.9" y="1318" width="22.1" height="1.1" fill="#e8893a" />
<rect x="882.9" y="1319.1" width="22.1" height="15.2" fill="#78c04b" />
<rect x="882.9" y="1334.3" width="22.1" height="289.6" fill="#5dd2b4" />
<rect x="882.9" y="1619.7" width="22.1" height="1.2" fill="#5ab8e6" />
<rect x="882.9" y="1620.9" width="22.1" height="3" fill="#de5cb4" />
<rect x="907.9" y="1315.3" width="22.1" height="2.5" fill="#ee6f6c" />
<rect x="907.9" y="1317.8" width="22.1" height="1.9" fill="#e8893a" />
<rect x="907.9" y="1319.7" width="22.1" height="25.3" fill="#78c04b" />
<rect x="907.9" y="1345" width="22.1" height="278.9" fill="#5dd2b4" />
<rect x="907.9" y="1621.2" width="22.1" height="1.2" fill="#5ab8e6" />
<rect x="907.9" y="1622.4" width="22.1" height="1.5" fill="#de5cb4" />
<rect x="945.2" y="1313.4" width="22.1" height="5.6" fill="#ee6f6c" />
<rect x="945.2" y="1319" width="22.1" height="1.7" fill="#e8893a" />
<rect x="945.2" y="1320.7" width="22.1" height="23.7" fill="#78c04b" />
<rect x="945.2" y="1344.4" width="22.1" height="279.5" fill="#5dd2b4" />
<rect x="945.2" y="1619.7" width="22.1" height="1.2" fill="#5ab8e6" />
<rect x="945.2" y="1620.9" width="22.1" height="3" fill="#de5cb4" />
<rect x="969.8" y="1313.4" width="22.2" height="5.6" fill="#ee6f6c" />
<rect x="969.8" y="1319" width="22.2" height="2.3" fill="#e8893a" />
<rect x="969.8" y="1321.3" width="22.2" height="24.7" fill="#78c04b" />
<rect x="969.8" y="1346" width="22.2" height="277.9" fill="#5dd2b4" />
<rect x="969.8" y="1620.2" width="22.2" height="1.2" fill="#5ab8e6" />
<rect x="969.8" y="1621.4" width="22.2" height="2.5" fill="#de5cb4" />
<rect x="1008.4" y="1313.4" width="22.1" height="7.3" fill="#ee6f6c" />
<rect x="1008.4" y="1320.7" width="22.1" height="4.7" fill="#e8893a" />
<rect x="1008.4" y="1325.4" width="22.1" height="28.5" fill="#78c04b" />
<rect x="1008.4" y="1353.9" width="22.1" height="270" fill="#5dd2b4" />
<rect x="1008.4" y="1618.7" width="22.1" height="1.2" fill="#5ab8e6" />
<rect x="1008.4" y="1619.9" width="22.1" height="4" fill="#de5cb4" />
<rect x="1033.7" y="1313.4" width="22.1" height="5.1" fill="#ee6f6c" />
<rect x="1033.7" y="1318.5" width="22.1" height="3.1" fill="#e8893a" />
<rect x="1033.7" y="1321.6" width="22.1" height="28.5" fill="#78c04b" />
<rect x="1033.7" y="1350.1" width="22.1" height="273.8" fill="#5dd2b4" />
<rect x="1033.7" y="1620.2" width="22.1" height="1.2" fill="#5ab8e6" />
<rect x="1033.7" y="1621.4" width="22.1" height="2.5" fill="#de5cb4" />
<line x1="679" y1="1309.8" x2="679" y2="1624.9" stroke="#000" stroke-width="2" />
<line x1="676.4" y1="1623.9" x2="1068.5" y2="1623.9" stroke="#000" stroke-width="2" />
<line x1="676" y1="1623.9" x2="679" y2="1623.9" stroke="#000" stroke-width="1.5" />
<text x="674.5" y="1630.9" font-size="20" text-anchor="end">0.00</text>
<line x1="676" y1="1546.1" x2="679" y2="1546.1" stroke="#000" stroke-width="1.5" />
<text x="674.5" y="1553.1" font-size="20" text-anchor="end">0.25</text>
<line x1="676" y1="1468.3" x2="679" y2="1468.3" stroke="#000" stroke-width="1.5" />
<text x="674.5" y="1475.3" font-size="20" text-anchor="end">0.50</text>
<line x1="676" y1="1390.6" x2="679" y2="1390.6" stroke="#000" stroke-width="1.5" />
<text x="674.5" y="1397.6" font-size="20" text-anchor="end">0.75</text>
<line x1="676" y1="1312.8" x2="679" y2="1312.8" stroke="#000" stroke-width="1.5" />
<text x="674.5" y="1319.8" font-size="20" text-anchor="end">1.00</text>
<text transform="translate(616.3 1457) rotate(-90)" font-size="20" text-anchor="middle">Distribution</text>
<text transform="translate(713.5 1635.9) rotate(-45)" font-size="20.5" text-anchor="end">Cytoplasm</text>
<text transform="translate(738 1635.9) rotate(-45)" font-size="20.5" text-anchor="end">P-bodies</text>
<text transform="translate(777.2 1635.9) rotate(-45)" font-size="20.5" text-anchor="end">Cytoplasm</text>
<text transform="translate(802.2 1635.9) rotate(-45)" font-size="20.5" text-anchor="end">P-bodies</text>
<text transform="translate(838.5 1635.9) rotate(-45)" font-size="20.5" text-anchor="end">Cytoplasm</text>
<text transform="translate(863 1635.9) rotate(-45)" font-size="20.5" text-anchor="end">P-bodies</text>
<text transform="translate(899 1635.9) rotate(-45)" font-size="20.5" text-anchor="end">Cytoplasm</text>
<text transform="translate(924 1635.9) rotate(-45)" font-size="20.5" text-anchor="end">P-bodies</text>
<text transform="translate(961.2 1635.9) rotate(-45)" font-size="20.5" text-anchor="end">Cytoplasm</text>
<text transform="translate(985.9 1635.9) rotate(-45)" font-size="20.5" text-anchor="end">P-bodies</text>
<text transform="translate(1024.5 1635.9) rotate(-45)" font-size="20.5" text-anchor="end">Cytoplasm</text>
<text transform="translate(1049.8 1635.9) rotate(-45)" font-size="20.5" text-anchor="end">P-bodies</text>
<rect x="698.8" y="1724.2" width="12" height="12" fill="#ee706c" />
<text x="716" y="1736" font-size="19.5">antisense</text>
<rect x="698.8" y="1741.5" width="12" height="12" fill="#e8883a" />
<text x="716" y="1753.3" font-size="19.5">lincRNA</text>
<rect x="698.8" y="1759" width="12" height="12" fill="#c9a03c" />
<text x="716" y="1770.8" font-size="19.5">miRNA</text>
<rect x="698.8" y="1776.6" width="12" height="12" fill="#a9aa3a" />
<text x="716" y="1788.4" font-size="19.5">misc RNA</text>
<rect x="698.8" y="1793.8" width="12" height="12" fill="#6cbf48" />
<text x="716" y="1805.6" font-size="19.5">other</text>
<rect x="697" y="1814.4" width="12" height="12" fill="#6a90d4" />
<text x="714.2" y="1826.2" font-size="19.5">snRNA</text>
<rect x="697" y="1831.7" width="12" height="12" fill="#9b7fcc" />
<text x="714.2" y="1843.5" font-size="19.5">TEC</text>
<rect x="817.3" y="1725" width="12" height="12" fill="#4cc44c" />
<text x="833.8" y="1736.8" font-size="19.5">pseudogene</text>
<rect x="817.3" y="1742.2" width="12" height="12" fill="#4fc27f" />
<text x="833.8" y="1754" font-size="19.5">processed transc.</text>
<rect x="817.3" y="1759.6" width="12" height="12" fill="#4fcfae" />
<text x="833.8" y="1771.4" font-size="19.5">protein coding</text>
<rect x="817.3" y="1776.6" width="12" height="12" fill="#4fc9d7" />
<text x="833.8" y="1788.4" font-size="19.5">sense intronic</text>
<rect x="817.3" y="1793.8" width="12" height="12" fill="#52ace6" />
<text x="833.8" y="1805.6" font-size="19.5">snoRNA</text>
<rect x="818.3" y="1811.8" width="12" height="12" fill="#b46cc8" />
<text x="834.8" y="1823.6" font-size="19.5">transc.processed pseudog.</text>
<rect x="818.3" y="1829.4" width="12" height="12" fill="#d85cc2" />
<text x="834.8" y="1841.2" font-size="19.5">transcr. unprocessed pseudog.</text>
<rect x="818.3" y="1846.6" width="12" height="12" fill="#ea5caa" />
<text x="834.8" y="1858.4" font-size="19.5">unprocessed pseudogene</text>
<text x="1167.7" y="1214.6" font-size="41" font-weight="bold">g</text>
<path d="M1249.9 1509.7L1249.9 1509.5 1251.4 1509.4 1252.9 1509.1 1254.4 1508.8 1255.9 1508.4 1257.4 1508 1258.9 1507.6 1260.4 1507 1261.9 1506.5 1263.4 1505.9 1264.9 1505.3 1266.4 1504.7 1267.9 1504.1 1269.4 1503.3 1270.9 1502.1 1272.4 1500.8 1273.9 1499.3 1275.4 1497.7 1276.9 1496.2 1278.4 1494.7 1279.9 1493.4 1281.4 1492.3 1282.9 1491.5 1284.4 1491.1 1285.9 1491.1 1287.4 1491.3 1288.9 1491.5 1290.4 1491.7 1291.9 1491.4 1293.4 1490 1294.9 1487.9 1296.4 1485.2 1297.9 1482.2 1299.4 1479.2 1300.9 1476.4 1302.4 1473.5 1303.9 1470.4 1305.4 1467.1 1306.9 1463.3 1308.4 1459.2 1309.9 1454.2 1311.4 1448.5 1312.9 1442.3 1314.4 1435.7 1315.9 1429 1317.4 1422 1318.9 1414.4 1320.4 1406.6 1321.9 1398.9 1323.4 1391.4 1324.9 1384 1326.4 1376 1327.9 1368.2 1329.4 1361.5 1330.9 1356.5 1332.4 1353.6 1333.9 1351.2 1335.4 1349.3 1336.9 1347.7 1338.4 1346.3 1339.9 1345.3 1341.4 1344.4 1342.9 1343.8 1344.4 1343.2 1345.9 1342.6 1347.4 1341.8 1348.9 1340.9 1350.4 1339.5 1351.9 1337.7 1353.4 1335.7 1354.9 1333.9 1356.4 1332.4 1357.9 1331.1 1359.4 1329.8 1360.9 1328.8 1362.4 1328.1 1363.9 1328.1 1365.4 1328.3 1366.9 1328.9 1368.4 1329.5 1369.9 1330.3 1371.4 1331.2 1372.9 1332.6 1374.4 1334.3 1375.9 1336.2 1377.4 1338.4 1378.9 1340.7 1380.4 1343.1 1381.9 1345.9 1383.4 1349 1384.9 1352.5 1386.4 1356.3 1387.9 1360.4 1389.4 1364.9 1390.9 1369.7 1392.4 1375.2 1393.9 1382.1 1395.4 1389.9 1396.9 1398.2 1398.4 1406.6 1399.9 1414.4 1401.4 1421.3 1402.9 1428 1404.4 1434.5 1405.9 1440.8 1407.4 1446.7 1408.9 1452.3 1410.4 1457.3 1411.9 1461.9 1413.4 1466.3 1414.9 1470.6 1416.4 1474.6 1417.9 1478.3 1419.4 1481.7 1420.9 1484.6 1422.4 1487.2 1423.9 1489.5 1425.4 1491.7 1426.9 1493.7 1428.4 1495.6 1429.9 1497.4 1431.4 1498.9 1432.9 1500.3 1434.4 1501.5 1435.9 1502.4 1437.4 1503.2 1438.9 1504 1440.4 1504.7 1441.9 1505.4 1443.4 1506 1444.9 1506.6 1446.4 1507.1 1447.9 1507.5 1449.4 1507.8 1450.9 1508.1 1452.4 1508.3 1453.9 1508.4 1455.4 1508.6 1456.9 1508.8 1458.4 1509 1459.9 1509.1 1461.4 1509.2 1462.9 1509.4 1464.4 1509.5L1464.4 1509.7Z" fill="#dbdbdb"/>
<path d="M1287.4 1509.7L1287.4 1509.6 1288.9 1509.3 1290.4 1509.1 1291.9 1508.8 1293.4 1508.5 1294.9 1508.3 1296.4 1508 1297.9 1507.7 1299.4 1507.4 1300.9 1507 1302.4 1506.7 1303.9 1506.5 1305.4 1506.2 1306.9 1505.9 1308.4 1505.5 1309.9 1505.1 1311.4 1504.5 1312.9 1503.7 1314.4 1502.2 1315.9 1500.1 1317.4 1497.5 1318.9 1494.5 1320.4 1491.2 1321.9 1486.7 1323.4 1481.2 1324.9 1475 1326.4 1468.5 1327.9 1462 1329.4 1455 1330.9 1447.5 1332.4 1439.7 1333.9 1431.9 1335.4 1424.2 1336.9 1416.6 1338.4 1408.8 1339.9 1401.1 1341.4 1393.7 1342.9 1386.7 1344.4 1380.1 1345.9 1373.7 1347.4 1367.6 1348.9 1361.6 1350.4 1355.9 1351.9 1350.3 1353.4 1345 1354.9 1340.1 1356.4 1335.4 1357.9 1330.8 1359.4 1326.2 1360.9 1321.5 1362.4 1316.4 1363.9 1310.8 1365.4 1304.8 1366.9 1298.7 1368.4 1293 1369.9 1288.2 1371.4 1283.7 1372.9 1279.2 1374.4 1275.1 1375.9 1272 1377.4 1270.5 1378.9 1270.8 1380.4 1271.9 1381.9 1273.7 1383.4 1276 1384.9 1280.1 1386.4 1287.1 1387.9 1295.4 1389.4 1303.6 1390.9 1311.7 1392.4 1320.3 1393.9 1329.2 1395.4 1338.1 1396.9 1346.8 1398.4 1355.3 1399.9 1363.9 1401.4 1372.4 1402.9 1380.6 1404.4 1388.3 1405.9 1395.5 1407.4 1402.2 1408.9 1408.6 1410.4 1414.8 1411.9 1420.7 1413.4 1426.4 1414.9 1432.1 1416.4 1437.5 1417.9 1442.7 1419.4 1447.5 1420.9 1452.1 1422.4 1456.4 1423.9 1460.6 1425.4 1464.6 1426.9 1468.4 1428.4 1472 1429.9 1475.2 1431.4 1478.3 1432.9 1481.2 1434.4 1483.8 1435.9 1486.3 1437.4 1488.5 1438.9 1490.4 1440.4 1492.4 1441.9 1494.3 1443.4 1496 1444.9 1497.4 1446.4 1498.4 1447.9 1499 1449.4 1499.5 1450.9 1499.9 1452.4 1500.2 1453.9 1500.5 1455.4 1500.7 1456.9 1501 1458.4 1501.2 1459.9 1501.5 1461.4 1501.8 1462.9 1502 1464.4 1502.3 1465.9 1502.5 1467.4 1502.7 1468.9 1503 1470.4 1503.2 1471.9 1503.5 1473.4 1503.9 1474.9 1504.2 1476.4 1504.5 1477.9 1504.9 1479.4 1505.2 1480.9 1505.5 1482.4 1505.8 1483.9 1506.2 1485.4 1506.5 1486.9 1506.8 1488.4 1507.1 1489.9 1507.4 1491.4 1507.7 1492.9 1508 1494.4 1508.2 1495.9 1508.4 1497.4 1508.7 1498.9 1508.9 1500.4 1509.1 1501.9 1509.3 1503.4 1509.4L1503.4 1509.7Z" fill="#8e9bd2"/>
<path d="M1221.4 1509.7L1221.4 1509.4 1222.9 1509.3 1224.4 1509.1 1225.9 1508.8 1227.4 1508.6 1228.9 1508.3 1230.4 1508 1231.9 1507.7 1233.4 1507.4 1234.9 1507 1236.4 1506.7 1237.9 1506.3 1239.4 1506 1240.9 1505.5 1242.4 1505 1243.9 1504.4 1245.4 1503.8 1246.9 1503.2 1248.4 1502.5 1249.9 1501.9 1251.4 1501.2 1252.9 1500.6 1254.4 1500 1255.9 1499.5 1257.4 1499 1258.9 1498.6 1260.4 1498.2 1261.9 1497.9 1263.4 1497.6 1264.9 1497.2 1266.4 1496.9 1267.9 1496.4 1269.4 1495.7 1270.9 1494.8 1272.4 1493.8 1273.9 1492.7 1275.4 1491.7 1276.9 1490.7 1278.4 1490 1279.9 1489.5 1281.4 1489.4 1282.9 1489.7 1284.4 1490.2 1285.9 1490.9 1287.4 1491.4 1288.9 1491.7 1290.4 1491.4 1291.9 1490.7 1293.4 1489.5 1294.9 1488.1 1296.4 1486.5 1297.9 1484.9 1299.4 1483.2 1300.9 1481.5 1302.4 1479.8 1303.9 1477.8 1305.4 1475.7 1306.9 1473.4 1308.4 1471 1309.9 1468.4 1311.4 1465.6 1312.9 1462.6 1314.4 1459.4 1315.9 1456 1317.4 1452.4 1318.9 1448.5 1320.4 1444.4 1321.9 1440.1 1323.4 1435.6 1324.9 1431 1326.4 1426.2 1327.9 1421.2 1329.4 1415.9 1330.9 1410.5 1332.4 1404.9 1333.9 1399.2 1335.4 1393.5 1336.9 1387.6 1338.4 1381.5 1339.9 1375.3 1341.4 1369.2 1342.9 1363.4 1344.4 1357.9 1345.9 1352.5 1347.4 1347.2 1348.9 1342.1 1350.4 1337.1 1351.9 1332.2 1353.4 1327.2 1354.9 1322.3 1356.4 1317.9 1357.9 1314.1 1359.4 1310.9 1360.9 1307.8 1362.4 1304.9 1363.9 1302.4 1365.4 1300.6 1366.9 1299.8 1368.4 1300 1369.9 1300.5 1371.4 1301.4 1372.9 1302.5 1374.4 1303.9 1375.9 1306.5 1377.4 1310.4 1378.9 1315.2 1380.4 1320.4 1381.9 1325.6 1383.4 1331.3 1384.9 1337.8 1386.4 1344.9 1387.9 1352.2 1389.4 1359.6 1390.9 1367.5 1392.4 1376 1393.9 1384.6 1395.4 1393.1 1396.9 1401 1398.4 1408.4 1399.9 1415.5 1401.4 1422.3 1402.9 1428.9 1404.4 1435.1 1405.9 1440.9 1407.4 1446.7 1408.9 1452.2 1410.4 1457.3 1411.9 1461.9 1413.4 1466 1414.9 1469.8 1416.4 1473.4 1417.9 1476.7 1419.4 1479.8 1420.9 1482.6 1422.4 1485.3 1423.9 1487.8 1425.4 1490.3 1426.9 1492.6 1428.4 1494.8 1429.9 1496.6 1431.4 1498.1 1432.9 1499.2 1434.4 1500.3 1435.9 1501.3 1437.4 1502.2 1438.9 1503.1 1440.4 1503.9 1441.9 1504.5 1443.4 1505.1 1444.9 1505.6 1446.4 1506 1447.9 1506.3 1449.4 1506.5 1450.9 1506.7 1452.4 1506.9 1453.9 1507.1 1455.4 1507.3 1456.9 1507.5 1458.4 1507.6 1459.9 1507.8 1461.4 1507.9 1462.9 1508 1464.4 1508.1 1465.9 1508.2 1467.4 1508.3 1468.9 1508.4 1470.4 1508.5 1471.9 1508.6 1473.4 1508.6 1474.9 1508.7 1476.4 1508.8 1477.9 1508.9 1479.4 1509 1480.9 1509 1482.4 1509.1 1483.9 1509.2 1485.4 1509.2 1486.9 1509.3 1488.4 1509.4 1489.9 1509.4L1489.9 1509.7Z" fill="#e7918f"/>
<path d="M1287.4 1509.7L1287.4 1509.6 1288.9 1509.3 1290.4 1509.1 1291.9 1508.8 1293.4 1508.5 1294.9 1508.3 1296.4 1508 1297.9 1507.7 1299.4 1507.4 1300.9 1507 1302.4 1506.7 1303.9 1506.5 1305.4 1506.2 1306.9 1505.9 1308.4 1505.5 1309.9 1505.1 1311.4 1504.5 1312.9 1503.7 1314.4 1502.2 1315.9 1500.1 1317.4 1497.5 1318.9 1494.5 1320.4 1491.2 1321.9 1486.7 1323.4 1481.2 1324.9 1475 1326.4 1468.5 1327.9 1462 1329.4 1455 1330.9 1447.5 1332.4 1439.7 1333.9 1431.9 1335.4 1424.2 1336.9 1416.6 1338.4 1408.8 1339.9 1401.1 1341.4 1393.7 1342.9 1386.7 1344.4 1380.1 1345.9 1373.7 1347.4 1367.6 1348.9 1361.6 1350.4 1355.9 1351.9 1350.3 1353.4 1345 1354.9 1340.1 1356.4 1335.4 1357.9 1330.8 1359.4 1326.2 1360.9 1321.5 1362.4 1316.4 1363.9 1310.8 1365.4 1304.8 1366.9 1299.8 1368.4 1300 1369.9 1300.5 1371.4 1301.4 1372.9 1302.5 1374.4 1303.9 1375.9 1306.5 1377.4 1310.4 1378.9 1315.2 1380.4 1320.4 1381.9 1325.6 1383.4 1331.3 1384.9 1337.8 1386.4 1344.9 1387.9 1352.2 1389.4 1359.6 1390.9 1367.5 1392.4 1376 1393.9 1384.6 1395.4 1393.1 1396.9 1401 1398.4 1408.4 1399.9 1415.5 1401.4 1422.3 1402.9 1428.9 1404.4 1435.1 1405.9 1440.9 1407.4 1446.7 1408.9 1452.2 1410.4 1457.3 1411.9 1461.9 1413.4 1466 1414.9 1469.8 1416.4 1473.4 1417.9 1476.7 1419.4 1479.8 1420.9 1482.6 1422.4 1485.3 1423.9 1487.8 1425.4 1490.3 1426.9 1492.6 1428.4 1494.8 1429.9 1496.6 1431.4 1498.1 1432.9 1499.2 1434.4 1500.3 1435.9 1501.3 1437.4 1502.2 1438.9 1503.1 1440.4 1503.9 1441.9 1504.5 1443.4 1505.1 1444.9 1505.6 1446.4 1506 1447.9 1506.3 1449.4 1506.5 1450.9 1506.7 1452.4 1506.9 1453.9 1507.1 1455.4 1507.3 1456.9 1507.5 1458.4 1507.6 1459.9 1507.8 1461.4 1507.9 1462.9 1508 1464.4 1508.1 1465.9 1508.2 1467.4 1508.3 1468.9 1508.4 1470.4 1508.5 1471.9 1508.6 1473.4 1508.6 1474.9 1508.7 1476.4 1508.8 1477.9 1508.9 1479.4 1509 1480.9 1509 1482.4 1509.1 1483.9 1509.2 1485.4 1509.2 1486.9 1509.3 1488.4 1509.4 1489.9 1509.4L1489.9 1509.7Z" fill="#c47a89"/>
<rect x="1202.4" y="1257.3" width="324.1" height="252.9" fill="none" stroke="#000" stroke-width="2.2" />
<line x1="1198.4" y1="1509.7" x2="1202.4" y2="1509.7" stroke="#000" stroke-width="2.5" />
<text x="1196.4" y="1517.7" font-size="22.5" text-anchor="end">0.0</text>
<line x1="1198.4" y1="1449.2" x2="1202.4" y2="1449.2" stroke="#000" stroke-width="2.5" />
<text x="1196.4" y="1457.2" font-size="22.5" text-anchor="end">0.2</text>
<line x1="1198.4" y1="1388.7" x2="1202.4" y2="1388.7" stroke="#000" stroke-width="2.5" />
<text x="1196.4" y="1396.7" font-size="22.5" text-anchor="end">0.4</text>
<line x1="1198.4" y1="1328.1" x2="1202.4" y2="1328.1" stroke="#000" stroke-width="2.5" />
<text x="1196.4" y="1336.1" font-size="22.5" text-anchor="end">0.6</text>
<line x1="1198.4" y1="1267.6" x2="1202.4" y2="1267.6" stroke="#000" stroke-width="2.5" />
<text x="1196.4" y="1275.6" font-size="22.5" text-anchor="end">0.8</text>
<line x1="1267.3" y1="1510.2" x2="1267.3" y2="1514.2" stroke="#000" stroke-width="2.5" />
<text x="1267.3" y="1534.2" font-size="22.5" text-anchor="middle">1e−01</text>
<line x1="1368.6" y1="1510.2" x2="1368.6" y2="1514.2" stroke="#000" stroke-width="2.5" />
<text x="1368.6" y="1534.2" font-size="22.5" text-anchor="middle">1e+01</text>
<line x1="1474.2" y1="1510.2" x2="1474.2" y2="1514.2" stroke="#000" stroke-width="2.5" />
<text x="1474.2" y="1534.2" font-size="22.5" text-anchor="middle">1e+03</text>
<text x="1362.5" y="1556.2" font-size="22.8" text-anchor="middle">RPKM (log10)</text>
<text transform="translate(1145.4 1388.8) rotate(-90)" font-size="22.8" text-anchor="middle">Density</text>
<text x="1214" y="1280.5" font-size="17.8">Fraction</text>
<rect x="1214" y="1288.2" width="19.3" height="19.8" fill="#8f93d6" />
<text x="1239.8" y="1301.7" font-size="18.2">Cyto</text>
<rect x="1214" y="1308" width="19.3" height="19.8" fill="#dedede" />
<text x="1239.8" y="1321.5" font-size="18.2">Unenriched</text>
<rect x="1214" y="1327.8" width="19.3" height="19.8" fill="#f0a08e" />
<text x="1239.8" y="1341.3" font-size="18.2">P-body</text>
<text x="1418.3" y="1270.7" font-size="9.1">Wilcoxon Test, padj (BH)</text>
<text x="1418.3" y="1281.5" font-size="9.1">UE v Cyto: p&lt;2e-16</text>
<text x="1418.3" y="1292.3" font-size="9.1">UE v P-body: p=3.3e-13</text>
<text x="1418.3" y="1303.1" font-size="9.1">Cyto v P-body: p&lt;2e-16</text>
<text x="1369.5" y="1239.8" font-size="28.3" text-anchor="middle">Naive ES Cells</text>
<path d="M1243.9 1860.7L1243.9 1860.6 1245.4 1860.2 1246.9 1859.9 1248.4 1859.5 1249.9 1859.1 1251.4 1858.8 1252.9 1858.4 1254.4 1858.1 1255.9 1857.7 1257.4 1857.3 1258.9 1857 1260.4 1856.6 1261.9 1856.2 1263.4 1855.9 1264.9 1855.4 1266.4 1855 1267.9 1854.6 1269.4 1854.1 1270.9 1853.7 1272.4 1853.3 1273.9 1853 1275.4 1852.7 1276.9 1852.4 1278.4 1852.3 1279.9 1852.1 1281.4 1852 1282.9 1852 1284.4 1851.9 1285.9 1851.8 1287.4 1851.6 1288.9 1851.4 1290.4 1850.9 1291.9 1850.2 1293.4 1849.1 1294.9 1847.9 1296.4 1846.5 1297.9 1845.1 1299.4 1843.5 1300.9 1841.6 1302.4 1839.4 1303.9 1836.9 1305.4 1834.2 1306.9 1831.3 1308.4 1828.2 1309.9 1824.6 1311.4 1820.6 1312.9 1816.2 1314.4 1811 1315.9 1804.6 1317.4 1797.2 1318.9 1789.2 1320.4 1780.3 1321.9 1770.2 1323.4 1759.6 1324.9 1749.5 1326.4 1739.6 1327.9 1729.5 1329.4 1720.7 1330.9 1714.3 1332.4 1709.6 1333.9 1705.7 1335.4 1702.3 1336.9 1699.2 1338.4 1695.9 1339.9 1692.5 1341.4 1689.1 1342.9 1685.9 1344.4 1683.2 1345.9 1681 1347.4 1679.3 1348.9 1677.7 1350.4 1676.3 1351.9 1675.2 1353.4 1674.5 1354.9 1673.9 1356.4 1673.4 1357.9 1673 1359.4 1672.7 1360.9 1672.6 1362.4 1672.8 1363.9 1673.5 1365.4 1674.5 1366.9 1675.5 1368.4 1676.6 1369.9 1677.9 1371.4 1679.4 1372.9 1681 1374.4 1682.7 1375.9 1684.5 1377.4 1686.3 1378.9 1688.3 1380.4 1690.4 1381.9 1692.7 1383.4 1695.3 1384.9 1698.2 1386.4 1701.7 1387.9 1706.4 1389.4 1712.2 1390.9 1718.8 1392.4 1725.6 1393.9 1732.3 1395.4 1738.6 1396.9 1744.7 1398.4 1750.8 1399.9 1756.9 1401.4 1762.9 1402.9 1768.9 1404.4 1774.7 1405.9 1780.4 1407.4 1786.1 1408.9 1791.7 1410.4 1797.2 1411.9 1802.5 1413.4 1807.5 1414.9 1812.3 1416.4 1817.2 1417.9 1822 1419.4 1826.6 1420.9 1830.7 1422.4 1834.4 1423.9 1837.3 1425.4 1839.7 1426.9 1841.9 1428.4 1843.9 1429.9 1845.8 1431.4 1847.5 1432.9 1849 1434.4 1850.3 1435.9 1851.5 1437.4 1852.5 1438.9 1853.5 1440.4 1854.4 1441.9 1855.2 1443.4 1856 1444.9 1856.7 1446.4 1857.3 1447.9 1857.9 1449.4 1858.4 1450.9 1858.8 1452.4 1859 1453.9 1859.3 1455.4 1859.5 1456.9 1859.7 1458.4 1859.9 1459.9 1860.1 1461.4 1860.2 1462.9 1860.4 1464.4 1860.5L1464.4 1860.7Z" fill="#dbdbdb"/>
<path d="M1297.9 1860.7L1297.9 1860.5 1299.4 1859.9 1300.9 1859 1302.4 1857.9 1303.9 1856.5 1305.4 1855 1306.9 1853.3 1308.4 1851.6 1309.9 1849.3 1311.4 1846.5 1312.9 1843.2 1314.4 1839.6 1315.9 1835.8 1317.4 1831.3 1318.9 1826.2 1320.4 1820.6 1321.9 1814.8 1323.4 1808.9 1324.9 1802.5 1326.4 1795.7 1327.9 1788.7 1329.4 1781.7 1330.9 1774.9 1332.4 1768 1333.9 1760.9 1335.4 1754 1336.9 1747.4 1338.4 1741.3 1339.9 1735.5 1341.4 1730 1342.9 1724.8 1344.4 1719.8 1345.9 1715.1 1347.4 1710.7 1348.9 1706.5 1350.4 1702.5 1351.9 1698.6 1353.4 1694.5 1354.9 1690.1 1356.4 1685.4 1357.9 1680.9 1359.4 1676.8 1360.9 1673.7 1362.4 1671.4 1363.9 1669.1 1365.4 1667.2 1366.9 1665.9 1368.4 1665.5 1369.9 1666.7 1371.4 1669.3 1372.9 1672.5 1374.4 1675.5 1375.9 1678.2 1377.4 1681.1 1378.9 1684.1 1380.4 1687.3 1381.9 1690.5 1383.4 1693.8 1384.9 1697.2 1386.4 1700.8 1387.9 1704.5 1389.4 1708.3 1390.9 1712.2 1392.4 1716.3 1393.9 1720.7 1395.4 1725.6 1396.9 1730.7 1398.4 1735.8 1399.9 1740.8 1401.4 1745.7 1402.9 1750.6 1404.4 1755.8 1405.9 1761.4 1407.4 1767.7 1408.9 1774 1410.4 1779.7 1411.9 1784.8 1413.4 1789.8 1414.9 1794.2 1416.4 1797.5 1417.9 1799.7 1419.4 1801.5 1420.9 1803.3 1422.4 1805.6 1423.9 1808.8 1425.4 1812.5 1426.9 1816.3 1428.4 1820 1429.9 1824.2 1431.4 1828.4 1432.9 1832.4 1434.4 1835.7 1435.9 1838.1 1437.4 1840 1438.9 1841.8 1440.4 1843.3 1441.9 1844.6 1443.4 1845.8 1444.9 1846.8 1446.4 1847.7 1447.9 1848.5 1449.4 1849.4 1450.9 1850.1 1452.4 1850.7 1453.9 1851.2 1455.4 1851.4 1456.9 1851.4 1458.4 1851.4 1459.9 1851.3 1461.4 1851.2 1462.9 1851 1464.4 1850.9 1465.9 1850.7 1467.4 1850.5 1468.9 1850.3 1470.4 1849.9 1471.9 1849.6 1473.4 1849.5 1474.9 1849.9 1476.4 1850.7 1477.9 1851.7 1479.4 1852.6 1480.9 1853.5 1482.4 1854.5 1483.9 1855.6 1485.4 1856.5 1486.9 1857.3 1488.4 1858 1489.9 1858.6 1491.4 1859.2 1492.9 1859.8 1494.4 1860.3 1495.9 1860.7L1495.9 1860.7Z" fill="#8e9bd2"/>
<path d="M1281.4 1860.7L1281.4 1860.5 1282.9 1860.4 1284.4 1860.2 1285.9 1859.9 1287.4 1859.7 1288.9 1859.4 1290.4 1859.1 1291.9 1858.7 1293.4 1858.3 1294.9 1857.7 1296.4 1857.1 1297.9 1856.3 1299.4 1855.5 1300.9 1854.5 1302.4 1853.5 1303.9 1852.4 1305.4 1851.1 1306.9 1849.4 1308.4 1847.4 1309.9 1845.2 1311.4 1842.7 1312.9 1840.1 1314.4 1837.3 1315.9 1834 1317.4 1830.4 1318.9 1826.4 1320.4 1822.1 1321.9 1817.6 1323.4 1813 1324.9 1808 1326.4 1802.6 1327.9 1796.8 1329.4 1790.7 1330.9 1784.5 1332.4 1777.8 1333.9 1770.8 1335.4 1763.5 1336.9 1756 1338.4 1748.7 1339.9 1741.2 1341.4 1733.6 1342.9 1726 1344.4 1718.4 1345.9 1711.2 1347.4 1704.3 1348.9 1697.7 1350.4 1691.2 1351.9 1684.5 1353.4 1677.5 1354.9 1669.5 1356.4 1661 1357.9 1652.8 1359.4 1645.7 1360.9 1639 1362.4 1632.8 1363.9 1627.9 1365.4 1625.1 1366.9 1623 1368.4 1621.6 1369.9 1621.2 1371.4 1622.9 1372.9 1626.2 1374.4 1629.8 1375.9 1633.8 1377.4 1638.7 1378.9 1644.2 1380.4 1650.1 1381.9 1656.9 1383.4 1664.5 1384.9 1672.5 1386.4 1680.8 1387.9 1689.7 1389.4 1698.9 1390.9 1708.1 1392.4 1716.9 1393.9 1725.6 1395.4 1734.1 1396.9 1742.3 1398.4 1750.2 1399.9 1757.8 1401.4 1765.2 1402.9 1772.4 1404.4 1779.7 1405.9 1786.8 1407.4 1793.7 1408.9 1800.3 1410.4 1806.8 1411.9 1813.1 1413.4 1818.9 1414.9 1823.7 1416.4 1828.2 1417.9 1832.4 1419.4 1836.1 1420.9 1839.2 1422.4 1841.6 1423.9 1843.7 1425.4 1845.5 1426.9 1847.2 1428.4 1848.7 1429.9 1850 1431.4 1851.2 1432.9 1852.1 1434.4 1853 1435.9 1853.7 1437.4 1854.4 1438.9 1855.1 1440.4 1855.7 1441.9 1856.3 1443.4 1856.8 1444.9 1857.2 1446.4 1857.6 1447.9 1858 1449.4 1858.2 1450.9 1858.5 1452.4 1858.8 1453.9 1859 1455.4 1859.3 1456.9 1859.5 1458.4 1859.7 1459.9 1859.9 1461.4 1860.1 1462.9 1860.3 1464.4 1860.4L1464.4 1860.7Z" fill="#e7918f"/>
<path d="M1297.9 1860.7L1297.9 1860.5 1299.4 1859.9 1300.9 1859 1302.4 1857.9 1303.9 1856.5 1305.4 1855 1306.9 1853.3 1308.4 1851.6 1309.9 1849.3 1311.4 1846.5 1312.9 1843.2 1314.4 1839.6 1315.9 1835.8 1317.4 1831.3 1318.9 1826.4 1320.4 1822.1 1321.9 1817.6 1323.4 1813 1324.9 1808 1326.4 1802.6 1327.9 1796.8 1329.4 1790.7 1330.9 1784.5 1332.4 1777.8 1333.9 1770.8 1335.4 1763.5 1336.9 1756 1338.4 1748.7 1339.9 1741.2 1341.4 1733.6 1342.9 1726 1344.4 1719.8 1345.9 1715.1 1347.4 1710.7 1348.9 1706.5 1350.4 1702.5 1351.9 1698.6 1353.4 1694.5 1354.9 1690.1 1356.4 1685.4 1357.9 1680.9 1359.4 1676.8 1360.9 1673.7 1362.4 1671.4 1363.9 1669.1 1365.4 1667.2 1366.9 1665.9 1368.4 1665.5 1369.9 1666.7 1371.4 1669.3 1372.9 1672.5 1374.4 1675.5 1375.9 1678.2 1377.4 1681.1 1378.9 1684.1 1380.4 1687.3 1381.9 1690.5 1383.4 1693.8 1384.9 1697.2 1386.4 1700.8 1387.9 1704.5 1389.4 1708.3 1390.9 1712.2 1392.4 1716.9 1393.9 1725.6 1395.4 1734.1 1396.9 1742.3 1398.4 1750.2 1399.9 1757.8 1401.4 1765.2 1402.9 1772.4 1404.4 1779.7 1405.9 1786.8 1407.4 1793.7 1408.9 1800.3 1410.4 1806.8 1411.9 1813.1 1413.4 1818.9 1414.9 1823.7 1416.4 1828.2 1417.9 1832.4 1419.4 1836.1 1420.9 1839.2 1422.4 1841.6 1423.9 1843.7 1425.4 1845.5 1426.9 1847.2 1428.4 1848.7 1429.9 1850 1431.4 1851.2 1432.9 1852.1 1434.4 1853 1435.9 1853.7 1437.4 1854.4 1438.9 1855.1 1440.4 1855.7 1441.9 1856.3 1443.4 1856.8 1444.9 1857.2 1446.4 1857.6 1447.9 1858 1449.4 1858.2 1450.9 1858.5 1452.4 1858.8 1453.9 1859 1455.4 1859.3 1456.9 1859.5 1458.4 1859.7 1459.9 1859.9 1461.4 1860.1 1462.9 1860.3 1464.4 1860.4L1464.4 1860.7Z" fill="#c47a89"/>
<rect x="1208.4" y="1608.5" width="314.7" height="252.7" fill="none" stroke="#000" stroke-width="2.2" />
<line x1="1204.4" y1="1860.7" x2="1208.4" y2="1860.7" stroke="#000" stroke-width="2.5" />
<text x="1202.4" y="1868.7" font-size="22.5" text-anchor="end">0.0</text>
<line x1="1204.4" y1="1801.5" x2="1208.4" y2="1801.5" stroke="#000" stroke-width="2.5" />
<text x="1202.4" y="1809.5" font-size="22.5" text-anchor="end">0.2</text>
<line x1="1204.4" y1="1742.2" x2="1208.4" y2="1742.2" stroke="#000" stroke-width="2.5" />
<text x="1202.4" y="1750.2" font-size="22.5" text-anchor="end">0.4</text>
<line x1="1204.4" y1="1683" x2="1208.4" y2="1683" stroke="#000" stroke-width="2.5" />
<text x="1202.4" y="1691" font-size="22.5" text-anchor="end">0.6</text>
<line x1="1204.4" y1="1623.7" x2="1208.4" y2="1623.7" stroke="#000" stroke-width="2.5" />
<text x="1202.4" y="1631.7" font-size="22.5" text-anchor="end">0.8</text>
<line x1="1267.6" y1="1861.2" x2="1267.6" y2="1865.2" stroke="#000" stroke-width="2.5" />
<text x="1267.6" y="1885.2" font-size="22.5" text-anchor="middle">1e−01</text>
<line x1="1367.3" y1="1861.2" x2="1367.3" y2="1865.2" stroke="#000" stroke-width="2.5" />
<text x="1367.3" y="1885.2" font-size="22.5" text-anchor="middle">1e+01</text>
<line x1="1469" y1="1861.2" x2="1469" y2="1865.2" stroke="#000" stroke-width="2.5" />
<text x="1469" y="1885.2" font-size="22.5" text-anchor="middle">1e+03</text>
<text x="1363.8" y="1907.2" font-size="22.8" text-anchor="middle">RPKM (log10)</text>
<text transform="translate(1151.4 1739.8) rotate(-90)" font-size="22.8" text-anchor="middle">Density</text>
<text x="1223" y="1632.2" font-size="17.8">Fraction</text>
<rect x="1223" y="1640.5" width="19.3" height="19.8" fill="#8f93d6" />
<text x="1248.8" y="1654" font-size="18.2">Cyto</text>
<rect x="1223" y="1660.3" width="19.3" height="19.8" fill="#dedede" />
<text x="1248.8" y="1673.8" font-size="18.2">Unenriched</text>
<rect x="1223" y="1680.1" width="19.3" height="19.8" fill="#f0a08e" />
<text x="1248.8" y="1693.6" font-size="18.2">P-body</text>
<text x="1419.6" y="1621.1" font-size="9.1">Wilcoxon Test, padj (BH)</text>
<text x="1419.6" y="1631.9" font-size="9.1">UE v Cyto: p&lt;2e-16</text>
<text x="1419.6" y="1642.7" font-size="9.1">UE v P-body: p&lt;2e-16</text>
<text x="1419.6" y="1653.5" font-size="9.1">Cyto v P-body: p=4.4e-13</text>
<text x="1370.8" y="1598" font-size="28.3" text-anchor="middle">Primed ES Cells</text>
<text x="1607.5" y="1225.8" font-size="41" font-weight="bold">h</text>
<text x="1683.4" y="1273.4" font-size="21" text-anchor="middle">Naive</text>
<text x="1683.6" y="1299.5" font-size="21" text-anchor="middle">ES Cells</text>
<text x="1767.3" y="1273.4" font-size="21" text-anchor="middle">Primed</text>
<text x="1767.7" y="1299.5" font-size="21" text-anchor="middle">ES Cells</text>
<text x="1851.1" y="1271" font-size="21" text-anchor="middle">Meso</text>
<text x="1854.3" y="1299.5" font-size="21" text-anchor="middle">Prog.</text>
<text x="1931" y="1273.4" font-size="21" text-anchor="middle">Endo</text>
<text x="1933.5" y="1299.5" font-size="21" text-anchor="middle">Prog.</text>
<text x="2012" y="1273.4" font-size="21" text-anchor="middle">Neural</text>
<text x="2015.2" y="1299.5" font-size="21" text-anchor="middle">Prog.</text>
<text x="2100" y="1273.4" font-size="21" text-anchor="middle">Neurons</text>
<rect x="1654.4" y="1306.3" width="31.2" height="22.4" fill="#e8262a" />
<rect x="1654.4" y="1328.7" width="31.2" height="75.4" fill="#4a88c3" />
<rect x="1654.4" y="1404.1" width="31.2" height="16.3" fill="#5cbf55" />
<rect x="1654.4" y="1420.4" width="31.2" height="42.1" fill="#9350a6" />
<rect x="1654.4" y="1462.5" width="31.2" height="5.1" fill="#f08a2a" />
<rect x="1654.4" y="1467.6" width="31.2" height="30.9" fill="#2b7a42" />
<rect x="1654.4" y="1498.5" width="31.2" height="73.5" fill="#9c2567" />
<rect x="1654.4" y="1572" width="31.2" height="74.5" fill="#717172" />
<rect x="1689" y="1306.3" width="31.6" height="24.1" fill="#e8262a" />
<rect x="1689" y="1330.4" width="31.6" height="98.2" fill="#4a88c3" />
<rect x="1689" y="1428.6" width="31.6" height="15.6" fill="#5cbf55" />
<rect x="1689" y="1444.2" width="31.6" height="36.3" fill="#9350a6" />
<rect x="1689" y="1480.5" width="31.6" height="3.7" fill="#f08a2a" />
<rect x="1689" y="1484.2" width="31.6" height="17.7" fill="#2b7a42" />
<rect x="1689" y="1501.9" width="31.6" height="73.8" fill="#9c2567" />
<rect x="1689" y="1575.7" width="31.6" height="70.8" fill="#717172" />
<rect x="1736.6" y="1306.3" width="31.2" height="22.1" fill="#e8262a" />
<rect x="1736.6" y="1328.4" width="31.2" height="84.5" fill="#4a88c3" />
<rect x="1736.6" y="1412.9" width="31.2" height="17.4" fill="#5cbf55" />
<rect x="1736.6" y="1430.3" width="31.2" height="32.2" fill="#9350a6" />
<rect x="1736.6" y="1462.5" width="31.2" height="2.7" fill="#f08a2a" />
<rect x="1736.6" y="1465.2" width="31.2" height="31.3" fill="#2b7a42" />
<rect x="1736.6" y="1496.5" width="31.2" height="69" fill="#9c2567" />
<rect x="1736.6" y="1565.5" width="31.2" height="81" fill="#717172" />
<rect x="1771.2" y="1306.3" width="31.6" height="25.8" fill="#e8262a" />
<rect x="1771.2" y="1332.1" width="31.6" height="100.2" fill="#4a88c3" />
<rect x="1771.2" y="1432.3" width="31.6" height="17.7" fill="#5cbf55" />
<rect x="1771.2" y="1450" width="31.6" height="32.2" fill="#9350a6" />
<rect x="1771.2" y="1482.2" width="31.6" height="2.4" fill="#f08a2a" />
<rect x="1771.2" y="1484.6" width="31.6" height="12.9" fill="#2b7a42" />
<rect x="1771.2" y="1497.5" width="31.6" height="80.6" fill="#9c2567" />
<rect x="1771.2" y="1578.1" width="31.6" height="68.4" fill="#717172" />
<rect x="1818" y="1306.3" width="31.3" height="22.4" fill="#e8262a" />
<rect x="1818" y="1328.7" width="31.3" height="94.8" fill="#4a88c3" />
<rect x="1818" y="1423.5" width="31.3" height="10.5" fill="#5cbf55" />
<rect x="1818" y="1434" width="31.3" height="50.6" fill="#9350a6" />
<rect x="1818" y="1484.6" width="31.3" height="2.7" fill="#f08a2a" />
<rect x="1818" y="1487.3" width="31.3" height="21.4" fill="#2b7a42" />
<rect x="1818" y="1508.7" width="31.3" height="46.3" fill="#9c2567" />
<rect x="1818" y="1555" width="31.3" height="91.5" fill="#717172" />
<rect x="1852.7" y="1306.3" width="31.6" height="23.4" fill="#e8262a" />
<rect x="1852.7" y="1329.7" width="31.6" height="102.3" fill="#4a88c3" />
<rect x="1852.7" y="1432" width="31.6" height="10.5" fill="#5cbf55" />
<rect x="1852.7" y="1442.5" width="31.6" height="39" fill="#9350a6" />
<rect x="1852.7" y="1481.5" width="31.6" height="2.4" fill="#f08a2a" />
<rect x="1852.7" y="1483.9" width="31.6" height="19.4" fill="#2b7a42" />
<rect x="1852.7" y="1503.3" width="31.6" height="48.7" fill="#9c2567" />
<rect x="1852.7" y="1552" width="31.6" height="94.5" fill="#717172" />
<rect x="1900.2" y="1306.3" width="30.9" height="19.7" fill="#e8262a" />
<rect x="1900.2" y="1326" width="30.9" height="70" fill="#4a88c3" />
<rect x="1900.2" y="1396" width="30.9" height="15.6" fill="#5cbf55" />
<rect x="1900.2" y="1411.6" width="30.9" height="30.5" fill="#9350a6" />
<rect x="1900.2" y="1442.1" width="30.9" height="2.8" fill="#f08a2a" />
<rect x="1900.2" y="1444.9" width="30.9" height="38" fill="#2b7a42" />
<rect x="1900.2" y="1482.9" width="30.9" height="68.7" fill="#9c2567" />
<rect x="1900.2" y="1551.6" width="30.9" height="94.9" fill="#717172" />
<rect x="1934.5" y="1306.3" width="31.3" height="19" fill="#e8262a" />
<rect x="1934.5" y="1325.3" width="31.3" height="62.9" fill="#4a88c3" />
<rect x="1934.5" y="1388.2" width="31.3" height="18.6" fill="#5cbf55" />
<rect x="1934.5" y="1406.8" width="31.3" height="25.8" fill="#9350a6" />
<rect x="1934.5" y="1432.6" width="31.3" height="3.1" fill="#f08a2a" />
<rect x="1934.5" y="1435.7" width="31.3" height="52.6" fill="#2b7a42" />
<rect x="1934.5" y="1488.3" width="31.3" height="82" fill="#9c2567" />
<rect x="1934.5" y="1570.3" width="31.3" height="76.2" fill="#717172" />
<rect x="1981" y="1306.3" width="31.3" height="21.4" fill="#e8262a" />
<rect x="1981" y="1327.7" width="31.3" height="54.3" fill="#4a88c3" />
<rect x="1981" y="1382" width="31.3" height="26.2" fill="#5cbf55" />
<rect x="1981" y="1408.2" width="31.3" height="21.4" fill="#9350a6" />
<rect x="1981" y="1429.6" width="31.3" height="2.3" fill="#f08a2a" />
<rect x="1981" y="1431.9" width="31.3" height="24.2" fill="#2b7a42" />
<rect x="1981" y="1456.1" width="31.3" height="114.5" fill="#9c2567" />
<rect x="1981" y="1570.6" width="31.3" height="75.9" fill="#717172" />
<rect x="2015.7" y="1306.3" width="30.9" height="22.4" fill="#e8262a" />
<rect x="2015.7" y="1328.7" width="30.9" height="55" fill="#4a88c3" />
<rect x="2015.7" y="1383.7" width="30.9" height="30.6" fill="#5cbf55" />
<rect x="2015.7" y="1414.3" width="30.9" height="19" fill="#9350a6" />
<rect x="2015.7" y="1433.3" width="30.9" height="2.4" fill="#f08a2a" />
<rect x="2015.7" y="1435.7" width="30.9" height="9.8" fill="#2b7a42" />
<rect x="2015.7" y="1445.5" width="30.9" height="136" fill="#9c2567" />
<rect x="2015.7" y="1581.5" width="30.9" height="65" fill="#717172" />
<rect x="2063.2" y="1306.3" width="31.6" height="22.1" fill="#e8262a" />
<rect x="2063.2" y="1328.4" width="31.6" height="54" fill="#4a88c3" />
<rect x="2063.2" y="1382.4" width="31.6" height="22.7" fill="#5cbf55" />
<rect x="2063.2" y="1405.1" width="31.6" height="25.2" fill="#9350a6" />
<rect x="2063.2" y="1430.3" width="31.6" height="2.3" fill="#f08a2a" />
<rect x="2063.2" y="1432.6" width="31.6" height="23.1" fill="#2b7a42" />
<rect x="2063.2" y="1455.7" width="31.6" height="105.4" fill="#9c2567" />
<rect x="2063.2" y="1561.1" width="31.6" height="85.4" fill="#717172" />
<rect x="2098.2" y="1306.3" width="31.6" height="20.1" fill="#e8262a" />
<rect x="2098.2" y="1326.4" width="31.6" height="44.4" fill="#4a88c3" />
<rect x="2098.2" y="1370.8" width="31.6" height="27.5" fill="#5cbf55" />
<rect x="2098.2" y="1398.3" width="31.6" height="18.7" fill="#9350a6" />
<rect x="2098.2" y="1417" width="31.6" height="2.4" fill="#f08a2a" />
<rect x="2098.2" y="1419.4" width="31.6" height="35.6" fill="#2b7a42" />
<rect x="2098.2" y="1455" width="31.6" height="128.2" fill="#9c2567" />
<rect x="2098.2" y="1583.2" width="31.6" height="63.3" fill="#717172" />
<line x1="1649" y1="1303.3" x2="1649" y2="1647.5" stroke="#000" stroke-width="2" />
<line x1="1647.6" y1="1646.5" x2="2129.8" y2="1646.5" stroke="#000" stroke-width="2" />
<line x1="1645.5" y1="1646.5" x2="1649" y2="1646.5" stroke="#000" stroke-width="1.5" />
<text x="1643.5" y="1654.3" font-size="21.8" text-anchor="end">0.00</text>
<line x1="1645.5" y1="1561.5" x2="1649" y2="1561.5" stroke="#000" stroke-width="1.5" />
<text x="1643.5" y="1569.2" font-size="21.8" text-anchor="end">0.25</text>
<line x1="1645.5" y1="1476.4" x2="1649" y2="1476.4" stroke="#000" stroke-width="1.5" />
<text x="1643.5" y="1484.2" font-size="21.8" text-anchor="end">0.50</text>
<line x1="1645.5" y1="1391.3" x2="1649" y2="1391.3" stroke="#000" stroke-width="1.5" />
<text x="1643.5" y="1399.1" font-size="21.8" text-anchor="end">0.75</text>
<line x1="1645.5" y1="1306.3" x2="1649" y2="1306.3" stroke="#000" stroke-width="1.5" />
<text x="1643.5" y="1314.1" font-size="21.8" text-anchor="end">1.00</text>
<text transform="translate(1590.6 1476) rotate(-90)" font-size="21.4" text-anchor="middle">Distribution</text>
<text transform="translate(1676 1661.5) rotate(-45)" font-size="21.2" text-anchor="end">Cytoplasm</text>
<text transform="translate(1710.8 1661.5) rotate(-45)" font-size="21.2" text-anchor="end">P-bodies</text>
<text transform="translate(1758.2 1661.5) rotate(-45)" font-size="21.2" text-anchor="end">Cytoplasm</text>
<text transform="translate(1793 1661.5) rotate(-45)" font-size="21.2" text-anchor="end">P-bodies</text>
<text transform="translate(1839.7 1661.5) rotate(-45)" font-size="21.2" text-anchor="end">Cytoplasm</text>
<text transform="translate(1874.5 1661.5) rotate(-45)" font-size="21.2" text-anchor="end">P-bodies</text>
<text transform="translate(1921.7 1661.5) rotate(-45)" font-size="21.2" text-anchor="end">Cytoplasm</text>
<text transform="translate(1956.2 1661.5) rotate(-45)" font-size="21.2" text-anchor="end">P-bodies</text>
<text transform="translate(2002.7 1661.5) rotate(-45)" font-size="21.2" text-anchor="end">Cytoplasm</text>
<text transform="translate(2037.2 1661.5) rotate(-45)" font-size="21.2" text-anchor="end">P-bodies</text>
<text transform="translate(2085 1661.5) rotate(-45)" font-size="21.2" text-anchor="end">Cytoplasm</text>
<text transform="translate(2120 1661.5) rotate(-45)" font-size="21.2" text-anchor="end">P-bodies</text>
<rect x="1636.4" y="1741.8" width="13.5" height="13.5" fill="#e8262a" />
<text x="1655.8" y="1755.3" font-size="19.2">DNA</text>
<rect x="1636.4" y="1759.8" width="13.5" height="13.5" fill="#4a88c3" />
<text x="1655.8" y="1773.3" font-size="19.2">LINE</text>
<rect x="1636.4" y="1777.8" width="13.5" height="13.5" fill="#5cbf55" />
<text x="1655.8" y="1791.3" font-size="19.2">Low complexity</text>
<rect x="1796" y="1739.5" width="13.5" height="13.5" fill="#9350a6" />
<text x="1814.7" y="1753" font-size="19.2">LTR</text>
<rect x="1796" y="1758.1" width="13.5" height="13.5" fill="#f08a2a" />
<text x="1814.7" y="1771.6" font-size="19.2">other</text>
<rect x="1796" y="1776.1" width="13.5" height="13.5" fill="#2b7a42" />
<text x="1814.7" y="1789.6" font-size="19.2">rRNA</text>
<rect x="1874" y="1738.5" width="13.5" height="13.5" fill="#a0522d" />
<text x="1892.8" y="1752" font-size="19.2">Satellite</text>
<rect x="1874" y="1757.1" width="13.5" height="13.5" fill="#9c2567" />
<text x="1892.8" y="1770.6" font-size="19.2">Simple repeat</text>
<rect x="1874" y="1777.8" width="13.5" height="13.5" fill="#999999" />
<text x="1892.8" y="1791.3" font-size="19.2">SINE</text>
<text x="50.2" y="1958.6" font-size="41" font-weight="bold">i</text>
<path d="M329.8 2016.6L351.7 2041.3M349.3 2016.6L367.6 2049.3M283.7 2030.8L319.8 2070.9M315.1 2030.8L336.4 2055.5M342.7 2030.8L351.6 2041.3M236.6 2045.7L290.3 2100.5M268.2 2045.7L305.6 2085.1M298.1 2045.7L320.9 2069.9M331.1 2045.7L337.6 2054.4M224.4 2060.4L277.3 2113.5M250.7 2060.4L290.3 2100.5M283.7 2060.4L306.8 2084M202.7 2075.3L258.4 2132.3M234 2075.3L273.8 2117M277.6 2075.3L296.1 2094.6M366.6 2077.1L358 2066.3M218.5 2090L259.6 2131.2M250.7 2090L275 2115.8M365.3 2087.7L339.2 2061M362.7 2102.6L342.8 2080.5M186.8 2099L238.4 2152.4M236.2 2105L260.8 2130M168.2 2114L221.9 2168.9M204.5 2114L240.7 2150M245.8 2119.9L257.3 2133.4M153.3 2128.7L207.7 2183.1M195 2128.7L227.8 2163M222.3 2128.7L241.9 2148.9M165.6 2143.3L206.5 2184.2M284.2 2154.4L276.7 2145.3M188.1 2158.3L210.1 2180.7M268.7 2169.4L261.4 2160.6M229.6 2211.9L220.2 2201.8" stroke="#c4c4c4" stroke-width="1.3" fill="none"/>
<path d="M135 2280h0m1 1h0m2-24h0m1 32h0m1 1h0m1-14h0m2-6h0m1-22h0m0 3h0m1 7h0m0 27h0m0-17h0m0-4h0m1-13h0m0-3h0m1 33h0m1-24h0m0 32h0m0-33h0m0 0h0m0 14h0m0 13h0m0-17h0m1-7h0m0-2h0m0-5h0m1 20h0m0-10h0m0-7h0m0-1h0m0 2h0m1 8h0m0 1h0m0-25h0m1 26h0m0-11h0m0 2h0m0 26h0m1-26h0m0-13h0m0 1h0m0 14h0m0-9h0m1 7h0m0 3h0m0 5h0m0 23h0m0-32h0m0 9h0m0 2h0m0-20h0m0 17h0m1-3h0m0-9h0m0 11h0m0-6h0m0-2h0m0-5h0m0 9h0m0-8h0m0 35h0m1-62h0m0 33h0m0 8h0m0-24h0m0 27h0m0-8h0m0 10h0m0 7h0m0-17h0m1-5h0m0 5h0m0-21h0m0 35h0m1-20h0m0 15h0m0-31h0m0 21h0m1-11h0m0-18h0m0 21h0m0-11h0m1 21h0m0-11h0m0-14h0m0 18h0m0 17h0m1-10h0m0-7h0m0 8h0m0-27h0m0 8h0m0 3h0m1-12h0m0 19h0m0-12h0m0 24h0m0-13h0m1 9h0m0-11h0m0-2h0m0-19h0m0 27h0m0-14h0m0 24h0m1-25h0m0 4h0m0 6h0m0-12h0m0 20h0m0-20h0m0-7h0m1 17h0m0 2h0m0-4h0m0-11h0m1 5h0m0-2h0m0 5h0m0 17h0m0-26h0m0 2h0m0 15h0m0-10h0m1 0h0m0 13h0m0-8h0m0-1h0m1 20h0m0-32h0m0 1h0m0-11h0m0 6h0m1 11h0m0-6h0m0 13h0m0-25h0m0 12h0m0 16h0m0-9h0m0 11h0m0-12h0m0 7h0m1-25h0m0 12h0m0 7h0m0 11h0m0-5h0m1-28h0m0 10h0m0 13h0m0-5h0m0 18h0m0-28h0m0-4h0m0 18h0m0 10h0m0-23h0m0 5h0m1 3h0m0-12h0m0 3h0m0 0h0m1-17h0m0 21h0m0 13h0m0 1h0m1 3h0m0-10h0m0 0h0m0-17h0m0 17h0m0 4h0m0-1h0m1-3h0m0-16h0m0 12h0m0 3h0m1-13h0m0-3h0m0 16h0m0 0h0m0-5h0m0 20h0m0-29h0m0 14h0m1-1h0m0-12h0m0 16h0m0-9h0m0 5h0m0-1h0m0-7h0m0-11h0m1 24h0m0-1h0m0-32h0m0 24h0m0 0h0m0-24h0m0 11h0m1 17h0m0-11h0m0 13h0m0-7h0m0-16h0m0 16h0m0-24h0m1 25h0m0-13h0m0 6h0m0 10h0m1-6h0m0 4h0m0-9h0m0-5h0m1-1h0m0-2h0m0 9h0m0-8h0m0 11h0m0 0h0m1-15h0m0 11h0m0-19h0m0 11h0m0 5h0m0 4h0m1 8h0m0 3h0m0-26h0m0-10h0m0 26h0m1 5h0m0-3h0m0-13h0m0 13h0m1-4h0m0-15h0m0 8h0m0-12h0m0 16h0m1-22h0m0 16h0m0 10h0m0-16h0m0 15h0m0-19h0m0 21h0m0-17h0m1 18h0m0 2h0m0-18h0m0 4h0m0 4h0m0 2h0m1-6h0m0 7h0m0-20h0m0 15h0m0 2h0m0 1h0m0-25h0m0 34h0m0-3h0m0-16h0m1 1h0m0-4h0m0 1h0m0 9h0m0-14h0m0 9h0m0 25h0m1-24h0m0 16h0m0-7h0m0-27h0m0 27h0m1-7h0m0 12h0m0-19h0m0-12h0m1 13h0m0 7h0m0-2h0m1-15h0m0 11h0m0-8h0m0 7h0m0 1h0m1 9h0m0-14h0m0 2h0m0 11h0m0-7h0m0 15h0m0-19h0m0 1h0m0-8h0m0 5h0m1 13h0m0 1h0m0-15h0m0 16h0m0-11h0m0 13h0m0-13h0m1-2h0m0 1h0m0 15h0m0-14h0m1-2h0m0 15h0m0-19h0m0 14h0m0-12h0m0-3h0m0-11h0m1 14h0m0 8h0m0-9h0m0-6h0m0-5h0m0 25h0m0-11h0m0-1h0m0 14h0m0-17h0m1 8h0m0-6h0m0-3h0m0-16h0m0 22h0m0-3h0m2-13h0m0 2h0m0 13h0m0-8h0m1 15h0m0-6h0m0-1h0m0-10h0m0 8h0m1-8h0m0 12h0m0 10h0m0-20h0m1-3h0m0-1h0m0 13h0m1-16h0m0 1h0m0 0h0m0 4h0m0-7h0m0-14h0m1 27h0m0-4h0m1-7h0m1-3h0m0 10h0m0-8h0m0 5h0m1 1h0m0-11h0m0 14h0m0-11h0m1 12h0m0-18h0m0 12h0m0-8h0m1 13h0m0-6h0m0-1h0m0 2h0m1 3h0m0-4h0m0-16h0m0 20h0m1 2h0m0-18h0m0 18h0m0-8h0m1-1h0m0-3h0m0-6h0m0-10h0m0 16h0m1 11h0m0-4h0m0-13h0m0 6h0m0-4h0m1 2h0m0 6h0m0-9h0m0 1h0m0 22h0m0-26h0m1 2h0m1-3h0m0 14h0m0-10h0m0 4h0m0-11h0m0 6h0m0-4h0m0 8h0m0-6h0m1-2h0m0 8h0m0-9h0m0 8h0m1 5h0m0 8h0m1-25h0m0 16h0m0-6h0m0 3h0m0-7h0m0 12h0m1-2h0m0-5h0m0-1h0m1-9h0m0 8h0m0 0h0m0-3h0m0 9h0m0-3h0m1-5h0m0 3h0m0-13h0m0 19h0m1-3h0m0-5h0m0 6h0m0-10h0m2 2h0m0 0h0m1 4h0m0-14h0m0 9h0m0-1h0m0 6h0m0-1h0m1 8h0m1-15h0m0-2h0m0 10h0m0-1h0m0-5h0m0-2h0m0 1h0m0 0h0m0 6h0m0-1h0m0-3h0m1-13h0m0 1h0m0 3h0m0 4h0m0 6h0m1-9h0m0 15h0m1-13h0m0 8h0m1-17h0m0 6h0m0-3h0m0-3h0m0 4h0m1 5h0m0 2h0m0-3h0m1-1h0m0-1h0m0-3h0m1-2h0m0 1h0m0-8h0m0 16h0m1-1h0m0-2h0m0-6h0m0-2h0m0 2h0m0-6h0m0 22h0m0-7h0m0-4h0m0-8h0m1-5h0m0 11h0m1-7h0m0 10h0m1-4h0m1 1h0m1-2h0m0-3h0m0-15h0m0 13h0m0 11h0m1-6h0m0-6h0m0 7h0m0-4h0m0 3h0m1-18h0m1 9h0m1-7h0m0 7h0m0 5h0m1-8h0m0-8h0m1 14h0m0-4h0m1 2h0m0 0h0m1-11h0m0 2h0m0-2h0m1 2h0m2 8h0m0-2h0m1-9h0m0 12h0m0-11h0m1-2h0m0 5h0m1-3h0m1 1h0m0 1h0m1-4h0m0 1h0m1-1h0m0-6h0m1 1h0m0-4h0m0 12h0m1-5h0m0-9h0m1 18h0m0-4h0m0 4h0m3-11h0m0-8h0m0 1h0m0 6h0m1 3h0m1 1h0m0-5h0m4-4h0m0 3h0m0 4h0m0-12h0m1 0h0m1-5h0m0 9h0m0-9h0m0 7h0m1 0h0m0-6h0m1 1h0m0 3h0m0 0h0m1 3h0m1-8h0m0 1h0m1-8h0m1 2h0m1 10h0m0-12h0m1 7h0m0-3h0m0 13h0m2-16h0m0 2h0m0-1h0m0 4h0m0 4h0m1-20h0m2 12h0m0-2h0m0-6h0m0 6h0m2-4h0m1-2h0m0 7h0m0-4h0m0 0h0m2 0h0m0-4h0m0-1h0m2 1h0m0 0h0m0-5h0m1 4h0m0-11h0m1 5h0m0 3h0m1 3h0m0-3h0m0 5h0m1 1h0m0-6h0m0 1h0m1-1h0m0-5h0m1-1h0m0 4h0m0 1h0m0 3h0m0-6h0m2 3h0m2-4h0m0-5h0m0 3h0m0 1h0m1-2h0m1 5h0m0-6h0m3 0h0m0-1h0m0 4h0m1-7h0m0-4h0m0-2h0m2-2h0m0 5h0m0-2h0m1 7h0m0-13h0m0 10h0m1 3h0m0 0h0m1-3h0m0 2h0m1-7h0m0 6h0m1-6h0m0 2h0m0 0h0m2-5h0m0-1h0m1 2h0m0 0h0m0-6h0m1 6h0m2-4h0m1 1h0m1-7h0m1 1h0m1 0h0m0-2h0m0 7h0m0-5h0m0-3h0m1-1h0m1 6h0m1-3h0m0 3h0m3-8h0m0 0h0m1 7h0m0-7h0m0 1h0m0 4h0m0-3h0m0-4h0m1 7h0m1-7h0m1 2h0m1-2h0m2 1h0m0-5h0m0-1h0m0-1h0m0 0h0m0 6h0m4-7h0m0-2h0m0 1h0m0-5h0m2 6h0m1-4h0m1 4h0m1-6h0m0 2h0m1-3h0m1 0h0m1-1h0m0 0h0m0 3h0m1-3h0m1 0h0m2-4h0m0 6h0m0-2h0m0-2h0m1 4h0m0-3h0m1-2h0m0 0h0m1-4h0m0 3h0m1-8h0m0 6h0m0 2h0m1-7h0m0 6h0m0-6h0m3 4h0m0 2h0m1-4h0m1 0h0m1-1h0m1 0h0" stroke="#8a8a8a" stroke-width="4.6" stroke-linecap="round" fill="none" />
<path d="M147 2254h0m4-5h0m1 4h0m1-14h0m5 6h0m4-4h0m3-14h0m4-8h0m8 4h0m2-2h0m4-5h0m0-11h0m1 10h0m4-8h0m1 4h0m1-1h0m1-10h0m0 3h0m4 2h0m3-5h0m1 2h0m0-4h0m1 2h0m2-12h0m1 6h0m1-17h0m0 1h0m1 13h0m1 3h0m1-4h0m2 1h0m1-3h0m1-9h0m0 7h0m0 0h0m2-1h0m1 1h0m0-13h0m2 1h0m1 5h0m2 1h0m0 1h0m0 0h0m1-1h0m1-6h0m1 2h0m0 0h0m1-4h0m2-17h0m2 17h0m0 0h0m0-14h0m1 13h0m0 2h0m1-2h0m0-9h0m0 7h0m0-6h0m0 8h0m1-5h0m1 4h0m2-4h0m1-12h0m0 12h0m0 0h0m1-1h0m0-4h0m0-2h0m1 2h0m1 3h0m0-3h0m1 1h0m0-12h0m2 1h0m1 6h0m0 1h0m0-3h0m1 3h0m0-1h0m1 0h0m0-2h0m0-2h0m0-2h0m1 5h0m0-2h0m1 2h0m0-6h0m1 1h0m2-1h0m2-7h0m1 7h0m0-2h0m0 0h0m1-3h0m0 3h0m1-6h0m0 0h0m0-15h0m1 17h0m1 1h0m0-4h0m1 3h0m0 0h0m0-3h0m1-6h0m0 2h0m0 6h0m1-4h0m0 0h0m1 2h0m1-3h0m0 0h0m2-2h0m0-7h0m0 7h0m1-6h0m0 0h0m0 3h0m0 2h0m1-1h0m0 2h0m1-4h0m0-4h0m0 0h0m1 1h0m0 1h0m0-2h0m1 3h0m1-2h0m1-3h0m0 3h0m0-2h0m1 3h0m0 1h0m1-9h0m1 7h0m0-2h0m1 0h0m0-4h0m1 2h0m0-2h0m0 1h0m1-6h0m1 0h0m0 6h0m0-1h0m1-13h0m0 9h0m0 0h0m2-1h0m0-12h0m0 12h0m0-5h0m0 8h0m0-1h0m0-9h0m1 8h0m0-6h0m0 1h0m1 3h0m0 0h0m0-4h0m1-12h0m1 14h0m0-7h0m1 3h0m1 3h0m0-1h0m0 1h0m1-4h0m0-1h0m2 2h0m0-3h0m1 1h0m0 1h0m0-4h0m1-2h0m0 1h0m0-3h0m0 2h0m1-11h0m1 14h0m1-8h0m3-16h0m0 12h0m0 6h0m0 0h0m2-1h0m1-1h0m1-5h0m1 5h0m0-1h0m1-1h0m1 0h0m0-2h0m2-1h0m1-9h0m0 9h0m0-4h0m1-12h0m0 6h0m0 4h0m1-5h0m0 8h0m1-1h0m0 1h0m0-7h0m1 3h0m0 3h0m3-3h0m2-4h0m2 1h0m0-10h0m0-6h0m1 6h0m1 6h0m0-4h0m1-1h0m1 4h0m1-3h0m1-3h0m1-4h0m0 7h0m1-10h0m0 8h0m2-5h0m1 3h0m0-3h0m1-7h0m0 10h0m1 0h0m0-6h0m0 4h0m2-14h0m1 10h0m1 2h0m0-1h0m2-3h0m1-12h0m1 3h0m2 6h0m3-4h0m1 0h0m0 0h0m2-7h0m1-2h0m1 3h0m2 1h0m6-6h0m1-2h0m1-3h0m1 1h0" stroke="#9c1c1f" stroke-width="4.6" stroke-linecap="round" fill="none" />
<path d="M154 2269h0m6-11h0m21-16h0m9-19h0m4-2h0m1 28h0m1-33h0m1-1h0m5-3h0m3 0h0m2-2h0m0 1h0m2 18h0m2-22h0m6-4h0m3-6h0m4-3h0m8-12h0m0 4h0m9-14h0m1 4h0m1-6h0m1 13h0m0-12h0m5-7h0m2 4h0m3-2h0m1-8h0m2-1h0m2-4h0m1 3h0m1 1h0m0 10h0m1-16h0m0 2h0m0-2h0m0-1h0m1 0h0m1 3h0m1 1h0m2-1h0m1-1h0m0 1h0m2-6h0m2 3h0m0-10h0m4-3h0m0 16h0m1-10h0m1-6h0m2-4h0m2-2h0m1 3h0m0-4h0m3 1h0m2-6h0m1-1h0m0 5h0m1-6h0m3-2h0m1-1h0m1-2h0m0-1h0m1 2h0m2 1h0m1 3h0m3-9h0m1-4h0m0 19h0m4-23h0m3 13h0m2-14h0m1-3h0m1-3h0m0 1h0m1-2h0m1-1h0m3 1h0m2-2h0m5-8h0m0 5h0m1-4h0m0-2h0m0 5h0m1-5h0m0 2h0m1 3h0m1-8h0m1 7h0m1-4h0m4 1h0m1-11h0m0 5h0m0-1h0m3-4h0m0-1h0m2-1h0m0 0h0m1 0h0m1-1h0m2-6h0m9-2h0m0 7h0m0-13h0m2 2h0m7 5h0m2-17h0" stroke="#232b8e" stroke-width="4.6" stroke-linecap="round" fill="none" />
<text x="305.8" y="2019.6" font-size="8.3" fill="#a0303a">L1MEd</text>
<text x="350.3" y="2019.6" font-size="8.3" fill="#3c48a2">LSU−rRNA_Hsa</text>
<text x="259.7" y="2033.8" font-size="8.3" fill="#a0303a">L1PA6</text>
<text x="291.1" y="2033.8" font-size="8.3" fill="#a0303a">L1PB1</text>
<text x="323.3" y="2033.8" font-size="8.3" fill="#a0303a">L1HS</text>
<text x="342.6" y="2041.5" font-size="8.3" fill="#a0303a">L1PA3</text>
<text x="217.2" y="2048.7" font-size="8.3" fill="#a0303a">L1P2</text>
<text x="244.2" y="2048.7" font-size="8.3" fill="#a0303a">L1MD2</text>
<text x="278.7" y="2048.7" font-size="8.3" fill="#a0303a">L1M2</text>
<text x="307.1" y="2048.7" font-size="8.3" fill="#a0303a">L1PA4</text>
<text x="195.8" y="2063.4" font-size="8.3" fill="#a0303a">L1PA10</text>
<text x="231.3" y="2063.4" font-size="8.3" fill="#a0303a">L1M3</text>
<text x="259.7" y="2063.4" font-size="8.3" fill="#a0303a">L1MEc</text>
<text x="292.9" y="2063.4" font-size="8.3" fill="#a0303a">L1PA5</text>
<text x="314.8" y="2063.4" font-size="8.3" fill="#a0303a">L1PA7</text>
<text x="348.3" y="2058.2" font-size="8.3" fill="#3c48a2">SSU−rRNA_Hsa</text>
<text x="174.1" y="2078.3" font-size="8.3" fill="#a0303a">HSMAR1</text>
<text x="214.6" y="2078.3" font-size="8.3" fill="#a0303a">L1M1</text>
<text x="239.8" y="2078.3" font-size="8.3" fill="#a0303a">Charlie6</text>
<text x="274.6" y="2078.3" font-size="8.3" fill="#a0303a">HAL1ME</text>
<text x="367.6" y="2080.1" font-size="8.3" fill="#3c48a2">HERVK−int</text>
<text x="194.5" y="2093" font-size="8.3" fill="#a0303a">L1M3a</text>
<text x="226.7" y="2093" font-size="8.3" fill="#a0303a">L1PB2</text>
<text x="257.6" y="2093" font-size="8.3" fill="#a0303a">L1PREC2</text>
<text x="336.7" y="2090.7" font-size="8.3" fill="#a0303a">L1PA15</text>
<text x="363.7" y="2105.6" font-size="8.3" fill="#3c48a2">SVA_D</text>
<text x="167.4" y="2102" font-size="8.3" fill="#a0303a">L1P1</text>
<text x="207.6" y="2108" font-size="8.3" fill="#a0303a">L1PA17</text>
<text x="254.5" y="2108" font-size="8.3" fill="#a0303a">L1M6</text>
<text x="323.3" y="2109.2" font-size="8.3" fill="#3c48a2">LTR5_Hs</text>
<text x="139.6" y="2117" font-size="8.3" fill="#a0303a">L1PA8A</text>
<text x="175.9" y="2117" font-size="8.3" fill="#a0303a">L1PA14</text>
<text x="217.2" y="2122.9" font-size="8.3" fill="#a0303a">MER54A</text>
<text x="239.6" y="2122.9" font-size="8.3" fill="#a0303a">HSMAR1</text>
<text x="310.4" y="2124.2" font-size="8.3" fill="#3c48a2">SVA_F</text>
<text x="124.7" y="2131.7" font-size="8.3" fill="#a0303a">MLT1E3</text>
<text x="161.8" y="2131.7" font-size="8.3" fill="#a0303a">Tigger7</text>
<text x="193.7" y="2131.7" font-size="8.3" fill="#a0303a">HSMAR2</text>
<text x="298" y="2140.4" font-size="8.3" fill="#3c48a2">HERVH48−int</text>
<text x="137" y="2146.3" font-size="8.3" fill="#a0303a">MLT2A1</text>
<text x="215.9" y="2146.3" font-size="8.3" fill="#a0303a">L1M3de</text>
<text x="285.2" y="2157.4" font-size="8.3" fill="#3c48a2">AluYm1</text>
<text x="159.5" y="2161.3" font-size="8.3" fill="#a0303a">MLT2A2</text>
<text x="196.5" y="2161.3" font-size="8.3" fill="#a0303a">MER110A</text>
<text x="269.7" y="2172.4" font-size="8.3" fill="#3c48a2">MER57A−int</text>
<text x="184.7" y="2176.2" font-size="8.3" fill="#a0303a">Charlie9</text>
<text x="154.6" y="2192.4" font-size="8.3" fill="#a0303a">UCON107</text>
<text x="230.6" y="2214.9" font-size="8.3" fill="#3c48a2">HERVK11−int</text>
<rect x="108.2" y="1984.4" width="299.6" height="23.7" fill="#d9d9d9" stroke="#4a4a4a" stroke-width="1.3" />
<rect x="108.2" y="2008.1" width="299.6" height="302.7" fill="none" stroke="#555" stroke-width="1.5" />
<line x1="108.2" y1="2008.1" x2="407.8" y2="2008.1" stroke="#222" stroke-width="2.2" />
<text x="258" y="2002.4" font-size="20.5" text-anchor="middle">Naive ES Cells</text>
<line x1="104.2" y1="2238.2" x2="108.2" y2="2238.2" stroke="#444" stroke-width="1.2" />
<text x="102.2" y="2243.9" font-size="16" text-anchor="end">4</text>
<line x1="104.2" y1="2162.2" x2="108.2" y2="2162.2" stroke="#444" stroke-width="1.2" />
<text x="102.2" y="2167.9" font-size="16" text-anchor="end">8</text>
<line x1="104.2" y1="2086.2" x2="108.2" y2="2086.2" stroke="#444" stroke-width="1.2" />
<text x="102.2" y="2091.9" font-size="16" text-anchor="end">12</text>
<line x1="104.2" y1="2010.2" x2="108.2" y2="2010.2" stroke="#444" stroke-width="1.2" />
<text x="102.2" y="2015.9" font-size="16" text-anchor="end">16</text>
<line x1="177.7" y1="2310.8" x2="177.7" y2="2314.8" stroke="#444" stroke-width="1.2" />
<text x="177.7" y="2328.8" font-size="16" text-anchor="middle">4</text>
<line x1="249.9" y1="2310.8" x2="249.9" y2="2314.8" stroke="#444" stroke-width="1.2" />
<text x="249.9" y="2328.8" font-size="16" text-anchor="middle">8</text>
<line x1="322.1" y1="2310.8" x2="322.1" y2="2314.8" stroke="#444" stroke-width="1.2" />
<text x="322.1" y="2328.8" font-size="16" text-anchor="middle">12</text>
<line x1="394.3" y1="2310.8" x2="394.3" y2="2314.8" stroke="#444" stroke-width="1.2" />
<text x="394.3" y="2328.8" font-size="16" text-anchor="middle">16</text>
<path d="M604.3 2016.2L657 2068.6M634.4 2016.2L672.1 2052.9M667.6 2016.2L688.3 2036.1M704.3 2016.2L699.6 2026.9M571.2 2024.9L632.7 2091.8M525.2 2027.9L606 2116.7M624.2 2030.7L659.3 2066.2M652.3 2030.7L673.2 2051.7M558.6 2040.3L618.7 2104.8M597.1 2040.3L638.5 2086.4M637.8 2046.2L658.2 2067.4M577.5 2054.8L621.1 2102.6M604.9 2054.8L636.2 2088.6M557.2 2069.1L603.6 2118.9M596.4 2069.1L624.5 2099.4M628.8 2069.1L640.9 2084.1M574.8 2084.1L604.8 2117.8M679.7 2097L657.8 2076.4M542.9 2098.9L580.4 2140.6M579.7 2098.9L600.2 2122.1M529.8 2113.9L570.9 2151.3M559.7 2113.9L581.6 2139.4M555.3 2128.1L575.5 2146.1M527 2142.7L555.8 2168.5M509.4 2157.9L540.7 2185.8M549.9 2157.9L558.1 2165.9M534.5 2172.6L544.2 2181.8M680 2033.3L696.6 2049.8M656.6 2126.3L643.8 2111.9M659.4 2141L638 2117.4M630.4 2162.8L611.3 2142.3M608.1 2177.8L592.6 2159.7" stroke="#c4c4c4" stroke-width="1.3" fill="none"/>
<path d="M470 2277h0m0-11h0m1-16h0m0 12h0m1 8h0m1-16h0m1 16h0m0 22h0m0-17h0m1 31h0m0-31h0m0-14h0m0-9h0m1-2h0m0 15h0m0-16h0m0-7h0m0 49h0m1-14h0m0 2h0m0-9h0m0-14h0m1 17h0m0 6h0m0-18h0m1 12h0m0-2h0m0 2h0m1-14h0m1-10h0m0 21h0m0-11h0m1-5h0m0-6h0m0 14h0m0 4h0m0-29h0m1 38h0m0-11h0m0 11h0m0-19h0m0 12h0m1 3h0m0-8h0m0-22h0m0-5h0m1 24h0m0 3h0m0-16h0m0-3h0m0 18h0m1-7h0m0 16h0m0-14h0m0 5h0m0 2h0m1-7h0m0-1h0m1 2h0m0 5h0m0-8h0m0-5h0m0-16h0m0 23h0m0-19h0m1-4h0m0 1h0m0 33h0m1-21h0m0 2h0m0-16h0m0 15h0m0 3h0m0-1h0m0-6h0m0 4h0m0 13h0m1-3h0m0-1h0m0-5h0m0-5h0m1 1h0m0 14h0m0-16h0m0-9h0m0 11h0m0-7h0m0 10h0m1 4h0m0-9h0m0 20h0m0 3h0m0-2h0m0-25h0m0 30h0m0-31h0m1 16h0m0 0h0m0 6h0m0-18h0m0 1h0m0-2h0m0 30h0m0-36h0m0 21h0m1-17h0m0-3h0m0 5h0m0-7h0m0 17h0m0-7h0m0 3h0m1 2h0m0 10h0m0-27h0m0 18h0m0-8h0m0 4h0m1 6h0m0-20h0m0 22h0m0 1h0m0-12h0m1 2h0m0-23h0m0 49h0m0-49h0m0 19h0m0 13h0m0-19h0m0 15h0m0-21h0m0 24h0m0-23h0m0 30h0m1-25h0m0 16h0m0-14h0m0 2h0m0 26h0m0-20h0m1-2h0m0-19h0m0 33h0m0-29h0m1 8h0m0 3h0m0 1h0m0 2h0m0 2h0m0-11h0m0 7h0m0 14h0m0-12h0m0-7h0m0 5h0m1 10h0m0-1h0m0-11h0m0 6h0m1 18h0m0-24h0m0 9h0m0 7h0m1-2h0m0-28h0m1 13h0m0-1h0m0 16h0m0-25h0m0 11h0m0 1h0m0-5h0m0 2h0m0 4h0m0 5h0m0-15h0m1 6h0m0-3h0m0 7h0m0-4h0m1 9h0m0-2h0m0-10h0m0 9h0m0-11h0m1-7h0m0 9h0m0 5h0m0-8h0m1-5h0m0 26h0m0-17h0m1-2h0m0-2h0m0-9h0m0 13h0m1-7h0m0-4h0m0 16h0m0-6h0m0 3h0m0-13h0m0 29h0m0-4h0m1-14h0m0 18h0m0-17h0m0 1h0m0-3h0m1-7h0m0 8h0m0 5h0m0-14h0m0 6h0m0 13h0m0-35h0m0 24h0m1-10h0m0 8h0m0-8h0m1 7h0m0 1h0m0-6h0m0 2h0m0-5h0m0 8h0m1 6h0m1-20h0m0 9h0m1 3h0m0 5h0m0-10h0m1 18h0m0-22h0m0 12h0m0-14h0m0 13h0m0 4h0m0-13h0m0 10h0m0 6h0m1-24h0m0 9h0m0-14h0m0 18h0m1 7h0m0-8h0m0-20h0m1 21h0m0-3h0m0-21h0m1 16h0m0-1h0m0 9h0m0-13h0m0 16h0m0-16h0m1 8h0m0 9h0m0-17h0m0-1h0m0-4h0m0 8h0m1 1h0m0 2h0m0 5h0m0-9h0m1-6h0m0 0h0m0 6h0m1 8h0m0-7h0m0-2h0m0 1h0m0-10h0m0 15h0m0-2h0m0-23h0m0 12h0m0 8h0m0 2h0m1-8h0m0 8h0m0 2h0m0-6h0m0 10h0m1 0h0m0-17h0m0 9h0m0-9h0m0 14h0m0-24h0m1 22h0m0 1h0m1-18h0m0 11h0m0-5h0m0 4h0m0-12h0m1 8h0m0 6h0m0-10h0m0 15h0m0-5h0m0-8h0m1 9h0m0-4h0m0 0h0m0-2h0m0 2h0m0 2h0m0 4h0m0 4h0m0-2h0m1-1h0m0-17h0m0 3h0m0 1h0m0-1h0m0 5h0m0 4h0m0-5h0m0 13h0m0-16h0m1-3h0m0-2h0m0 2h0m1 5h0m0-1h0m0-14h0m1 10h0m0 8h0m0-3h0m1-11h0m0 9h0m0 4h0m0 8h0m0-17h0m1-3h0m0-4h0m0-2h0m1 20h0m0-20h0m0 19h0m0-12h0m0 9h0m0-11h0m0 4h0m1 5h0m0-6h0m0 3h0m1-15h0m0 9h0m0-2h0m0 10h0m0 4h0m1-14h0m0-8h0m0 19h0m0-12h0m1 2h0m0-2h0m0 4h0m1-3h0m0 13h0m0-13h0m1-1h0m0 1h0m1 3h0m0 0h0m0-15h0m0 9h0m0 1h0m1 4h0m0 7h0m0-14h0m0 4h0m1 12h0m0-17h0m0 3h0m1 11h0m0-8h0m0-3h0m0-2h0m0-3h0m0-10h0m0 22h0m1-16h0m0 6h0m0-5h0m0 22h0m0-22h0m0 14h0m0-4h0m1-1h0m0-12h0m0 3h0m1 13h0m0-7h0m0-4h0m0-3h0m1 5h0m0-2h0m0 12h0m0-8h0m0-9h0m1-3h0m0-3h0m0 13h0m0 0h0m1-1h0m0-9h0m0 6h0m0-4h0m0-2h0m1 13h0m0-7h0m0 8h0m0-9h0m0 1h0m0-1h0m0 0h0m1-5h0m0 1h0m0 3h0m0 3h0m0 2h0m0-11h0m0 5h0m1-2h0m0 0h0m1 10h0m1-19h0m0 2h0m0-6h0m0 7h0m0 2h0m0 12h0m1-13h0m0-2h0m0-7h0m0 2h0m0 19h0m0-9h0m0-2h0m0-6h0m1 9h0m0-9h0m0 6h0m1 11h0m0-18h0m0 12h0m0-8h0m0-4h0m1-3h0m0 12h0m0 5h0m1-13h0m0 2h0m0-2h0m1 7h0m0-6h0m0 3h0m0-4h0m0-7h0m0 4h0m1 15h0m0-5h0m0-6h0m0-10h0m1 6h0m0 12h0m0-7h0m0-5h0m0 10h0m2-8h0m2 4h0m0-11h0m1 8h0m0-7h0m1 8h0m0-9h0m0 3h0m0 7h0m1-5h0m0-7h0m1 4h0m0 5h0m1-4h0m0-6h0m1-3h0m0 0h0m0 1h0m0 3h0m1 2h0m0-8h0m0-1h0m0 3h0m0-6h0m1 2h0m0-2h0m0 12h0m1-15h0m0 3h0m1 6h0m0-8h0m0 4h0m1 0h0m1-6h0m0 6h0m1 10h0m0-15h0m1-8h0m0 8h0m0 9h0m0-3h0m0 5h0m0-8h0m0-4h0m0 1h0m0 12h0m0-14h0m1 4h0m0 4h0m1 1h0m0-5h0m0 2h0m0-9h0m1 8h0m0-4h0m0 2h0m1-1h0m0-2h0m1 1h0m0-7h0m1 12h0m0-7h0m0 1h0m1-4h0m0 7h0m1-12h0m0 7h0m1-1h0m0-1h0m2-9h0m1 5h0m0-2h0m0 9h0m0-6h0m1-1h0m0-6h0m1 12h0m0-12h0m0 0h0m1 1h0m1 2h0m0 5h0m2-2h0m0-10h0m0 2h0m0 3h0m1-10h0m0 7h0m0 9h0m0-1h0m1-4h0m0-7h0m0 11h0m1-8h0m1 0h0m0 2h0m1 3h0m0-8h0m1 6h0m0-8h0m0 4h0m0-6h0m0 9h0m1-7h0m0-6h0m2 7h0m0 3h0m0-17h0m1 17h0m0-3h0m0-4h0m2-5h0m1 7h0m0-8h0m1 7h0m0 0h0m1-7h0m0 1h0m0 0h0m1 0h0m1 11h0m0-9h0m0-7h0m0 13h0m2-8h0m2-1h0m0 2h0m0-5h0m0-4h0m1 2h0m0 2h0m0 1h0m1 2h0m1-1h0m0-6h0m1 5h0m1-6h0m1-1h0m0 2h0m1 0h0m1-2h0m0-2h0m1 4h0m1-7h0m0 1h0m0 2h0m1-3h0m3-7h0m1 14h0m1-12h0m0 4h0m1 4h0m2-9h0m0 7h0m3-6h0m1 1h0m2-6h0m2-2h0m0-3h0m0 8h0m1-15h0m1 8h0m0-1h0m0 9h0m1-10h0m0 4h0m0-7h0m0 1h0m0 4h0m1-2h0m0 3h0m1 0h0m0-5h0m0 2h0m2-1h0m0-1h0m0 0h0m2-2h0m0-2h0m1 3h0m0-7h0m0 0h0m0 2h0m1-2h0m0 6h0m1-5h0m0 5h0m2-4h0m0-4h0m2-2h0m0-3h0m1 4h0m0-5h0m1 3h0m1-3h0m2 0h0m2-2h0m0 2h0m1-6h0m0 4h0m1-2h0m0 1h0m1-1h0m0-2h0m2-3h0m0 0h0m1 3h0m1-3h0m1-1h0m0 0h0m1 0h0m0-5h0m0 4h0m1 2h0m1-4h0m0-1h0m0 0h0m1-1h0m1-1h0m0-4h0m0 4h0m0 6h0m0-10h0m2 3h0m0 7h0m1-4h0m0-2h0m0 0h0m1-5h0m0-2h0m1-3h0m1 3h0m1-2h0m0 3h0m1-5h0m0 0h0m0 3h0m1-1h0m1-4h0" stroke="#8a8a8a" stroke-width="4.6" stroke-linecap="round" fill="none" />
<path d="M482 2250h0m2-9h0m3-30h0m2 28h0m2 3h0m1-7h0m5-6h0m5 6h0m0-3h0m1 2h0m1-1h0m9-9h0m3 0h0m0-4h0m2-4h0m0 2h0m2 0h0m0-1h0m1-2h0m0 1h0m1 1h0m2-17h0m2 3h0m0 6h0m0-2h0m1 2h0m0-7h0m0 4h0m2 3h0m6-7h0m2-5h0m1-7h0m1 8h0m0-4h0m1 2h0m2-3h0m0-4h0m0 4h0m1-4h0m2 2h0m0-2h0m1-13h0m0 12h0m0-12h0m1 11h0m0-3h0m1 2h0m2-6h0m1-2h0m0-4h0m2 6h0m0-9h0m2 8h0m0-3h0m3 0h0m1-6h0m0 0h0m1 4h0m1-5h0m1 0h0m1-4h0m2 2h0m2-1h0m0-4h0m1-11h0m2 4h0m1-9h0m1 10h0m3-6h0m1 0h0m2 2h0m1-1h0m0-1h0m0 1h0m0 0h0m2-2h0m0-3h0m0 2h0m1 0h0m1-4h0m0 1h0m1-7h0m1-2h0m1 5h0m1-10h0m1 3h0m0 6h0m0 1h0m2 0h0m0-9h0m0 6h0m1 2h0m0-3h0m1-9h0m1 4h0m1-2h0m0 6h0m1 0h0m0-5h0m1 2h0m0-12h0m1 13h0m0-7h0m0 6h0m1-1h0m1-4h0m2-5h0m0 4h0m1 2h0m1-3h0m1 1h0m1-4h0m2-2h0m0 4h0m1-1h0m0-1h0m0-2h0m0 1h0m1 2h0m0-2h0m1-2h0m0 1h0m0-1h0m1-2h0m0 2h0m0-3h0m0-5h0m1 1h0m1 5h0m0-7h0m0 7h0m0-3h0m0 2h0m2-1h0m2-9h0m2-4h0m0 1h0m0 6h0m1-6h0m0 7h0m1-6h0m0 2h0m0 0h0m0-6h0m1 8h0m0-2h0m2-4h0m0-2h0m1 2h0m0 3h0m0-1h0m3 1h0m0-7h0m1 1h0m1-1h0m0 3h0m0-1h0m1-5h0m0-6h0m2 0h0m1 10h0m0-17h0m1 15h0m1-3h0m0-9h0m1-1h0m0 10h0m0 0h0m0 2h0m1-5h0m0 3h0m1-1h0m1 0h0m1-1h0m0 1h0m0 0h0m1-4h0m0 3h0m0-3h0m1 1h0m1-7h0m1 5h0m0-10h0m1-12h0m0 21h0m2-6h0m0-8h0m0 13h0m1-2h0m1-4h0m1 3h0m1-1h0m0-3h0m0-1h0m0-4h0m1 3h0m1-2h0m0-4h0m0-4h0m0 6h0m2 3h0m1-2h0m1 0h0m1 1h0m0 0h0m0 0h0m2-7h0m0 5h0m0-2h0m2 0h0m0 0h0m1-3h0m5-11h0m0 3h0m5-6h0m3-4h0m0 2h0m2 0h0m5-10h0m0 6h0m1-3h0m5-3h0m3-2h0" stroke="#9c1c1f" stroke-width="4.6" stroke-linecap="round" fill="none" />
<path d="M488 2298h0m3-39h0m14-11h0m1-2h0m8-7h0m17-20h0m6-3h0m3-5h0m0 0h0m1-3h0m0 25h0m1-21h0m4-8h0m3-2h0m1 4h0m2-2h0m3-5h0m1-6h0m1-5h0m2 0h0m8-10h0m0 5h0m3-8h0m1-1h0m0-1h0m1 11h0m3-15h0m1 6h0m3-11h0m2-1h0m0-1h0m1-1h0m0 0h0m1-2h0m0 2h0m1 1h0m1-1h0m0 6h0m1-8h0m0 2h0m1-4h0m1-1h0m0 3h0m2 4h0m0-6h0m3 10h0m2-14h0m1-6h0m1 4h0m0-2h0m1 0h0m3-3h0m2-4h0m1 5h0m3-2h0m2-4h0m2-4h0m1 1h0m0-1h0m0 0h0m2-1h0m0 0h0m1-4h0m0 6h0m0-8h0m0 0h0m3-3h0m0 1h0m0-1h0m2-1h0m0 4h0m2 6h0m1-14h0m1 1h0m2-4h0m0 3h0m0 0h0m1 0h0m0 11h0m0-14h0m0 1h0m1-1h0m1 9h0m0-9h0m2-4h0m1 5h0m1-4h0m1-4h0m1 1h0m0-2h0m1 0h0m3 0h0m0-4h0m1 1h0m0 0h0m0 2h0m2-6h0m0 2h0m1 1h0m3-6h0m1-1h0m1-1h0m0 4h0m3-6h0m0 1h0m2-1h0m2-4h0m2-2h0m0 3h0m2-5h0m4-3h0m0 8h0m1-4h0m1 0h0m0-8h0m1 0h0m2 1h0m0-4h0m1 8h0m5-14h0m2 2h0m7-7h0m0 2h0m2-2h0m2-6h0m1-3h0m3 22h0m6-31h0" stroke="#232b8e" stroke-width="4.6" stroke-linecap="round" fill="none" />
<text x="580.3" y="2019.2" font-size="8.3" fill="#a0303a">MER20</text>
<text x="615" y="2019.2" font-size="8.3" fill="#a0303a">L1M2</text>
<text x="643.6" y="2019.2" font-size="8.3" fill="#a0303a">L1PA4</text>
<text x="680.3" y="2019.2" font-size="8.3" fill="#a0303a">L1PA2</text>
<text x="551.8" y="2027.9" font-size="8.3" fill="#a0303a">L1M6</text>
<text x="501.2" y="2030.9" font-size="8.3" fill="#a0303a">MER1B</text>
<text x="595.6" y="2033.7" font-size="8.3" fill="#a0303a">L1PA10</text>
<text x="628.3" y="2033.7" font-size="8.3" fill="#a0303a">L1PB1</text>
<text x="667.7" y="2032.1" font-size="8.3" fill="#a0303a">L1PA3</text>
<text x="530" y="2043.3" font-size="8.3" fill="#a0303a">L1ME3G</text>
<text x="563.9" y="2043.3" font-size="8.3" fill="#a0303a">L1ME3Cz</text>
<text x="655.7" y="2042.2" font-size="8.3" fill="#a0303a">L1HS</text>
<text x="613.8" y="2049.2" font-size="8.3" fill="#a0303a">L1PA6</text>
<text x="548.9" y="2057.8" font-size="8.3" fill="#a0303a">L1PA8A</text>
<text x="585.5" y="2057.8" font-size="8.3" fill="#a0303a">MSTA</text>
<text x="640.7" y="2055.5" font-size="8.3" fill="#a0303a">L1PA7</text>
<text x="621.3" y="2066" font-size="8.3" fill="#a0303a">L1PA13</text>
<text x="519.4" y="2072.1" font-size="8.3" fill="#a0303a">Tigger3b</text>
<text x="563.2" y="2072.1" font-size="8.3" fill="#a0303a">L1PREC2</text>
<text x="600.2" y="2072.1" font-size="8.3" fill="#a0303a">HAL1ME</text>
<text x="601.9" y="2087.1" font-size="8.3" fill="#a0303a">Charlie6</text>
<text x="537" y="2087.1" font-size="8.3" fill="#a0303a">Tigger3a</text>
<text x="655.7" y="2100" font-size="8.3" fill="#a0303a">L1PA5</text>
<text x="514.3" y="2101.9" font-size="8.3" fill="#a0303a">L1M3de</text>
<text x="555.7" y="2101.9" font-size="8.3" fill="#a0303a">L1M3a</text>
<text x="586.2" y="2101.9" font-size="8.3" fill="#a0303a">MARNA</text>
<text x="492" y="2116.9" font-size="8.3" fill="#a0303a">Tigger5b</text>
<text x="531.1" y="2116.9" font-size="8.3" fill="#a0303a">MER131</text>
<text x="569.8" y="2116.9" font-size="8.3" fill="#a0303a">Tigger7</text>
<text x="512.9" y="2131.1" font-size="8.3" fill="#a0303a">Tigger20a</text>
<text x="552.2" y="2131.1" font-size="8.3" fill="#a0303a">MER44A</text>
<text x="503" y="2145.7" font-size="8.3" fill="#a0303a">L1M6B</text>
<text x="536.5" y="2145.7" font-size="8.3" fill="#a0303a">MER54A</text>
<text x="480.8" y="2160.9" font-size="8.3" fill="#a0303a">MER91C</text>
<text x="521.3" y="2160.9" font-size="8.3" fill="#a0303a">MER47C</text>
<text x="510.5" y="2175.6" font-size="8.3" fill="#a0303a">LTR77</text>
<text x="479.6" y="2190.6" font-size="8.3" fill="#a0303a">HERV15−int</text>
<text x="681" y="2036.3" font-size="8.3" fill="#3c48a2">LSU−rRNA_Hsa</text>
<text x="690.9" y="2069.6" font-size="8.3" fill="#3c48a2">AluY</text>
<text x="680.3" y="2087.6" font-size="8.3" fill="#3c48a2">SSU−rRNA_Hsa</text>
<text x="645.9" y="2114.8" font-size="8.3" fill="#3c48a2">AluSq</text>
<text x="657.6" y="2129.3" font-size="8.3" fill="#3c48a2">tRNA−Ser−TCA(m)</text>
<text x="624.4" y="2136.8" font-size="8.3" fill="#3c48a2">L1MEg</text>
<text x="660.4" y="2144" font-size="8.3" fill="#3c48a2">AluSg4</text>
<text x="615" y="2151.1" font-size="8.3" fill="#3c48a2">ALR/Alpha</text>
<text x="597.9" y="2165.8" font-size="8.3" fill="#3c48a2">AluYa5</text>
<text x="631.4" y="2165.8" font-size="8.3" fill="#3c48a2">Charlie1a</text>
<text x="609.1" y="2180.8" font-size="8.3" fill="#3c48a2">LTR56</text>
<text x="578.5" y="2193.2" font-size="8.3" fill="#3c48a2">AluYj4</text>
<text x="565.6" y="2207.7" font-size="8.3" fill="#3c48a2">MER57E3</text>
<rect x="442.6" y="1983.9" width="299.8" height="24.6" fill="#d9d9d9" stroke="#4a4a4a" stroke-width="1.3" />
<rect x="442.6" y="2008.5" width="299.8" height="301.6" fill="none" stroke="#555" stroke-width="1.5" />
<line x1="442.6" y1="2008.5" x2="742.4" y2="2008.5" stroke="#222" stroke-width="2.2" />
<text x="592.5" y="2001.9" font-size="20.5" text-anchor="middle">Primed ES Cells</text>
<line x1="438.6" y1="2304.7" x2="442.6" y2="2304.7" stroke="#444" stroke-width="1.2" />
<text x="436.6" y="2310.4" font-size="16" text-anchor="end">0</text>
<line x1="438.6" y1="2211.8" x2="442.6" y2="2211.8" stroke="#444" stroke-width="1.2" />
<text x="436.6" y="2217.5" font-size="16" text-anchor="end">5</text>
<line x1="438.6" y1="2118.9" x2="442.6" y2="2118.9" stroke="#444" stroke-width="1.2" />
<text x="436.6" y="2124.6" font-size="16" text-anchor="end">10</text>
<line x1="438.6" y1="2026" x2="442.6" y2="2026" stroke="#444" stroke-width="1.2" />
<text x="436.6" y="2031.7" font-size="16" text-anchor="end">15</text>
<line x1="510.5" y1="2310.1" x2="510.5" y2="2314.1" stroke="#444" stroke-width="1.2" />
<text x="510.5" y="2329" font-size="16" text-anchor="middle">4</text>
<line x1="582.2" y1="2310.1" x2="582.2" y2="2314.1" stroke="#444" stroke-width="1.2" />
<text x="582.2" y="2329" font-size="16" text-anchor="middle">8</text>
<line x1="653.8" y1="2310.1" x2="653.8" y2="2314.1" stroke="#444" stroke-width="1.2" />
<text x="653.8" y="2329" font-size="16" text-anchor="middle">12</text>
<line x1="725.5" y1="2310.1" x2="725.5" y2="2314.1" stroke="#444" stroke-width="1.2" />
<text x="725.5" y="2329" font-size="16" text-anchor="middle">16</text>
<path d="M1069.8 2016.2L1039.1 2041.2M1011 2030.7L1026.3 2048.8M1008.7 2049L1016.5 2057.9M988.5 2063.5L998.3 2074.9M926.1 2075.9L961.7 2111.4M976.2 2078.7L984.8 2088M918.9 2093L949.5 2123.7M953.2 2093L966.5 2106.5M883.2 2108L924 2149.5M931.3 2108L948.2 2125M914.4 2123.2L932.4 2141M875.8 2137.5L905.7 2168M886.4 2152.5L903.3 2170.4M860.3 2167.3L882.6 2191.3M830.1 2189L857 2217.2M842 2204L855.8 2218.4M1056 2042.4L1038.8 2062.3M1067.7 2064.2L1039.8 2064.5M1042.8 2079.4L1035.2 2070.1M1025.5 2094.2L1018.3 2085.9M1056 2109.2L1027.9 2077M996.7 2123.9L987.9 2114.8M1027.9 2123.9L1004.8 2098.4M979.8 2138.7L972.1 2130.8M1007.7 2138.7L986.6 2116.2M992.7 2153.4L972 2130.9M964.6 2156.7L956.2 2146.9M1017.3 2168.4L975.7 2127.2M949.9 2171.5L941.5 2161.7M984.3 2171.5L958.6 2144.5M948.2 2186.5L933.1 2170.3M982.7 2186.5L950.1 2153M922.5 2201.2L912.5 2191.1M978.7 2201.2L940.4 2162.9M910.1 2215.7L899.1 2204.6M888.5 2231L880.8 2223.1" stroke="#c4c4c4" stroke-width="1.3" fill="none"/>
<path d="M799 2270h0m1 31h0m0-17h0m1 14h0m0-9h0m1 19h0m0-28h0m1 12h0m0-15h0m0 7h0m1-25h0m0 34h0m1 4h0m0 2h0m1-8h0m0-18h0m0 1h0m1 31h0m0-14h0m1-25h0m0 16h0m0 1h0m1-13h0m0-6h0m1 16h0m0 1h0m0 1h0m1-3h0m0-15h0m0 17h0m0-13h0m1-12h0m0 50h0m0-50h0m0 14h0m1 0h0m0 12h0m0 8h0m0-10h0m1-4h0m0-13h0m0-3h0m0 10h0m1 4h0m0 8h0m0-7h0m0-18h0m0 18h0m0 3h0m0 19h0m1-37h0m1-13h0m0 22h0m0 22h0m1-11h0m0 2h0m0 1h0m1-2h0m0 1h0m0-28h0m0 17h0m0 4h0m1-16h0m0 25h0m0-6h0m0-9h0m0-4h0m0-8h0m1 17h0m0-12h0m0 22h0m1-6h0m0-9h0m0 7h0m0-16h0m0-9h0m1 11h0m0 6h0m0 0h0m0 6h0m1-14h0m0 3h0m0-5h0m0 10h0m0 0h0m0-8h0m1-9h0m0 8h0m0-2h0m0 0h0m0-7h0m0 22h0m0-21h0m0 12h0m0-20h0m1 38h0m0-26h0m0 7h0m1-14h0m0 22h0m0-7h0m0 9h0m1-6h0m0 1h0m0-9h0m0 2h0m0-8h0m1 9h0m0-4h0m0-10h0m0 11h0m1-5h0m0 8h0m0-10h0m0 0h0m0 17h0m0-4h0m1 13h0m0-20h0m0 0h0m0-5h0m0 3h0m0 5h0m0-2h0m1 7h0m0-6h0m0 4h0m0-8h0m0 14h0m0-27h0m0 15h0m0 10h0m1-6h0m0-9h0m0 3h0m1 9h0m0-7h0m0-7h0m0 2h0m1 11h0m0-4h0m0-10h0m0 8h0m0-20h0m0 25h0m1-4h0m0-14h0m0 7h0m1 2h0m0-13h0m0 22h0m0 0h0m0-2h0m0-10h0m1 3h0m0 1h0m0 14h0m0-21h0m0 4h0m0-7h0m1 2h0m0-10h0m0 25h0m0-3h0m0-15h0m0 10h0m1 5h0m0 3h0m0-13h0m0 2h0m0-2h0m0-10h0m1 8h0m0-1h0m0 2h0m0 10h0m0-8h0m0-15h0m0 14h0m1 0h0m0 2h0m0 5h0m0 6h0m0-28h0m0 17h0m0 0h0m0-4h0m1-2h0m0 6h0m0-15h0m0 10h0m0 1h0m1 8h0m0-3h0m0-18h0m0 19h0m0-10h0m0 7h0m1-24h0m1 10h0m0 8h0m0-4h0m0 17h0m0-14h0m0-2h0m0 2h0m0 8h0m0-5h0m0 2h0m0-12h0m1 7h0m0 2h0m0-8h0m0 8h0m1-2h0m0-6h0m0-3h0m0 4h0m0 10h0m0 6h0m0-21h0m1-4h0m0 3h0m0 17h0m0-10h0m0 5h0m1-7h0m0-5h0m0 5h0m0 1h0m1 10h0m0-10h0m0 9h0m1-7h0m0-8h0m0 12h0m0 2h0m0-3h0m1-2h0m0 0h0m0-9h0m0 9h0m0-22h0m0 26h0m1-12h0m0-8h0m0 0h0m0 6h0m0 0h0m0 9h0m0-18h0m0 20h0m1-8h0m0-9h0m1-9h0m0 12h0m0 20h0m0-13h0m0 7h0m1-13h0m0 12h0m0-1h0m1-11h0m0-3h0m0 14h0m0 9h0m0-26h0m0 4h0m1 10h0m0-12h0m0 9h0m0-18h0m1 12h0m0-13h0m1 9h0m0 13h0m0-5h0m0 3h0m0-16h0m0 9h0m0-5h0m0 0h0m0 5h0m1 8h0m0-4h0m0-17h0m0 13h0m0-3h0m0 4h0m1-12h0m0 14h0m1-7h0m0 2h0m0-11h0m0 13h0m1-13h0m0 18h0m0-8h0m0-3h0m1-5h0m0-4h0m1 11h0m0-4h0m0-3h0m0 1h0m1 9h0m0-4h0m0-7h0m1 7h0m0-1h0m1-1h0m0 12h0m0-12h0m0-2h0m1-2h0m0-7h0m1 16h0m0 1h0m0-5h0m1-18h0m0-3h0m0 20h0m1-10h0m0 4h0m1 4h0m0 4h0m0-6h0m0-6h0m0 2h0m1-6h0m0 6h0m1-1h0m0 6h0m0 2h0m0-13h0m0 2h0m0 11h0m0-2h0m1-1h0m0-1h0m0 5h0m0-12h0m0-1h0m0 1h0m0 5h0m0 0h0m1 1h0m0-4h0m0 5h0m0-8h0m0 1h0m1-3h0m0 4h0m0-7h0m0 5h0m0 3h0m0-1h0m0 1h0m0-12h0m1 19h0m0-7h0m0 7h0m0-8h0m1 0h0m0 1h0m1-4h0m0-2h0m0 7h0m1-2h0m0 1h0m0-16h0m0 15h0m1-7h0m0-4h0m0 4h0m0-2h0m0 12h0m1-1h0m0-10h0m0 3h0m0-1h0m0 7h0m0-13h0m0-2h0m1 17h0m0-14h0m0 9h0m0-9h0m0-2h0m0 5h0m1 1h0m0 6h0m0-8h0m1-9h0m0 3h0m0 5h0m1 7h0m0-1h0m0-1h0m0-5h0m0-4h0m0 10h0m0 8h0m1-25h0m0 12h0m0-6h0m0 3h0m1-1h0m0 15h0m0-8h0m0-16h0m0 7h0m0 7h0m1-2h0m0-11h0m0 6h0m0-1h0m0 0h0m0 7h0m0-8h0m0 6h0m1-2h0m0 2h0m0-3h0m1-4h0m1-3h0m0 0h0m0 7h0m0 0h0m0-12h0m0 2h0m1 6h0m1 6h0m0-3h0m0-4h0m0 1h0m0 4h0m1-11h0m1 11h0m0-9h0m0 1h0m0 8h0m0-10h0m1-6h0m0 9h0m0 8h0m0-13h0m1 2h0m0 0h0m1 3h0m0 0h0m0-5h0m1-1h0m0-1h0m0-4h0m0 8h0m0 10h0m0-6h0m1-9h0m1 7h0m0-9h0m0 0h0m1-2h0m0 6h0m0 5h0m0-15h0m1-5h0m0 13h0m1 8h0m0-10h0m0-3h0m1-6h0m0 16h0m0-5h0m1-8h0m0 6h0m0-1h0m1-6h0m0 6h0m0-7h0m1 5h0m0-3h0m0 13h0m1-10h0m0 5h0m0-6h0m2 3h0m0-10h0m0 2h0m0 7h0m1 2h0m0 1h0m0-6h0m0 3h0m1-6h0m0 0h0m1 3h0m1-7h0m1-5h0m0 15h0m0-7h0m1-3h0m0 1h0m0-10h0m1 16h0m0-5h0m0-6h0m0 6h0m1-1h0m0-3h0m0 4h0m1 2h0m0-8h0m0-2h0m1 2h0m0 5h0m1-7h0m1 2h0m1-10h0m1 10h0m1-8h0m0 4h0m0-11h0m0 13h0m0 4h0m0-12h0m0 13h0m0-6h0m2 3h0m1-6h0m0 5h0m0-2h0m1-16h0m0 18h0m0-12h0m2-4h0m1 2h0m1 2h0m1-4h0m0 13h0m1-17h0m0 13h0m0-9h0m1 1h0m1-4h0m0 3h0m0 6h0m1-12h0m1-2h0m0 17h0m0-14h0m0 5h0m1-2h0m0 2h0m0 1h0m0-7h0m1-6h0m0 13h0m0-3h0m1 8h0m0-9h0m2-8h0m0 2h0m0 2h0m1 4h0m0-6h0m0-2h0m1 0h0m0-9h0m0 11h0m0-6h0m1-2h0m1 7h0m0-2h0m0-1h0m1 4h0m1-2h0m0-7h0m1 4h0m0 4h0m0 4h0m1-6h0m0 0h0m1-10h0m0 8h0m0 1h0m1-5h0m0 6h0m0-7h0m0 8h0m0-4h0m1 2h0m0-9h0m1 3h0m0-5h0m0 8h0m1-5h0m1 7h0m0-5h0m0-1h0m1-1h0m1-3h0m0 2h0m0-1h0m0 1h0m1 4h0m1-10h0m1-2h0m0 11h0m0-8h0m0 1h0m1-8h0m0 6h0m0 0h0m0-7h0m1 9h0m2 2h0m1-10h0m0 0h0m0 4h0m1-1h0m1-10h0m1 6h0m1 4h0m0-4h0m0 1h0m1 1h0m3 1h0m2-12h0m0 6h0m1-1h0m0 2h0m0-9h0m1 6h0m0-6h0m2 1h0m0-4h0m0 6h0m1 2h0m1-5h0m1-7h0m1 4h0m1 8h0m0-8h0m1-1h0m2-3h0m1-5h0m0 5h0m1 0h0m0-3h0m0 3h0m0 2h0m1-4h0m0-4h0m0 3h0m0 7h0m0-4h0m2-7h0m0 5h0m0-6h0m0 3h0m1 0h0m0 2h0m0-1h0m3 0h0m1-10h0m0 5h0m0 2h0m3-7h0m1 6h0m0-6h0m1-2h0m2 1h0m1 3h0m0-3h0m1-1h0m1-5h0m1 1h0m1-6h0m0 10h0m0-2h0m2-6h0m0 2h0m1 2h0m1-3h0m1-6h0m0 5h0m1-5h0m1-1h0m1-2h0m0 1h0m0 3h0m1 3h0m0-8h0m0 8h0m0-7h0m0 3h0m1 3h0m0-7h0m0 6h0m0-2h0m0-2h0m1 1h0m0-2h0m1 2h0m0 0h0m1 0h0m1-3h0m0-3h0m1-2h0m0 2h0m1-1h0m1 4h0m1-1h0m0-1h0m0-6h0" stroke="#8a8a8a" stroke-width="4.6" stroke-linecap="round" fill="none" />
<path d="M801 2262h0m9 5h0m12-8h0m2-4h0m6-3h0m0-3h0m1-2h0m12-12h0m1-1h0m6-12h0m2 9h0m10-10h0m1-5h0m0 4h0m2-7h0m1-1h0m1 3h0m1-1h0m2-2h0m3-2h0m3-3h0m2-5h0m2-7h0m3-6h0m1 10h0m3-15h0m0 8h0m0 0h0m0-3h0m1 6h0m0-1h0m2-5h0m1 3h0m1-6h0m5 0h0m0-6h0m1 2h0m2-2h0m3 0h0m1-12h0m0 11h0m1-14h0m1 8h0m1 0h0m1-1h0m3-1h0m1 0h0m1-1h0m1-2h0m1-1h0m0 1h0m1-15h0m4 9h0m1-1h0m1 0h0m1-4h0m1 2h0m1-7h0m0 2h0m0 3h0m2-1h0m1-4h0m3-6h0m0 1h0m0 1h0m1-2h0m0-7h0m0 8h0m2-6h0m0 4h0m0 3h0m0-18h0m1 16h0m0-3h0m1 2h0m1 0h0m0-1h0m1 0h0m0-9h0m1 8h0m0 0h0m1-3h0m1-4h0m1 2h0m0-9h0m0 10h0m1-3h0m0 3h0m1-6h0m1-1h0m1 3h0m1-3h0m0 0h0m2-2h0m1-2h0m3-1h0m0 3h0m1-2h0m1-1h0m0-3h0m1 1h0m1 1h0m0-6h0m2-2h0m1 4h0m0-4h0m0 4h0m1-12h0m1 3h0m0 3h0m1 3h0m0 0h0m1-7h0m1 4h0m1-8h0m0 1h0m0 7h0m0-8h0m2-3h0m0 7h0m4-3h0m1-4h0m2-3h0m1 2h0m1 0h0m1-7h0m0-6h0m1 11h0m0 1h0m0 0h0m1-2h0m1 0h0m3-4h0m0-1h0m2-18h0m1 16h0m0-4h0m1 4h0m2-5h0m3-1h0m2-7h0m1 2h0m0 1h0m3-2h0m1 1h0m0-2h0m0-7h0m1 5h0m8-13h0m0 4h0m2-10h0m4 8h0m2-5h0m6-5h0m5-13h0" stroke="#9c1c1f" stroke-width="4.6" stroke-linecap="round" fill="none" />
<path d="M815 2284h0m7 2h0m8-6h0m3-4h0m10-19h0m6-5h0m1 0h0m3-5h0m3-8h0m2 3h0m14-16h0m1-5h0m1 3h0m2-2h0m0-4h0m6-5h0m3 11h0m1-5h0m0-11h0m1 15h0m1-12h0m0-4h0m0 3h0m2 1h0m1-1h0m1-5h0m2-4h0m0 1h0m3-3h0m2-1h0m1-4h0m2 3h0m1-5h0m0 1h0m1-1h0m1 12h0m2-14h0m2-3h0m0 1h0m1-3h0m1-1h0m1 5h0m0 6h0m0 1h0m2-14h0m1 1h0m1-4h0m1 10h0m2-12h0m1-2h0m2-2h0m0 1h0m0-2h0m2-2h0m1 0h0m1 2h0m1-1h0m1 0h0m0 10h0m2-15h0m0 4h0m1-6h0m0-1h0m0 3h0m1-3h0m1-2h0m2 0h0m2 0h0m2-2h0m0 2h0m1-4h0m0-3h0m2 17h0m2-14h0m0 1h0m0-5h0m2 6h0m0-9h0m2 6h0m0-9h0m1-2h0m2-2h0m0 0h0m2 7h0m1-7h0m1-1h0m1 2h0m2-6h0m1 5h0m2-2h0m0 4h0m2-13h0m2 5h0m0-8h0m2 1h0m2-4h0m0-1h0m1 5h0m0-1h0m2-7h0m0 0h0m0 1h0m2 4h0m0-5h0m1 0h0m0 2h0m0-2h0m3 1h0m1-8h0m1 1h0m1-2h0m1-1h0m3-2h0m1-3h0m2-2h0m5-3h0m0-3h0m1 0h0m0-1h0m2-1h0m1 0h0m4-2h0m3-5h0m0-1h0m0 0h0m4 2h0m2-6h0m4 4h0m2-7h0m1-2h0m0-1h0m2-3h0m1 4h0m6-11h0m0 3h0m6-2h0" stroke="#232b8e" stroke-width="4.6" stroke-linecap="round" fill="none" />
<text x="1013.6" y="2019.2" font-size="8.3" fill="#a0303a">LSU−rRNA_Hsa</text>
<text x="954.8" y="2033.7" font-size="8.3" fill="#a0303a">SSU−rRNA_Hsa</text>
<text x="1021.8" y="2045.4" font-size="8.3" fill="#a0303a">L1PA2</text>
<text x="975.5" y="2052" font-size="8.3" fill="#a0303a">MamRTE1</text>
<text x="969.1" y="2066.5" font-size="8.3" fill="#a0303a">L1HS</text>
<text x="1007.8" y="2066.5" font-size="8.3" fill="#a0303a">L1PA3</text>
<text x="860.7" y="2078.9" font-size="8.3" fill="#a0303a">Penelope1_Vert</text>
<text x="924.6" y="2081.7" font-size="8.3" fill="#a0303a">LFSINE_Vert</text>
<text x="979.7" y="2081.7" font-size="8.3" fill="#a0303a">OldhAT1</text>
<text x="871.9" y="2096" font-size="8.3" fill="#a0303a">MER34B−int</text>
<text x="933.8" y="2096" font-size="8.3" fill="#a0303a">LTR7</text>
<text x="968" y="2096.5" font-size="8.3" fill="#a0303a">L1MEd</text>
<text x="840.8" y="2111" font-size="8.3" fill="#a0303a">MamRep605</text>
<text x="893.5" y="2111" font-size="8.3" fill="#a0303a">AmnSINE1</text>
<text x="942.7" y="2111" font-size="8.3" fill="#a0303a">7SLRNA</text>
<text x="876.6" y="2126.2" font-size="8.3" fill="#a0303a">X6B_LINE</text>
<text x="921.6" y="2126.2" font-size="8.3" fill="#a0303a">HAL1ME</text>
<text x="838" y="2140.5" font-size="8.3" fill="#a0303a">Charlie6</text>
<text x="915.3" y="2141" font-size="8.3" fill="#a0303a">L1M6</text>
<text x="853.2" y="2155.5" font-size="8.3" fill="#a0303a">LTR16D1</text>
<text x="894.7" y="2156.2" font-size="8.3" fill="#a0303a">LTR56</text>
<text x="845.5" y="2170.3" font-size="8.3" fill="#a0303a">7SK</text>
<text x="868.9" y="2171" font-size="8.3" fill="#a0303a">L1M3de</text>
<text x="820.9" y="2185.5" font-size="8.3" fill="#a0303a">Helitron2Na_Mam</text>
<text x="792.3" y="2192" font-size="8.3" fill="#a0303a">Charlie9</text>
<text x="813.4" y="2207" font-size="8.3" fill="#a0303a">MER129</text>
<text x="1057" y="2045.4" font-size="8.3" fill="#3c48a2">AluSx1</text>
<text x="1039.2" y="2060.2" font-size="8.3" fill="#3c48a2">AluSx</text>
<text x="1068.7" y="2067.2" font-size="8.3" fill="#3c48a2">AluY</text>
<text x="1043.8" y="2082.4" font-size="8.3" fill="#3c48a2">AluSc8</text>
<text x="1026.5" y="2097.2" font-size="8.3" fill="#3c48a2">L1M4c</text>
<text x="1000" y="2111.7" font-size="8.3" fill="#3c48a2">HERVS71−int</text>
<text x="1057" y="2112.2" font-size="8.3" fill="#3c48a2">AluSq</text>
<text x="997.7" y="2126.9" font-size="8.3" fill="#3c48a2">L1PA8</text>
<text x="1028.9" y="2126.9" font-size="8.3" fill="#3c48a2">MER4−int</text>
<text x="980.8" y="2141.7" font-size="8.3" fill="#3c48a2">L1M1</text>
<text x="1008.7" y="2141.7" font-size="8.3" fill="#3c48a2">L1MA3</text>
<text x="993.7" y="2156.4" font-size="8.3" fill="#3c48a2">PRIMA4−int</text>
<text x="965.6" y="2159.7" font-size="8.3" fill="#3c48a2">L1MEg</text>
<text x="1018.3" y="2171.4" font-size="8.3" fill="#3c48a2">L1MEf</text>
<text x="950.9" y="2174.5" font-size="8.3" fill="#3c48a2">L1MA8</text>
<text x="985.3" y="2174.5" font-size="8.3" fill="#3c48a2">L1MC1</text>
<text x="949.2" y="2189.5" font-size="8.3" fill="#3c48a2">L1MCa</text>
<text x="983.7" y="2189.5" font-size="8.3" fill="#3c48a2">L1MA4</text>
<text x="923.5" y="2204.2" font-size="8.3" fill="#3c48a2">HERVK11−int</text>
<text x="979.7" y="2204.2" font-size="8.3" fill="#3c48a2">AluYm1</text>
<text x="911.1" y="2218.7" font-size="8.3" fill="#3c48a2">L1MA6</text>
<text x="889.5" y="2234" font-size="8.3" fill="#3c48a2">MER50−int</text>
<rect x="788.1" y="1983.4" width="301.4" height="24.6" fill="#d9d9d9" stroke="#4a4a4a" stroke-width="1.3" />
<rect x="788.1" y="2008" width="301.4" height="303.3" fill="none" stroke="#555" stroke-width="1.5" />
<line x1="788.1" y1="2008" x2="1089.5" y2="2008" stroke="#222" stroke-width="2.2" />
<text x="938.8" y="2001.4" font-size="20.5" text-anchor="middle">Endoderm Prog.</text>
<line x1="784.1" y1="2229" x2="788.1" y2="2229" stroke="#444" stroke-width="1.2" />
<text x="782.1" y="2234.7" font-size="16" text-anchor="end">5</text>
<line x1="784.1" y1="2139.6" x2="788.1" y2="2139.6" stroke="#444" stroke-width="1.2" />
<text x="782.1" y="2145.3" font-size="16" text-anchor="end">10</text>
<line x1="784.1" y1="2050.2" x2="788.1" y2="2050.2" stroke="#444" stroke-width="1.2" />
<text x="782.1" y="2055.9" font-size="16" text-anchor="end">15</text>
<line x1="840.8" y1="2311.3" x2="840.8" y2="2315.3" stroke="#444" stroke-width="1.2" />
<text x="840.8" y="2330.5" font-size="16" text-anchor="middle">4</text>
<line x1="917.7" y1="2311.3" x2="917.7" y2="2315.3" stroke="#444" stroke-width="1.2" />
<text x="917.7" y="2330.5" font-size="16" text-anchor="middle">8</text>
<line x1="994.5" y1="2311.3" x2="994.5" y2="2315.3" stroke="#444" stroke-width="1.2" />
<text x="994.5" y="2330.5" font-size="16" text-anchor="middle">12</text>
<line x1="1071.4" y1="2311.3" x2="1071.4" y2="2315.3" stroke="#444" stroke-width="1.2" />
<text x="1071.4" y="2330.5" font-size="16" text-anchor="middle">16</text>
<path d="M291.2 2450.4L303 2460.9M258.3 2465.3L279.7 2487.1M254.2 2480L269.8 2497M329.5 2374.4L367.2 2405.5M357.1 2467.1L338.4 2450.1M331.8 2481.6L321.1 2471.2M368.7 2481.6L336 2453.1M321 2496.8L308.8 2486.2M362.2 2496.8L324.9 2466.5M326.7 2511.7L303.9 2492.2M336.5 2511.7L307.6 2487.7M363.5 2526.6L311.3 2483.2M290.6 2529.2L280.2 2517.9M320.2 2529.2L295 2503M278.5 2544.4L266.6 2531.6M318.4 2544.4L286.4 2511.7M347.3 2542.6L296.5 2501.2M290.6 2558.8L265.4 2532.9M341.6 2557.5L291.3 2506.7M254.5 2561.4L245.8 2552.7M325.6 2572.2L276.5 2521.7M377.2 2576.1L295.2 2502.8M248.4 2576.1L235.8 2562.7M277.2 2579.2L248.2 2550.3M295.2 2579.2L258 2540.4M308.1 2586.9L260.5 2537.9M337.7 2586.9L275.3 2522.9M235 2594.1L219.8 2578.9M271.5 2594.1L238.2 2560.3M314.6 2601.9L255.5 2542.8M364 2601.9L280.2 2517.9M211.5 2609.1L204.2 2593M245 2609.1L217.3 2581.4M284.4 2612.7L235.8 2562.8M323.1 2616.8L253 2545.3" stroke="#c4c4c4" stroke-width="1.3" fill="none"/>
<path d="M124 2613h0m1 40h0m1-18h0m1-9h0m0 34h0m0-35h0m1-9h0m1 3h0m0 16h0m0 3h0m0-15h0m0 21h0m1-34h0m1 23h0m0 9h0m0-19h0m1 10h0m1-11h0m0 17h0m1-11h0m0 16h0m0 3h0m0-9h0m1-4h0m0 13h0m0-8h0m0-10h0m2-2h0m0-15h0m0 9h0m0 10h0m0-7h0m0 15h0m0-9h0m0 3h0m0-3h0m1-5h0m1 15h0m0-13h0m0 13h0m0 3h0m0-24h0m0 21h0m0-17h0m1 0h0m0-6h0m0 12h0m0-24h0m1 42h0m0-23h0m0-21h0m0 29h0m0-4h0m0-8h0m0-9h0m0 11h0m0-11h0m1-1h0m0 1h0m0 21h0m0-2h0m1 4h0m0-9h0m0 16h0m0-19h0m0-4h0m0 4h0m1-7h0m0 7h0m0 19h0m0 2h0m0-33h0m1 9h0m0-20h0m0 24h0m1-22h0m0 26h0m0 5h0m0-13h0m0 14h0m0-11h0m0-9h0m0 5h0m0 5h0m0-33h0m0 24h0m0 10h0m0-12h0m1 9h0m0-9h0m0 20h0m0-21h0m0 6h0m0-2h0m0 2h0m0-9h0m0 17h0m0-4h0m0-27h0m1 4h0m0 22h0m0 15h0m0-10h0m0-10h0m0-12h0m1-1h0m1 7h0m0-15h0m0 19h0m0 4h0m0 12h0m0-13h0m0-10h0m0 7h0m0-6h0m0 13h0m1-19h0m0-1h0m0 12h0m0 6h0m0-19h0m0 10h0m0 9h0m0 0h0m0-16h0m1 15h0m0-5h0m0 16h0m0-18h0m1-9h0m0-4h0m0 13h0m0-8h0m0 16h0m0-13h0m1 3h0m0-13h0m0 10h0m0 10h0m0-14h0m0 5h0m0 1h0m1 3h0m0 9h0m0-19h0m0 14h0m0-3h0m1 7h0m0-11h0m0-15h0m1 16h0m0-16h0m0 15h0m0-2h0m0 7h0m0-2h0m0 9h0m1-17h0m0 11h0m0-7h0m0-13h0m0 11h0m1 5h0m0 3h0m0-1h0m0-10h0m0 18h0m0-15h0m0 7h0m1-6h0m0-1h0m0-3h0m0 3h0m1-13h0m0 22h0m0 2h0m0-2h0m0-15h0m0-1h0m0 8h0m0 2h0m1 24h0m0-27h0m0-5h0m0 2h0m0 6h0m0-6h0m0-1h0m0-3h0m1 14h0m0-11h0m0 6h0m1-6h0m0 4h0m0 0h0m0 1h0m0 15h0m0-9h0m0 2h0m1 0h0m0-4h0m0-7h0m0-1h0m0-10h0m0 17h0m0-9h0m1 6h0m0-14h0m0 9h0m0 0h0m0 8h0m1 10h0m0-22h0m0 18h0m0-14h0m0 3h0m0 0h0m0 10h0m0-10h0m1-13h0m0 20h0m0-4h0m0 0h0m0-2h0m1-14h0m0 16h0m0-10h0m0 15h0m0-2h0m1-24h0m0 19h0m0 10h0m0-33h0m0 10h0m0-6h0m0 14h0m0-10h0m0 17h0m1-12h0m0 1h0m0-8h0m0 9h0m0 5h0m0-7h0m0 12h0m0-11h0m0-14h0m1 15h0m0 2h0m0 9h0m0-6h0m1-5h0m0 10h0m1-23h0m0 3h0m0 7h0m0 6h0m0-2h0m0-6h0m0 1h0m1 12h0m0-15h0m0 11h0m0-14h0m0 7h0m0-6h0m0 2h0m1 12h0m0-10h0m0-8h0m0 10h0m0-9h0m0 13h0m0 0h0m1-2h0m0 4h0m1 2h0m0-11h0m0 12h0m1 4h0m0-11h0m1-9h0m0 6h0m0 1h0m0-13h0m0-1h0m1 15h0m0 1h0m0-3h0m0-2h0m0 4h0m0-6h0m1 8h0m1-14h0m0 10h0m0 3h0m0 6h0m0-18h0m0 10h0m0-4h0m0-4h0m1-5h0m0 7h0m1-11h0m0 8h0m0-7h0m0 11h0m0 11h0m0-28h0m1 28h0m0-15h0m0 5h0m0-6h0m0 9h0m0 1h0m2-11h0m0 2h0m1-1h0m0 4h0m0-9h0m0 7h0m1 0h0m0 8h0m0-16h0m0 3h0m0 3h0m1 2h0m0 0h0m1 8h0m0-16h0m0 10h0m0 6h0m0-4h0m1-2h0m1-14h0m0 4h0m0 9h0m1 8h0m0-11h0m0-2h0m0-4h0m0 9h0m0-4h0m0-4h0m1 10h0m0-7h0m0 3h0m0-16h0m1 3h0m0 10h0m0 4h0m0-4h0m0 3h0m0-6h0m1 5h0m0 1h0m0-9h0m0-5h0m1 13h0m0-9h0m0 9h0m1-1h0m1 11h0m0-24h0m0 18h0m1-2h0m1-9h0m0-2h0m1 5h0m0 8h0m0-7h0m0 6h0m0 0h0m1-4h0m0-7h0m1-2h0m0 6h0m0-6h0m0 10h0m1-2h0m0-4h0m0-11h0m0 13h0m0 10h0m1-8h0m0-6h0m0-11h0m1 23h0m0-7h0m0-1h0m0-2h0m0-7h0m1-4h0m0 5h0m0 8h0m0 2h0m1-11h0m0 2h0m0-3h0m0-4h0m0 11h0m1-15h0m0-3h0m0 1h0m1 2h0m0 0h0m0 10h0m0 3h0m0-13h0m0 13h0m1-7h0m0 4h0m0-7h0m0 2h0m0-3h0m0-5h0m1 10h0m0 5h0m0-13h0m0 13h0m0-5h0m1-12h0m0 10h0m0-8h0m0 6h0m0 6h0m1 0h0m0 2h0m0-1h0m0-10h0m1 0h0m0-1h0m1 4h0m0 2h0m0-6h0m0-7h0m0 9h0m1 6h0m0 3h0m1-16h0m0 2h0m1 2h0m0 7h0m0-6h0m0 7h0m1-6h0m0-11h0m2 4h0m0 2h0m1 13h0m0-12h0m0-3h0m0-3h0m1 13h0m0-16h0m0 11h0m0-7h0m0 5h0m1-3h0m0 7h0m0 2h0m0-11h0m0-1h0m0 11h0m1-6h0m0-3h0m0 1h0m0 10h0m1-10h0m0 1h0m1-3h0m0 0h0m1 5h0m0-10h0m0 10h0m1-5h0m1-10h0m1 8h0m1-12h0m0 18h0m0 2h0m0-2h0m0-13h0m0 9h0m1-11h0m0-4h0m1 9h0m0 2h0m0-2h0m0-4h0m0 2h0m0-3h0m0-1h0m1 2h0m0-4h0m0 0h0m0 5h0m0-2h0m0 6h0m0-13h0m0 12h0m2 2h0m0-4h0m1-2h0m0 2h0m0-2h0m0-2h0m0-3h0m1-5h0m0 11h0m0-4h0m1 1h0m0 3h0m0-3h0m0-5h0m1 2h0m0 0h0m0 1h0m1 3h0m0 6h0m0-11h0m1 4h0m1-12h0m0 11h0m0-16h0m1 4h0m0 3h0m1-6h0m0 3h0m1 9h0m1 0h0m0-9h0m1 12h0m0-16h0m0 11h0m0-4h0m1 6h0m0-1h0m0-6h0m1-4h0m0 2h0m3-1h0m0-1h0m0 1h0m1-5h0m0 8h0m0 3h0m1-3h0m1-11h0m0-2h0m0 3h0m0-2h0m1 10h0m2-10h0m0 2h0m0-2h0m1-3h0m2 1h0m0 1h0m0 6h0m1-6h0m0-3h0m0 3h0m1-2h0m0-3h0m0 5h0m1-3h0m1-3h0m0 3h0m0-1h0m1-5h0m1 5h0m0-2h0m0-7h0m1 10h0m0-5h0m0 1h0m1-8h0m0 5h0m0 4h0m2 5h0m0-9h0m0-4h0m1 7h0m0-6h0m0 1h0m0-5h0m0 6h0m1-2h0m0 0h0m1-5h0m0 7h0m1-5h0m0 1h0m1 1h0m1-4h0m0 4h0m0 5h0m0-12h0m0 4h0m0 5h0m1-11h0m1 7h0m0 2h0m0-3h0m5-5h0m0-5h0m1 7h0m0-2h0m1 0h0m0-1h0m0-3h0m0 2h0m0 0h0m0-2h0m1-2h0m0 3h0m1 1h0m0-9h0m1-7h0m0 9h0m1-1h0m1 0h0m1-3h0m0 6h0m1-8h0m1 7h0m0-5h0m0-1h0m0-2h0m2 5h0m0-7h0m2 7h0m2-14h0m0 5h0m0-1h0m1-1h0m1 2h0m0-6h0m1 4h0m1-1h0m1-5h0m1-1h0m0 9h0m0-6h0m1-1h0m1-1h0m0-1h0m0 0h0m0 0h0m4-7h0m0 2h0m0-7h0m0 10h0m1-1h0m3-9h0m1 1h0m0 1h0m0-1h0m1-8h0m0 6h0m0 4h0m0-5h0m1-2h0m0-1h0m0 4h0m1-5h0m2-5h0m0 12h0m1-11h0m0-1h0m2 2h0m1 3h0m0-3h0m0-5h0m1-1h0m0 4h0m1-5h0m0 5h0m1-2h0m0-1h0m1 2h0m1-6h0m1 1h0m0-3h0m3-3h0m0 2h0m2-4h0m0 2h0m0-2h0m1-3h0m0-2h0m3-2h0m1 2h0m2-1h0m1-2h0m2-2h0m1-3h0m3-1h0m0-1h0m0 2h0m0-6h0m1 0h0m0-4h0m0 7h0m2-8h0m1 0h0m0 4h0m1-2h0m1-5h0m1 3h0m0-3h0m1 1h0m0-3h0m2-3h0m2-5h0m0 2h0m0 8h0" stroke="#8a8a8a" stroke-width="4.6" stroke-linecap="round" fill="none" />
<path d="M164 2595h0m1-6h0m5 4h0m0-6h0m7 0h0m2-3h0m7-4h0m5-4h0m0-4h0m3-3h0m3 5h0m1-1h0m6-7h0m1 5h0m0-1h0m3-14h0m1 0h0m0 7h0m2-7h0m1-1h0m0 9h0m1-1h0m1-11h0m0 10h0m3-9h0m1 6h0m0-1h0m1-11h0m6-19h0m1 14h0m0 4h0m1 2h0m1 1h0m1-4h0m1 1h0m0-5h0m0 4h0m1-1h0m3-4h0m0 1h0m2-2h0m0-2h0m1 0h0m3-1h0m1 0h0m1-4h0m1 0h0m3-6h0m0-4h0m4 5h0m2-4h0m0 0h0m0-20h0m1 20h0m0-5h0m3 2h0m1-14h0m1 7h0m0 5h0m2-7h0m4-12h0m2 11h0m0-1h0m2-1h0m2-5h0m0-7h0m2 2h0m0 0h0m2 2h0m3-12h0m1 8h0m2 1h0m1-7h0m4-1h0m1 0h0m0-3h0m1-1h0m0 0h0m6-1h0m0-5h0m2 2h0m0 0h0m5-7h0m0-2h0m1-4h0m2 1h0m3-1h0m2-4h0m2-3h0m1-1h0m2-9h0m1 4h0m2-7h0m3-1h0m0 1h0m4-4h0m1-1h0m0-3h0m0 5h0m4-14h0m2 4h0m4-3h0m3-3h0m6-8h0m1-4h0m6-11h0m2-7h0m6 2h0" stroke="#9c1c1f" stroke-width="4.6" stroke-linecap="round" fill="none" />
<path d="M142 2639h0m12-19h0m5-4h0m0-1h0m0 17h0m5-20h0m18-9h0m4-8h0m1 18h0m5-21h0m4 3h0m1-2h0m1 4h0m4-6h0m0-6h0m2 7h0m4 17h0m1-27h0m8-2h0m1-8h0m3 3h0m2-9h0m0 1h0m0 2h0m1-1h0m1 0h0m0-4h0m2 0h0m2 6h0m1-10h0m3-3h0m3 6h0m2-9h0m1-4h0m2 18h0m1-2h0m0-20h0m2 4h0m0-3h0m1-1h0m0 3h0m0 3h0m1-9h0m1 1h0m1-3h0m1 2h0m0-3h0m0 1h0m1 0h0m2-4h0m3 1h0m1-4h0m2-4h0m1 15h0m0-13h0m1-3h0m1 2h0m1-3h0m1 0h0m0 2h0m1-2h0m0-2h0m0 3h0m4-5h0m1 3h0m0 3h0m0-2h0m2-9h0m2-3h0m1 1h0m0 1h0m1-2h0m1 2h0m0 5h0m1-9h0m1 4h0m0-5h0m0 31h0m0-26h0m1-1h0m0-6h0m2-2h0m0 7h0m0 0h0m0-9h0m1-1h0m0 1h0m1 1h0m2-2h0m0-1h0m2 9h0m0 2h0m2-16h0m1-1h0m0-1h0m1 17h0m0-18h0m0 2h0m0-1h0m1 0h0m2 3h0m0-1h0m0-1h0m1-6h0m1 4h0m1-1h0m1 1h0m1-6h0m1-4h0m2 2h0m2-2h0m6-9h0m0 8h0m1-9h0m1-3h0m0 5h0m5-11h0m0 0h0m0 0h0m1 3h0m1-6h0m0 3h0m1 0h0m1 0h0m2 6h0m0-15h0m0 0h0m2 1h0m2-3h0m1-2h0m6-10h0m0 4h0m5-9h0m0 2h0m1-5h0m3 1h0m1-6h0m1 0h0m3 5h0m1-9h0m1-2h0m1-1h0m9-1h0m0-3h0m1-9h0m1 0h0m1 3h0m1-1h0" stroke="#232b8e" stroke-width="4.6" stroke-linecap="round" fill="none" />
<text x="297.5" y="2401.4" font-size="8.3" fill="#a0303a">SSU−rRNA_Hsa</text>
<text x="272.5" y="2438.7" font-size="8.3" fill="#a0303a">HERVK−int</text>
<text x="239.6" y="2453.4" font-size="8.3" fill="#a0303a">LFSINE_Vert</text>
<text x="215.9" y="2468.3" font-size="8.3" fill="#a0303a">ALR/Alpha</text>
<text x="262.2" y="2469.1" font-size="8.3" fill="#a0303a">L1PB3</text>
<text x="221" y="2483" font-size="8.3" fill="#a0303a">LTR5_Hs</text>
<text x="231.3" y="2497.2" font-size="8.3" fill="#a0303a">MLT2A1</text>
<text x="214.3" y="2515.5" font-size="8.3" fill="#a0303a">LTR81B</text>
<text x="186" y="2532.2" font-size="8.3" fill="#a0303a">FordPrefect</text>
<text x="170" y="2546.9" font-size="8.3" fill="#a0303a">HERVI−int</text>
<text x="330.5" y="2377.4" font-size="8.3" fill="#3c48a2">LSU−rRNA_Hsa</text>
<text x="362.7" y="2425.3" font-size="8.3" fill="#3c48a2">HERVH−int</text>
<text x="348.3" y="2440.5" font-size="8.3" fill="#3c48a2">L1HS</text>
<text x="334.9" y="2455.4" font-size="8.3" fill="#3c48a2">L1PA10</text>
<text x="322" y="2470.1" font-size="8.3" fill="#3c48a2">L1PA13</text>
<text x="358.1" y="2470.1" font-size="8.3" fill="#3c48a2">LTR7</text>
<text x="310.9" y="2484.6" font-size="8.3" fill="#3c48a2">L1M2</text>
<text x="332.8" y="2484.6" font-size="8.3" fill="#3c48a2">MER61−int</text>
<text x="369.7" y="2484.6" font-size="8.3" fill="#3c48a2">MSTA−int</text>
<text x="292.9" y="2499.8" font-size="8.3" fill="#3c48a2">BSR/Beta</text>
<text x="322" y="2499.8" font-size="8.3" fill="#3c48a2">HSMAR1</text>
<text x="363.2" y="2499.8" font-size="8.3" fill="#3c48a2">LTR8</text>
<text x="293.7" y="2517.8" font-size="8.3" fill="#3c48a2">MER11C</text>
<text x="327.7" y="2514.7" font-size="8.3" fill="#3c48a2">LTR8A</text>
<text x="337.5" y="2514.7" font-size="8.3" fill="#3c48a2">tRNA−Ser−TCA(m)</text>
<text x="364.5" y="2529.6" font-size="8.3" fill="#3c48a2">Charlie18a</text>
<text x="291.6" y="2532.2" font-size="8.3" fill="#3c48a2">L1M3de</text>
<text x="321.2" y="2532.2" font-size="8.3" fill="#3c48a2">HERV17−int</text>
<text x="264.8" y="2547.4" font-size="8.3" fill="#3c48a2">Charlie5</text>
<text x="279.5" y="2547.4" font-size="8.3" fill="#3c48a2">HUERS−P3b</text>
<text x="319.4" y="2547.4" font-size="8.3" fill="#3c48a2">L1M6B</text>
<text x="348.3" y="2545.6" font-size="8.3" fill="#3c48a2">HUERS−P1−int</text>
<text x="291.6" y="2561.8" font-size="8.3" fill="#3c48a2">MER61A</text>
<text x="342.6" y="2560.5" font-size="8.3" fill="#3c48a2">MER4D1</text>
<text x="255.5" y="2564.4" font-size="8.3" fill="#3c48a2">LTR82A</text>
<text x="326.6" y="2575.2" font-size="8.3" fill="#3c48a2">LTR41B</text>
<text x="378.2" y="2579.1" font-size="8.3" fill="#3c48a2">L1M3a</text>
<text x="249.4" y="2579.1" font-size="8.3" fill="#3c48a2">HERVK11−int</text>
<text x="278.2" y="2582.2" font-size="8.3" fill="#3c48a2">MER9</text>
<text x="296.2" y="2582.2" font-size="8.3" fill="#3c48a2">CL34</text>
<text x="233.6" y="2583" font-size="8.3" fill="#3c48a2">LTR77Y</text>
<text x="309.1" y="2589.9" font-size="8.3" fill="#3c48a2">MER52D</text>
<text x="338.7" y="2589.9" font-size="8.3" fill="#3c48a2">HERV4_I−int</text>
<text x="236" y="2597.1" font-size="8.3" fill="#3c48a2">Charlie21a</text>
<text x="272.5" y="2597.1" font-size="8.3" fill="#3c48a2">MER110A</text>
<text x="315.6" y="2604.9" font-size="8.3" fill="#3c48a2">HERVH48−int</text>
<text x="365" y="2604.9" font-size="8.3" fill="#3c48a2">MER61C</text>
<text x="212.5" y="2612.1" font-size="8.3" fill="#3c48a2">LTR77</text>
<text x="246" y="2612.1" font-size="8.3" fill="#3c48a2">LTR21A</text>
<text x="285.4" y="2615.7" font-size="8.3" fill="#3c48a2">MER51B</text>
<text x="324.1" y="2619.8" font-size="8.3" fill="#3c48a2">tRNA−Leu−TTA(m)</text>
<rect x="108.2" y="2342.5" width="298.3" height="23.7" fill="#d9d9d9" stroke="#4a4a4a" stroke-width="1.3" />
<rect x="108.2" y="2366.2" width="298.3" height="300.1" fill="none" stroke="#555" stroke-width="1.5" />
<line x1="108.2" y1="2366.2" x2="406.5" y2="2366.2" stroke="#222" stroke-width="2.2" />
<text x="257.4" y="2360.5" font-size="20.5" text-anchor="middle">Mesoderm Prog.</text>
<line x1="104.2" y1="2596.5" x2="108.2" y2="2596.5" stroke="#444" stroke-width="1.2" />
<text x="102.2" y="2602.2" font-size="16" text-anchor="end">4</text>
<line x1="104.2" y1="2520.1" x2="108.2" y2="2520.1" stroke="#444" stroke-width="1.2" />
<text x="102.2" y="2525.8" font-size="16" text-anchor="end">8</text>
<line x1="104.2" y1="2443.7" x2="108.2" y2="2443.7" stroke="#444" stroke-width="1.2" />
<text x="102.2" y="2449.4" font-size="16" text-anchor="end">12</text>
<line x1="104.2" y1="2367.3" x2="108.2" y2="2367.3" stroke="#444" stroke-width="1.2" />
<text x="102.2" y="2373" font-size="16" text-anchor="end">16</text>
<line x1="118.5" y1="2666.3" x2="118.5" y2="2670.3" stroke="#444" stroke-width="1.2" />
<text x="118.5" y="2686.9" font-size="16" text-anchor="middle">0</text>
<line x1="205.7" y1="2666.3" x2="205.7" y2="2670.3" stroke="#444" stroke-width="1.2" />
<text x="205.7" y="2686.9" font-size="16" text-anchor="middle">5</text>
<line x1="292.8" y1="2666.3" x2="292.8" y2="2670.3" stroke="#444" stroke-width="1.2" />
<text x="292.8" y="2686.9" font-size="16" text-anchor="middle">10</text>
<line x1="379.9" y1="2666.3" x2="379.9" y2="2670.3" stroke="#444" stroke-width="1.2" />
<text x="379.9" y="2686.9" font-size="16" text-anchor="middle">15</text>
<path d="M599.1 2375L650.5 2417.2M635.5 2375L660.6 2405.1M666.4 2375L677.8 2391.9M578.5 2389.8L634.7 2436.3M617.8 2389.8L650.5 2417.2M647.3 2389.8L660.5 2405.1M568.9 2404.8L622.6 2451M608.8 2404.8L639.6 2430.5M628.5 2404.8L646.9 2421.6M546.5 2420.2L606.8 2470.2M580.4 2420.2L620.2 2454M613.7 2420.2L633.5 2437.8M525.4 2435.2L591 2489.3M565.2 2435.2L606.8 2470.2M602 2435.2L621.4 2452.5M505.7 2449.5L575.2 2508.4M554.3 2449.5L594.7 2484.8M580.4 2449.5L605.6 2471.6M508.1 2464.5L569.1 2515.7M528.9 2464.5L577.6 2505.4M561 2464.5L591 2489.3M476.6 2479.7L548.5 2540.7M528.5 2479.7L570.3 2514.3M549.2 2479.7L578.8 2504M564.6 2479.7L584.9 2496.7M510.5 2494.5L555.7 2531.9M556.9 2494.5L574 2509.8M529.1 2509.2L555.8 2531.9M534.2 2509.2L558.2 2529M502.4 2524.2L537.5 2554M542.2 2524.2L553.4 2534.8M475.1 2539.4L499.6 2589.2M524.9 2539.4L538.8 2552.4M646.8 2475.7L636.9 2466.8M633.2 2491L623.6 2482.9M616.3 2526.6L599.3 2512.4M591 2546L579.8 2535.9M582.1 2561.2L568.9 2549.2" stroke="#c4c4c4" stroke-width="1.3" fill="none"/>
<path d="M461 2609h0m0 17h0m2-5h0m1-11h0m1 15h0m0-6h0m0 12h0m0-15h0m0-1h0m1 5h0m0-7h0m0 8h0m2 13h0m0-21h0m0-7h0m0 12h0m1 9h0m0 0h0m0-31h0m0-12h0m0 17h0m1 25h0m0-3h0m0-8h0m2 5h0m0 9h0m0-10h0m0 16h0m1-10h0m0-6h0m1-7h0m0 3h0m0 0h0m0 2h0m0 1h0m1-3h0m0-10h0m0 5h0m0 0h0m1 17h0m0-9h0m0-4h0m0 8h0m1-1h0m0-13h0m0 17h0m0-6h0m1 3h0m1-8h0m0-12h0m0 31h0m0-9h0m0-1h0m0-23h0m0 15h0m0 0h0m0-2h0m0-6h0m1 23h0m0-10h0m0-33h0m0 27h0m0 9h0m0-2h0m0-10h0m0-18h0m0 21h0m1-12h0m0 6h0m0 5h0m0-7h0m1 4h0m0 10h0m0 1h0m0-14h0m0 15h0m0 19h0m0-9h0m0-14h0m1 0h0m0-6h0m0-12h0m0 19h0m0-9h0m0 2h0m0-5h0m1 16h0m0-9h0m0 16h0m1-45h0m0 38h0m0-9h0m0-4h0m1 9h0m0-26h0m0 34h0m0-14h0m1 0h0m0-5h0m1-2h0m0 20h0m0 0h0m0-30h0m0 29h0m0-5h0m0-27h0m1 27h0m0-18h0m0 9h0m0 0h0m0 12h0m1-18h0m0 2h0m0-6h0m0 6h0m0 5h0m0 1h0m0-2h0m1-8h0m0 4h0m0-1h0m0 4h0m0-3h0m0 16h0m0-4h0m0-6h0m0-10h0m0 6h0m0-22h0m1 31h0m0-13h0m0 12h0m0-12h0m0 9h0m0 4h0m0-3h0m1-4h0m0-13h0m0 8h0m0-3h0m0 17h0m0-19h0m0 11h0m1-13h0m0 0h0m0 16h0m0-19h0m1-9h0m0 33h0m0-13h0m1-4h0m0-6h0m0 14h0m0 7h0m0-13h0m0 1h0m1 9h0m0-10h0m0 14h0m0-17h0m1 1h0m0-8h0m0 16h0m0 1h0m0-10h0m1-1h0m0 3h0m0 10h0m0 2h0m0-8h0m0-8h0m0-12h0m0 33h0m0-17h0m0 19h0m0-15h0m0-17h0m1-2h0m0 4h0m0 13h0m0-14h0m0 9h0m0-8h0m1 12h0m0 1h0m0 4h0m0 11h0m0-19h0m0 7h0m0-25h0m1 17h0m0 14h0m0-13h0m0-8h0m0 27h0m0-23h0m1 21h0m0-13h0m0-5h0m0-24h0m0 40h0m1-17h0m0 9h0m0 3h0m0-14h0m0 26h0m1-15h0m1-3h0m0 9h0m0-5h0m0 6h0m0-16h0m1 4h0m0-9h0m0-1h0m0 7h0m0 2h0m0-9h0m1-5h0m0 3h0m0 13h0m1-4h0m0 1h0m0 0h0m0-4h0m0-9h0m0 13h0m1-7h0m0 6h0m0-2h0m1-10h0m0-6h0m0 10h0m1 13h0m0-4h0m0-4h0m0-4h0m0 1h0m1 15h0m0-27h0m0 21h0m0-15h0m0 14h0m1 2h0m0-10h0m0 4h0m0-10h0m0 23h0m1-18h0m0-3h0m1 5h0m0-1h0m0-1h0m0 0h0m0 17h0m0-10h0m0-9h0m0 10h0m1 3h0m0-26h0m0 23h0m1-18h0m0 17h0m0-22h0m0 13h0m0-8h0m1 11h0m0-11h0m0 3h0m0-1h0m0-7h0m0 10h0m0 7h0m0-15h0m0 4h0m0 3h0m0-6h0m1 5h0m0-4h0m0 19h0m0-15h0m0-5h0m0 25h0m0-20h0m1 12h0m0-1h0m0-9h0m0 3h0m0 1h0m0-4h0m1-11h0m0 11h0m0 3h0m0-12h0m0 20h0m1-3h0m0-1h0m0-1h0m1-27h0m0 25h0m0-4h0m0-8h0m0 5h0m0 1h0m1-5h0m0 3h0m0-5h0m0 5h0m0-7h0m0 1h0m1 6h0m0-9h0m0 4h0m0 1h0m0-1h0m1 12h0m0-4h0m1-11h0m0 1h0m0 1h0m1 4h0m0 11h0m0-26h0m0 7h0m0 21h0m0-14h0m1-9h0m0-1h0m0 9h0m1 1h0m0 16h0m0-22h0m0 3h0m0 1h0m1-7h0m0 19h0m0-7h0m0-7h0m0 13h0m0-10h0m0-3h0m0 9h0m0-23h0m0 4h0m1 7h0m0 15h0m0-26h0m0 4h0m1 0h0m0-3h0m0 23h0m0-15h0m0-5h0m0 12h0m1 2h0m0-2h0m0-10h0m1 2h0m0 12h0m0-13h0m0 14h0m0-12h0m1-7h0m0 3h0m0 4h0m1-7h0m0 3h0m2-11h0m0 5h0m0 8h0m0-12h0m0 5h0m0 3h0m0-8h0m1 8h0m0-3h0m0-5h0m0 16h0m0-15h0m1 11h0m0-3h0m0-12h0m0 5h0m0 2h0m1-1h0m0 3h0m0-5h0m1-5h0m0 2h0m1 8h0m0 8h0m0-13h0m0 7h0m1-4h0m0 7h0m0-15h0m0 1h0m0 0h0m0 0h0m0 8h0m0-11h0m0 1h0m0-1h0m1 14h0m0-13h0m0 7h0m0 9h0m0-19h0m1 4h0m0-7h0m0 19h0m0-4h0m0 2h0m1-5h0m0-3h0m0 4h0m0-4h0m0-6h0m0 5h0m0-1h0m1-4h0m0-8h0m0 10h0m0-2h0m1 8h0m0 9h0m0-3h0m1-4h0m0-14h0m1 6h0m0 2h0m0 3h0m1-10h0m0 1h0m0 11h0m0-11h0m0 5h0m1-8h0m0-12h0m0 28h0m0-23h0m0 15h0m1 0h0m0 6h0m0-21h0m1 5h0m0 5h0m0-4h0m0 8h0m0-4h0m0 2h0m1-7h0m0-5h0m0 22h0m0-8h0m0-10h0m1 2h0m0 3h0m0-15h0m0 10h0m0-2h0m0-1h0m1 4h0m0-3h0m1 8h0m1-1h0m0-11h0m0 7h0m1-9h0m0-1h0m1-9h0m0 18h0m0-7h0m0 1h0m1 0h0m0-10h0m0 10h0m0-2h0m1 2h0m0 10h0m0-18h0m0 9h0m0 5h0m0-5h0m0 0h0m1-4h0m1 4h0m1-8h0m1 2h0m0 2h0m2-12h0m0-4h0m0 16h0m1-4h0m0 0h0m0-7h0m0 10h0m0-7h0m1-4h0m0 11h0m0-11h0m0-1h0m0 9h0m0-3h0m0 9h0m1-11h0m1 10h0m0-18h0m0 13h0m0-11h0m1-1h0m0-1h0m0-1h0m1 15h0m1-15h0m0 7h0m0-7h0m1 3h0m2-3h0m1 3h0m0-1h0m0-12h0m0 3h0m0 8h0m1-4h0m0 9h0m0-12h0m1 6h0m0-6h0m0-1h0m0 4h0m0 2h0m1-3h0m0-1h0m0 2h0m1 2h0m1-3h0m0 3h0m0-13h0m0 3h0m1 5h0m1-1h0m0-4h0m1-1h0m0 1h0m0-5h0m0 4h0m1-1h0m0-6h0m0 2h0m1 3h0m0-5h0m1-5h0m0 5h0m1-2h0m0 13h0m1-3h0m0-8h0m0-4h0m0 13h0m1-11h0m1 8h0m0-9h0m0 6h0m1 2h0m0-8h0m1 6h0m1-13h0m0 7h0m1 8h0m0-17h0m0 6h0m1-7h0m0 7h0m0-1h0m1 4h0m0-6h0m0 5h0m1-2h0m0 1h0m0 7h0m1-16h0m1 11h0m0-6h0m1 7h0m0-12h0m0 2h0m0 0h0m0-5h0m0 6h0m1-8h0m2-4h0m1 17h0m1-16h0m0 5h0m0 2h0m0 2h0m1-7h0m0 8h0m0-7h0m0 4h0m2-7h0m1 6h0m2-11h0m1 2h0m0-6h0m1 8h0m0-6h0m0 1h0m0 2h0m1 1h0m0-4h0m0 0h0m0 4h0m1-2h0m0-2h0m1-10h0m1 7h0m0-10h0m0 8h0m3-4h0m1-2h0m2-4h0m0 2h0m1 0h0m0-5h0m2 7h0m0-2h0m1-7h0m1 3h0m0 1h0m0-1h0m1-4h0m0 1h0m1 10h0m2-5h0m0-3h0m1-6h0m0 4h0m0-5h0m0 1h0m3-2h0m0 2h0m2-5h0m1-5h0m1 4h0m0-2h0m1 5h0m2-9h0m0 0h0m2-4h0m1-5h0m0 6h0m2-6h0m1 4h0m0 5h0m1-4h0m0-1h0m0-1h0m1-4h0m1-2h0m0 8h0m2-9h0m0-4h0m0 3h0m1 3h0m1-6h0m0 2h0m1 6h0m0-6h0m1-5h0m0 0h0m1-2h0m2 5h0m1-1h0m0 2h0m0 0h0m1-3h0m2-1h0m1 1h0m0 7h0m1-4h0m0-7h0m0 0h0m1 1h0m1-1h0m0-2h0m0 4h0m0 2h0m2-6h0m0 5h0m1-11h0m1 4h0m0 7h0m1-15h0m0 6h0m1 4h0m0-4h0m1-1h0m0 3h0m2-5h0m0 2h0m0 0h0m2-1h0m1 1h0m0-4h0m1 1h0m1 2h0m0-6h0m0 2h0m1-3h0m0 2h0m1 4h0m3-6h0m1 1h0m0-5h0m1 8h0m1-10h0" stroke="#8a8a8a" stroke-width="4.6" stroke-linecap="round" fill="none" />
<path d="M472 2610h0m1 2h0m2-12h0m1 8h0m1 0h0m4-5h0m3 0h0m2-9h0m0 11h0m0-7h0m2-2h0m3-9h0m3 14h0m2-7h0m3-1h0m1-28h0m1 27h0m3-3h0m1 2h0m6 0h0m0-1h0m2 1h0m3-7h0m0-40h0m0 42h0m1 2h0m2-4h0m0 0h0m1 1h0m2-6h0m4-5h0m0 1h0m2-8h0m1 0h0m1 1h0m0-6h0m1 8h0m2-3h0m3-1h0m1-5h0m0-6h0m1 6h0m1-2h0m2-1h0m0-2h0m2 0h0m0-3h0m1 1h0m2-1h0m0-2h0m1-2h0m1 3h0m3-7h0m1-2h0m0 3h0m0 0h0m1-5h0m0 4h0m0-3h0m2-5h0m0 3h0m0-4h0m1 3h0m0 3h0m1-4h0m1-2h0m1 2h0m0-5h0m0-3h0m2 2h0m0 4h0m1-1h0m1-5h0m0-10h0m1 12h0m0-6h0m1 6h0m3-8h0m1 2h0m0-1h0m0-2h0m0-3h0m1 2h0m0-5h0m0 6h0m1-2h0m0 3h0m0-8h0m0 7h0m1-11h0m1 1h0m2 6h0m0-3h0m1-4h0m1 5h0m0-4h0m0 2h0m1-3h0m0 1h0m1 0h0m0-4h0m0 4h0m1 0h0m0-1h0m2-11h0m1 8h0m2-6h0m0 4h0m0-9h0m2 4h0m1-13h0m0 14h0m1-14h0m0 8h0m0 0h0m2-7h0m0 9h0m1 0h0m0-1h0m1-1h0m0-10h0m0 5h0m1 3h0m0 1h0m0-2h0m1-8h0m0-1h0m0 7h0m0 0h0m0-3h0m1 1h0m0 2h0m1-1h0m0-2h0m1-14h0m0 15h0m1-1h0m0-5h0m1 5h0m1-3h0m0 1h0m0-6h0m1 5h0m1 0h0m0-5h0m0 3h0m1-6h0m0 6h0m0-1h0m2-6h0m0 5h0m0-23h0m2 16h0m0-13h0m1 14h0m1-6h0m0 4h0m1 2h0m0-8h0m0-1h0m0 8h0m0-3h0m0-2h0m1 2h0m0-2h0m1-3h0m1-2h0m0 5h0m1-17h0m0 16h0m0-8h0m0-1h0m1 5h0m0-4h0m0 1h0m1 1h0m2-1h0m1 2h0m1 0h0m0-9h0m1 4h0m0-3h0m0-14h0m1 14h0m2-10h0m0 7h0m1-2h0m0-2h0m1 3h0m0 3h0m0-2h0m1 0h0m1 0h0m0-2h0m0 1h0m1-13h0m1 4h0m0 8h0m1-13h0m0 2h0m0 9h0m2-10h0m0 6h0m1-18h0m1 7h0m0 10h0m0-3h0m1 2h0m0-8h0m0 8h0m1-2h0m1-1h0m1 0h0m0 0h0m0-6h0m1-1h0m1 2h0m3-4h0m2 1h0m1-4h0m0 0h0m0 0h0m2-6h0m0 6h0m2-8h0m1 3h0m3-2h0m1-4h0m1 2h0m0-2h0m0 2h0m0 0h0m0-3h0m0 1h0m2-5h0m2-3h0m2-1h0m0 2h0m1-6h0m0-6h0m3-1h0m2 9h0m0 0h0m0 0h0m0-1h0m5-2h0m0-5h0m1 3h0m0-8h0m1 9h0m14-13h0m1-2h0m0 3h0m1-4h0" stroke="#9c1c1f" stroke-width="4.6" stroke-linecap="round" fill="none" />
<path d="M475 2627h0m13 18h0m9-25h0m4-7h0m15-8h0m11-8h0m4-2h0m0-9h0m2-1h0m10-13h0m0-1h0m3-3h0m2 1h0m1-4h0m0 1h0m4 2h0m1-3h0m1-1h0m0-9h0m1 6h0m1-6h0m0 5h0m1-1h0m1 17h0m1-21h0m1 0h0m3-7h0m0 8h0m1-7h0m1 0h0m2-4h0m1-6h0m2 4h0m2 12h0m3-24h0m4-6h0m2 9h0m3-4h0m1-11h0m0 3h0m0 7h0m1-10h0m4-7h0m6-7h0m1 2h0m5-6h0m1-4h0m1 12h0m0-8h0m1 11h0m1-18h0m0-1h0m4-2h0m3-5h0m3 0h0m0-4h0m0-1h0m2-2h0m1 0h0m0 3h0m4-1h0m4-9h0m2-4h0m4-7h0m2-2h0m1 0h0m1 1h0m2-3h0m0-1h0m0-2h0m1 11h0m3-16h0m0 0h0m8-6h0m2-7h0m2 2h0m6 1h0m1-10h0m3-4h0m1-2h0m12-3h0m10-11h0m3 3h0m3-7h0m4-7h0" stroke="#232b8e" stroke-width="4.6" stroke-linecap="round" fill="none" />
<text x="570.5" y="2378" font-size="8.3" fill="#a0303a">HAL1ME</text>
<text x="611.5" y="2378" font-size="8.3" fill="#a0303a">L1PA5</text>
<text x="642.4" y="2378" font-size="8.3" fill="#a0303a">L1MEc</text>
<text x="679.9" y="2378" font-size="8.3" fill="#a0303a">AluSc</text>
<text x="549.9" y="2392.8" font-size="8.3" fill="#a0303a">7SLRNA</text>
<text x="589.2" y="2392.8" font-size="8.3" fill="#a0303a">L1ME3A</text>
<text x="627.9" y="2392.8" font-size="8.3" fill="#a0303a">L1M4</text>
<text x="661.1" y="2392.8" font-size="8.3" fill="#a0303a">L1M4c</text>
<text x="531.1" y="2407.8" font-size="8.3" fill="#a0303a">Tigger3b</text>
<text x="571" y="2407.8" font-size="8.3" fill="#a0303a">Charlie6</text>
<text x="609.1" y="2407.8" font-size="8.3" fill="#a0303a">L1M6</text>
<text x="645.4" y="2407.8" font-size="8.3" fill="#a0303a">MER20</text>
<text x="522.5" y="2423.2" font-size="8.3" fill="#a0303a">L1M4b</text>
<text x="556.4" y="2423.2" font-size="8.3" fill="#a0303a">L1ME3</text>
<text x="589.7" y="2423.2" font-size="8.3" fill="#a0303a">L1MB2</text>
<text x="623.2" y="2419" font-size="8.3" fill="#a0303a">L1ME3Cz</text>
<text x="615" y="2434.7" font-size="8.3" fill="#a0303a">L1MD2</text>
<text x="501.4" y="2438.2" font-size="8.3" fill="#a0303a">L1M3a</text>
<text x="541.2" y="2438.2" font-size="8.3" fill="#a0303a">L1M6B</text>
<text x="578" y="2438.2" font-size="8.3" fill="#a0303a">L1MC3</text>
<text x="467.9" y="2452.5" font-size="8.3" fill="#a0303a">Charlie9</text>
<text x="507.3" y="2452.5" font-size="8.3" fill="#a0303a">UCON71_Crp</text>
<text x="556.4" y="2452.5" font-size="8.3" fill="#a0303a">L1MC2</text>
<text x="589.2" y="2452.5" font-size="8.3" fill="#a0303a">L1PA15</text>
<text x="470.3" y="2467.5" font-size="8.3" fill="#a0303a">Tigger6a</text>
<text x="504.9" y="2467.5" font-size="8.3" fill="#a0303a">L1MA5</text>
<text x="537" y="2467.5" font-size="8.3" fill="#a0303a">MER68</text>
<text x="574.5" y="2467.5" font-size="8.3" fill="#a0303a">Plat_L3</text>
<text x="448" y="2482.7" font-size="8.3" fill="#a0303a">MER91C</text>
<text x="481.5" y="2482.7" font-size="8.3" fill="#a0303a">HERV15−int</text>
<text x="520.6" y="2482.7" font-size="8.3" fill="#a0303a">AluSq4</text>
<text x="545.2" y="2482.7" font-size="8.3" fill="#a0303a">LTR8</text>
<text x="558.1" y="2482.7" font-size="8.3" fill="#a0303a">Tigger20a</text>
<text x="477.3" y="2497.5" font-size="8.3" fill="#a0303a">MER57B2</text>
<text x="528.3" y="2497.5" font-size="8.3" fill="#a0303a">LTR33A</text>
<text x="486.7" y="2512.2" font-size="8.3" fill="#a0303a">Charlie15</text>
<text x="514.8" y="2512.2" font-size="8.3" fill="#a0303a">L1M8</text>
<text x="473.8" y="2527.2" font-size="8.3" fill="#a0303a">MER129</text>
<text x="513.6" y="2527.2" font-size="8.3" fill="#a0303a">MER41C</text>
<text x="451.1" y="2542.4" font-size="8.3" fill="#a0303a">UCON2</text>
<text x="487.1" y="2542.4" font-size="8.3" fill="#a0303a">AluYh3a3</text>
<text x="474.5" y="2557.2" font-size="8.3" fill="#a0303a">HERVE_a−int</text>
<text x="647.8" y="2478.7" font-size="8.3" fill="#3c48a2">MER117</text>
<text x="634.2" y="2494" font-size="8.3" fill="#3c48a2">MamGypLTR1b</text>
<text x="614.3" y="2509.2" font-size="8.3" fill="#3c48a2">Charlie15b</text>
<text x="617.3" y="2529.6" font-size="8.3" fill="#3c48a2">tRNA−Ser−TCA(m)</text>
<text x="592" y="2549" font-size="8.3" fill="#3c48a2">LTR46−int</text>
<text x="583.1" y="2564.2" font-size="8.3" fill="#3c48a2">LTR39</text>
<rect x="444.5" y="2339.9" width="300.9" height="24.1" fill="#d9d9d9" stroke="#4a4a4a" stroke-width="1.3" />
<rect x="444.5" y="2364" width="300.9" height="303.8" fill="none" stroke="#555" stroke-width="1.5" />
<line x1="444.5" y1="2364" x2="745.4" y2="2364" stroke="#222" stroke-width="2.2" />
<text x="595" y="2357.9" font-size="20.5" text-anchor="middle">Neural Prog.</text>
<line x1="440.5" y1="2662.4" x2="444.5" y2="2662.4" stroke="#444" stroke-width="1.2" />
<text x="438.5" y="2668.1" font-size="16" text-anchor="end">0</text>
<line x1="440.5" y1="2563.5" x2="444.5" y2="2563.5" stroke="#444" stroke-width="1.2" />
<text x="438.5" y="2569.2" font-size="16" text-anchor="end">5</text>
<line x1="440.5" y1="2464.6" x2="444.5" y2="2464.6" stroke="#444" stroke-width="1.2" />
<text x="438.5" y="2470.3" font-size="16" text-anchor="end">10</text>
<line x1="440.5" y1="2365.7" x2="444.5" y2="2365.7" stroke="#444" stroke-width="1.2" />
<text x="438.5" y="2371.4" font-size="16" text-anchor="end">15</text>
<line x1="444.5" y1="2667.8" x2="444.5" y2="2671.8" stroke="#444" stroke-width="1.2" />
<text x="444.5" y="2686.5" font-size="16" text-anchor="middle">0</text>
<line x1="517.2" y1="2667.8" x2="517.2" y2="2671.8" stroke="#444" stroke-width="1.2" />
<text x="517.2" y="2686.5" font-size="16" text-anchor="middle">4</text>
<line x1="589.9" y1="2667.8" x2="589.9" y2="2671.8" stroke="#444" stroke-width="1.2" />
<text x="589.9" y="2686.5" font-size="16" text-anchor="middle">8</text>
<line x1="662.7" y1="2667.8" x2="662.7" y2="2671.8" stroke="#444" stroke-width="1.2" />
<text x="662.7" y="2686.5" font-size="16" text-anchor="middle">12</text>
<line x1="735.4" y1="2667.8" x2="735.4" y2="2671.8" stroke="#444" stroke-width="1.2" />
<text x="735.4" y="2686.5" font-size="16" text-anchor="middle">16</text>
<path d="M1059.3 2372L1035.7 2412.2M973.9 2413.2L1003.3 2442.2M943.6 2428.2L980.5 2465.5M987.1 2428.2L1002.1 2443.5M921.5 2443L960.2 2485M961.3 2443L981.8 2464.3M845.8 2450.4L915.9 2526.2M907.3 2458.2L944.7 2499.5M925.1 2458.2L954.3 2490.5M852.8 2474.1L907.5 2534M877.2 2473.4L920.7 2521.7M923.8 2473.4L945.9 2498.3M951.2 2473.4L960.3 2484.9M826.5 2491.7L874.3 2562.6M869.4 2488.6L908.7 2532.9M898.8 2487.9L925.5 2517.3M929.7 2496.8L937.5 2506.2M878.3 2503.4L906.3 2535.1M916.9 2503.4L927.8 2515.2M866.7 2518.6L893.1 2547.4M895.9 2518.6L908.7 2532.9M892.5 2533.6L899.1 2541.8M816 2542L844.2 2583.6M855.3 2547.9L868.2 2566.8M840.1 2564.3L850.2 2579.4M1016.6 2496.8L996.9 2477.5M989.7 2511.6L977.5 2497.2M975.6 2526.8L962 2511.7M1016.1 2538.3L977.6 2497.2M972.6 2552.6L947.6 2525.1M1000.2 2553L962 2511.7M934.6 2554.2L927.1 2544.1M962.7 2568.7L934.4 2537.3M1002.6 2568.2L956 2517.3M920.1 2568.7L911.6 2558.5M903.7 2584.2L894.8 2574.1M948.2 2584.2L918.8 2551.8M896 2599.4L884.9 2582.6M932.8 2598.7L903.2 2566.3M965.1 2612.7L914 2556.3" stroke="#c4c4c4" stroke-width="1.3" fill="none"/>
<path d="M797 2624h0m1-1h0m0-7h0m1-2h0m0-19h0m1 38h0m0-32h0m1 21h0m0 8h0m0 7h0m0-12h0m3 13h0m0-9h0m1-23h0m0 43h0m0-24h0m1 4h0m0-10h0m0-22h0m0 29h0m1-3h0m1-2h0m0 11h0m0 4h0m0-27h0m0-12h0m0 24h0m0 11h0m0-18h0m1 12h0m0-11h0m0 13h0m0-6h0m0 6h0m0-10h0m0-1h0m1 0h0m1-11h0m0 14h0m0-8h0m1 26h0m0-17h0m1-12h0m0 21h0m0-11h0m0-1h0m0 15h0m0 2h0m1-24h0m0 8h0m0 4h0m0 8h0m0-12h0m0 7h0m0-26h0m1 17h0m0 11h0m0-12h0m1 8h0m0-3h0m0 1h0m0-2h0m0 2h0m0-21h0m0 10h0m1 26h0m0-14h0m0-5h0m0-27h0m0 25h0m0-10h0m0 36h0m0-30h0m0-6h0m0-3h0m1 13h0m0 0h0m0-7h0m0 8h0m0 5h0m0-10h0m0-1h0m1-2h0m0 9h0m0-3h0m0-3h0m1 2h0m0-16h0m0 17h0m0-15h0m0 18h0m0-1h0m0-5h0m0-8h0m0 7h0m1-8h0m0 2h0m0 4h0m0 20h0m0-13h0m0-1h0m0 2h0m0 2h0m1 2h0m0-14h0m0 5h0m0-10h0m0 15h0m0-23h0m1 28h0m0-20h0m0 26h0m0-9h0m0-17h0m1-7h0m0 26h0m0-7h0m0-13h0m0 17h0m0-5h0m1-5h0m0 16h0m0-20h0m0-1h0m0 27h0m1-18h0m0 10h0m0-12h0m0-1h0m0-8h0m0 15h0m0-15h0m0 12h0m0-12h0m1-7h0m0 1h0m0 5h0m0 35h0m1-20h0m0-19h0m0 22h0m0-7h0m0 6h0m0-2h0m1-22h0m0 8h0m0 3h0m1 8h0m0-11h0m0 6h0m0 1h0m1-4h0m0-7h0m1 25h0m0-16h0m0 7h0m0-9h0m0-11h0m0 26h0m1-9h0m0-22h0m0 5h0m0 18h0m1-6h0m0-5h0m0-26h0m0 27h0m0-8h0m0 5h0m1 12h0m0 4h0m0 0h0m0-5h0m0-3h0m1 5h0m0-8h0m0-6h0m0 3h0m0-3h0m0 6h0m0 7h0m0 5h0m0 0h0m1-16h0m0-10h0m1 5h0m0-7h0m0 16h0m1-5h0m0 15h0m0-9h0m0 1h0m0-3h0m0-5h0m1-13h0m0 11h0m0 0h0m1-9h0m0 16h0m0-3h0m0 9h0m0-1h0m0-7h0m0 6h0m1-13h0m0 7h0m0 1h0m0-4h0m0-12h0m0 17h0m0 4h0m1-6h0m0-15h0m0 15h0m0-11h0m0 7h0m0-6h0m0 9h0m0 7h0m1 11h0m0-22h0m0-5h0m0 24h0m0-22h0m0 25h0m0-22h0m1-11h0m0 15h0m0 7h0m1-6h0m1-5h0m0-4h0m0 0h0m0-8h0m0 9h0m0 12h0m1-12h0m0 13h0m0-17h0m1 1h0m0 20h0m0-13h0m0 1h0m0-6h0m0 8h0m0 3h0m1-13h0m0-4h0m0 22h0m0-11h0m1-4h0m0-5h0m0 3h0m0 2h0m1-6h0m0 9h0m0 7h0m0-16h0m0-1h0m1 15h0m0-11h0m0-3h0m0 1h0m0-2h0m0 0h0m0 15h0m1-12h0m0 0h0m0 6h0m0 0h0m1 14h0m0-24h0m0 5h0m0-10h0m0 18h0m0 4h0m1-9h0m0 2h0m0-4h0m0-8h0m1 8h0m0-4h0m0 5h0m0 1h0m1 7h0m0-1h0m0-23h0m0 6h0m0 9h0m1-14h0m0 16h0m0-3h0m0-8h0m1-2h0m0 7h0m0 5h0m0-7h0m0 3h0m0-3h0m0 14h0m1-21h0m0 1h0m0 5h0m0-10h0m0 29h0m0-11h0m0 6h0m0-13h0m0-5h0m0 7h0m1 1h0m0-10h0m0 12h0m0-17h0m0 27h0m0-8h0m1-8h0m0-9h0m0 11h0m0 0h0m1-1h0m0 7h0m0-18h0m0 1h0m0 14h0m0-7h0m0 6h0m1-6h0m0 1h0m0-3h0m0 7h0m1-8h0m0-4h0m0 11h0m0-10h0m1 14h0m0-5h0m0 6h0m0-16h0m0 14h0m1-15h0m0 2h0m0 14h0m0-9h0m0 4h0m0 0h0m1 1h0m0 3h0m0-11h0m1 2h0m0 1h0m0 5h0m0-9h0m0 7h0m1-7h0m0-3h0m0-3h0m0 9h0m0 2h0m0 9h0m0-24h0m1 20h0m0-16h0m0 11h0m0-5h0m0 1h0m1 0h0m0 5h0m0 1h0m1 6h0m0-13h0m0 3h0m0-6h0m0 2h0m1 0h0m0-1h0m1-1h0m0 1h0m0-6h0m0 1h0m0-1h0m0 12h0m1-5h0m0-12h0m1 9h0m0-3h0m1 17h0m0-8h0m0-6h0m0-2h0m0 3h0m0 0h0m1-10h0m0 14h0m0-4h0m0-10h0m0 4h0m0 4h0m0-5h0m1 0h0m1 0h0m0 2h0m0-6h0m0 13h0m1-14h0m0-4h0m0 5h0m1 12h0m0 2h0m0-5h0m0 3h0m1-8h0m1 4h0m0-6h0m0 1h0m0-7h0m0 10h0m1-4h0m0 4h0m1-9h0m0 5h0m0 6h0m1-5h0m1-1h0m0 4h0m0-4h0m1 1h0m0-1h0m1-1h0m0 5h0m1-12h0m0 3h0m0 9h0m0-4h0m0-3h0m1 6h0m0-14h0m0 6h0m1-6h0m0 8h0m0 7h0m0-18h0m1 9h0m0-8h0m1 9h0m0-10h0m0 12h0m0-4h0m1 6h0m0-13h0m1 5h0m0-5h0m0 2h0m0 1h0m1-7h0m0 16h0m0-9h0m0 9h0m0-10h0m1 13h0m0-14h0m0-1h0m1-4h0m0 1h0m0-3h0m0 10h0m0-3h0m0 5h0m0 0h0m0-6h0m1 4h0m0-11h0m0 5h0m0-2h0m1 1h0m0 2h0m0 0h0m0 4h0m1-8h0m0 2h0m0 6h0m1 0h0m0 3h0m0-9h0m0 1h0m1-4h0m0 6h0m0-1h0m1 3h0m0 2h0m0-2h0m1-4h0m0-7h0m1 3h0m0 5h0m0-7h0m1 0h0m0-2h0m0 3h0m1 0h0m0 0h0m0 0h0m0-1h0m1-1h0m0 8h0m0 0h0m0-2h0m0-5h0m1-1h0m0-4h0m1 3h0m0 0h0m0 1h0m0 5h0m0-6h0m1-2h0m0 0h0m0 1h0m1 0h0m0 1h0m1 6h0m0-6h0m2-5h0m2-11h0m1 2h0m0 2h0m0 7h0m1 6h0m0-3h0m1-4h0m0-6h0m0 14h0m0-7h0m1-10h0m0 5h0m1 3h0m0-3h0m0-2h0m1-1h0m0 4h0m1-4h0m0 2h0m1 5h0m0-8h0m1-4h0m1 2h0m0 4h0m0-4h0m1-2h0m0 5h0m0-11h0m1 2h0m0 6h0m1 1h0m0-6h0m0-2h0m1-3h0m1 1h0m0 10h0m0 6h0m1-12h0m0-5h0m1 1h0m1-1h0m0 4h0m0 3h0m0-1h0m0-5h0m1 0h0m1-3h0m0 5h0m0-5h0m0 10h0m0-7h0m1 1h0m1-8h0m0-1h0m0 9h0m1-6h0m1 0h0m0 4h0m0-1h0m0-11h0m1 3h0m1 9h0m0-3h0m0 3h0m1-4h0m0-8h0m1 9h0m0-1h0m1-4h0m0 4h0m0-8h0m3 7h0m1-6h0m0-3h0m1 5h0m0-6h0m0 3h0m0 7h0m0-13h0m1-1h0m2 4h0m0-4h0m0 1h0m1 3h0m0 1h0m1 1h0m0-8h0m1 8h0m4-8h0m0-1h0m0-1h0m0-2h0m3-2h0m0 3h0m1-10h0m0 12h0m0-4h0m0 3h0m2 1h0m0-14h0m0 12h0m0-6h0m0-2h0m0 8h0m1-2h0m2-8h0m0 6h0m0-2h0m1 0h0m2-4h0m1 1h0m0 2h0m0-1h0m1-4h0m1 0h0m0 7h0m1-8h0m2-7h0m0 3h0m0-2h0m1 3h0m1-1h0m0 0h0m0 2h0m2-4h0m0 4h0m0 0h0m1-5h0m1 2h0m1-6h0m1 5h0m1-1h0m0-4h0m0 1h0m0-2h0m1-2h0m2-3h0m1-3h0m0 3h0m0 3h0m0 0h0m0-5h0m1 4h0m1-6h0m1 3h0m1 1h0m0 1h0m2-2h0m0-7h0m1 0h0m0 5h0m1-5h0m1-1h0m1 1h0m0 2h0m0 0h0m1-5h0m0-1h0m0-1h0m1 1h0m2 0h0m0-4h0m0 4h0m1-7h0m1 4h0m0 0h0m0 1h0m0 1h0m1 0h0m1-5h0m0-3h0m2 3h0m0 3h0m1-5h0m0-2h0m1 0h0m1 1h0m2-6h0m0-4h0m1 5h0m0 4h0m1 0h0m1-4h0m2-5h0m0 8h0m1-3h0m0-5h0m0 0h0m1-2h0m1-4h0m0 2h0m1 2h0m1 0h0m1-6h0" stroke="#8a8a8a" stroke-width="4.6" stroke-linecap="round" fill="none" />
<path d="M806 2614h0m8-3h0m1-4h0m2-4h0m4-2h0m5-2h0m1 5h0m8-5h0m9-18h0m1 4h0m4-2h0m1 3h0m5-10h0m0 7h0m11-14h0m0 5h0m8-3h0m4-5h0m2-3h0m1-8h0m0 9h0m1-1h0m0 3h0m2-7h0m2-5h0m1 7h0m1-11h0m2 4h0m1 1h0m0 2h0m2-1h0m0 0h0m0-10h0m1 9h0m0-6h0m4 3h0m3-4h0m3-2h0m0-2h0m1-5h0m1 3h0m1-2h0m1-7h0m2-3h0m3 6h0m0 1h0m1-3h0m0 2h0m1 0h0m1-5h0m1-13h0m1 14h0m0-6h0m0 6h0m1-2h0m0-1h0m0-1h0m1 1h0m0 1h0m0 1h0m2-3h0m1 0h0m0 0h0m0-2h0m0 3h0m0-1h0m1-2h0m2-3h0m0-6h0m0 4h0m2 2h0m1-6h0m0 4h0m1-3h0m2-1h0m0 2h0m2-2h0m0-8h0m0 6h0m3-6h0m0-4h0m1 10h0m1-6h0m1 3h0m0-2h0m1 2h0m1-2h0m0-3h0m0 4h0m0-1h0m0-3h0m1 2h0m0-9h0m2 8h0m0-8h0m2 6h0m2-4h0m0 3h0m0 0h0m1-2h0m0-8h0m2 5h0m0-1h0m2-2h0m1-2h0m0 2h0m2-5h0m0 5h0m1-5h0m0 1h0m1-5h0m1 6h0m1-2h0m2-6h0m0 1h0m1 2h0m0 0h0m3-2h0m2-6h0m0 4h0m0-4h0m1 2h0m0 2h0m0-2h0m1-2h0m1 2h0m1-2h0m0 0h0m1-1h0m0-5h0m2-6h0m0 8h0m5-4h0m1-6h0m6-3h0m3-4h0m0 4h0m6-13h0m1-6h0m1 3h0m2 2h0m3-2h0m2-1h0m2-4h0m3-11h0m1 9h0m3-5h0m4-9h0m10-5h0" stroke="#9c1c1f" stroke-width="4.6" stroke-linecap="round" fill="none" />
<path d="M816 2623h0m1 5h0m3 1h0m8-13h0m18 10h0m1-25h0m4 5h0m0-5h0m1 1h0m0-4h0m0 2h0m1 5h0m1-6h0m1-4h0m1 19h0m4-16h0m2-1h0m0 15h0m1-6h0m1-14h0m0-3h0m0 4h0m3-6h0m3 2h0m2 0h0m0-4h0m1-2h0m0 0h0m4-2h0m2 3h0m5-9h0m1-1h0m1 2h0m0-3h0m1 3h0m0 1h0m1 7h0m1-9h0m0-2h0m1 0h0m0 0h0m0 0h0m1-1h0m2 1h0m1-1h0m0 0h0m1-5h0m1-1h0m0-2h0m1 13h0m1-7h0m1-4h0m4-8h0m1 3h0m0-4h0m0 6h0m2-7h0m0 9h0m0-8h0m0 5h0m0-7h0m1 6h0m0-7h0m1 13h0m5-16h0m1 5h0m0-4h0m1-5h0m0 4h0m0 0h0m0-5h0m1 1h0m0-1h0m2 0h0m0 0h0m0-1h0m1 0h0m1 5h0m0-7h0m1 7h0m0 0h0m1-10h0m0 12h0m1-12h0m1-3h0m1 7h0m0-4h0m0 0h0m0 1h0m1-2h0m0 2h0m2-3h0m0-3h0m0 0h0m1 3h0m1 0h0m0 1h0m0-3h0m0 0h0m1 0h0m1-1h0m1-5h0m0 1h0m0 3h0m1-4h0m0 2h0m1 10h0m1-14h0m0 0h0m0 0h0m1-2h0m3-3h0m0 5h0m1-4h0m0 0h0m3-3h0m1 10h0m1-1h0m0-13h0m1 2h0m1 1h0m0-4h0m2 0h0m0-2h0m1 1h0m0-3h0m2 3h0m0-4h0m1 4h0m1 0h0m0 1h0m1-5h0m0 1h0m1-3h0m0-2h0m1 1h0m0-2h0m1 0h0m0 4h0m1-5h0m0 1h0m0 3h0m1-5h0m3-3h0m0 0h0m2-1h0m0 0h0m0-1h0m1 3h0m0 4h0m1-6h0m1-4h0m0 10h0m2-10h0m0-2h0m1 9h0m0-7h0m1-3h0m1 0h0m2-1h0m3 2h0m0-3h0m0-3h0m1 0h0m1-2h0m4-5h0m3-1h0m1-1h0m2-3h0m1 3h0m2 3h0m1-8h0m4 10h0m0-15h0m0-2h0m0 5h0m0 5h0m2-6h0m0 1h0m2-10h0m0 0h0m1-1h0m2 4h0m1-6h0m2 4h0m1-5h0m1-3h0m9-3h0m3-4h0m1-7h0m2 0h0m4 4h0m1-10h0m2-1h0" stroke="#232b8e" stroke-width="4.6" stroke-linecap="round" fill="none" />
<text x="1003.1" y="2375" font-size="8.3" fill="#a0303a">LSU−rRNA_Hsa</text>
<text x="985.3" y="2406.1" font-size="8.3" fill="#a0303a">SSU−rRNA_Hsa</text>
<text x="922.3" y="2416.2" font-size="8.3" fill="#a0303a">MamGypLTR1b</text>
<text x="915" y="2431.2" font-size="8.3" fill="#a0303a">L1ME3A</text>
<text x="953.9" y="2431.2" font-size="8.3" fill="#a0303a">X9_LINE</text>
<text x="883.7" y="2446" font-size="8.3" fill="#a0303a">BSR/Beta</text>
<text x="928.1" y="2446" font-size="8.3" fill="#a0303a">MamTip2</text>
<text x="968" y="2446" font-size="8.3" fill="#a0303a">Tigger19b</text>
<text x="808" y="2453.4" font-size="8.3" fill="#a0303a">UCON132b</text>
<text x="837.3" y="2461.2" font-size="8.3" fill="#a0303a">tRNA−Ser−TCA(m)</text>
<text x="905.7" y="2461.2" font-size="8.3" fill="#a0303a">L1M6</text>
<text x="950.2" y="2461.2" font-size="8.3" fill="#a0303a">7SLRNA</text>
<text x="810.4" y="2477.1" font-size="8.3" fill="#a0303a">Charlie11</text>
<text x="853.2" y="2476.4" font-size="8.3" fill="#a0303a">L1M3a</text>
<text x="886" y="2476.4" font-size="8.3" fill="#a0303a">Charlie9</text>
<text x="913.4" y="2476.4" font-size="8.3" fill="#a0303a">X6A_LINE</text>
<text x="797.9" y="2494.7" font-size="8.3" fill="#a0303a">MER39B</text>
<text x="840.8" y="2491.6" font-size="8.3" fill="#a0303a">LTR81B</text>
<text x="874.8" y="2490.9" font-size="8.3" fill="#a0303a">LTR8A</text>
<text x="905.7" y="2499.8" font-size="8.3" fill="#a0303a">L1M6B</text>
<text x="826.7" y="2506.4" font-size="8.3" fill="#a0303a">HERV9NC−int</text>
<text x="860.7" y="2506.4" font-size="8.3" fill="#a0303a">tRNA−Gln−CAG</text>
<text x="819.7" y="2521.6" font-size="8.3" fill="#a0303a">MER101−int</text>
<text x="871.9" y="2521.6" font-size="8.3" fill="#a0303a">LTR7B</text>
<text x="845.5" y="2536.6" font-size="8.3" fill="#a0303a">PRIMA4−int</text>
<text x="787.4" y="2545" font-size="8.3" fill="#a0303a">MER97a</text>
<text x="826.7" y="2550.9" font-size="8.3" fill="#a0303a">L1M2a1</text>
<text x="811.5" y="2567.3" font-size="8.3" fill="#a0303a">MER129</text>
<text x="986.7" y="2485.1" font-size="8.3" fill="#3c48a2">MER3</text>
<text x="981.3" y="2499.8" font-size="8.3" fill="#3c48a2">MLT1J2</text>
<text x="1017.6" y="2499.8" font-size="8.3" fill="#3c48a2">THE1A−int</text>
<text x="961.9" y="2514.6" font-size="8.3" fill="#3c48a2">L1M2</text>
<text x="990.7" y="2514.6" font-size="8.3" fill="#3c48a2">LTR5A</text>
<text x="947.8" y="2529.8" font-size="8.3" fill="#3c48a2">L1MD</text>
<text x="976.6" y="2529.8" font-size="8.3" fill="#3c48a2">MER58C</text>
<text x="1017.1" y="2541.3" font-size="8.3" fill="#3c48a2">MLT1F1</text>
<text x="933.3" y="2540.3" font-size="8.3" fill="#3c48a2">LTR46−int</text>
<text x="973.6" y="2555.6" font-size="8.3" fill="#3c48a2">TAR1</text>
<text x="1001.2" y="2556" font-size="8.3" fill="#3c48a2">REP522</text>
<text x="935.6" y="2557.2" font-size="8.3" fill="#3c48a2">MLT2A1</text>
<text x="963.7" y="2571.7" font-size="8.3" fill="#3c48a2">MER21B</text>
<text x="1003.6" y="2571.2" font-size="8.3" fill="#3c48a2">HERVS71−int</text>
<text x="921.1" y="2571.7" font-size="8.3" fill="#3c48a2">LTR48B</text>
<text x="904.7" y="2587.2" font-size="8.3" fill="#3c48a2">X7A_LINE</text>
<text x="949.2" y="2587.2" font-size="8.3" fill="#3c48a2">HERVK−int</text>
<text x="897" y="2602.4" font-size="8.3" fill="#3c48a2">LTR35B</text>
<text x="933.8" y="2601.7" font-size="8.3" fill="#3c48a2">MER87B</text>
<text x="966.1" y="2615.7" font-size="8.3" fill="#3c48a2">LTR39</text>
<rect x="778.3" y="2339.9" width="300.7" height="24.1" fill="#d9d9d9" stroke="#4a4a4a" stroke-width="1.3" />
<rect x="778.3" y="2364" width="300.7" height="302.6" fill="none" stroke="#555" stroke-width="1.5" />
<line x1="778.3" y1="2364" x2="1079" y2="2364" stroke="#222" stroke-width="2.2" />
<text x="928.6" y="2357.9" font-size="20.5" text-anchor="middle">Neurons</text>
<line x1="774.3" y1="2653" x2="778.3" y2="2653" stroke="#444" stroke-width="1.2" />
<text x="772.3" y="2658.7" font-size="16" text-anchor="end">0</text>
<line x1="774.3" y1="2569.2" x2="778.3" y2="2569.2" stroke="#444" stroke-width="1.2" />
<text x="772.3" y="2574.8" font-size="16" text-anchor="end">5</text>
<line x1="774.3" y1="2485.3" x2="778.3" y2="2485.3" stroke="#444" stroke-width="1.2" />
<text x="772.3" y="2491" font-size="16" text-anchor="end">10</text>
<line x1="774.3" y1="2401.4" x2="778.3" y2="2401.4" stroke="#444" stroke-width="1.2" />
<text x="772.3" y="2407.1" font-size="16" text-anchor="end">15</text>
<line x1="795.6" y1="2666.6" x2="795.6" y2="2670.6" stroke="#444" stroke-width="1.2" />
<text x="795.6" y="2686.5" font-size="16" text-anchor="middle">0</text>
<line x1="886" y1="2666.6" x2="886" y2="2670.6" stroke="#444" stroke-width="1.2" />
<text x="886" y="2686.5" font-size="16" text-anchor="middle">5</text>
<line x1="976.4" y1="2666.6" x2="976.4" y2="2670.6" stroke="#444" stroke-width="1.2" />
<text x="976.4" y="2686.5" font-size="16" text-anchor="middle">10</text>
<line x1="1066.8" y1="2666.6" x2="1066.8" y2="2670.6" stroke="#444" stroke-width="1.2" />
<text x="1066.8" y="2686.5" font-size="16" text-anchor="middle">15</text>
<text transform="translate(60.3 2302) rotate(-90)" font-size="21.3" text-anchor="middle">log2(read counts +1)</text>
<text x="605" y="2704" font-size="21.3" text-anchor="middle">log2(read counts +1)</text>
<text x="1265" y="2070" font-size="41" font-weight="bold">j</text>
<text x="1724.5" y="2089" font-size="28.4" text-anchor="middle">P-body enriched genes</text>
<path d="M1466.1 2110.6h1.4v59.2h-1.4zM1468.9 2110.6h1.4v59.2h-1.4zM1473.1 2110.6h1.4v59.2h-1.4zM1484.3 2110.6h1.4v59.2h-1.4zM1487.1 2110.6h1.4v59.2h-1.4zM1489.9 2110.6h1.4v59.2h-1.4zM1496.9 2110.6h1.4v59.2h-1.4zM1502.6 2110.6h1.4v59.2h-1.4zM1509.6 2110.6h1.4v59.2h-1.4zM1523.6 2110.6h1.4v59.2h-1.4zM1530.6 2110.6h1.4v59.2h-1.4zM1495.5 2169.8h1.4v59.3h-1.4zM1499.8 2169.8h1.4v59.3h-1.4zM1516.6 2169.8h1.4v59.3h-1.4zM1530.6 2169.8h1.4v59.3h-1.4zM1467.5 2229.1h1.4v59.2h-1.4zM1474.5 2229.1h1.4v59.2h-1.4zM1477.3 2229.1h1.4v59.2h-1.4zM1481.5 2229.1h1.4v59.2h-1.4zM1492.7 2229.1h1.4v59.2h-1.4zM1496.9 2229.1h1.4v59.2h-1.4zM1509.6 2229.1h1.4v59.2h-1.4zM1512.4 2229.1h2.8v59.2h-2.8zM1516.6 2229.1h4.2v59.2h-4.2zM1522.2 2229.1h1.4v59.2h-1.4zM1467.5 2347.6h2.8v59.2h-2.8zM1480.1 2347.6h2.8v59.2h-2.8zM1485.7 2347.6h5.6v59.2h-5.6zM1492.7 2347.6h1.4v59.2h-1.4zM1504 2347.6h1.4v59.2h-1.4zM1506.8 2347.6h2.8v59.2h-2.8zM1511 2347.6h2.8v59.2h-2.8zM1522.2 2347.6h1.4v59.2h-1.4zM1525 2347.6h1.4v59.2h-1.4zM1529.2 2347.6h1.4v59.2h-1.4zM1466.1 2406.8h1.4v59.2h-1.4zM1473.1 2406.8h4.2v59.2h-4.2zM1480.1 2406.8h2.8v59.2h-2.8zM1488.5 2406.8h1.4v59.2h-1.4zM1491.3 2406.8h1.4v59.2h-1.4zM1516.6 2406.8h4.2v59.2h-4.2zM1523.6 2406.8h1.4v59.2h-1.4zM1526.4 2406.8h1.4v59.2h-1.4zM1568.2 2169.8h4.2v59.3h-4.2zM1547 2229.1h1.4v59.2h-1.4zM1558.3 2229.1h1.4v59.2h-1.4zM1549.8 2347.6h1.4v59.2h-1.4zM1565.3 2347.6h1.4v59.2h-1.4zM1556.9 2406.8h2.8v59.2h-2.8zM1561.1 2406.8h1.4v59.2h-1.4zM1588.2 2110.6h1.4v59.2h-1.4zM1591 2110.6h1.4v59.2h-1.4zM1593.8 2110.6h1.4v59.2h-1.4zM1605 2110.6h1.4v59.2h-1.4zM1607.8 2110.6h1.4v59.2h-1.4zM1610.6 2110.6h1.4v59.2h-1.4zM1613.4 2110.6h2.8v59.2h-2.8zM1617.6 2110.6h1.4v59.2h-1.4zM1621.8 2110.6h1.4v59.2h-1.4zM1617.6 2169.8h1.4v59.3h-1.4zM1602.2 2347.6h4.2v59.2h-4.2zM1613.4 2347.6h1.4v59.2h-1.4zM1617.6 2347.6h1.4v59.2h-1.4zM1588.2 2406.8h2.8v59.2h-2.8zM1603.6 2406.8h1.4v59.2h-1.4zM1614.8 2406.8h1.4v59.2h-1.4zM1619 2406.8h1.4v59.2h-1.4zM1621.8 2406.8h1.4v59.2h-1.4zM1644.4 2169.8h1.4v59.3h-1.4zM1654.1 2169.8h2.8v59.3h-2.8zM1665.2 2169.8h1.4v59.3h-1.4zM1669.4 2169.8h1.4v59.3h-1.4zM1641.6 2347.6h1.4v59.2h-1.4zM1645.8 2347.6h1.4v59.2h-1.4zM1669.4 2347.6h1.4v59.2h-1.4zM1656.9 2406.8h1.4v59.2h-1.4zM1659.7 2406.8h1.4v59.2h-1.4zM1668 2406.8h1.4v59.2h-1.4zM1689.2 2347.6h2.9v59.2h-2.9zM1696.4 2347.6h1.4v59.2h-1.4zM1700.8 2347.6h2.9v59.2h-2.9zM1690.6 2406.8h1.4v59.2h-1.4zM1709.4 2406.8h2.9v59.2h-2.9zM1731.9 2169.8h2.8v59.3h-2.8zM1747.2 2169.8h1.4v59.3h-1.4zM1730.5 2347.6h1.4v59.2h-1.4zM1747.2 2347.6h1.4v59.2h-1.4zM1762.3 2229.1h1.4v59.2h-1.4zM1766.6 2229.1h2.9v59.2h-2.9zM1783.7 2229.1h1.4v59.2h-1.4zM1792.3 2229.1h1.4v59.2h-1.4zM1766.6 2288.3h1.4v59.3h-1.4zM1783.7 2288.3h1.4v59.3h-1.4zM1789.4 2288.3h1.4v59.3h-1.4zM1792.3 2288.3h1.4v59.3h-1.4zM1824.7 2169.8h2.8v59.3h-2.8zM1809.6 2288.3h1.4v59.3h-1.4zM1816.5 2288.3h2.8v59.3h-2.8zM1824.7 2288.3h1.4v59.3h-1.4zM1827.5 2288.3h2.8v59.3h-2.8zM1859.1 2110.6h1.4v59.2h-1.4zM1861.9 2110.6h1.4v59.2h-1.4zM1864.8 2110.6h2.8v59.2h-2.8zM1869 2110.6h1.4v59.2h-1.4zM1871.9 2110.6h1.4v59.2h-1.4zM1876.1 2110.6h2.8v59.2h-2.8zM1880.3 2110.6h2.8v59.2h-2.8zM1849.2 2288.3h1.4v59.3h-1.4zM1852 2288.3h1.4v59.3h-1.4zM1860.5 2288.3h2.8v59.3h-2.8zM1870.4 2288.3h1.4v59.3h-1.4zM1873.3 2288.3h2.8v59.3h-2.8zM1877.5 2288.3h1.4v59.3h-1.4zM1883.2 2288.3h1.4v59.3h-1.4zM1910.3 2110.6h1.4v59.2h-1.4zM1915.9 2110.6h1.4v59.2h-1.4zM1932.8 2110.6h1.4v59.2h-1.4zM1935.6 2110.6h1.4v59.2h-1.4zM1938.5 2110.6h1.4v59.2h-1.4zM1941.3 2110.6h1.4v59.2h-1.4zM1952.5 2110.6h5.6v59.2h-5.6zM1966.6 2110.6h1.4v59.2h-1.4zM1952.5 2169.8h1.4v59.3h-1.4zM1925.8 2288.3h1.4v59.3h-1.4zM1973.7 2288.3h1.4v59.3h-1.4z" fill="#ed504f" shape-rendering="crispEdges"/>
<path d="M1467.5 2110.6h1.4v59.2h-1.4zM1480.1 2110.6h1.4v59.2h-1.4zM1508.2 2110.6h1.4v59.2h-1.4zM1513.8 2110.6h1.4v59.2h-1.4zM1518 2110.6h1.4v59.2h-1.4zM1525 2110.6h1.4v59.2h-1.4zM1466.1 2169.8h4.2v59.3h-4.2zM1475.9 2169.8h2.8v59.3h-2.8zM1480.1 2169.8h1.4v59.3h-1.4zM1484.3 2169.8h1.4v59.3h-1.4zM1488.5 2169.8h5.6v59.3h-5.6zM1496.9 2169.8h2.8v59.3h-2.8zM1502.6 2169.8h1.4v59.3h-1.4zM1508.2 2169.8h2.8v59.3h-2.8zM1512.4 2169.8h4.2v59.3h-4.2zM1519.4 2169.8h1.4v59.3h-1.4zM1522.2 2169.8h7v59.3h-7zM1480.1 2229.1h1.4v59.2h-1.4zM1485.7 2229.1h1.4v59.2h-1.4zM1488.5 2229.1h2.8v59.2h-2.8zM1482.9 2347.6h1.4v59.2h-1.4zM1495.5 2406.8h1.4v59.2h-1.4zM1508.2 2406.8h1.4v59.2h-1.4zM1512.4 2406.8h1.4v59.2h-1.4zM1525 2406.8h1.4v59.2h-1.4zM1547 2169.8h1.4v59.3h-1.4zM1549.8 2169.8h2.8v59.3h-2.8zM1556.9 2169.8h2.8v59.3h-2.8zM1562.5 2169.8h1.4v59.3h-1.4zM1565.3 2169.8h1.4v59.3h-1.4zM1572.4 2169.8h1.4v59.3h-1.4zM1562.5 2229.1h1.4v59.2h-1.4zM1554.1 2347.6h1.4v59.2h-1.4zM1562.5 2406.8h1.4v59.2h-1.4zM1572.4 2406.8h1.4v59.2h-1.4zM1589.6 2110.6h1.4v59.2h-1.4zM1602.2 2110.6h2.8v59.2h-2.8zM1588.2 2169.8h2.8v59.3h-2.8zM1595.2 2169.8h1.4v59.3h-1.4zM1598 2169.8h1.4v59.3h-1.4zM1602.2 2169.8h4.2v59.3h-4.2zM1612 2169.8h1.4v59.3h-1.4zM1614.8 2169.8h2.8v59.3h-2.8zM1621.8 2169.8h1.4v59.3h-1.4zM1598 2347.6h1.4v59.2h-1.4zM1614.8 2347.6h1.4v59.2h-1.4zM1612 2406.8h1.4v59.2h-1.4zM1640.2 2169.8h2.8v59.3h-2.8zM1648.5 2169.8h2.8v59.3h-2.8zM1652.7 2169.8h1.4v59.3h-1.4zM1659.7 2169.8h1.4v59.3h-1.4zM1662.5 2169.8h1.4v59.3h-1.4zM1648.5 2347.6h1.4v59.2h-1.4zM1652.7 2347.6h1.4v59.2h-1.4zM1659.7 2347.6h1.4v59.2h-1.4zM1648.5 2406.8h1.4v59.2h-1.4zM1652.7 2406.8h1.4v59.2h-1.4zM1692.1 2406.8h1.4v59.2h-1.4zM1695 2406.8h1.4v59.2h-1.4zM1700.8 2406.8h1.4v59.2h-1.4zM1737.5 2169.8h1.4v59.3h-1.4zM1765.2 2288.3h1.4v59.3h-1.4zM1785.1 2288.3h1.4v59.3h-1.4zM1857.7 2110.6h1.4v59.2h-1.4zM1867.6 2110.6h1.4v59.2h-1.4zM1870.4 2110.6h1.4v59.2h-1.4zM1878.9 2110.6h1.4v59.2h-1.4zM1854.9 2288.3h1.4v59.3h-1.4zM1857.7 2288.3h2.8v59.3h-2.8zM1864.8 2288.3h1.4v59.3h-1.4zM1876.1 2288.3h1.4v59.3h-1.4zM1880.3 2288.3h1.4v59.3h-1.4zM1884.6 2288.3h1.4v59.3h-1.4zM1904.6 2110.6h1.4v59.2h-1.4zM1918.7 2110.6h1.4v59.2h-1.4zM1925.8 2110.6h1.4v59.2h-1.4zM1928.6 2110.6h4.2v59.2h-4.2zM1937 2110.6h1.4v59.2h-1.4zM1939.9 2110.6h1.4v59.2h-1.4zM1942.7 2110.6h1.4v59.2h-1.4zM1958.2 2110.6h1.4v59.2h-1.4zM1965.2 2110.6h1.4v59.2h-1.4zM1968.1 2110.6h1.4v59.2h-1.4zM1973.7 2110.6h1.4v59.2h-1.4zM1901.8 2169.8h7v59.3h-7zM1910.3 2169.8h2.8v59.3h-2.8zM1914.5 2169.8h1.4v59.3h-1.4zM1918.7 2169.8h2.8v59.3h-2.8zM1924.4 2169.8h5.6v59.3h-5.6zM1931.4 2169.8h2.8v59.3h-2.8zM1937 2169.8h1.4v59.3h-1.4zM1941.3 2169.8h1.4v59.3h-1.4zM1948.3 2169.8h1.4v59.3h-1.4zM1955.4 2169.8h1.4v59.3h-1.4zM1961 2169.8h2.8v59.3h-2.8zM1965.2 2169.8h1.4v59.3h-1.4zM1968.1 2169.8h2.8v59.3h-2.8zM1972.3 2169.8h1.4v59.3h-1.4zM1910.3 2288.3h1.4v59.3h-1.4z" fill="#ea2624" shape-rendering="crispEdges"/>
<path d="M1470.3 2110.6h2.8v59.2h-2.8zM1474.5 2110.6h2.8v59.2h-2.8zM1482.9 2110.6h1.4v59.2h-1.4zM1485.7 2110.6h1.4v59.2h-1.4zM1488.5 2110.6h1.4v59.2h-1.4zM1492.7 2110.6h1.4v59.2h-1.4zM1498.3 2110.6h1.4v59.2h-1.4zM1504 2110.6h2.8v59.2h-2.8zM1516.6 2110.6h1.4v59.2h-1.4zM1526.4 2110.6h1.4v59.2h-1.4zM1470.3 2169.8h5.6v59.3h-5.6zM1478.7 2169.8h1.4v59.3h-1.4zM1481.5 2169.8h2.8v59.3h-2.8zM1485.7 2169.8h2.8v59.3h-2.8zM1494.1 2169.8h1.4v59.3h-1.4zM1501.2 2169.8h1.4v59.3h-1.4zM1504 2169.8h4.2v59.3h-4.2zM1511 2169.8h1.4v59.3h-1.4zM1518 2169.8h1.4v59.3h-1.4zM1520.8 2169.8h1.4v59.3h-1.4zM1529.2 2169.8h1.4v59.3h-1.4zM1487.1 2229.1h1.4v59.2h-1.4zM1508.2 2229.1h1.4v59.2h-1.4zM1525 2229.1h1.4v59.2h-1.4zM1494.1 2347.6h1.4v59.2h-1.4zM1467.5 2406.8h1.4v59.2h-1.4zM1471.7 2406.8h1.4v59.2h-1.4zM1484.3 2406.8h1.4v59.2h-1.4zM1548.4 2169.8h1.4v59.3h-1.4zM1552.6 2169.8h4.2v59.3h-4.2zM1559.7 2169.8h2.8v59.3h-2.8zM1563.9 2169.8h1.4v59.3h-1.4zM1566.7 2169.8h1.4v59.3h-1.4zM1552.6 2229.1h1.4v59.2h-1.4zM1552.6 2347.6h1.4v59.2h-1.4zM1556.9 2347.6h1.4v59.2h-1.4zM1563.9 2347.6h1.4v59.2h-1.4zM1572.4 2347.6h1.4v59.2h-1.4zM1549.8 2406.8h4.2v59.2h-4.2zM1595.2 2110.6h5.6v59.2h-5.6zM1606.4 2110.6h1.4v59.2h-1.4zM1612 2110.6h1.4v59.2h-1.4zM1616.2 2110.6h1.4v59.2h-1.4zM1619 2110.6h2.8v59.2h-2.8zM1591 2169.8h4.2v59.3h-4.2zM1596.6 2169.8h1.4v59.3h-1.4zM1599.4 2169.8h2.8v59.3h-2.8zM1606.4 2169.8h5.6v59.3h-5.6zM1613.4 2169.8h1.4v59.3h-1.4zM1619 2169.8h2.8v59.3h-2.8zM1606.4 2347.6h1.4v59.2h-1.4zM1621.8 2347.6h1.4v59.2h-1.4zM1591 2406.8h1.4v59.2h-1.4zM1593.8 2406.8h1.4v59.2h-1.4zM1598 2406.8h1.4v59.2h-1.4zM1606.4 2406.8h1.4v59.2h-1.4zM1643 2169.8h1.4v59.3h-1.4zM1645.8 2169.8h2.8v59.3h-2.8zM1651.3 2169.8h1.4v59.3h-1.4zM1656.9 2169.8h2.8v59.3h-2.8zM1661.1 2169.8h1.4v59.3h-1.4zM1663.9 2169.8h1.4v59.3h-1.4zM1666.6 2169.8h2.8v59.3h-2.8zM1670.8 2169.8h1.4v59.3h-1.4zM1661.1 2347.6h1.4v59.2h-1.4zM1663.9 2347.6h1.4v59.2h-1.4zM1668 2347.6h1.4v59.2h-1.4zM1658.3 2406.8h1.4v59.2h-1.4zM1663.9 2406.8h1.4v59.2h-1.4zM1669.4 2406.8h1.4v59.2h-1.4zM1693.5 2347.6h1.4v59.2h-1.4zM1706.5 2347.6h1.4v59.2h-1.4zM1696.4 2406.8h2.9v59.2h-2.9zM1708 2406.8h1.4v59.2h-1.4zM1726.3 2169.8h1.4v59.3h-1.4zM1729.1 2169.8h2.8v59.3h-2.8zM1734.7 2169.8h2.8v59.3h-2.8zM1738.8 2169.8h1.4v59.3h-1.4zM1741.6 2169.8h5.6v59.3h-5.6zM1768 2288.3h1.4v59.3h-1.4zM1775.1 2288.3h1.4v59.3h-1.4zM1782.3 2288.3h1.4v59.3h-1.4zM1786.6 2288.3h2.9v59.3h-2.9zM1827.5 2169.8h1.4v59.3h-1.4zM1808.2 2288.3h1.4v59.3h-1.4zM1813.7 2288.3h1.4v59.3h-1.4zM1830.3 2288.3h1.4v59.3h-1.4zM1847.8 2110.6h4.2v59.2h-4.2zM1854.9 2110.6h2.8v59.2h-2.8zM1860.5 2110.6h1.4v59.2h-1.4zM1874.7 2110.6h1.4v59.2h-1.4zM1883.2 2110.6h2.8v59.2h-2.8zM1847.8 2288.3h1.4v59.3h-1.4zM1853.5 2288.3h1.4v59.3h-1.4zM1856.3 2288.3h1.4v59.3h-1.4zM1866.2 2288.3h1.4v59.3h-1.4zM1869 2288.3h1.4v59.3h-1.4zM1871.9 2288.3h1.4v59.3h-1.4zM1881.8 2288.3h1.4v59.3h-1.4zM1900.4 2110.6h4.2v59.2h-4.2zM1906 2110.6h4.2v59.2h-4.2zM1911.7 2110.6h1.4v59.2h-1.4zM1914.5 2110.6h1.4v59.2h-1.4zM1917.3 2110.6h1.4v59.2h-1.4zM1920.1 2110.6h5.6v59.2h-5.6zM1927.2 2110.6h1.4v59.2h-1.4zM1934.2 2110.6h1.4v59.2h-1.4zM1944.1 2110.6h1.4v59.2h-1.4zM1946.9 2110.6h4.2v59.2h-4.2zM1959.6 2110.6h5.6v59.2h-5.6zM1969.5 2110.6h4.2v59.2h-4.2zM1900.4 2169.8h1.4v59.3h-1.4zM1908.9 2169.8h1.4v59.3h-1.4zM1913.1 2169.8h1.4v59.3h-1.4zM1915.9 2169.8h2.8v59.3h-2.8zM1921.5 2169.8h2.8v59.3h-2.8zM1930 2169.8h1.4v59.3h-1.4zM1934.2 2169.8h2.8v59.3h-2.8zM1938.5 2169.8h2.8v59.3h-2.8zM1942.7 2169.8h5.6v59.3h-5.6zM1949.7 2169.8h2.8v59.3h-2.8zM1954 2169.8h1.4v59.3h-1.4zM1956.8 2169.8h4.2v59.3h-4.2zM1963.8 2169.8h1.4v59.3h-1.4zM1966.6 2169.8h1.4v59.3h-1.4zM1970.9 2169.8h1.4v59.3h-1.4zM1973.7 2169.8h1.4v59.3h-1.4zM1925.8 2347.6h1.4v59.2h-1.4zM1969.5 2347.6h1.4v59.2h-1.4z" fill="#ec3b39" shape-rendering="crispEdges"/>
<path d="M1477.3 2110.6h2.8v59.2h-2.8zM1491.3 2110.6h1.4v59.2h-1.4zM1494.1 2110.6h2.8v59.2h-2.8zM1499.8 2110.6h2.8v59.2h-2.8zM1511 2110.6h2.8v59.2h-2.8zM1520.8 2110.6h2.8v59.2h-2.8zM1529.2 2110.6h1.4v59.2h-1.4zM1466.1 2229.1h1.4v59.2h-1.4zM1468.9 2229.1h1.4v59.2h-1.4zM1471.7 2229.1h2.8v59.2h-2.8zM1482.9 2229.1h2.8v59.2h-2.8zM1494.1 2229.1h2.8v59.2h-2.8zM1498.3 2229.1h1.4v59.2h-1.4zM1502.6 2229.1h1.4v59.2h-1.4zM1505.4 2229.1h2.8v59.2h-2.8zM1511 2229.1h1.4v59.2h-1.4zM1515.2 2229.1h1.4v59.2h-1.4zM1520.8 2229.1h1.4v59.2h-1.4zM1529.2 2229.1h1.4v59.2h-1.4zM1471.7 2347.6h2.8v59.2h-2.8zM1477.3 2347.6h1.4v59.2h-1.4zM1495.5 2347.6h7v59.2h-7zM1515.2 2347.6h2.8v59.2h-2.8zM1520.8 2347.6h1.4v59.2h-1.4zM1523.6 2347.6h1.4v59.2h-1.4zM1526.4 2347.6h1.4v59.2h-1.4zM1468.9 2406.8h1.4v59.2h-1.4zM1477.3 2406.8h1.4v59.2h-1.4zM1485.7 2406.8h1.4v59.2h-1.4zM1489.9 2406.8h1.4v59.2h-1.4zM1492.7 2406.8h2.8v59.2h-2.8zM1498.3 2406.8h1.4v59.2h-1.4zM1501.2 2406.8h1.4v59.2h-1.4zM1505.4 2406.8h2.8v59.2h-2.8zM1511 2406.8h1.4v59.2h-1.4zM1513.8 2406.8h1.4v59.2h-1.4zM1520.8 2406.8h2.8v59.2h-2.8zM1529.2 2406.8h1.4v59.2h-1.4zM1549.8 2229.1h2.8v59.2h-2.8zM1555.5 2229.1h1.4v59.2h-1.4zM1563.9 2229.1h2.8v59.2h-2.8zM1548.4 2347.6h1.4v59.2h-1.4zM1558.3 2347.6h4.2v59.2h-4.2zM1554.1 2406.8h1.4v59.2h-1.4zM1559.7 2406.8h1.4v59.2h-1.4zM1563.9 2406.8h4.2v59.2h-4.2zM1569.6 2406.8h1.4v59.2h-1.4zM1592.4 2110.6h1.4v59.2h-1.4zM1600.8 2110.6h1.4v59.2h-1.4zM1609.2 2110.6h1.4v59.2h-1.4zM1589.6 2347.6h1.4v59.2h-1.4zM1596.6 2347.6h1.4v59.2h-1.4zM1599.4 2347.6h2.8v59.2h-2.8zM1609.2 2347.6h2.8v59.2h-2.8zM1619 2347.6h1.4v59.2h-1.4zM1592.4 2406.8h1.4v59.2h-1.4zM1595.2 2406.8h1.4v59.2h-1.4zM1599.4 2406.8h4.2v59.2h-4.2zM1607.8 2406.8h1.4v59.2h-1.4zM1610.6 2406.8h1.4v59.2h-1.4zM1616.2 2406.8h2.8v59.2h-2.8zM1640.2 2347.6h1.4v59.2h-1.4zM1643 2347.6h2.8v59.2h-2.8zM1651.3 2347.6h1.4v59.2h-1.4zM1662.5 2347.6h1.4v59.2h-1.4zM1670.8 2347.6h1.4v59.2h-1.4zM1641.6 2406.8h1.4v59.2h-1.4zM1662.5 2406.8h1.4v59.2h-1.4zM1692.1 2347.6h1.4v59.2h-1.4zM1695 2347.6h1.4v59.2h-1.4zM1697.9 2347.6h1.4v59.2h-1.4zM1703.6 2347.6h2.9v59.2h-2.9zM1708 2347.6h1.4v59.2h-1.4zM1710.9 2347.6h1.4v59.2h-1.4zM1689.2 2406.8h1.4v59.2h-1.4zM1693.5 2406.8h1.4v59.2h-1.4zM1702.2 2406.8h1.4v59.2h-1.4zM1705.1 2406.8h1.4v59.2h-1.4zM1727.7 2169.8h1.4v59.3h-1.4zM1740.2 2169.8h1.4v59.3h-1.4zM1748.6 2169.8h1.4v59.3h-1.4zM1726.3 2347.6h1.4v59.2h-1.4zM1729.1 2347.6h1.4v59.2h-1.4zM1731.9 2347.6h1.4v59.2h-1.4zM1737.5 2347.6h2.8v59.2h-2.8zM1743 2347.6h1.4v59.2h-1.4zM1748.6 2347.6h1.4v59.2h-1.4zM1765.2 2229.1h1.4v59.2h-1.4zM1772.3 2229.1h2.9v59.2h-2.9zM1776.6 2229.1h1.4v59.2h-1.4zM1779.4 2229.1h1.4v59.2h-1.4zM1782.3 2229.1h1.4v59.2h-1.4zM1785.1 2229.1h1.4v59.2h-1.4zM1789.4 2229.1h2.9v59.2h-2.9zM1769.4 2288.3h1.4v59.3h-1.4zM1773.7 2288.3h1.4v59.3h-1.4zM1776.6 2288.3h1.4v59.3h-1.4zM1780.9 2288.3h1.4v59.3h-1.4zM1815.1 2169.8h1.4v59.3h-1.4zM1820.6 2169.8h1.4v59.3h-1.4zM1811 2288.3h2.8v59.3h-2.8zM1815.1 2288.3h1.4v59.3h-1.4zM1819.2 2288.3h1.4v59.3h-1.4zM1822 2288.3h2.8v59.3h-2.8zM1826.1 2288.3h1.4v59.3h-1.4zM1831.6 2288.3h2.8v59.3h-2.8zM1852 2110.6h1.4v59.2h-1.4zM1873.3 2110.6h1.4v59.2h-1.4zM1863.4 2288.3h1.4v59.3h-1.4zM1878.9 2288.3h1.4v59.3h-1.4zM1913.1 2110.6h1.4v59.2h-1.4zM1945.5 2110.6h1.4v59.2h-1.4zM1951.1 2110.6h1.4v59.2h-1.4zM1921.5 2288.3h1.4v59.3h-1.4zM1904.6 2347.6h1.4v59.2h-1.4z" fill="#ef6564" shape-rendering="crispEdges"/>
<path d="M1481.5 2110.6h1.4v59.2h-1.4zM1506.8 2110.6h1.4v59.2h-1.4zM1515.2 2110.6h1.4v59.2h-1.4zM1519.4 2110.6h1.4v59.2h-1.4zM1470.3 2229.1h1.4v59.2h-1.4zM1478.7 2229.1h1.4v59.2h-1.4zM1491.3 2229.1h1.4v59.2h-1.4zM1499.8 2229.1h1.4v59.2h-1.4zM1504 2229.1h1.4v59.2h-1.4zM1523.6 2229.1h1.4v59.2h-1.4zM1526.4 2229.1h2.8v59.2h-2.8zM1530.6 2229.1h1.4v59.2h-1.4zM1470.3 2347.6h1.4v59.2h-1.4zM1474.5 2347.6h1.4v59.2h-1.4zM1484.3 2347.6h1.4v59.2h-1.4zM1491.3 2347.6h1.4v59.2h-1.4zM1502.6 2347.6h1.4v59.2h-1.4zM1513.8 2347.6h1.4v59.2h-1.4zM1519.4 2347.6h1.4v59.2h-1.4zM1527.8 2347.6h1.4v59.2h-1.4zM1530.6 2347.6h1.4v59.2h-1.4zM1470.3 2406.8h1.4v59.2h-1.4zM1478.7 2406.8h1.4v59.2h-1.4zM1482.9 2406.8h1.4v59.2h-1.4zM1487.1 2406.8h1.4v59.2h-1.4zM1496.9 2406.8h1.4v59.2h-1.4zM1499.8 2406.8h1.4v59.2h-1.4zM1509.6 2406.8h1.4v59.2h-1.4zM1515.2 2406.8h1.4v59.2h-1.4zM1556.9 2229.1h1.4v59.2h-1.4zM1559.7 2229.1h2.8v59.2h-2.8zM1566.7 2229.1h1.4v59.2h-1.4zM1569.6 2229.1h1.4v59.2h-1.4zM1572.4 2229.1h1.4v59.2h-1.4zM1547 2347.6h1.4v59.2h-1.4zM1551.2 2347.6h1.4v59.2h-1.4zM1562.5 2347.6h1.4v59.2h-1.4zM1566.7 2347.6h2.8v59.2h-2.8zM1548.4 2406.8h1.4v59.2h-1.4zM1555.5 2406.8h1.4v59.2h-1.4zM1592.4 2347.6h1.4v59.2h-1.4zM1607.8 2347.6h1.4v59.2h-1.4zM1612 2347.6h1.4v59.2h-1.4zM1616.2 2347.6h1.4v59.2h-1.4zM1620.4 2347.6h1.4v59.2h-1.4zM1605 2406.8h1.4v59.2h-1.4zM1609.2 2406.8h1.4v59.2h-1.4zM1620.4 2406.8h1.4v59.2h-1.4zM1647.2 2347.6h1.4v59.2h-1.4zM1649.9 2347.6h1.4v59.2h-1.4zM1654.1 2347.6h5.6v59.2h-5.6zM1640.2 2406.8h1.4v59.2h-1.4zM1644.4 2406.8h4.2v59.2h-4.2zM1649.9 2406.8h1.4v59.2h-1.4zM1661.1 2406.8h1.4v59.2h-1.4zM1709.4 2347.6h1.4v59.2h-1.4zM1699.3 2406.8h1.4v59.2h-1.4zM1703.6 2406.8h1.4v59.2h-1.4zM1706.5 2406.8h1.4v59.2h-1.4zM1737.5 2229.1h1.4v59.2h-1.4zM1727.7 2347.6h1.4v59.2h-1.4zM1734.7 2347.6h1.4v59.2h-1.4zM1741.6 2347.6h1.4v59.2h-1.4zM1769.4 2229.1h2.9v59.2h-2.9zM1775.1 2229.1h1.4v59.2h-1.4zM1780.9 2229.1h1.4v59.2h-1.4zM1786.6 2229.1h2.9v59.2h-2.9zM1762.3 2288.3h1.4v59.3h-1.4zM1779.4 2288.3h1.4v59.3h-1.4zM1822 2169.8h1.4v59.3h-1.4zM1830.3 2169.8h4.1v59.3h-4.1zM1820.6 2288.3h1.4v59.3h-1.4zM1853.5 2110.6h1.4v59.2h-1.4zM1863.4 2110.6h1.4v59.2h-1.4zM1850.6 2288.3h1.4v59.3h-1.4zM1867.6 2288.3h1.4v59.3h-1.4zM1962.4 2288.3h1.4v59.3h-1.4zM1972.3 2288.3h1.4v59.3h-1.4zM1904.6 2406.8h1.4v59.2h-1.4zM1969.5 2406.8h1.4v59.2h-1.4z" fill="#f07a7a" shape-rendering="crispEdges"/>
<path d="M1527.8 2110.6h1.4v59.2h-1.4zM1475.9 2229.1h1.4v59.2h-1.4zM1501.2 2229.1h1.4v59.2h-1.4zM1466.1 2347.6h1.4v59.2h-1.4zM1475.9 2347.6h1.4v59.2h-1.4zM1478.7 2347.6h1.4v59.2h-1.4zM1509.6 2347.6h1.4v59.2h-1.4zM1518 2347.6h1.4v59.2h-1.4zM1502.6 2406.8h2.8v59.2h-2.8zM1530.6 2406.8h1.4v59.2h-1.4zM1555.5 2347.6h1.4v59.2h-1.4zM1569.6 2347.6h1.4v59.2h-1.4zM1547 2406.8h1.4v59.2h-1.4zM1599.4 2229.1h1.4v59.2h-1.4zM1602.2 2229.1h1.4v59.2h-1.4zM1588.2 2347.6h1.4v59.2h-1.4zM1591 2347.6h1.4v59.2h-1.4zM1593.8 2347.6h2.8v59.2h-2.8zM1596.6 2406.8h1.4v59.2h-1.4zM1613.4 2406.8h1.4v59.2h-1.4zM1668 2229.1h1.4v59.2h-1.4zM1666.6 2347.6h1.4v59.2h-1.4zM1643 2406.8h1.4v59.2h-1.4zM1651.3 2406.8h1.4v59.2h-1.4zM1654.1 2406.8h2.8v59.2h-2.8zM1665.2 2406.8h2.8v59.2h-2.8zM1670.8 2406.8h1.4v59.2h-1.4zM1693.5 2229.1h1.4v59.2h-1.4zM1699.3 2347.6h1.4v59.2h-1.4zM1744.4 2110.6h1.4v59.2h-1.4zM1733.3 2347.6h1.4v59.2h-1.4zM1736.1 2347.6h1.4v59.2h-1.4zM1740.2 2347.6h1.4v59.2h-1.4zM1744.4 2347.6h1.4v59.2h-1.4zM1763.7 2229.1h1.4v59.2h-1.4zM1778 2229.1h1.4v59.2h-1.4zM1772.3 2288.3h1.4v59.3h-1.4zM1808.2 2169.8h6.9v59.3h-6.9zM1828.9 2169.8h1.4v59.3h-1.4zM1815.1 2347.6h1.4v59.2h-1.4zM1900.4 2288.3h1.4v59.3h-1.4zM1928.6 2288.3h1.4v59.3h-1.4zM1935.6 2288.3h1.4v59.3h-1.4zM1966.6 2288.3h1.4v59.3h-1.4zM1901.8 2406.8h1.4v59.2h-1.4zM1918.7 2406.8h1.4v59.2h-1.4zM1924.4 2406.8h1.4v59.2h-1.4zM1962.4 2406.8h1.4v59.2h-1.4z" fill="#f28f8f" shape-rendering="crispEdges"/>
<path d="M1466.1 2288.3h2.8v59.3h-2.8zM1485.7 2288.3h1.4v59.3h-1.4zM1489.9 2288.3h1.4v59.3h-1.4zM1508.2 2288.3h1.4v59.3h-1.4zM1512.4 2288.3h1.4v59.3h-1.4zM1548.4 2110.6h1.4v59.2h-1.4zM1555.5 2110.6h1.4v59.2h-1.4zM1562.5 2110.6h1.4v59.2h-1.4zM1566.7 2110.6h1.4v59.2h-1.4zM1569.6 2110.6h1.4v59.2h-1.4zM1547 2288.3h1.4v59.3h-1.4zM1551.2 2288.3h1.4v59.3h-1.4zM1559.7 2288.3h1.4v59.3h-1.4zM1562.5 2288.3h1.4v59.3h-1.4zM1592.4 2229.1h1.4v59.2h-1.4zM1589.6 2288.3h1.4v59.3h-1.4zM1595.2 2288.3h1.4v59.3h-1.4zM1607.8 2288.3h1.4v59.3h-1.4zM1652.7 2110.6h2.8v59.2h-2.8zM1663.9 2110.6h1.4v59.2h-1.4zM1669.4 2110.6h1.4v59.2h-1.4zM1651.3 2288.3h1.4v59.3h-1.4zM1656.9 2288.3h1.4v59.3h-1.4zM1662.5 2288.3h1.4v59.3h-1.4zM1670.8 2288.3h1.4v59.3h-1.4zM1699.3 2110.6h2.9v59.2h-2.9zM1705.1 2169.8h1.4v59.3h-1.4zM1693.5 2288.3h1.4v59.3h-1.4zM1697.9 2288.3h1.4v59.3h-1.4zM1709.4 2288.3h1.4v59.3h-1.4zM1738.8 2110.6h1.4v59.2h-1.4zM1730.5 2229.1h1.4v59.2h-1.4zM1733.3 2229.1h1.4v59.2h-1.4zM1727.7 2288.3h2.8v59.3h-2.8zM1731.9 2288.3h1.4v59.3h-1.4zM1743 2288.3h1.4v59.3h-1.4zM1741.6 2406.8h1.4v59.2h-1.4zM1762.3 2110.6h1.4v59.2h-1.4zM1769.4 2110.6h1.4v59.2h-1.4zM1772.3 2110.6h1.4v59.2h-1.4zM1780.9 2110.6h1.4v59.2h-1.4zM1765.2 2169.8h1.4v59.3h-1.4zM1773.7 2169.8h1.4v59.3h-1.4zM1780.9 2169.8h1.4v59.3h-1.4zM1786.6 2169.8h1.4v59.3h-1.4zM1770.9 2347.6h1.4v59.2h-1.4zM1778 2347.6h1.4v59.2h-1.4zM1789.4 2347.6h1.4v59.2h-1.4zM1762.3 2406.8h2.9v59.2h-2.9zM1770.9 2406.8h1.4v59.2h-1.4zM1776.6 2406.8h1.4v59.2h-1.4zM1779.4 2406.8h1.4v59.2h-1.4zM1782.3 2406.8h1.4v59.2h-1.4zM1808.2 2110.6h1.4v59.2h-1.4zM1815.1 2110.6h1.4v59.2h-1.4zM1817.9 2229.1h1.4v59.2h-1.4zM1826.1 2229.1h1.4v59.2h-1.4zM1830.3 2229.1h1.4v59.2h-1.4zM1823.4 2347.6h1.4v59.2h-1.4zM1830.3 2347.6h1.4v59.2h-1.4zM1819.2 2406.8h2.8v59.2h-2.8zM1823.4 2406.8h2.8v59.2h-2.8zM1830.3 2406.8h1.4v59.2h-1.4zM1863.4 2169.8h1.4v59.3h-1.4zM1871.9 2169.8h1.4v59.3h-1.4zM1876.1 2169.8h1.4v59.3h-1.4zM1849.2 2229.1h1.4v59.2h-1.4zM1871.9 2229.1h1.4v59.2h-1.4zM1850.6 2347.6h1.4v59.2h-1.4zM1884.6 2347.6h1.4v59.2h-1.4zM1856.3 2406.8h1.4v59.2h-1.4zM1861.9 2406.8h1.4v59.2h-1.4zM1866.2 2406.8h1.4v59.2h-1.4zM1869 2406.8h1.4v59.2h-1.4zM1883.2 2406.8h1.4v59.2h-1.4zM1915.9 2229.1h1.4v59.2h-1.4zM1920.1 2229.1h1.4v59.2h-1.4zM1924.4 2229.1h1.4v59.2h-1.4zM1927.2 2229.1h1.4v59.2h-1.4zM1930 2229.1h1.4v59.2h-1.4zM1949.7 2288.3h1.4v59.3h-1.4zM1970.9 2288.3h1.4v59.3h-1.4zM1900.4 2347.6h1.4v59.2h-1.4zM1941.3 2347.6h1.4v59.2h-1.4zM1945.5 2347.6h1.4v59.2h-1.4zM1952.5 2347.6h1.4v59.2h-1.4zM1961 2347.6h1.4v59.2h-1.4zM1968.1 2347.6h1.4v59.2h-1.4zM1900.4 2406.8h1.4v59.2h-1.4zM1914.5 2406.8h1.4v59.2h-1.4zM1921.5 2406.8h1.4v59.2h-1.4zM1938.5 2406.8h1.4v59.2h-1.4zM1951.1 2406.8h1.4v59.2h-1.4z" fill="#bab9d9" shape-rendering="crispEdges"/>
<path d="M1468.9 2288.3h1.4v59.3h-1.4zM1473.1 2288.3h1.4v59.3h-1.4zM1475.9 2288.3h1.4v59.3h-1.4zM1494.1 2288.3h1.4v59.3h-1.4zM1572.4 2110.6h1.4v59.2h-1.4zM1552.6 2288.3h1.4v59.3h-1.4zM1565.3 2288.3h1.4v59.3h-1.4zM1645.8 2110.6h2.8v59.2h-2.8zM1665.2 2110.6h1.4v59.2h-1.4zM1649.9 2288.3h1.4v59.3h-1.4zM1661.1 2288.3h1.4v59.3h-1.4zM1668 2288.3h2.8v59.3h-2.8zM1706.5 2110.6h1.4v59.2h-1.4zM1709.4 2110.6h2.9v59.2h-2.9zM1689.2 2169.8h1.4v59.3h-1.4zM1699.3 2229.1h1.4v59.2h-1.4zM1689.2 2288.3h1.4v59.3h-1.4zM1700.8 2288.3h1.4v59.3h-1.4zM1708 2288.3h1.4v59.3h-1.4zM1710.9 2288.3h1.4v59.3h-1.4zM1736.1 2229.1h1.4v59.2h-1.4zM1745.8 2229.1h1.4v59.2h-1.4zM1741.6 2288.3h1.4v59.3h-1.4zM1745.8 2288.3h1.4v59.3h-1.4zM1727.7 2406.8h1.4v59.2h-1.4zM1731.9 2406.8h1.4v59.2h-1.4zM1770.9 2110.6h1.4v59.2h-1.4zM1792.3 2110.6h1.4v59.2h-1.4zM1762.3 2169.8h1.4v59.3h-1.4zM1772.3 2169.8h1.4v59.3h-1.4zM1779.4 2169.8h1.4v59.3h-1.4zM1782.3 2169.8h1.4v59.3h-1.4zM1785.1 2169.8h1.4v59.3h-1.4zM1788 2169.8h2.9v59.3h-2.9zM1763.7 2347.6h1.4v59.2h-1.4zM1776.6 2347.6h1.4v59.2h-1.4zM1779.4 2347.6h1.4v59.2h-1.4zM1792.3 2347.6h1.4v59.2h-1.4zM1772.3 2406.8h1.4v59.2h-1.4zM1812.3 2110.6h1.4v59.2h-1.4zM1816.5 2110.6h1.4v59.2h-1.4zM1819.2 2110.6h1.4v59.2h-1.4zM1824.7 2110.6h2.8v59.2h-2.8zM1811 2229.1h1.4v59.2h-1.4zM1813.7 2229.1h1.4v59.2h-1.4zM1824.7 2229.1h1.4v59.2h-1.4zM1831.6 2229.1h1.4v59.2h-1.4zM1809.6 2347.6h1.4v59.2h-1.4zM1816.5 2406.8h1.4v59.2h-1.4zM1826.1 2406.8h1.4v59.2h-1.4zM1852 2169.8h2.8v59.3h-2.8zM1877.5 2169.8h4.2v59.3h-4.2zM1857.7 2229.1h1.4v59.2h-1.4zM1864.8 2229.1h1.4v59.2h-1.4zM1876.1 2229.1h1.4v59.2h-1.4zM1847.8 2347.6h1.4v59.2h-1.4zM1852 2347.6h1.4v59.2h-1.4zM1854.9 2347.6h1.4v59.2h-1.4zM1873.3 2347.6h2.8v59.2h-2.8zM1878.9 2347.6h1.4v59.2h-1.4zM1871.9 2406.8h2.8v59.2h-2.8zM1903.2 2229.1h1.4v59.2h-1.4zM1921.5 2229.1h1.4v59.2h-1.4zM1946.9 2229.1h1.4v59.2h-1.4zM1952.5 2229.1h1.4v59.2h-1.4zM1959.6 2229.1h1.4v59.2h-1.4zM1966.6 2229.1h1.4v59.2h-1.4zM1969.5 2229.1h1.4v59.2h-1.4zM1934.2 2288.3h1.4v59.3h-1.4zM1924.4 2347.6h1.4v59.2h-1.4zM1934.2 2406.8h1.4v59.2h-1.4z" fill="#a5a4ce" shape-rendering="crispEdges"/>
<path d="M1470.3 2288.3h1.4v59.3h-1.4zM1498.3 2288.3h1.4v59.3h-1.4zM1502.6 2288.3h1.4v59.3h-1.4zM1522.2 2288.3h1.4v59.3h-1.4zM1530.6 2288.3h1.4v59.3h-1.4zM1563.9 2110.6h1.4v59.2h-1.4zM1606.4 2288.3h1.4v59.3h-1.4zM1620.4 2288.3h1.4v59.3h-1.4zM1670.8 2110.6h1.4v59.2h-1.4zM1665.2 2288.3h1.4v59.3h-1.4zM1702.2 2110.6h1.4v59.2h-1.4zM1690.6 2169.8h1.4v59.3h-1.4zM1690.6 2288.3h1.4v59.3h-1.4zM1696.4 2288.3h1.4v59.3h-1.4zM1730.5 2288.3h1.4v59.3h-1.4zM1747.2 2288.3h1.4v59.3h-1.4zM1770.9 2169.8h1.4v59.3h-1.4zM1783.7 2169.8h1.4v59.3h-1.4zM1809.6 2229.1h1.4v59.2h-1.4zM1811 2347.6h1.4v59.2h-1.4zM1817.9 2406.8h1.4v59.2h-1.4zM1827.5 2406.8h1.4v59.2h-1.4zM1869 2169.8h1.4v59.3h-1.4zM1873.3 2169.8h1.4v59.3h-1.4zM1873.3 2229.1h1.4v59.2h-1.4zM1883.2 2229.1h1.4v59.2h-1.4zM1863.4 2347.6h1.4v59.2h-1.4zM1874.7 2406.8h1.4v59.2h-1.4zM1900.4 2229.1h1.4v59.2h-1.4zM1932.8 2229.1h1.4v59.2h-1.4zM1937 2229.1h2.8v59.2h-2.8zM1941.3 2229.1h1.4v59.2h-1.4zM1906 2347.6h1.4v59.2h-1.4z" fill="#6665ad" shape-rendering="crispEdges"/>
<path d="M1471.7 2288.3h1.4v59.3h-1.4zM1487.1 2288.3h1.4v59.3h-1.4zM1547 2110.6h1.4v59.2h-1.4zM1551.2 2110.6h2.8v59.2h-2.8zM1556.9 2110.6h1.4v59.2h-1.4zM1554.1 2288.3h1.4v59.3h-1.4zM1556.9 2288.3h2.8v59.3h-2.8zM1613.4 2229.1h1.4v59.2h-1.4zM1614.8 2288.3h1.4v59.3h-1.4zM1621.8 2288.3h1.4v59.3h-1.4zM1640.2 2110.6h1.4v59.2h-1.4zM1645.8 2229.1h1.4v59.2h-1.4zM1665.2 2229.1h1.4v59.2h-1.4zM1640.2 2288.3h1.4v59.3h-1.4zM1647.2 2288.3h1.4v59.3h-1.4zM1659.7 2288.3h1.4v59.3h-1.4zM1696.4 2169.8h1.4v59.3h-1.4zM1700.8 2169.8h1.4v59.3h-1.4zM1710.9 2169.8h1.4v59.3h-1.4zM1690.6 2229.1h1.4v59.2h-1.4zM1700.8 2229.1h2.9v59.2h-2.9zM1734.7 2110.6h2.8v59.2h-2.8zM1740.2 2110.6h4.2v59.2h-4.2zM1747.2 2110.6h1.4v59.2h-1.4zM1738.8 2229.1h1.4v59.2h-1.4zM1726.3 2288.3h1.4v59.3h-1.4zM1734.7 2288.3h1.4v59.3h-1.4zM1744.4 2288.3h1.4v59.3h-1.4zM1729.1 2406.8h1.4v59.2h-1.4zM1736.1 2406.8h1.4v59.2h-1.4zM1738.8 2406.8h1.4v59.2h-1.4zM1766.6 2110.6h1.4v59.2h-1.4zM1778 2110.6h1.4v59.2h-1.4zM1782.3 2110.6h1.4v59.2h-1.4zM1766.6 2169.8h1.4v59.3h-1.4zM1776.6 2169.8h1.4v59.3h-1.4zM1790.8 2169.8h1.4v59.3h-1.4zM1778 2288.3h1.4v59.3h-1.4zM1762.3 2347.6h1.4v59.2h-1.4zM1768 2347.6h1.4v59.2h-1.4zM1782.3 2347.6h1.4v59.2h-1.4zM1786.6 2347.6h1.4v59.2h-1.4zM1790.8 2347.6h1.4v59.2h-1.4zM1786.6 2406.8h2.9v59.2h-2.9zM1811 2110.6h1.4v59.2h-1.4zM1822 2229.1h1.4v59.2h-1.4zM1833 2229.1h1.4v59.2h-1.4zM1816.5 2347.6h1.4v59.2h-1.4zM1827.5 2347.6h1.4v59.2h-1.4zM1815.1 2406.8h1.4v59.2h-1.4zM1822 2406.8h1.4v59.2h-1.4zM1884.6 2169.8h1.4v59.3h-1.4zM1881.8 2229.1h1.4v59.2h-1.4zM1857.7 2347.6h1.4v59.2h-1.4zM1864.8 2347.6h1.4v59.2h-1.4zM1867.6 2347.6h1.4v59.2h-1.4zM1880.3 2347.6h1.4v59.2h-1.4zM1857.7 2406.8h1.4v59.2h-1.4zM1870.4 2406.8h1.4v59.2h-1.4zM1954 2229.1h1.4v59.2h-1.4zM1961 2229.1h1.4v59.2h-1.4zM1965.2 2229.1h1.4v59.2h-1.4zM1914.5 2288.3h1.4v59.3h-1.4zM1927.2 2288.3h1.4v59.3h-1.4zM1941.3 2288.3h1.4v59.3h-1.4zM1946.9 2288.3h1.4v59.3h-1.4zM1965.2 2288.3h1.4v59.3h-1.4zM1968.1 2288.3h1.4v59.3h-1.4zM1915.9 2347.6h1.4v59.2h-1.4zM1918.7 2347.6h1.4v59.2h-1.4zM1931.4 2347.6h1.4v59.2h-1.4zM1934.2 2347.6h1.4v59.2h-1.4zM1962.4 2347.6h2.8v59.2h-2.8zM1966.6 2347.6h1.4v59.2h-1.4zM1970.9 2347.6h4.2v59.2h-4.2zM1911.7 2406.8h2.8v59.2h-2.8zM1917.3 2406.8h1.4v59.2h-1.4zM1923 2406.8h1.4v59.2h-1.4zM1925.8 2406.8h2.8v59.2h-2.8zM1942.7 2406.8h5.6v59.2h-5.6zM1949.7 2406.8h1.4v59.2h-1.4zM1952.5 2406.8h1.4v59.2h-1.4zM1958.2 2406.8h1.4v59.2h-1.4zM1968.1 2406.8h1.4v59.2h-1.4zM1970.9 2406.8h2.8v59.2h-2.8z" fill="#faf8fa" shape-rendering="crispEdges"/>
<path d="M1474.5 2288.3h1.4v59.3h-1.4zM1477.3 2288.3h1.4v59.3h-1.4zM1495.5 2288.3h1.4v59.3h-1.4zM1501.2 2288.3h1.4v59.3h-1.4zM1511 2288.3h1.4v59.3h-1.4zM1519.4 2288.3h1.4v59.3h-1.4zM1523.6 2288.3h1.4v59.3h-1.4zM1571 2110.6h1.4v59.2h-1.4zM1561.1 2288.3h1.4v59.3h-1.4zM1572.4 2288.3h1.4v59.3h-1.4zM1591 2288.3h1.4v59.3h-1.4zM1593.8 2288.3h1.4v59.3h-1.4zM1649.9 2110.6h1.4v59.2h-1.4zM1661.1 2110.6h1.4v59.2h-1.4zM1658.3 2288.3h1.4v59.3h-1.4zM1695 2110.6h1.4v59.2h-1.4zM1737.5 2288.3h1.4v59.3h-1.4zM1740.2 2288.3h1.4v59.3h-1.4zM1776.6 2110.6h1.4v59.2h-1.4zM1763.7 2169.8h1.4v59.3h-1.4zM1769.4 2169.8h1.4v59.3h-1.4zM1773.7 2406.8h1.4v59.2h-1.4zM1809.6 2110.6h1.4v59.2h-1.4zM1847.8 2169.8h2.8v59.3h-2.8zM1867.6 2169.8h1.4v59.3h-1.4zM1870.4 2169.8h1.4v59.3h-1.4zM1883.2 2169.8h1.4v59.3h-1.4zM1847.8 2229.1h1.4v59.2h-1.4zM1852 2229.1h1.4v59.2h-1.4zM1854.9 2229.1h2.8v59.2h-2.8zM1856.3 2347.6h1.4v59.2h-1.4zM1867.6 2406.8h1.4v59.2h-1.4zM1877.5 2406.8h1.4v59.2h-1.4zM1911.7 2229.1h2.8v59.2h-2.8zM1923 2229.1h1.4v59.2h-1.4zM1935.6 2229.1h1.4v59.2h-1.4zM1944.1 2229.1h1.4v59.2h-1.4zM1970.9 2229.1h1.4v59.2h-1.4zM1959.6 2288.3h1.4v59.3h-1.4zM1910.3 2347.6h1.4v59.2h-1.4z" fill="#7b7ab8" shape-rendering="crispEdges"/>
<path d="M1478.7 2288.3h1.4v59.3h-1.4zM1481.5 2288.3h1.4v59.3h-1.4zM1492.7 2288.3h1.4v59.3h-1.4zM1509.6 2288.3h1.4v59.3h-1.4zM1513.8 2288.3h1.4v59.3h-1.4zM1516.6 2288.3h1.4v59.3h-1.4zM1529.2 2288.3h1.4v59.3h-1.4zM1599.4 2288.3h4.2v59.3h-4.2zM1605 2288.3h1.4v59.3h-1.4zM1613.4 2288.3h1.4v59.3h-1.4zM1670.8 2229.1h1.4v59.2h-1.4zM1641.6 2288.3h1.4v59.3h-1.4zM1652.7 2288.3h1.4v59.3h-1.4zM1663.9 2288.3h1.4v59.3h-1.4zM1692.1 2110.6h1.4v59.2h-1.4zM1696.4 2229.1h1.4v59.2h-1.4zM1703.6 2229.1h1.4v59.2h-1.4zM1706.5 2229.1h1.4v59.2h-1.4zM1692.1 2288.3h1.4v59.3h-1.4zM1703.6 2288.3h1.4v59.3h-1.4zM1727.7 2110.6h1.4v59.2h-1.4zM1733.3 2288.3h1.4v59.3h-1.4zM1736.1 2288.3h1.4v59.3h-1.4zM1733.3 2406.8h1.4v59.2h-1.4zM1743 2406.8h1.4v59.2h-1.4zM1747.2 2406.8h1.4v59.2h-1.4zM1773.7 2110.6h2.9v59.2h-2.9zM1769.4 2347.6h1.4v59.2h-1.4zM1772.3 2347.6h2.9v59.2h-2.9zM1780.9 2347.6h1.4v59.2h-1.4zM1813.7 2110.6h1.4v59.2h-1.4zM1820.6 2110.6h1.4v59.2h-1.4zM1828.9 2110.6h2.8v59.2h-2.8zM1833 2110.6h1.4v59.2h-1.4zM1808.2 2229.1h1.4v59.2h-1.4zM1815.1 2229.1h1.4v59.2h-1.4zM1819.2 2229.1h1.4v59.2h-1.4zM1819.2 2347.6h1.4v59.2h-1.4zM1822 2347.6h1.4v59.2h-1.4zM1826.1 2347.6h1.4v59.2h-1.4zM1813.7 2406.8h1.4v59.2h-1.4zM1828.9 2406.8h1.4v59.2h-1.4zM1831.6 2406.8h2.8v59.2h-2.8zM1866.2 2169.8h1.4v59.3h-1.4zM1866.2 2229.1h1.4v59.2h-1.4zM1870.4 2229.1h1.4v59.2h-1.4zM1880.3 2229.1h1.4v59.2h-1.4zM1861.9 2347.6h1.4v59.2h-1.4zM1869 2347.6h1.4v59.2h-1.4zM1877.5 2347.6h1.4v59.2h-1.4zM1883.2 2347.6h1.4v59.2h-1.4zM1850.6 2406.8h1.4v59.2h-1.4zM1853.5 2406.8h2.8v59.2h-2.8zM1860.5 2406.8h1.4v59.2h-1.4zM1878.9 2406.8h2.8v59.2h-2.8zM1904.6 2229.1h1.4v59.2h-1.4zM1918.7 2229.1h1.4v59.2h-1.4zM1931.4 2229.1h1.4v59.2h-1.4zM1934.2 2229.1h1.4v59.2h-1.4zM1939.9 2229.1h1.4v59.2h-1.4zM1948.3 2229.1h1.4v59.2h-1.4zM1955.4 2229.1h1.4v59.2h-1.4zM1968.1 2229.1h1.4v59.2h-1.4zM1972.3 2229.1h1.4v59.2h-1.4zM1911.7 2288.3h1.4v59.3h-1.4zM1938.5 2288.3h1.4v59.3h-1.4zM1945.5 2288.3h1.4v59.3h-1.4zM1958.2 2288.3h1.4v59.3h-1.4zM1961 2288.3h1.4v59.3h-1.4zM1923 2347.6h1.4v59.2h-1.4zM1930 2347.6h1.4v59.2h-1.4zM1935.6 2347.6h1.4v59.2h-1.4zM1949.7 2347.6h1.4v59.2h-1.4zM1956.8 2347.6h1.4v59.2h-1.4zM1930 2406.8h1.4v59.2h-1.4z" fill="#d0cee4" shape-rendering="crispEdges"/>
<path d="M1480.1 2288.3h1.4v59.3h-1.4zM1499.8 2288.3h1.4v59.3h-1.4zM1504 2288.3h1.4v59.3h-1.4zM1518 2288.3h1.4v59.3h-1.4zM1527.8 2288.3h1.4v59.3h-1.4zM1548.4 2288.3h1.4v59.3h-1.4zM1568.2 2288.3h1.4v59.3h-1.4zM1588.2 2288.3h1.4v59.3h-1.4zM1596.6 2288.3h2.8v59.3h-2.8zM1612 2288.3h1.4v59.3h-1.4zM1617.6 2288.3h1.4v59.3h-1.4zM1641.6 2110.6h1.4v59.2h-1.4zM1655.5 2110.6h4.2v59.2h-4.2zM1643 2288.3h2.8v59.3h-2.8zM1648.5 2288.3h1.4v59.3h-1.4zM1690.6 2110.6h1.4v59.2h-1.4zM1697.9 2110.6h1.4v59.2h-1.4zM1703.6 2110.6h2.9v59.2h-2.9zM1708 2110.6h1.4v59.2h-1.4zM1706.5 2288.3h1.4v59.3h-1.4zM1748.6 2288.3h1.4v59.3h-1.4zM1779.4 2110.6h1.4v59.2h-1.4zM1778 2169.8h1.4v59.3h-1.4zM1769.4 2406.8h1.4v59.2h-1.4zM1822 2110.6h2.8v59.2h-2.8zM1831.6 2110.6h1.4v59.2h-1.4zM1823.4 2229.1h1.4v59.2h-1.4zM1808.2 2406.8h2.8v59.2h-2.8zM1850.6 2169.8h1.4v59.3h-1.4zM1850.6 2229.1h1.4v59.2h-1.4zM1853.5 2229.1h1.4v59.2h-1.4zM1863.4 2229.1h1.4v59.2h-1.4zM1867.6 2229.1h1.4v59.2h-1.4zM1878.9 2229.1h1.4v59.2h-1.4zM1870.4 2347.6h1.4v59.2h-1.4zM1876.1 2347.6h1.4v59.2h-1.4zM1847.8 2406.8h2.8v59.2h-2.8zM1852 2406.8h1.4v59.2h-1.4zM1864.8 2406.8h1.4v59.2h-1.4zM1906 2229.1h1.4v59.2h-1.4zM1917.3 2229.1h1.4v59.2h-1.4zM1956.8 2229.1h2.8v59.2h-2.8zM1963.8 2229.1h1.4v59.2h-1.4zM1973.7 2229.1h1.4v59.2h-1.4zM1923 2288.3h1.4v59.3h-1.4zM1944.1 2288.3h1.4v59.3h-1.4zM1952.5 2288.3h1.4v59.3h-1.4zM1946.9 2347.6h2.8v59.2h-2.8zM1959.6 2347.6h1.4v59.2h-1.4z" fill="#908fc3" shape-rendering="crispEdges"/>
<path d="M1482.9 2288.3h1.4v59.3h-1.4zM1488.5 2288.3h1.4v59.3h-1.4zM1491.3 2288.3h1.4v59.3h-1.4zM1496.9 2288.3h1.4v59.3h-1.4zM1505.4 2288.3h2.8v59.3h-2.8zM1526.4 2288.3h1.4v59.3h-1.4zM1565.3 2110.6h1.4v59.2h-1.4zM1568.2 2110.6h1.4v59.2h-1.4zM1555.5 2288.3h1.4v59.3h-1.4zM1563.9 2288.3h1.4v59.3h-1.4zM1596.6 2229.1h1.4v59.2h-1.4zM1621.8 2229.1h1.4v59.2h-1.4zM1610.6 2288.3h1.4v59.3h-1.4zM1662.5 2110.6h1.4v59.2h-1.4zM1640.2 2229.1h1.4v59.2h-1.4zM1655.5 2229.1h1.4v59.2h-1.4zM1661.1 2229.1h1.4v59.2h-1.4zM1666.6 2229.1h1.4v59.2h-1.4zM1702.2 2169.8h1.4v59.3h-1.4zM1706.5 2169.8h1.4v59.3h-1.4zM1695 2288.3h1.4v59.3h-1.4zM1727.7 2229.1h1.4v59.2h-1.4zM1734.7 2229.1h1.4v59.2h-1.4zM1740.2 2229.1h1.4v59.2h-1.4zM1747.2 2229.1h2.8v59.2h-2.8zM1783.7 2110.6h2.9v59.2h-2.9zM1789.4 2110.6h1.4v59.2h-1.4zM1792.3 2169.8h1.4v59.3h-1.4zM1783.7 2347.6h2.9v59.2h-2.9zM1765.2 2406.8h1.4v59.2h-1.4zM1775.1 2406.8h1.4v59.2h-1.4zM1778 2406.8h1.4v59.2h-1.4zM1785.1 2406.8h1.4v59.2h-1.4zM1827.5 2110.6h1.4v59.2h-1.4zM1812.3 2229.1h1.4v59.2h-1.4zM1816.5 2229.1h1.4v59.2h-1.4zM1820.6 2229.1h1.4v59.2h-1.4zM1808.2 2347.6h1.4v59.2h-1.4zM1812.3 2347.6h2.8v59.2h-2.8zM1817.9 2347.6h1.4v59.2h-1.4zM1824.7 2347.6h1.4v59.2h-1.4zM1831.6 2347.6h1.4v59.2h-1.4zM1854.9 2169.8h2.8v59.3h-2.8zM1864.8 2169.8h1.4v59.3h-1.4zM1859.1 2229.1h2.8v59.2h-2.8zM1853.5 2347.6h1.4v59.2h-1.4zM1859.1 2347.6h1.4v59.2h-1.4zM1876.1 2406.8h1.4v59.2h-1.4zM1881.8 2406.8h1.4v59.2h-1.4zM1884.6 2406.8h1.4v59.2h-1.4zM1910.3 2229.1h1.4v59.2h-1.4zM1942.7 2229.1h1.4v59.2h-1.4zM1907.4 2347.6h1.4v59.2h-1.4zM1913.1 2347.6h1.4v59.2h-1.4zM1938.5 2347.6h2.8v59.2h-2.8zM1944.1 2347.6h1.4v59.2h-1.4zM1955.4 2347.6h1.4v59.2h-1.4zM1910.3 2406.8h1.4v59.2h-1.4zM1932.8 2406.8h1.4v59.2h-1.4zM1956.8 2406.8h1.4v59.2h-1.4z" fill="#e5e3ef" shape-rendering="crispEdges"/>
<path d="M1484.3 2288.3h1.4v59.3h-1.4zM1554.1 2110.6h1.4v59.2h-1.4zM1571 2288.3h1.4v59.3h-1.4zM1654.1 2288.3h1.4v59.3h-1.4zM1689.2 2110.6h1.4v59.2h-1.4zM1702.2 2288.3h1.4v59.3h-1.4zM1705.1 2288.3h1.4v59.3h-1.4zM1817.9 2110.6h1.4v59.2h-1.4zM1811 2406.8h1.4v59.2h-1.4zM1861.9 2169.8h1.4v59.3h-1.4zM1874.7 2169.8h1.4v59.3h-1.4zM1861.9 2229.1h1.4v59.2h-1.4zM1869 2229.1h1.4v59.2h-1.4zM1908.9 2229.1h1.4v59.2h-1.4zM1914.5 2229.1h1.4v59.2h-1.4zM1949.7 2229.1h2.8v59.2h-2.8z" fill="#5050a2" shape-rendering="crispEdges"/>
<path d="M1515.2 2288.3h1.4v59.3h-1.4zM1592.4 2288.3h1.4v59.3h-1.4zM1616.2 2288.3h1.4v59.3h-1.4zM1655.5 2288.3h1.4v59.3h-1.4zM1696.4 2110.6h1.4v59.2h-1.4zM1874.7 2229.1h1.4v59.2h-1.4zM1863.4 2406.8h1.4v59.2h-1.4zM1907.4 2229.1h1.4v59.2h-1.4zM1945.5 2229.1h1.4v59.2h-1.4zM1958.2 2347.6h1.4v59.2h-1.4z" fill="#26268c" shape-rendering="crispEdges"/>
<path d="M1520.8 2288.3h1.4v59.3h-1.4zM1566.7 2288.3h1.4v59.3h-1.4zM1569.6 2288.3h1.4v59.3h-1.4zM1609.2 2288.3h1.4v59.3h-1.4zM1666.6 2110.6h1.4v59.2h-1.4zM1666.6 2288.3h1.4v59.3h-1.4zM1699.3 2288.3h1.4v59.3h-1.4zM1738.8 2288.3h1.4v59.3h-1.4zM1763.7 2110.6h1.4v59.2h-1.4zM1812.3 2406.8h1.4v59.2h-1.4zM1877.5 2229.1h1.4v59.2h-1.4z" fill="#3b3b97" shape-rendering="crispEdges"/>
<path d="M1525 2288.3h1.4v59.3h-1.4zM1561.1 2110.6h1.4v59.2h-1.4zM1549.8 2288.3h1.4v59.3h-1.4zM1609.2 2229.1h1.4v59.2h-1.4zM1617.6 2229.1h1.4v59.2h-1.4zM1619 2288.3h1.4v59.3h-1.4zM1643 2110.6h2.8v59.2h-2.8zM1651.3 2110.6h1.4v59.2h-1.4zM1641.6 2229.1h1.4v59.2h-1.4zM1644.4 2229.1h1.4v59.2h-1.4zM1647.2 2229.1h1.4v59.2h-1.4zM1651.3 2229.1h1.4v59.2h-1.4zM1693.5 2110.6h1.4v59.2h-1.4zM1697.9 2169.8h1.4v59.3h-1.4zM1689.2 2229.1h1.4v59.2h-1.4zM1692.1 2229.1h1.4v59.2h-1.4zM1697.9 2229.1h1.4v59.2h-1.4zM1726.3 2110.6h1.4v59.2h-1.4zM1729.1 2110.6h1.4v59.2h-1.4zM1733.3 2110.6h1.4v59.2h-1.4zM1737.5 2110.6h1.4v59.2h-1.4zM1745.8 2110.6h1.4v59.2h-1.4zM1743 2229.1h1.4v59.2h-1.4zM1745.8 2347.6h1.4v59.2h-1.4zM1726.3 2406.8h1.4v59.2h-1.4zM1745.8 2406.8h1.4v59.2h-1.4zM1748.6 2406.8h1.4v59.2h-1.4zM1765.2 2110.6h1.4v59.2h-1.4zM1786.6 2110.6h2.9v59.2h-2.9zM1775.1 2347.6h1.4v59.2h-1.4zM1766.6 2406.8h1.4v59.2h-1.4zM1789.4 2406.8h2.9v59.2h-2.9zM1823.4 2169.8h1.4v59.3h-1.4zM1827.5 2229.1h1.4v59.2h-1.4zM1828.9 2347.6h1.4v59.2h-1.4zM1857.7 2169.8h4.2v59.3h-4.2zM1881.8 2169.8h1.4v59.3h-1.4zM1866.2 2347.6h1.4v59.2h-1.4zM1871.9 2347.6h1.4v59.2h-1.4zM1906 2288.3h2.8v59.3h-2.8zM1915.9 2288.3h1.4v59.3h-1.4zM1918.7 2288.3h1.4v59.3h-1.4zM1939.9 2288.3h1.4v59.3h-1.4zM1955.4 2288.3h1.4v59.3h-1.4zM1963.8 2288.3h1.4v59.3h-1.4zM1908.9 2347.6h1.4v59.2h-1.4zM1911.7 2347.6h1.4v59.2h-1.4zM1914.5 2347.6h1.4v59.2h-1.4zM1917.3 2347.6h1.4v59.2h-1.4zM1937 2347.6h1.4v59.2h-1.4zM1951.1 2347.6h1.4v59.2h-1.4zM1920.1 2406.8h1.4v59.2h-1.4zM1931.4 2406.8h1.4v59.2h-1.4zM1939.9 2406.8h1.4v59.2h-1.4zM1948.3 2406.8h1.4v59.2h-1.4zM1965.2 2406.8h1.4v59.2h-1.4z" fill="#f8e3e5" shape-rendering="crispEdges"/>
<path d="M1505.4 2347.6h1.4v59.2h-1.4zM1527.8 2406.8h1.4v59.2h-1.4zM1558.3 2110.6h1.4v59.2h-1.4zM1548.4 2229.1h1.4v59.2h-1.4zM1568.2 2229.1h1.4v59.2h-1.4zM1571 2347.6h1.4v59.2h-1.4zM1568.2 2406.8h1.4v59.2h-1.4zM1571 2406.8h1.4v59.2h-1.4zM1591 2229.1h1.4v59.2h-1.4zM1595.2 2229.1h1.4v59.2h-1.4zM1603.6 2229.1h1.4v59.2h-1.4zM1606.4 2229.1h1.4v59.2h-1.4zM1610.6 2229.1h1.4v59.2h-1.4zM1648.5 2110.6h1.4v59.2h-1.4zM1668 2110.6h1.4v59.2h-1.4zM1658.3 2229.1h2.8v59.2h-2.8zM1662.5 2229.1h1.4v59.2h-1.4zM1669.4 2229.1h1.4v59.2h-1.4zM1665.2 2347.6h1.4v59.2h-1.4zM1693.5 2169.8h1.4v59.3h-1.4zM1709.4 2169.8h1.4v59.3h-1.4zM1710.9 2229.1h1.4v59.2h-1.4zM1731.9 2110.6h1.4v59.2h-1.4zM1726.3 2229.1h1.4v59.2h-1.4zM1729.1 2229.1h1.4v59.2h-1.4zM1790.8 2110.6h1.4v59.2h-1.4zM1770.9 2288.3h1.4v59.3h-1.4zM1790.8 2288.3h1.4v59.3h-1.4zM1816.5 2169.8h4.1v59.3h-4.1zM1820.6 2347.6h1.4v59.2h-1.4zM1908.9 2288.3h1.4v59.3h-1.4zM1942.7 2288.3h1.4v59.3h-1.4zM1951.1 2288.3h1.4v59.3h-1.4zM1901.8 2347.6h1.4v59.2h-1.4zM1927.2 2347.6h2.8v59.2h-2.8zM1965.2 2347.6h1.4v59.2h-1.4zM1906 2406.8h1.4v59.2h-1.4zM1954 2406.8h1.4v59.2h-1.4zM1963.8 2406.8h1.4v59.2h-1.4z" fill="#f4a4a4" shape-rendering="crispEdges"/>
<path d="M1549.8 2110.6h1.4v59.2h-1.4zM1559.7 2110.6h1.4v59.2h-1.4zM1554.1 2229.1h1.4v59.2h-1.4zM1571 2229.1h1.4v59.2h-1.4zM1588.2 2229.1h2.8v59.2h-2.8zM1612 2229.1h1.4v59.2h-1.4zM1614.8 2229.1h2.8v59.2h-2.8zM1659.7 2110.6h1.4v59.2h-1.4zM1648.5 2229.1h2.8v59.2h-2.8zM1654.1 2229.1h1.4v59.2h-1.4zM1656.9 2229.1h1.4v59.2h-1.4zM1692.1 2169.8h1.4v59.3h-1.4zM1709.4 2229.1h1.4v59.2h-1.4zM1744.4 2229.1h1.4v59.2h-1.4zM1768 2110.6h1.4v59.2h-1.4zM1763.7 2288.3h1.4v59.3h-1.4zM1783.7 2406.8h1.4v59.2h-1.4zM1792.3 2406.8h1.4v59.2h-1.4zM1881.8 2347.6h1.4v59.2h-1.4zM1928.6 2229.1h1.4v59.2h-1.4zM1962.4 2229.1h1.4v59.2h-1.4zM1901.8 2288.3h1.4v59.3h-1.4zM1904.6 2288.3h1.4v59.3h-1.4zM1924.4 2288.3h1.4v59.3h-1.4zM1930 2288.3h1.4v59.3h-1.4zM1932.8 2288.3h1.4v59.3h-1.4zM1937 2288.3h1.4v59.3h-1.4zM1948.3 2288.3h1.4v59.3h-1.4zM1954 2288.3h1.4v59.3h-1.4zM1956.8 2288.3h1.4v59.3h-1.4zM1942.7 2347.6h1.4v59.2h-1.4zM1954 2347.6h1.4v59.2h-1.4zM1908.9 2406.8h1.4v59.2h-1.4zM1928.6 2406.8h1.4v59.2h-1.4zM1937 2406.8h1.4v59.2h-1.4zM1941.3 2406.8h1.4v59.2h-1.4zM1959.6 2406.8h1.4v59.2h-1.4zM1966.6 2406.8h1.4v59.2h-1.4z" fill="#f5b9ba" shape-rendering="crispEdges"/>
<path d="M1593.8 2229.1h1.4v59.2h-1.4zM1598 2229.1h1.4v59.2h-1.4zM1600.8 2229.1h1.4v59.2h-1.4zM1605 2229.1h1.4v59.2h-1.4zM1607.8 2229.1h1.4v59.2h-1.4zM1619 2229.1h2.8v59.2h-2.8zM1603.6 2288.3h1.4v59.3h-1.4zM1643 2229.1h1.4v59.2h-1.4zM1652.7 2229.1h1.4v59.2h-1.4zM1663.9 2229.1h1.4v59.2h-1.4zM1645.8 2288.3h1.4v59.3h-1.4zM1695 2169.8h1.4v59.3h-1.4zM1699.3 2169.8h1.4v59.3h-1.4zM1703.6 2169.8h1.4v59.3h-1.4zM1708 2169.8h1.4v59.3h-1.4zM1695 2229.1h1.4v59.2h-1.4zM1705.1 2229.1h1.4v59.2h-1.4zM1708 2229.1h1.4v59.2h-1.4zM1730.5 2110.6h1.4v59.2h-1.4zM1748.6 2110.6h1.4v59.2h-1.4zM1731.9 2229.1h1.4v59.2h-1.4zM1741.6 2229.1h1.4v59.2h-1.4zM1730.5 2406.8h1.4v59.2h-1.4zM1734.7 2406.8h1.4v59.2h-1.4zM1737.5 2406.8h1.4v59.2h-1.4zM1740.2 2406.8h1.4v59.2h-1.4zM1744.4 2406.8h1.4v59.2h-1.4zM1768 2169.8h1.4v59.3h-1.4zM1775.1 2169.8h1.4v59.3h-1.4zM1765.2 2347.6h2.9v59.2h-2.9zM1788 2347.6h1.4v59.2h-1.4zM1768 2406.8h1.4v59.2h-1.4zM1780.9 2406.8h1.4v59.2h-1.4zM1828.9 2229.1h1.4v59.2h-1.4zM1833 2347.6h1.4v59.2h-1.4zM1884.6 2229.1h1.4v59.2h-1.4zM1849.2 2347.6h1.4v59.2h-1.4zM1860.5 2347.6h1.4v59.2h-1.4zM1859.1 2406.8h1.4v59.2h-1.4zM1901.8 2229.1h1.4v59.2h-1.4zM1925.8 2229.1h1.4v59.2h-1.4zM1903.2 2288.3h1.4v59.3h-1.4zM1913.1 2288.3h1.4v59.3h-1.4zM1917.3 2288.3h1.4v59.3h-1.4zM1920.1 2288.3h1.4v59.3h-1.4zM1931.4 2288.3h1.4v59.3h-1.4zM1969.5 2288.3h1.4v59.3h-1.4zM1903.2 2347.6h1.4v59.2h-1.4zM1920.1 2347.6h2.8v59.2h-2.8zM1932.8 2347.6h1.4v59.2h-1.4zM1903.2 2406.8h1.4v59.2h-1.4zM1907.4 2406.8h1.4v59.2h-1.4zM1915.9 2406.8h1.4v59.2h-1.4zM1935.6 2406.8h1.4v59.2h-1.4zM1955.4 2406.8h1.4v59.2h-1.4zM1961 2406.8h1.4v59.2h-1.4zM1973.7 2406.8h1.4v59.2h-1.4z" fill="#f7cecf" shape-rendering="crispEdges"/>
<rect x="1466.1" y="2110.6" width="65.9" height="355.4" fill="none" stroke="#000" stroke-width="2" />
<rect x="1547" y="2110.6" width="26.8" height="355.4" fill="none" stroke="#000" stroke-width="2" />
<rect x="1588.2" y="2110.6" width="35" height="355.4" fill="none" stroke="#000" stroke-width="2" />
<rect x="1640.2" y="2110.6" width="32" height="355.4" fill="none" stroke="#000" stroke-width="2" />
<rect x="1689.2" y="2110.6" width="23.1" height="355.4" fill="none" stroke="#000" stroke-width="2" />
<rect x="1726.3" y="2110.6" width="23.7" height="355.4" fill="none" stroke="#000" stroke-width="2" />
<rect x="1762.3" y="2110.6" width="31.4" height="355.4" fill="none" stroke="#000" stroke-width="2" />
<rect x="1808.2" y="2110.6" width="26.2" height="355.4" fill="none" stroke="#000" stroke-width="2" />
<rect x="1847.8" y="2110.6" width="38.2" height="355.4" fill="none" stroke="#000" stroke-width="2" />
<rect x="1900.4" y="2110.6" width="74.7" height="355.4" fill="none" stroke="#000" stroke-width="2" />
<rect x="1441.4" y="2110.6" width="17" height="59.2" fill="#5ab4e4" />
<rect x="1441.4" y="2169.8" width="17" height="59.3" fill="#3d56a6" />
<rect x="1441.4" y="2229.1" width="17" height="59.2" fill="#eeb23a" />
<rect x="1441.4" y="2288.3" width="17" height="59.3" fill="#e3262b" />
<rect x="1441.4" y="2347.6" width="17" height="59.2" fill="#40b350" />
<rect x="1441.4" y="2406.8" width="17" height="59.2" fill="#6d6e70" />
<line x1="1441.4" y1="2169.8" x2="1458.4" y2="2169.8" stroke="#222" stroke-width="1" />
<line x1="1441.4" y1="2229.1" x2="1458.4" y2="2229.1" stroke="#222" stroke-width="1" />
<line x1="1441.4" y1="2288.3" x2="1458.4" y2="2288.3" stroke="#222" stroke-width="1" />
<line x1="1441.4" y1="2347.6" x2="1458.4" y2="2347.6" stroke="#222" stroke-width="1" />
<line x1="1441.4" y1="2406.8" x2="1458.4" y2="2406.8" stroke="#222" stroke-width="1" />
<rect x="1441.4" y="2110.6" width="17" height="355.4" fill="none" stroke="#000" stroke-width="2" />
<text transform="translate(1437 2146.2) rotate(-40)" font-size="26.2" text-anchor="end">Neurons</text>
<text transform="translate(1437 2205.4) rotate(-40)" font-size="26.2" text-anchor="end">Neural Prog.</text>
<text transform="translate(1437 2264.7) rotate(-40)" font-size="26.2" text-anchor="end">Endoderm Prog.</text>
<text transform="translate(1437 2323.9) rotate(-40)" font-size="26.2" text-anchor="end">Mesoderm Prog.</text>
<text transform="translate(1437 2383.2) rotate(-40)" font-size="26.2" text-anchor="end">Primed ES Cells</text>
<text transform="translate(1437 2442.4) rotate(-40)" font-size="26.2" text-anchor="end">Naive ES Cells</text>
<text transform="translate(1500.2 2480.4) rotate(-45)" font-size="26.4" text-anchor="end">Cluster VIII: 619 genes</text>
<text transform="translate(1564.6 2480.4) rotate(-45)" font-size="26.4" text-anchor="end">Cluster IX: 251 genes</text>
<text transform="translate(1609.9 2480.4) rotate(-45)" font-size="26.4" text-anchor="end">Cluster X: 326 genes</text>
<text transform="translate(1665 2480.4) rotate(-45)" font-size="26.4" text-anchor="end">Cluster XI: 291 genes</text>
<text transform="translate(1707.8 2480.4) rotate(-45)" font-size="26.4" text-anchor="end">Cluster XII: 209 genes</text>
<text transform="translate(1747.5 2480.4) rotate(-45)" font-size="26.4" text-anchor="end">Cluster XIII: 221 genes</text>
<text transform="translate(1787.2 2480.4) rotate(-45)" font-size="26.4" text-anchor="end">Cluster XIV: 286 genes</text>
<text transform="translate(1829.9 2480.4) rotate(-45)" font-size="26.4" text-anchor="end">Cluster XV: 244 genes</text>
<text transform="translate(1878.8 2480.4) rotate(-45)" font-size="26.4" text-anchor="end">Cluster XVI: 342 genes</text>
<text transform="translate(1948.4 2480.4) rotate(-45)" font-size="26.4" text-anchor="end">Cluster XVII: 701 genes</text>
<rect x="1992.6" y="2394.4" width="16" height="72.2" fill="url(#jg)" stroke="#000" stroke-width="1.6" />
<text x="1992.6" y="2380" font-size="17.8">Log2FC</text>
<text x="2016" y="2405" font-size="19">1</text>
<text x="2016" y="2433" font-size="19">0</text>
<text x="2016" y="2469" font-size="19">−1</text></svg></body></html>
